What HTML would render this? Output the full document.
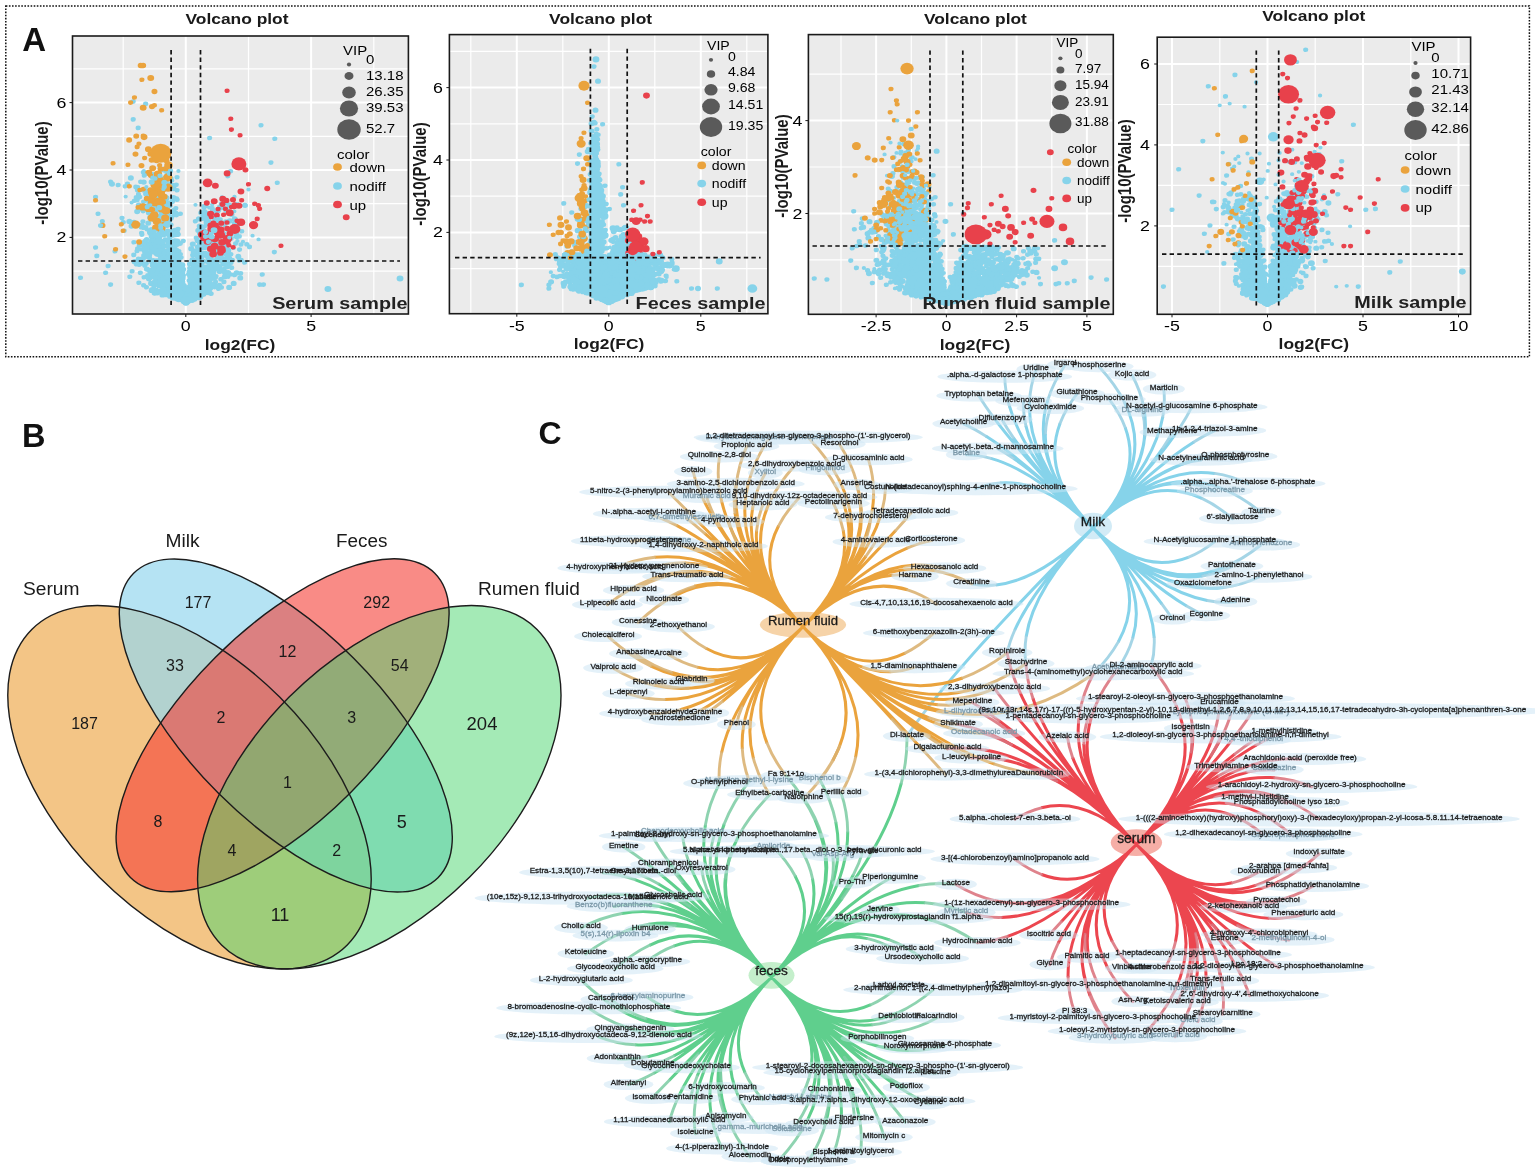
<!DOCTYPE html>
<html lang="en"><head><meta charset="utf-8"><title>Figure</title>
<style>
html,body{margin:0;padding:0;background:#fff}
body{width:1535px;height:1175px;overflow:hidden}
svg{display:block;font-family:"Liberation Sans",Arial,sans-serif}
</style></head><body>
<svg width="1535" height="1175" viewBox="0 0 1535 1175">
<rect width="1535" height="1175" fill="#fff"/>
<rect x="5.8" y="5.9" width="1523.6" height="350.9" fill="none" stroke="#111" stroke-width="1.5" stroke-dasharray="1.6 1.5"/>
<g>
<rect x="72.5" y="36" width="335.9" height="278" fill="#ebebeb"/>
<line x1="123.2" x2="123.2" y1="36" y2="314" stroke="#fff" stroke-width="1.2"/>
<line x1="248.5" x2="248.5" y1="36" y2="314" stroke="#fff" stroke-width="1.2"/>
<line x1="373.8" x2="373.8" y1="36" y2="314" stroke="#fff" stroke-width="1.2"/>
<line x1="72.5" x2="408.4" y1="271.1" y2="271.1" stroke="#fff" stroke-width="1.2"/>
<line x1="72.5" x2="408.4" y1="203.7" y2="203.7" stroke="#fff" stroke-width="1.2"/>
<line x1="72.5" x2="408.4" y1="136.3" y2="136.3" stroke="#fff" stroke-width="1.2"/>
<line x1="72.5" x2="408.4" y1="68.9" y2="68.9" stroke="#fff" stroke-width="1.2"/>
<line x1="185.8" x2="185.8" y1="36" y2="314" stroke="#fff" stroke-width="2"/>
<line x1="311.1" x2="311.1" y1="36" y2="314" stroke="#fff" stroke-width="2"/>
<line x1="72.5" x2="408.4" y1="237.4" y2="237.4" stroke="#fff" stroke-width="2"/>
<line x1="72.5" x2="408.4" y1="170" y2="170" stroke="#fff" stroke-width="2"/>
<line x1="72.5" x2="408.4" y1="102.6" y2="102.6" stroke="#fff" stroke-width="2"/>
<g stroke="#86d3ea" stroke-linecap="round" fill="none" transform="scale(1.13 1)">
<path stroke-width="3.8" d="M137.3 244.2h0M166.8 288h0M150.3 278.3h0M163.1 295.9h0M161.4 293h0M192 259.7h0M152.5 253.1h0M175.3 294.5h0M192.5 211.6h0M134 239.1h0M154.8 283.9h0M180.7 294.4h0M148.7 207.9h0M154.9 294.3h0M159.9 294.5h0M175.3 289.6h0M151.1 282.6h0M153.1 292.1h0M182.8 206.3h0M202.1 244.8h0M159.8 295.3h0M142.3 255.3h0M154 279.4h0M150.9 270.5h0M124.5 227.5h0M157.7 283.9h0M193 255.7h0M151.7 288.9h0M162.8 292.4h0M167.8 290.5h0M171.9 280.6h0M153.3 293.6h0M187.8 269.8h0M171 292.8h0M148.1 215.7h0M129.3 190.2h0M182.8 218.9h0M164 301.1h0M170.4 293h0M168.7 293.8h0M184.4 273.2h0M141.7 237.4h0M160.8 293.4h0M137.5 283.6h0M157.9 171h0M170.3 293.4h0M180.3 276.2h0M153.3 278.6h0M170 291.7h0M189.2 244.1h0M142.3 196.2h0M148.4 280.4h0M166.1 301h0M161.9 292h0M129.4 205.5h0M187.1 264.8h0M180.5 273.5h0M139.9 255.2h0M172.2 296.3h0M173.1 287.3h0M160.4 280.9h0M162.3 299.6h0M172.7 289.7h0M147.7 269.4h0M160.2 268h0M185.9 260.5h0M228.8 239.4h0M210.1 240.9h0M189.8 219.1h0M176.7 283.3h0M151 253.7h0M202 277.1h0M189.9 244.5h0M152.4 180.6h0M141.8 268.3h0M187.1 237.5h0M152.8 292.6h0M182.6 266.5h0M133.3 240.6h0M191.8 264.8h0M173.1 261.9h0M141.7 275.8h0M173.5 295h0M161.9 291.3h0M159.7 296.7h0M133.9 289.2h0M150.7 274.9h0M145.5 240h0M140 247h0M159.9 292.7h0M167.6 296h0M149.9 238.5h0M179.2 267.2h0M165.8 298.5h0M157.6 285.7h0M185.3 207.7h0M196 278.6h0M188.1 207.7h0M177.3 284.7h0M146.9 268.5h0M146.3 266.5h0M168.8 296.9h0M184 259.6h0M160.3 288.4h0M136.6 219.4h0M150.2 246.2h0M127.7 252.4h0M156 295.5h0M166.1 299.5h0M171.3 297.8h0M161.7 298.5h0M152.6 291h0M158.5 272.5h0M181.5 226.3h0M140.9 254.5h0M156.5 287.8h0M148.7 277.6h0M111.2 196.6h0M153.7 253.4h0M144.2 287h0M160.9 293.6h0M162.1 299.1h0M166.5 300.4h0M143.3 264.6h0M168.8 298.7h0M152.7 277.7h0M158.6 242.8h0M166.2 299.9h0M154.8 293.1h0M160 295.5h0M167.8 299.1h0M172.6 280.6h0M152 258.9h0M144.2 266h0M153 259h0M161.1 294.2h0M179.2 278.2h0M185.6 268.9h0M182.4 241.1h0M157.8 250.8h0M142.9 289.8h0M153.1 278.7h0M181.8 293.5h0M149.6 277.8h0M167.4 288.1h0M147.7 199.4h0M207.4 211.3h0M177.8 290h0M175 260.2h0M146 288.3h0M189.5 269.7h0M168.2 281.2h0M198.5 268.2h0M160.4 289.1h0M171.1 287.3h0M147.7 271.8h0M173 282.9h0M177.7 235h0M162.2 298.1h0M179.3 215.4h0M141.1 290.8h0M180 276.4h0M177 272.5h0M143.4 292.9h0M169.8 274.8h0M166.6 296.9h0M172.6 299.8h0M163.3 301.9h0M157.9 287.9h0M173.7 273.5h0M134.8 214.7h0M176.8 279.4h0M205.1 234.2h0M162.9 299h0M152.2 292.7h0M162.5 300.6h0M177.9 281.8h0M157.2 280h0M173.2 280.1h0M161.9 300.7h0M164.2 298.4h0M147.2 279h0M168 298h0M152.9 293.9h0M175.5 279.9h0M166.8 293.2h0M146.4 292.4h0M141.3 167.9h0M138.3 184h0M116.5 202.6h0M127.3 170.8h0M138.2 214.1h0M143.6 213.4h0M122.2 187h0M142.5 179.6h0M140.1 180h0M126.4 228.1h0M135.1 155.4h0M135.9 219h0M128.9 228.1h0M139.6 155.2h0M129.8 229.6h0M132.5 203.4h0M194.2 245.6h0M215 241.7h0M223.5 235.7h0M206.7 248.2h0M196.4 197.1h0M213 191.6h0M173 204.8h0M187.7 204.6h0M207.5 196.7h0M198.9 225.7h0M196.5 208.1h0M202 222.9h0"/>
<path stroke-width="4.6" d="M213 273.4h0M179.4 289.6h0M154.7 285.8h0M213.3 244.5h0M142.3 285.5h0M153.9 261.7h0M162.9 285.4h0M165.5 294.1h0M157.1 286.9h0M161.7 300h0M167.4 298.1h0M171.9 297.3h0M172.9 297.9h0M152.4 279.3h0M185.3 279.4h0M210.4 225h0M135.1 277h0M131.5 198.5h0M151.2 253.5h0M138.4 292.6h0M178.2 295.6h0M165.8 295.8h0M180.2 287.5h0M162 297.8h0M182.2 281.4h0M160.6 296.5h0M136.3 250.1h0M183.9 289.3h0M174.3 283.2h0M151.7 292.6h0M148.9 241.8h0M164.9 301.3h0M135.3 218.3h0M143.1 221.7h0M136.1 288.7h0M173.7 255.6h0M170.7 291.9h0M184.2 217.2h0M165.5 299.6h0M167.7 299.5h0M173.5 292.4h0M153.6 292.8h0M142.5 248.2h0M204.3 254.2h0M177.9 275.8h0M148.4 171.1h0M198.9 237.4h0M167.8 298.9h0M164.1 294.8h0M142.9 197.2h0M168.1 294.1h0M137.1 245.4h0M170.9 284.2h0M128.7 257.1h0M131.8 270h0M155.8 263.7h0M151.4 178.6h0M123.3 245.3h0M170.8 283.1h0M163.8 299.1h0M140.6 197.5h0M178.2 285h0M161.5 299.8h0M178.6 259.3h0M142.3 290.9h0M122.9 282.7h0M143.9 249.1h0M148 245.8h0M161 265h0M173.8 288.6h0M157.8 258.2h0M120.6 197.4h0M164.9 299.2h0M137.5 282.7h0M149.6 218.3h0M192.4 256.8h0M163.7 295.4h0M131.3 211.5h0M153.7 266.7h0M165.8 300.4h0M161.4 295.4h0M145.6 272.1h0M175.6 286.6h0M130.3 245.1h0M164.6 301.1h0M139.2 279.8h0M177.7 296.9h0M120.9 262.3h0M155.9 285.8h0M166.6 298.9h0M145.6 284.4h0M153 277.6h0M180.9 206h0M169.2 288.5h0M162.5 295.4h0M150.5 239.3h0M174.3 278.7h0M175.6 254.1h0M149.4 268.8h0M160.9 292.9h0M181.7 253h0M155.6 295.3h0M138.4 274.2h0M159.5 297h0M160.8 292.3h0M138.2 260.5h0M170.1 259.6h0M141.4 191.6h0M159 290.7h0M136.6 248.1h0M147.4 288.8h0M142.8 275.4h0M158.8 297.1h0M187.2 244.4h0M164.4 302.3h0M142.8 170.2h0M122.5 258.8h0M176.6 293.7h0M173.8 280.9h0M185.2 221.3h0M154.1 293h0M185.4 266.9h0M164.6 299.9h0M130.8 275.2h0M151.1 281.2h0M150.5 293.7h0M164.1 302.6h0M172.6 283.5h0M181.1 211.3h0M156.9 271.4h0M146.1 283.3h0M145.9 284.1h0M187.4 248.2h0M179.7 248.1h0M151.3 280h0M136.1 220h0M170.7 293.3h0M185.5 287.6h0M138.8 265.9h0M142.8 279.4h0M211.8 260.5h0M167.3 294.9h0M168.2 296.3h0M144.6 226.3h0M156.8 199.7h0M186.7 254.6h0M185.5 276.3h0M154 210h0M152.5 287.5h0M173.7 274.7h0M168.1 297.3h0M171.1 264.5h0M156.2 215.1h0M144.6 196.2h0M152.7 287.2h0M140.2 275.7h0M127 190.3h0M184.5 233.7h0M156.6 250.3h0M156.9 240.7h0M171.8 282.6h0M176.3 282.4h0M151.6 278.9h0M162.9 300.5h0M192 251.8h0M172.4 279.7h0M154.4 291.8h0M134.7 251.2h0M160.3 294.5h0M156.8 289.4h0M180.9 279.5h0M191.2 218.6h0M167.4 301h0M143.1 230.2h0M162.4 291.2h0M179.3 284.7h0M159.7 213.8h0M158.6 286.6h0M152.9 267.5h0M207.4 223.6h0M160.2 290.4h0M160.9 297.4h0M138.6 273.6h0M119.7 224.5h0M134 209.4h0M158.3 277.9h0M150.3 283h0M152.3 262.8h0M138 216.6h0M153.7 281h0M157.6 290.3h0M183.1 256.6h0M158.6 291.3h0M158.3 295.8h0M203 257.9h0M162.8 293.9h0M176.9 278.4h0M160.6 294h0M164.4 302.6h0M122.8 209.2h0M199.9 254.3h0M177.2 266.9h0M101.8 251.3h0M144.3 206.4h0M191.2 276.2h0M156.4 274.8h0M155.7 285h0M154.3 280.5h0M150.9 286.9h0M188.1 209.7h0M120.2 186.9h0M158.2 298.1h0M138.6 277.1h0M149.3 271.9h0M162 300.2h0M166.3 299.7h0M186.4 288.4h0M174.8 251.3h0M147.8 174.6h0M157.8 234.6h0M152.4 269.8h0M178.1 264.5h0M169.7 294.8h0M164.3 301.9h0M153.4 284.2h0M143.4 249.1h0M203.9 274.5h0M144 218.3h0M148.8 267.1h0M151.9 268.6h0M163.3 294.1h0M144.1 241.2h0M220.8 246.9h0M168 299.9h0M129.6 287.2h0M153.9 287.3h0M141.3 208.7h0M181.7 287.9h0M174.5 283.3h0M166.5 298.5h0M177.2 274.4h0M157.9 266.8h0M136.9 205.7h0M127.1 285.2h0M161.1 297.7h0M151.2 286.3h0M178.8 271.1h0M162.5 285.8h0M186.9 293.7h0M195.9 203.7h0M158.7 297.7h0M178.4 261h0M173.8 279.3h0M168.8 295.6h0M168.2 290.2h0M141.8 210.8h0M184.8 238h0M150.1 267.7h0M154.3 281.3h0M149 290.8h0M176.5 244h0M189.3 228.8h0M150.2 239.8h0M160 296.9h0M173 293.8h0M141.1 238h0M161.2 266.6h0M163.2 301.8h0M168.2 300.4h0M160.9 286.7h0M135.1 202.3h0M152.6 185h0M190.5 243.2h0M169.5 294.8h0M159.7 272.2h0M162.6 300.5h0M129.1 173.2h0M159.6 297.3h0M183.7 289.1h0M132.8 248.3h0M163.9 302.3h0M202.9 264.6h0M172.8 285.3h0M147.9 220.4h0M170.5 292.5h0M163.4 297.5h0M192.1 248.4h0M170.8 289.1h0M162 297.6h0M159.2 267.7h0M199.8 250.5h0M161.5 294.7h0M195.9 246.6h0M182.8 285.8h0M143.4 233.4h0M152.6 290.2h0M144.8 210.8h0M141.1 281.5h0M109.1 222.2h0M162.9 299h0M169.2 295.3h0M156 184.7h0M136.3 237.9h0M146.1 274.7h0M144.6 231.2h0M179 269.7h0M167.4 280.6h0M199.1 273.5h0M168.8 298.5h0M165.1 299.8h0M153.9 272.5h0M143.8 267.7h0M160.3 289.7h0M181.4 286.7h0M150.2 259.3h0M177 285.4h0M197.6 264.2h0M179.5 283.8h0M164.8 301.1h0M160.3 290.1h0M163.6 300.5h0M180.4 289.9h0M172.2 291.9h0M148.1 245.1h0M189.7 260.6h0M132.7 271.9h0M162.6 298.8h0M153.9 271.9h0M193.3 252.9h0M181.9 247.3h0M141.4 224.8h0M184.4 277h0M163.2 297.4h0M135.4 243.8h0M104.6 185h0M155.6 294.3h0M181.1 247.2h0M164.8 302.4h0M155.4 296.8h0M119 200.8h0M150.7 224.6h0M168.3 272.5h0M184.8 278h0M153.4 272.8h0M147.1 260.6h0M157.2 275.1h0M153.7 289.4h0M164.8 298.7h0M193.3 220.4h0M127.1 201.8h0M127.5 277.2h0M144.1 181h0M182.7 244.6h0M135 217.2h0M126.4 263.2h0M152.2 216.8h0M149.8 221h0M197.2 258.7h0M178.1 285.8h0M172.4 294.5h0M164.2 301.4h0M158.1 289.3h0M151.2 187h0M157.9 267.8h0M163.9 301.3h0M155.6 208.2h0M190 269.2h0M242.8 252.1h0M157.6 229.1h0M121.4 200h0M146.2 288.9h0M140.7 231.9h0M164.3 300.2h0M191.6 238.1h0M146.6 271.4h0M157.5 298.8h0M147.1 260.4h0M164 301.9h0M162.8 298.3h0M131.1 248.1h0M179.1 289.5h0M170 295.2h0M141.3 216.5h0M160.7 277.1h0M160.5 289.8h0M171.1 296h0M180.3 294.4h0M147.6 255.9h0M162.1 296.7h0M138.3 191h0M159.5 298.6h0M159.2 299.3h0M181 244.6h0M127.2 255.6h0M183.2 253.9h0M196.8 206.4h0M154.9 295.2h0M183 290.3h0M195.5 251.5h0M147.2 295h0M178.9 293.8h0M158.3 251.2h0M172.1 283.9h0M175.5 268.4h0M143.1 272.4h0M172.2 282.5h0M155.8 268.3h0M151.9 290.8h0M163 299.3h0M158.7 286.4h0M134.9 177.2h0M142.2 192.5h0M145.4 208.3h0M174.3 289.3h0M179.5 229.7h0M178.8 283h0M171.6 286.4h0M168.2 294.6h0M162 290.3h0M189 273.2h0M169.8 294.1h0M148.4 215.6h0M170.7 287.1h0M156.5 283h0M135.1 174.4h0M173.1 285.1h0M193.8 270.5h0M156.3 277.7h0M142.6 199.4h0M185.5 249.3h0M170.8 274.4h0M160.9 297.1h0M142.3 273.5h0M155.3 287.7h0M188.7 278.1h0M166.8 297.1h0M187.6 271.8h0M160.6 295.5h0M165.1 301.6h0M153.3 292.3h0M170.7 296.2h0M131.3 243.2h0M165.8 299.8h0M160.4 274.2h0M137.8 253.5h0M184.4 258h0M194.4 207.2h0M157.9 299.5h0M146.6 239.6h0M152.2 291.5h0M191.2 248.4h0M147.2 277.5h0M169 278.8h0M171.6 295.6h0M116.9 271.2h0M146.7 245.6h0M143.2 182.9h0M160.8 290.2h0M182.2 269.8h0M179.1 267.9h0M171.3 293.6h0M143.2 267.3h0M141.8 189.6h0M153.8 277.9h0M173.8 296.5h0M150.6 266.2h0M153.5 279.4h0M162.2 297h0M150.6 217.1h0M141.9 240.7h0M190 287.1h0M146.9 261.3h0M162.4 298.9h0M165.7 301.3h0M171.1 277.1h0M182.8 282.6h0M167.6 293h0M129.6 245.6h0M179.4 267.5h0M143.4 200.3h0M147.9 273.8h0M151.9 231.9h0M139.3 210.1h0M157.2 232.8h0M169.7 294.4h0M144.5 281.2h0M138.5 279.1h0M158.5 298.5h0M157.1 283.7h0M166.9 299.1h0M126.9 172.3h0M147.3 289.7h0M149 288.7h0M188.4 265.2h0M184.1 271.5h0M182.7 223.5h0M154.9 298.2h0M214 231.3h0M155.3 273h0M176.2 241.3h0M161.9 299.8h0M162.1 289.5h0M179.5 278.6h0M143.3 276.4h0M179.9 253.5h0M160.4 294.2h0M158.8 272.8h0M164.7 301.8h0M185.9 241.2h0M205.3 214.8h0M168.1 299.3h0M142.9 258.1h0M151.4 224.8h0M173.2 293.6h0M145.4 280.4h0M160.5 281.8h0M134.4 193.1h0M178.2 274.9h0M153.7 284.3h0M155.1 278.7h0M168.5 283.9h0M148.3 271.6h0M145.2 268.2h0M168.9 292.8h0M167.7 300.3h0M163 299.2h0M192.9 211.3h0M141.3 285.5h0M165.6 299.7h0M155.4 285.5h0M169.7 292.8h0M172.3 289h0M138.7 273.2h0M159.7 298.3h0M134.6 276.8h0M152.5 266.1h0M202.1 230.2h0M157.4 285.7h0M177.9 279.8h0M183.7 291.4h0M162.7 295.9h0M193.4 288.8h0M182.8 223.5h0M169.4 294.6h0M146.7 262.6h0M162.6 293.5h0M151.7 281.9h0M162.5 269.4h0M171.7 291.9h0M179.3 230.1h0M153.9 213.1h0M188.3 284.5h0M110.8 186.3h0M142.3 256.7h0M151.6 270.4h0M159.2 284.8h0M164.2 301.8h0M172.6 291h0M201.4 251.9h0M174.7 246.8h0M134.1 215.7h0M127.5 227.6h0M189.5 229.1h0M180 284.4h0M164.4 301.4h0M198 233.6h0M155.8 260h0M171.8 269.2h0M185.7 257h0M149.9 290.2h0M150.1 256.9h0M154.8 257.7h0M136.8 187.7h0M162.2 291.6h0M165 299.7h0M143.3 271.7h0M183.1 270.8h0M155.3 289.8h0M163.1 296.9h0M164.9 298.8h0M167.4 296.9h0M143.2 254h0M177.2 292.2h0M153.2 292.8h0M153.3 235.4h0M159.1 286h0M180.4 266.6h0M159.6 254.2h0M160.2 291.6h0M150.3 256h0M141.3 246.6h0M170.1 293.4h0M161.1 299.3h0M140.1 238.7h0M167.9 295h0M184.5 290.5h0M159 288.8h0M180.5 207.4h0M142.8 271.4h0M153.3 271.7h0M188.6 273.6h0M154.9 283.3h0M135.7 260.4h0M207.6 274.9h0M90.6 221.3h0M143.7 215.6h0M149.6 246.3h0M183.7 243.8h0M154.8 284.3h0M186.2 266.1h0M135.8 239.3h0M167.9 268.2h0M153.1 264.5h0M156.4 289.1h0M169.4 282.8h0M213.4 260h0M168.1 296h0M147.1 207.4h0M162.9 294.5h0M160.3 257.5h0M162.1 295.5h0M164.4 302.5h0M146.8 292.2h0M136.3 239.6h0M154.9 249h0M133.5 243.1h0M150.3 266.6h0M157.9 287.5h0M159.9 297.7h0M148.1 215.6h0M155.1 255.8h0M127.3 247.6h0M176.6 233.4h0M161.4 293h0M173.5 290.4h0M167.3 298.1h0M196 287.5h0M167 296.9h0M164 301.8h0M162.5 294.4h0M162 299.7h0M192 226.3h0M156.7 177.2h0M142.8 267.2h0M159.2 275.7h0M170.8 264.1h0M150.2 276.5h0M167.3 297.1h0M194.9 219.6h0M159.6 299.7h0M179.5 261.9h0M155.4 292.5h0M154.8 272.1h0M165.2 299.6h0M153.8 261.3h0M192.5 258.1h0M157.2 261.2h0M135.7 202.3h0M179.5 277.8h0M181.4 245.8h0M161.5 278.8h0M168.4 296.7h0M162.8 300.7h0M158.4 271.4h0M177.5 260.8h0M161.1 294.1h0M184.4 268h0M173.5 279.5h0M157 259.5h0M158.3 288h0M141.8 263.2h0M155.8 235h0M174.8 268.6h0M168 288.3h0M152.3 270.7h0M153.8 292.5h0M181.2 290.6h0M145.8 177.8h0M170.2 269.9h0M183.2 285.1h0M153.5 286.8h0M163 298.6h0M156.1 293.6h0M190.6 285.2h0M162.1 276.2h0M164.2 300.8h0M143.2 271.3h0M149.9 285.2h0M198.2 281.9h0M177.6 283.8h0M159.6 282.6h0M157.4 276.9h0M193 239h0M160.8 284h0M151.9 247.7h0M146.3 196.5h0M162 300.9h0M162.3 297.3h0M136.1 186.9h0M200.8 267.2h0M130.6 196.2h0M169.1 298.7h0M185.9 269.1h0M175.8 290.7h0M141 265.1h0M127.6 256.9h0M199.2 208.9h0M147.4 202.9h0M179.6 291.8h0M145.7 267.7h0M172.5 296.2h0M162.8 300.1h0M211.8 236.4h0M160.1 293.1h0M201 260h0M172.6 291.7h0M162.6 295.4h0M178.7 231.9h0M200.9 256h0M200.7 272.7h0M167.4 271.7h0M163.2 295h0M166.6 299.8h0M194.5 271.6h0M173.7 237.7h0M152.5 281.3h0M150.3 261.3h0M184.8 293h0M161 291.3h0M205.6 260h0M143.2 276.6h0M177.3 273.2h0M151.4 273.3h0M151.2 292h0M170.3 289.3h0M196.8 260.4h0M157.7 292.8h0M158.4 279.5h0M146.3 265.9h0M170.2 295.8h0M151.5 290.5h0M128.1 265.5h0M139.4 225.8h0M153.9 296.2h0M135.8 270.4h0M151.2 243.1h0M161.7 288.7h0M178 232.8h0M153 291.1h0M144.9 295.1h0M164.8 299.9h0M112.8 183.7h0M153.8 265.4h0M152.7 268.7h0M147.8 283.4h0M160.8 287.9h0M155.8 263.7h0M148.6 183.3h0M160.2 291h0M200.5 273.7h0M164.9 301.6h0M188.4 231.9h0M181.4 217.4h0M188.5 278.1h0M142.1 261.1h0M204.9 267.5h0M170 285h0M144.7 281.9h0M168.8 299.9h0M150.4 273.1h0M143.3 191.1h0M161.7 287.6h0M152.5 283.1h0M158.4 296.8h0M175.1 230.5h0M174.1 296h0M158.8 298.9h0M157.3 288h0M142 284h0M168.4 293.3h0M158.8 296h0M162.9 298.8h0M163.2 298h0M176.1 297.2h0M170.8 275.6h0M184.7 279.8h0M182 247.7h0M176.4 297.9h0M148.1 287.9h0M170.9 289.4h0M161.6 296.8h0M133.9 236.4h0M149 215.4h0M144.1 292h0M197.3 269.5h0M162.8 290.9h0M193.2 244.8h0M178.4 294.3h0M153.8 276.4h0M182.2 278.4h0M152.5 270h0M194.8 234h0M129.5 263.5h0M197.1 253.1h0M156.7 190.2h0M164 298.6h0M162.5 299.3h0M159.6 264.3h0M177 273.9h0M173.2 261.5h0M165.7 301.3h0M137.4 220.6h0M142.8 187.5h0M184.6 284.4h0M132 276.7h0M139.1 177.7h0M150.8 264.1h0M145.4 179.5h0M166.1 300.1h0M162 295.2h0M122.6 194.3h0M173.6 292.6h0M186.2 270.8h0M132.8 271.7h0M187 260.4h0M145.6 290.5h0M192.2 216.5h0M155.5 268.5h0M137.9 274.1h0M172.3 284.9h0M177.2 262.4h0M162.7 292.7h0M180.7 283.7h0M201.1 210.3h0M164.1 301.9h0M164.8 301.3h0M152.5 297.6h0M154.1 286.8h0M186.6 228.4h0M157.9 287.7h0M132.6 258.7h0M157.4 265h0M147.4 255.9h0M161.8 272h0M175.3 273h0M143.4 295.2h0M161 269.8h0M162.4 294.1h0M172.2 273.2h0M176.1 261.1h0M141.5 265.2h0M181.9 286.5h0M169.4 284.7h0M150.8 265.8h0M169.1 297.9h0M125.3 233.1h0M175.9 289.3h0M139.5 269.8h0M133.8 246.1h0M188.9 276.7h0M152.1 270.4h0M165.1 299.8h0M151.2 242.6h0M150.3 295.3h0M157.9 290.9h0M164.4 302.8h0M133.3 197.9h0M147.5 255.7h0M157.5 290.6h0M174.1 279.2h0M159 273.2h0M144.6 287.5h0M153.2 282.8h0M138.6 254.3h0M168.1 291.4h0M159 268.1h0M133.2 229.7h0M179.6 276.7h0M148.8 253.9h0M184.4 246.6h0M148.8 270.5h0M162.5 298.7h0M156.9 295.7h0M188.1 223.7h0M124.5 181.8h0M173.7 253.9h0M179.2 282h0M153.8 281.5h0M164 301.3h0M162.9 293.2h0M153.7 249.7h0M126.7 211.1h0M132.5 217.7h0M154.2 278.1h0M173 289.3h0M152.4 281.8h0M151.9 288.1h0M147.5 187.3h0M166 298.1h0M180 226.9h0M173.1 250.6h0M160.3 297.1h0M178.2 280.5h0M171.9 298.3h0M170.2 295.7h0M187.4 268.4h0M126.5 221.6h0M191.2 262h0M191 250.9h0M179.1 226.5h0M155 280.2h0M171 288.3h0M159.6 257.8h0M169.3 296.5h0M178.6 266.3h0M159.1 289.9h0M156.8 295.5h0M135.7 245.3h0M142.1 278.2h0M146.9 280.3h0M161.4 297.1h0M167.9 300h0M162.3 275.4h0M165.6 301h0M174.9 267.4h0M160.1 284.5h0M163.5 298h0M153.8 275.8h0M174.9 255.5h0M165 300.3h0M205.1 267.8h0M159 292h0M194.3 246.8h0M158 274.6h0M161.6 300h0M162.5 298.4h0M138.9 195.6h0M125.3 249.2h0M171.9 293.7h0M134.5 270h0M154.9 213.8h0M159.1 276.9h0M161.5 298h0M167.4 295.1h0M128.4 254.1h0M158.1 292.7h0M167.2 300.4h0M178.7 256.4h0M178.4 235.9h0M147.3 263.3h0M163.8 298.3h0M176.2 229.4h0M140 179.8h0M189.9 218.2h0M134.9 265.6h0M174.3 282.3h0M165 299h0M141.2 206.9h0M167.2 297.2h0M183.8 271.5h0M127.6 250.2h0M159.6 243.6h0M151.5 281.9h0M184.7 280.5h0M190 212h0M155.8 231.4h0M143.1 200.8h0M168.3 295.3h0M194.1 258.5h0M147.9 250.4h0M158.2 296.4h0M135.1 217.8h0M200 259.2h0M131.4 213h0M186.5 258.6h0M157.9 283.8h0M190.3 229.1h0M125.3 258.8h0M173.3 284.4h0M204.5 262.7h0M200.4 246.4h0M162.2 287.1h0M209.6 233.8h0M161.8 279.3h0M180.6 255.2h0M194.7 258.9h0M135.9 233.6h0M161.1 300.1h0M151.2 274.5h0M164.4 302.1h0M172.9 295.4h0M130 200.1h0M163.4 301.4h0M167.7 264h0M158.6 292.4h0M158.1 295.8h0M153.3 288.2h0M153.5 294.3h0M162.7 301.2h0M161 289h0M164.1 302h0M141.2 278.8h0M190.8 282.1h0M149.3 280.3h0M190.8 212.6h0M148.1 225.7h0M145.9 275.9h0M154 279.6h0M152 272.5h0M176.6 275.4h0M196.3 249.5h0M151.8 267.8h0M168.3 293.9h0M161.8 286.8h0M170.8 291.9h0M160 293.6h0M158.7 290h0M181.3 279.6h0M167.5 298.9h0M145.3 290.2h0M157.2 241.1h0M172.9 221.2h0M152.3 286.2h0M170.9 296.3h0M132.3 256h0M183.8 223.4h0M149.8 272.3h0M189 271.2h0M168.5 286.2h0M163.2 300h0M149.5 293.9h0M176.1 290.7h0M181.4 289.9h0M178 243.5h0M142.9 246.6h0M170.7 292.9h0M165.3 299.6h0M169.1 288.3h0M163.1 300.7h0M184 281.7h0M185.9 264.2h0M138.2 290.1h0M166.9 274.2h0M155.1 292.5h0M108 218h0M155.4 256.4h0M146.1 289.2h0M174.4 288h0M159.2 290.9h0M161.5 299h0M196 261.5h0M167.4 296.9h0M154.8 272.1h0M170.7 292.9h0M156.8 285.1h0M146 271.4h0M138.6 266.7h0M125.6 234.6h0M188.9 269h0M160.5 292.7h0M202.6 262.8h0M133.1 277.7h0M162.8 288.1h0M171 298.5h0M157 291.6h0M175.8 293.8h0M167.8 298.7h0M138.9 252.1h0M125.8 244.8h0M162.2 286h0M157.2 287.7h0M143.5 222.7h0M212 249.6h0M190.1 244.8h0M191.1 223.5h0M162.9 297h0M132 190.8h0M164.7 302.4h0M166.6 296.3h0M174.2 291.4h0M157.7 265.6h0M172.8 288.3h0M157 297.9h0M146.5 208.2h0M129.9 243.2h0M171.9 286.6h0M174.2 295.5h0M199.8 221.5h0M174.7 286.4h0M186.3 283.6h0M145.3 207.8h0M174.4 296.5h0M149.4 235.5h0M163.9 302.3h0M139.4 268h0M166.4 296.9h0M161.6 298h0M149.3 285.6h0M155.2 279.6h0M157.7 262.9h0M146.8 273.8h0M158.5 295.3h0M150.1 271.7h0M155.1 297.6h0M175.9 283.3h0M153.9 280.7h0M171.4 273.6h0M159.2 278.5h0M185.9 280.1h0M176.5 284.9h0M136.6 262.6h0M185.5 248.4h0M186.7 235.9h0M161.3 300.3h0M162.6 293.6h0M160.9 296.6h0M175.8 272h0M143.1 284.2h0M142.3 274.8h0M152.6 201.7h0M172.5 291h0M152.6 270.5h0M161.9 296.6h0M174.4 291.1h0M150.5 287.6h0M177.9 279.5h0M153.2 230.9h0M164.5 302h0M149.1 259h0M168.2 292.8h0M168.7 295.1h0M150.4 259.9h0M163.4 295.9h0M167.2 300.7h0M156.3 257.8h0M129.8 239.2h0M183 277.9h0M159.7 280.2h0M187.6 252.2h0M156.9 292.9h0M150.1 295.4h0M128.1 242.7h0M157.9 290.5h0M150.5 202.9h0M149.5 274.3h0M172.6 291h0M154.9 273.9h0M121.3 251h0M153 287.5h0M148.6 265.7h0M118.4 254.9h0M199.9 242.6h0M172.6 291.2h0M152.1 261h0M154.5 283.6h0M155 291.2h0M168.1 300.1h0M186.3 263h0M158.7 295.6h0M163.5 302.6h0M154 246.8h0M159.1 281.6h0M109.9 230.7h0M136.1 202.5h0M180.4 261.4h0M175.5 230.1h0M195.4 279.2h0M160.8 294.4h0M172.3 292.1h0M135.1 269.7h0M121.8 248.6h0M167.2 296.4h0M154 292.1h0M176.4 290.2h0M128.9 194h0M197.8 245.7h0M124.2 272.7h0M144.9 235.2h0M160.7 296.7h0M196.8 232.6h0M163 294.4h0M143 222.4h0M172.6 291.1h0M179.1 275.6h0M162 298.3h0M171.5 294.8h0M161.5 287.3h0M118.5 242.2h0M129.1 227.3h0M180.8 273.6h0M161.8 298.4h0M160 293.8h0M171.7 290.7h0M162.7 300.2h0M135.2 190.1h0M171.1 254.8h0M199.8 246h0M149.5 279.7h0M194.3 249.6h0M194.8 220.4h0M166.4 300.2h0M166.5 299.7h0M155.1 285.1h0M175.4 247.1h0M168.5 291.9h0M218.4 244.2h0M208.5 243.6h0M141.4 274.3h0M153 256.3h0M182.1 282.2h0M173.7 273.3h0M153.5 279h0M153.8 289.6h0M146.4 261h0M175.9 272.5h0M140.6 285.9h0M134.1 229.4h0M142.6 282.8h0M159.7 293.5h0M171.4 296.6h0M186.4 225.3h0M166.6 292h0M156.2 198.6h0M150.2 296.4h0M179.2 275.2h0M159.1 282.5h0M156.5 289.7h0M192 264.6h0M158 274.3h0M158.5 293.3h0M162.4 294.9h0M180.8 231h0M172.9 272.1h0M154.8 287.8h0M179.2 271h0M154.5 274.6h0M154.1 264.1h0M182 272.9h0M136.7 188.1h0M153.7 231.7h0M145.9 198h0M148.9 204.6h0M131.2 194.2h0M123.7 197.1h0M140.6 253.1h0M132 203.1h0M143.1 168.8h0M200.4 203.1h0M201.6 176.1h0M204.1 171.2h0M209.8 204.2h0M162.2 241h0"/>
<path stroke-width="5.3" d="M143.4 276.3h0M174.4 288.2h0M168.8 277.2h0M160.6 296.8h0M180.5 213.4h0M143.3 267.3h0M136 234.5h0M165.1 299h0M177.8 242.3h0M176.8 297h0M178.3 285.7h0M183.5 279.1h0M159.8 279.2h0M160.2 280.1h0M163.4 300.2h0M148.2 251.1h0M178.1 212.8h0M164.7 301.8h0M185.1 243.9h0M188.2 261.2h0M154.3 247.6h0M159.7 297.8h0M170.2 294.1h0M168.8 280.9h0M187.8 277.9h0M182.8 275.5h0M119.1 261.7h0M154.2 280h0M153.8 289.4h0M126.2 259.1h0M164 300.8h0M177.7 267.5h0M188.1 270.4h0M164.4 302.1h0M207.7 218.9h0M136.7 243.5h0M149.9 250.6h0M163.9 298.3h0M166.4 291.6h0M167.4 293.4h0M166.3 301.5h0M149.2 279.5h0M180.3 288.6h0M158.5 298.8h0M195.5 256.5h0M161.6 296.8h0M155.1 284.1h0M157.9 259.7h0M150.6 267.8h0M172.2 294.7h0M157.7 295.3h0M146.5 267.3h0M162.4 295.6h0M148.6 213.8h0M190.2 277.5h0M191.5 231.9h0M168.3 295.8h0M182.8 222.2h0M169.1 297.6h0M121 263.9h0M162.7 298.9h0M162.6 286.2h0M204.2 238.2h0M206.8 283.4h0M174.9 277.1h0M187.8 228.4h0M194.2 285.3h0M151 268.5h0M146.1 280.4h0M203.3 220.8h0M163.8 301.3h0M150 249.2h0M163.7 301h0M158.3 293.8h0M136.4 285.2h0M169.5 297.5h0M179.1 288h0M175.4 292h0M151.8 263.1h0M157.8 287.9h0M134.2 290.4h0M185.4 280.5h0M115.8 178h0M172.9 298.3h0M156 290.5h0M171.4 266.8h0M153.5 197.6h0M171.6 295.6h0M200.4 210.5h0M155.2 296.9h0M146.7 283.4h0M161.2 289.3h0M181.3 282h0M151.5 294.9h0M216.8 205.3h0M167.5 298.4h0M140.7 245.9h0M183.6 241.5h0M160.7 298.4h0M139.3 236.1h0M157 261h0M158.5 263.9h0M153.1 297.9h0M209.4 272.9h0M158.5 285.6h0M130 269.1h0M168.7 296.3h0M137.4 251.4h0M156.4 272.7h0M163.9 298.1h0M164.8 302.3h0M169.8 296h0M146.1 170.3h0M156.1 255.1h0M162.3 288.5h0M159.7 298.7h0M164.8 301.9h0M159.8 297.6h0M157.1 299h0M188.9 223h0M163.4 296.9h0M143.1 207.3h0M166.8 297.7h0M184.6 276.7h0M139.4 247.9h0M156.1 254h0M181 288.2h0M152.7 290.8h0M142.5 202.3h0M176.9 290.6h0M135.7 263.4h0M136.6 283.3h0M177.3 292.2h0M149.8 284.1h0M158.1 290.7h0M179.9 281.7h0M132.4 253.8h0M181.8 285.3h0M170.7 260.2h0M163.3 300.1h0M160 289.6h0M140 253.7h0M172.7 288.9h0M171.4 288.3h0M175.5 286.4h0M212.6 277.9h0M161.1 295.9h0M151.2 285.7h0M137.9 277.7h0M156.9 291.5h0M175.6 260.6h0M141.7 250.6h0M165.6 299.1h0M174.5 292.2h0M159.7 276.7h0M160.4 298.5h0M148.3 265.7h0M148.5 270.6h0M163 297.5h0M181 285.1h0M139.8 205.7h0M176 218.8h0M157.3 295.1h0M171.4 292.3h0M163.8 301h0M154.6 295.1h0M121.4 211.5h0M173.6 271.2h0M152.5 262.5h0M116.4 226.1h0M167.1 287.5h0M176.2 250.8h0M153.5 282.9h0M183.8 291.3h0M209.3 236.5h0M148.9 276.1h0M149.6 286.4h0M134.7 261.9h0M138.1 208.9h0M165.5 298.3h0M150.3 294.6h0M153.2 263.7h0M203 205.2h0M192.1 253.1h0M210.9 256.5h0M133.3 252.1h0M162 296.6h0M161.1 297.4h0M185.1 266.5h0M158.1 285.1h0M158.5 291.1h0M158.5 287.5h0M164.2 302.8h0M164.9 300.6h0M136.8 293.1h0M148.7 263.4h0M154.3 289.7h0M173 275.4h0M144.5 260.6h0M174.9 285.1h0M154.9 286.2h0M179.5 254h0M188 276.6h0M156.1 294h0M142.4 285.9h0M131.2 252.9h0M170.3 261h0M139.8 240.9h0M128.6 250.4h0M145.3 288.2h0M160.1 288.3h0M137.3 204.4h0M184.2 262h0M130 193.8h0M201.9 272.7h0M151.6 290.1h0M155.4 213.1h0M164.2 301.7h0M149.6 283.7h0M167.9 298h0M179.8 277.9h0M166.5 299.3h0M162.7 298.9h0M129 240.9h0M160.8 293.7h0M166.6 298.9h0M169.2 248.7h0M166.5 296.6h0M152.3 267.2h0M168.9 295.9h0M127.2 182.1h0M143.9 272.3h0M148.5 279.5h0M177.3 283h0M131.8 278.8h0M181.4 281.8h0M174.4 272.3h0M181.3 284h0M188.9 262h0M194.7 207.1h0M169.3 295.2h0M155.9 289h0M142.1 196.5h0M143.8 242.9h0M122 190.1h0M168.1 299.8h0M188.2 285.1h0M134 200.7h0M154.2 268.8h0M144.2 255.2h0M170.9 255.1h0M133.7 283.4h0M170.4 289.3h0M156.2 295h0M167 299.4h0M153.7 284.2h0M166.7 299.2h0M185.3 223.6h0M180.1 254.3h0M140.7 248.5h0M177.3 243.4h0M179.5 282.6h0M135.2 270h0M182 213h0M179.2 218.3h0M129.9 246h0M199 276.7h0M162.6 301.6h0M157.8 296.8h0M158.8 283.9h0M139.9 235.4h0M170.8 290.7h0M152.5 262.3h0M202.3 254h0M137.9 182.4h0M131.2 223.1h0M200.9 245.4h0M185.6 257.1h0M159.9 290.5h0M164.1 301.5h0M167.1 295.4h0M164.4 299.9h0M180.4 285.3h0M150.2 205.5h0M156.2 289.5h0M141.9 250.8h0M174.9 240.4h0M172.7 264.8h0M155.8 271.6h0M159.6 288.3h0M150.9 280.1h0M154.3 297.6h0M156.7 244.3h0M161.4 282h0M202 250.4h0M141.3 243.5h0M167.1 298h0M163 300.8h0M164 301.6h0M162.1 289.9h0M151.9 245.2h0M154.7 270.3h0M175.4 257.4h0M160.6 294.7h0M142.1 258.8h0M162 298.9h0M194 266.5h0M140.6 244.9h0M151.1 253h0M138.8 235.2h0M170.6 244.1h0M208.7 220.9h0M173.8 286.7h0M168.3 298.8h0M177.3 288.3h0M175.2 268.7h0M145 252.5h0M183.3 273.8h0M144.3 263.7h0M184.8 285.6h0M167.4 295.4h0M165.6 299.1h0M160 294.7h0M127.9 242.1h0M188 228.3h0M161.4 265h0M142.4 242.7h0M160.6 285.9h0M166.2 296.8h0M156.3 275.8h0M174.8 293.5h0M171.6 296.1h0M151.6 287.3h0M202.8 287.4h0M198.5 271.5h0M169.8 287.1h0M159 272.4h0M171.4 252.7h0M193.2 209.9h0M177.2 269.5h0M193.8 226.3h0M147.4 197.9h0M172 294h0M143.2 286.1h0M160.9 298.3h0M164.1 299.9h0M167.4 297.1h0M176.4 294.4h0M164.2 301.8h0M99.1 184h0M189.7 262.2h0M160.2 294.6h0M164.7 302.4h0M168.9 292.8h0M146.1 274.3h0M191.5 261h0M159.2 293.3h0M191.2 230.1h0M161.3 287.6h0M165.8 297.1h0M188.7 239.7h0M146.7 220.9h0M165.8 297.7h0M159.3 298.8h0M147.5 279.3h0M166 292.3h0M159.2 278.7h0M146.6 279.5h0M165.2 302.1h0M145.9 289.2h0M184.7 276.6h0M161.8 298.2h0M175.1 279.9h0M158.1 299.5h0M137.1 284.4h0M159.4 288.5h0M163.9 301.8h0M145 289.2h0M174.2 285.4h0M118.5 222.5h0M171.8 291.8h0M159.8 292.4h0M177 230.2h0M135.4 269.5h0M159.9 294.2h0M125.4 225.3h0M122.8 205.1h0M160.6 294.6h0M166.5 298.4h0M144.7 279.3h0M158.6 298.2h0M142.8 276.3h0M162.3 295.6h0M181.6 214.8h0M185.6 285.3h0M155.6 285.3h0M153.2 260.5h0M151.1 218.2h0M162.3 293.4h0M140.4 237.1h0M147.5 265.8h0M146.4 258.2h0M153.6 188.5h0M194.2 271.2h0M130 246.7h0M159.4 293.1h0M154.8 241.8h0M182.6 290.3h0M123.1 264.3h0M155.5 280.9h0M160.4 296.4h0M181 236.6h0M192.5 268.5h0M164.7 302.2h0M174 276.8h0M157 296.2h0M158.1 293.2h0M132.7 232h0M159.5 281.5h0M151.8 261.9h0"/>
<path stroke-width="6.1" d="M151.5 282.2h0M172 288.2h0M143.1 215.3h0M157.9 297.5h0M152.7 260.8h0M161.2 278.1h0M164.7 302.7h0M158.7 293.9h0M157.9 281.6h0"/>
</g>
<g stroke="#eaa33d" stroke-linecap="round" fill="none" transform="scale(1.13 1)">
<path stroke-width="4.6" d="M148.3 211.3h0M123.8 190h0M142.9 191.3h0M128 158h0M141.3 165.2h0M145.1 189.7h0M142.6 205h0M126.9 189.1h0M142.3 198.2h0M133.2 175.6h0M142.6 203.7h0M133.1 192.2h0M144.2 159.4h0M121.4 146.9h0M123 143.8h0M126.8 135.7h0M143.1 110.3h0M107.4 224.3h0M114.5 186.3h0M110.6 256.6h0M122.2 207.4h0M113.3 164.8h0M92.7 236.2h0"/>
<path stroke-width="5.3" d="M138.5 160.6h0M134.2 160h0M134.7 209.6h0M144.2 189.8h0M147.4 160.8h0M140.6 206.3h0M138.9 200.3h0M148.3 210.6h0M140.6 158.4h0M133.1 189.8h0M145.1 224.2h0M141.7 178.8h0M144.3 201.9h0M142.1 169h0M146.6 168.7h0M136.4 194.1h0M129.9 198.5h0M139.3 153.8h0M136.4 154.4h0M119.9 154.1h0M137.1 158.4h0M125.2 165.6h0M114.3 140h0M120.6 136.1h0M133.1 153.9h0M90.7 225.4h0M123.1 242h0"/>
<path stroke-width="6.1" d="M135.1 168.2h0M138.8 180.6h0M145.3 196.8h0M134.6 197.7h0M131.3 149.3h0M127.5 137.1h0M131.6 172.9h0"/>
<path stroke-width="6.5" d="M137.8 227.8h0M140.2 183.7h0M140 176.4h0"/>
<path stroke-width="6.6" d="M136.6 203h0"/>
<path stroke-width="7" d="M142.7 193.9h0"/>
<path stroke-width="7.2" d="M146.2 218h0M143.5 182h0M142 201.4h0M126.4 206.9h0M142.4 184.3h0M138.8 190h0"/>
<path stroke-width="7.4" d="M139 202.6h0M131.5 208.4h0M134.3 217.9h0M139.8 174.2h0M143.2 208.7h0"/>
<path stroke-width="7.6" d="M142 192.9h0M142.8 228.6h0M149.1 165.2h0M136.5 215.1h0M139 221.5h0"/>
<path stroke-width="7.8" d="M146.8 210.8h0M134.8 202h0"/>
<path stroke-width="8.2" d="M140.3 203.2h0M137.2 184.9h0M148.7 187.6h0M148.5 177.3h0M120.1 224.6h0"/>
<path stroke-width="8.4" d="M135.7 194.2h0"/>
</g>
<g stroke="#e8414b" stroke-linecap="round" fill="none" transform="scale(1.13 1)">
<path stroke-width="4.6" d="M197.9 214.7h0M200.9 222.5h0M191.5 225h0M180.4 232h0M206.4 247.3h0M187 216.9h0M209.8 220.8h0M202.5 245.2h0M189.2 247.6h0M189.6 246.1h0M193 209h0M199.5 208.7h0M204.9 207h0M213.9 200.3h0M187.1 213.9h0M207.5 207h0"/>
<path stroke-width="5.3" d="M201.1 228.5h0M197.2 250.8h0M188.6 250.9h0M201.3 242.2h0M183 203h0M179.8 238.4h0M195.8 223.2h0M192.8 234.8h0M191.9 215.1h0M192.1 229.6h0M182.3 232.5h0M199.4 241.2h0M188.8 223.2h0M207.6 204.8h0M200.4 200.4h0M206.2 199.7h0M196.9 204.3h0M217.2 169.8h0"/>
<path stroke-width="6.1" d="M192.3 232.7h0M186.2 248.9h0M186.3 213.9h0M195.1 252.8h0M203.5 233.6h0M190.8 239.1h0M189.5 239.1h0M189.6 201.2h0M186.5 229h0M190.6 185.7h0M197.1 198.9h0M211.5 205.7h0M213.2 191.5h0"/>
<path stroke-width="6.6" d="M196.4 242.3h0M186.8 225.8h0M195.5 229.8h0"/>
<path stroke-width="6.8" d="M188.6 254h0M191.8 228.4h0"/>
<path stroke-width="7" d="M203.3 212.7h0M189.9 246.2h0M183.6 241.3h0"/>
<path stroke-width="7.2" d="M178.8 234.7h0"/>
<path stroke-width="7.6" d="M195.9 249h0"/>
<path stroke-width="7.8" d="M195.4 234.9h0"/>
<path stroke-width="8.2" d="M224.4 225.1h0M201.4 238.8h0"/>
</g>
<g stroke="#86d3ea" stroke-linecap="round" fill="none" transform="scale(1.13 1)">
<path stroke-width="3.8" d="M149.1 204.1h0M148.9 283h0M158.6 269.7h0M129.5 186.9h0M149.4 270.7h0M155.9 279.4h0M144.6 189.2h0M164 299.8h0M158.7 295.7h0M168.2 293.2h0M160.1 296.2h0M133 205.1h0M168 288.8h0M165.5 297.7h0M134.9 177.4h0M185.1 274.7h0M170.6 281.2h0M166.5 289.8h0M140.1 264.5h0M192.7 218.9h0M219.9 189.5h0M202.9 237.6h0"/>
<path stroke-width="4.6" d="M127.9 242.7h0M154 287.9h0M144.5 260.1h0M177.7 264.8h0M160.9 267.9h0M132.7 233.2h0M159.6 289.7h0M164.8 302.1h0M199.2 264.1h0M166.8 300.2h0M154.9 288.5h0M155.7 268.2h0M179.9 288.9h0M154.7 282.8h0M150 173.5h0M167.5 295.5h0M146.6 224.6h0M148.5 241.2h0M142.3 266.1h0M136.4 231.6h0M175 260.6h0M145.4 186.9h0M184.1 273.3h0M114.9 276.7h0M197.8 261.5h0M154.4 285.2h0M153.3 289.3h0M142.3 225.6h0M148.4 230.7h0M163.7 300.1h0M176.3 281h0M160.1 296.3h0M163.8 301.4h0M165.7 299.6h0M135.5 240.3h0M165.5 293.1h0M137.4 246h0M181.9 232h0M156 250.4h0M152.6 200.6h0M161.7 298.9h0M159.9 285.7h0M141.6 175.8h0M163.3 298.7h0M153.8 276.9h0M168.1 299.7h0M140.9 267.8h0M134.3 261.2h0M166.3 294.5h0M184.5 241.7h0M147.4 223.5h0M142.3 227.8h0M160.9 292.9h0M142 275.2h0M161.5 299.1h0M146.5 277.3h0M177.8 273.4h0M165.7 296.5h0M162.5 296.4h0M150.1 282.4h0M174.9 250.7h0M200.9 255.4h0M160.6 297.3h0M144 242.4h0M127.7 175.4h0M150.8 287.2h0M165.7 297h0M130.3 207h0M180.2 277.2h0M164.3 302.5h0M140 246.6h0M158.2 270.8h0M182.8 270.6h0M182.8 273h0M157.5 288.6h0M173.4 286.5h0M159.6 297h0M147.6 233.8h0M149.2 260.6h0M181.9 236.6h0M151 171.1h0M153.5 278.7h0M137.2 178.5h0M166.4 299.7h0M162.6 296.2h0M167.2 295h0M173.3 286.2h0M148.4 276.5h0M185.5 291.9h0M156.2 287.1h0M149 288.4h0M164.4 302.8h0M149.2 283.4h0M145.2 253.1h0M216.5 262.5h0M175.9 296.5h0"/>
<path stroke-width="5.3" d="M170 300.3h0M187.4 236.8h0M114.5 221.5h0M134.2 182h0M181.4 276.8h0M168.4 276h0M152.5 294h0M143.3 231.9h0M176.7 226.1h0M140.9 207.7h0M173.5 291.3h0M166.6 290.5h0M178.5 278.8h0M148.2 284.6h0M158.1 282.9h0M139.3 292.8h0M166.3 298.7h0M155 230.5h0M154.7 240.9h0M173.5 272.2h0M137.2 281.4h0M156 296.4h0M144.6 289.2h0M145.4 182.5h0M134.7 274.3h0M145.4 233.5h0M159.5 295.1h0M146.2 273.1h0"/>
<path stroke-width="6.1" d="M189.4 230.3h0M192.1 267.8h0"/>
</g>
<g stroke="#86d3ea" stroke-linecap="round" fill="none" transform="scale(1.13 1)">
<path stroke-width="4.6" d="M117.9 101.6h0M128.9 103.9h0M117.9 119.4h0M122.3 127.9h0M231 125.2h0M243.2 138.7h0M239.8 162.6h0M245.4 182.8h0M185.5 138h0M71.3 277.8h0M84.6 197h0M97.9 181.8h0M86.8 213.8h0M89 225.6h0M84.6 247.5h0M85.7 255.9h0M93.5 272.8h0M97.9 284.6h0M95.7 266h0M233.2 284.6h0M229.8 284.6h0M232.1 274.5h0"/>
<path stroke-width="6.1" d="M354 278.5h0M290.2 289h0"/>
</g>
<g stroke="#eaa33d" stroke-linecap="round" fill="none" transform="scale(1.13 1)">
<path stroke-width="4.6" d="M125.6 79.7h0M119 97.5h0M115.6 102.6h0M136.7 105.3h0M84.6 200.3h0M100.1 163.3h0M109 230.7h0M102.3 249.2h0"/>
<path stroke-width="5.3" d="M124.5 65.5h0M126.7 65.5h0M136.7 91.5h0M134.5 106.6h0"/>
<path stroke-width="6.1" d="M133.4 78h0M126.7 107.7h0"/>
<path stroke-width="19" d="M142.2 153.2h0"/>
</g>
<g stroke="#e8414b" stroke-linecap="round" fill="none" transform="scale(1.13 1)">
<path stroke-width="4.6" d="M201 90.8h0M204.3 118.8h0M204.8 129.6h0M212.5 135.3h0M248.7 245.8h0M219.9 184.2h0M228.7 205.4h0M229.8 208.8h0M227.6 218.9h0M225.4 203.7h0"/>
<path stroke-width="5.3" d="M236.5 188.5h0"/>
<path stroke-width="6.1" d="M201 173.4h0M306.4 217.2h0"/>
<path stroke-width="7.6" d="M213.2 222.2h0"/>
<path stroke-width="8.7" d="M183.7 182.8h0"/>
<path stroke-width="10.1" d="M207.7 229h0"/>
<path stroke-width="13.3" d="M211.4 163.9h0"/>
</g>
<line x1="171.1" x2="171.1" y1="50" y2="305" stroke="#111" stroke-width="1.7" stroke-dasharray="4.4 3.2"/>
<line x1="200.5" x2="200.5" y1="50" y2="305" stroke="#111" stroke-width="1.7" stroke-dasharray="4.4 3.2"/>
<line x1="78" x2="400" y1="261" y2="261" stroke="#111" stroke-width="1.7" stroke-dasharray="4.4 3.2"/>
<rect x="72.5" y="36" width="335.9" height="278" fill="none" stroke="#1a1a1a" stroke-width="1.6"/>
<line x1="185.8" x2="185.8" y1="314" y2="317" stroke="#1a1a1a" stroke-width="1"/>
<text transform="translate(185.8 331) scale(1.27 1)" font-size="14" text-anchor="middle">0</text>
<line x1="311.1" x2="311.1" y1="314" y2="317" stroke="#1a1a1a" stroke-width="1"/>
<text transform="translate(311.1 331) scale(1.27 1)" font-size="14" text-anchor="middle">5</text>
<line x1="69.5" x2="72.5" y1="237.4" y2="237.4" stroke="#1a1a1a" stroke-width="1"/>
<text transform="translate(66.5 242.4) scale(1.27 1)" font-size="14" text-anchor="end">2</text>
<line x1="69.5" x2="72.5" y1="170" y2="170" stroke="#1a1a1a" stroke-width="1"/>
<text transform="translate(66.5 175) scale(1.27 1)" font-size="14" text-anchor="end">4</text>
<line x1="69.5" x2="72.5" y1="102.6" y2="102.6" stroke="#1a1a1a" stroke-width="1"/>
<text transform="translate(66.5 107.6) scale(1.27 1)" font-size="14" text-anchor="end">6</text>
<text transform="translate(237 23.5) scale(1.2 1)" font-size="14.5" text-anchor="middle" font-weight="bold" fill="#1a1a1a">Volcano plot</text>
<text transform="translate(240 349.5) scale(1.2 1)" font-size="14.5" text-anchor="middle" font-weight="bold" fill="#1a1a1a">log2(FC)</text>
<text transform="translate(48 173) rotate(-90) scale(1 1.22)" text-anchor="middle" font-size="15" font-weight="bold" fill="#1a1a1a">-log10(PValue)</text>
<text transform="translate(407.5 308.5) scale(1.2 1)" font-size="16.5" text-anchor="end" font-weight="bold" fill="#222">Serum sample</text>
<text transform="translate(343 54.5) scale(1.2 1)" font-size="12.5">VIP</text>
<ellipse cx="349" cy="64.5" rx="2.1" ry="1.9" fill="#5a5a5a"/>
<text transform="translate(366 63.5) scale(1.2 1)" font-size="12.5">0</text>
<ellipse cx="349" cy="76" rx="4.5" ry="3.9" fill="#5a5a5a"/>
<text transform="translate(366 79.5) scale(1.2 1)" font-size="12.5">13.18</text>
<ellipse cx="349" cy="92.5" rx="6.8" ry="6" fill="#5a5a5a"/>
<text transform="translate(366 95.5) scale(1.2 1)" font-size="12.5">26.35</text>
<ellipse cx="349" cy="108.5" rx="9.1" ry="8.1" fill="#5a5a5a"/>
<text transform="translate(366 112) scale(1.2 1)" font-size="12.5">39.53</text>
<ellipse cx="349" cy="129.5" rx="11.7" ry="10.3" fill="#5a5a5a"/>
<text transform="translate(366 132.5) scale(1.2 1)" font-size="12.5">52.7</text>
<text transform="translate(337 159) scale(1.2 1)" font-size="12.5">color</text>
<ellipse cx="337.5" cy="167" rx="4.4" ry="3.8" fill="#eaa33d"/>
<text transform="translate(349.5 172) scale(1.2 1)" font-size="12.5">down</text>
<ellipse cx="337.5" cy="186" rx="4.4" ry="3.8" fill="#86d3ea"/>
<text transform="translate(349.5 191) scale(1.2 1)" font-size="12.5">nodiff</text>
<ellipse cx="337.5" cy="204.5" rx="4.4" ry="3.8" fill="#e8414b"/>
<text transform="translate(349.5 209.5) scale(1.2 1)" font-size="12.5">up</text>
</g>
<g>
<rect x="449.4" y="34.6" width="318.5" height="279.1" fill="#ebebeb"/>
<line x1="470.8" x2="470.8" y1="34.6" y2="313.7" stroke="#fff" stroke-width="1.2"/>
<line x1="562.8" x2="562.8" y1="34.6" y2="313.7" stroke="#fff" stroke-width="1.2"/>
<line x1="654.8" x2="654.8" y1="34.6" y2="313.7" stroke="#fff" stroke-width="1.2"/>
<line x1="746.8" x2="746.8" y1="34.6" y2="313.7" stroke="#fff" stroke-width="1.2"/>
<line x1="449.4" x2="767.9" y1="268.6" y2="268.6" stroke="#fff" stroke-width="1.2"/>
<line x1="449.4" x2="767.9" y1="196.2" y2="196.2" stroke="#fff" stroke-width="1.2"/>
<line x1="449.4" x2="767.9" y1="123.8" y2="123.8" stroke="#fff" stroke-width="1.2"/>
<line x1="449.4" x2="767.9" y1="51.4" y2="51.4" stroke="#fff" stroke-width="1.2"/>
<line x1="516.8" x2="516.8" y1="34.6" y2="313.7" stroke="#fff" stroke-width="2"/>
<line x1="608.8" x2="608.8" y1="34.6" y2="313.7" stroke="#fff" stroke-width="2"/>
<line x1="700.8" x2="700.8" y1="34.6" y2="313.7" stroke="#fff" stroke-width="2"/>
<line x1="449.4" x2="767.9" y1="232.4" y2="232.4" stroke="#fff" stroke-width="2"/>
<line x1="449.4" x2="767.9" y1="160" y2="160" stroke="#fff" stroke-width="2"/>
<line x1="449.4" x2="767.9" y1="87.6" y2="87.6" stroke="#fff" stroke-width="2"/>
<g stroke="#86d3ea" stroke-linecap="round" fill="none" transform="scale(1.13 1)">
<path stroke-width="3.8" d="M561.3 286.2h0M537.8 300.1h0M553.7 259.1h0M515.8 264.5h0M541.2 297h0M539.3 300.7h0M519.3 291.1h0M562.3 259.1h0M561 266h0M544.4 293.2h0M521.9 257.8h0M540.2 294.6h0M566.8 259.1h0M552.9 289.7h0M548.1 296.4h0M560.5 272h0M536.2 291.1h0M524.9 289.3h0M523.6 280.3h0M587.3 280.7h0M537.5 299.2h0M515.4 276.1h0M519.4 273.8h0M528.5 285.5h0M572.4 278.1h0M577.2 287.6h0M560.2 275.1h0M533.3 282.9h0M527.9 285.8h0M534.5 265.2h0M552.6 273.5h0M538.2 300.2h0M534.1 291.1h0M574.6 266.6h0M538.7 301.1h0M519.4 285.3h0M546 283.8h0M542.9 298.6h0M534 288.8h0M522 277.4h0M552.3 293h0M524.7 274.1h0M552.6 270.1h0M508.1 277.5h0M541.9 300.5h0M585.8 261.2h0M513 274.7h0M542.7 298.3h0M532.5 290.9h0M537.8 298.6h0M547.5 282h0M535.1 284.1h0M530.7 254.9h0M546.1 279.9h0M545.6 293.5h0M565 279.8h0M549.3 257h0M547.3 289.2h0M558.1 280.7h0M546.5 292h0M537.9 301.3h0M522 274.2h0M527.6 270.4h0M528.3 289.1h0M526.2 270.1h0M543.8 278h0M553.6 288.8h0M526.2 258.9h0M543.1 298.8h0M524.4 271.6h0M521.5 255.1h0M498.3 271.3h0M528.1 272.5h0M541.7 297h0M524.8 276.1h0M531.6 290h0M536.9 288.6h0M564.7 270.4h0M560.7 255.7h0M513.5 271.7h0M559.6 291.3h0M522.4 277.3h0M498.2 284.5h0M520.1 261.6h0M511.6 285.6h0M551.3 296.5h0M522.6 278.4h0M564 258.3h0M535 289.2h0M539.2 298h0M524.5 293h0M525.3 256.8h0M526 294.1h0M540.1 297.7h0M569.7 273.1h0M558.3 265.1h0M521.2 272.5h0M521.2 260.6h0M555 288.2h0M536.1 296.5h0M546 293.5h0M544.2 287.4h0M530.4 261.2h0M554.6 285.5h0M570.3 259.6h0M583.8 279.1h0M558.3 286.8h0M519.7 288h0M545.3 287.6h0M542.2 289.9h0M555.3 286.9h0M527.9 284.8h0M522.9 282.9h0M538.7 300.5h0M548.6 296.4h0M549.3 288h0M520.3 272.5h0M541.6 297.4h0M544.2 282h0M525.2 254.2h0M552.1 257.6h0M547.8 275.2h0M531.7 262.2h0M519.4 286h0M539.7 300.8h0M517.1 279.4h0M521.9 288.6h0M555.6 287.8h0M542 297.7h0M532.1 282.3h0M523.2 254.3h0M544.7 294.3h0M555.6 281.8h0M562.5 270.4h0M487.5 272.2h0M538.8 300.2h0M534.2 292.5h0M524.3 272.6h0M530.2 286.9h0M516.3 275h0M525.4 272.9h0M572.4 274.2h0M527 289h0M548 286.5h0M540.5 297.5h0M533.4 293.7h0M526.2 281h0M546 284.9h0M544.6 291.5h0M538.2 299.2h0M521 280.8h0M528.3 291.7h0M570.4 285.2h0M547.9 296.3h0M522.6 291.3h0M573 271.7h0M526 262.1h0M546.2 288.9h0M532.2 283.8h0M535.2 293.3h0M553.2 272.7h0M560.4 289.5h0M545 290.5h0M567.5 272.7h0M515.9 275h0M555.1 267.7h0M596.2 269.6h0M532.5 281.1h0M528.3 266h0M543.6 275.6h0M533.5 296.6h0M526.8 294.4h0M536.5 288.6h0M532.8 285.2h0M535.3 290.4h0M528.9 292.6h0M531.1 291h0M533.7 293.1h0M534.2 295.5h0M514.1 276.9h0M549.9 294.2h0M545.6 297.7h0M543.5 299.8h0M543.9 294.6h0M589.9 277.2h0M520.6 288.8h0M524.3 277.8h0M541 300.6h0M537 292.3h0M519.9 286.7h0M545.9 292.3h0M542.1 293.6h0M532.7 288.5h0M529.9 288.6h0M542.7 293.5h0M537.9 297.6h0M546 260.9h0M530.7 281h0M516.9 286.7h0M559.7 291.2h0M520.1 289.5h0M524.8 286.3h0M532.3 275h0M549.6 288.2h0M530.6 292.9h0M515 286.5h0M539.9 298.4h0M558.6 273.6h0M519.3 270.6h0M561.5 255.2h0M530.7 285.9h0M549.9 284.3h0M533.5 299.4h0M524.4 278.3h0M548.3 279.2h0M566.4 257.9h0M538.6 302.7h0M531.2 292.1h0M510.6 265.5h0M577.3 282.2h0M553.2 294.9h0M554.2 285h0M559.2 267.3h0M531.6 290.4h0M546.7 282.2h0M543.5 297.2h0M529.1 278.1h0M522.1 275.2h0M533.8 268.4h0M550.6 290.2h0M556.1 267.6h0M564.1 254.8h0M523.4 279.5h0M534.5 299.1h0M538.5 301.4h0M544.7 293.2h0M560.1 284.1h0M554.4 261.5h0M587.2 257.9h0M518.7 280.7h0M532.2 295.7h0M523.4 279.1h0M542.3 297.3h0M524.9 272.5h0M557.1 277.1h0M528.2 283.5h0M542 280.3h0M548.7 273.2h0M527.3 282.4h0M525 274.9h0M537.1 283.9h0M535.6 263.6h0M543.2 285.5h0M539.1 274.6h0M531.8 273.7h0M540.4 263.7h0M540.5 267.2h0M543.2 278.5h0M538.3 271.1h0M534.7 281.3h0M539.4 295.5h0M539.4 293.7h0M541.3 263.6h0M541.4 290h0M544 274.5h0M538.7 290.4h0M541.7 262.9h0M539.4 268.3h0M540.2 273.6h0M543.6 271.1h0M540.6 298.7h0M543.8 286.7h0M538.9 270.4h0M539.4 278.8h0M537.9 281.1h0M533 276.1h0M540.1 269.4h0M541.1 276.2h0M534.8 281.3h0M542.4 276.6h0M541.5 282h0M542.3 249.7h0M542.7 268.1h0M537.9 300.5h0M538.5 286.6h0M543.1 287.8h0M537 276.9h0M538.7 281.6h0M542.1 279.4h0M535.5 255.8h0M539.2 256.1h0M535.2 269.9h0M543.7 295.4h0M538.5 300.9h0M542.6 270h0M544.5 264h0M544.6 290.7h0M547.2 263.9h0M541.2 286.4h0M536.3 288.5h0M536.6 277.4h0M538.6 285.7h0M540.2 290.7h0M532.4 281.1h0M548.6 270.8h0M531 257.3h0M538.4 284h0M544.9 262.7h0M537.9 281.6h0M541.8 284.4h0"/>
<path stroke-width="4.6" d="M541.4 300.5h0M575.6 277.9h0M525 274.2h0M557.1 272.5h0M551.5 276h0M532.6 298.6h0M536.8 299.6h0M536.2 297.8h0M526.6 295h0M557.7 258.6h0M557.2 259.3h0M534.3 292.8h0M535.4 274h0M521.1 261.2h0M532.2 279.2h0M567.1 260.9h0M515.6 262h0M559.5 278.8h0M550.6 288.9h0M576.2 288h0M548.6 294.7h0M538.3 302.3h0M522 276.7h0M536.3 300.3h0M555.8 287.6h0M531.4 298.4h0M530.2 285.2h0M530.1 280.1h0M525.1 280.6h0M535.6 290.9h0M533.5 298.5h0M551 280.6h0M538.7 302.3h0M530.4 294.9h0M551.5 289.6h0M545.1 286.1h0M528.1 284.7h0M560.5 284.1h0M537.8 299h0M532.7 284.3h0M533.7 293.4h0M534.3 286.5h0M574.5 265.3h0M527.6 280.4h0M557.3 280.1h0M551.4 291.9h0M549.9 290.5h0M567.7 268.2h0M567.7 274.9h0M554.6 279.3h0M556.3 258.8h0M557 277h0M528.9 290h0M524.6 282.3h0M561.3 283.4h0M573.6 259h0M549.4 280.1h0M518 259.2h0M525.2 292.5h0M540.7 298.7h0M553.4 269.8h0M534.1 295h0M526.2 284.4h0M535.5 298.5h0M554.1 281.3h0M554.4 257.6h0M519.5 271.5h0M524 289.2h0M536 296.2h0M550.9 290.2h0M521 279.7h0M538 299.1h0M537.3 295.6h0M565.4 282.8h0M546.9 286.7h0M546.6 299h0M533.1 291.9h0M515.4 284.3h0M522.1 279.2h0M534.1 298.6h0M544.1 283h0M566.9 272.6h0M540.4 300.4h0M560.7 276.5h0M545.1 280.2h0M549.1 297h0M569.7 255.9h0M578.6 273.8h0M539.2 301.6h0M519.2 279.5h0M516.1 290.3h0M546.5 294.5h0M528.9 286.7h0M535.1 293.9h0M532 292h0M543.7 294.9h0M557.8 283h0M532.9 291.7h0M525.6 257.2h0M543.1 297.8h0M538.1 301.1h0M535.9 297.2h0M549.7 293h0M576.2 279h0M550.5 268.6h0M521.5 282.3h0M533 268.9h0M533 281.5h0M542.8 298.5h0M556.1 280h0M500.9 281.5h0M536.4 295.2h0M529.9 285.7h0M539.7 301h0M535.1 286.1h0M509 274.9h0M536.2 297.1h0M551.7 274h0M568.9 284.6h0M557.6 271.6h0M524.1 287.7h0M559.9 274.7h0M537.7 298.1h0M531.3 296.2h0M520.8 286.5h0M534.2 299.6h0M515 277.2h0M532.3 274.6h0M536.1 291.3h0M541.3 298.8h0M530.9 280.4h0M538.1 301.5h0M549.4 283.9h0M564 262.8h0M547.6 281.4h0M545.7 280.1h0M538 298.6h0M524.5 283.5h0M552 285.8h0M576.4 276.6h0M528 281h0M530 286.7h0M547.3 292.6h0M499.5 256.4h0M555.2 275h0M535.8 294.2h0M509.8 264h0M536 299.9h0M534.3 260.7h0M562.8 265.5h0M495.4 258.7h0M532.7 297.3h0M523.7 291.9h0M541.1 299.4h0M557.8 268.3h0M549.6 286.7h0M524.8 286.3h0M538.1 299.4h0M560.1 286.4h0M552.5 277.6h0M554.6 271.9h0M534.7 284.6h0M541.4 282.7h0M563.2 287.5h0M525.6 273.2h0M543.4 283.1h0M551.5 284.6h0M521.6 278.3h0M529.5 296.1h0M513.2 272.4h0M541.7 284.3h0M518.4 255.5h0M583.5 263.3h0M556.6 275.4h0M564.7 268h0M532.6 298.5h0M539.5 300.7h0M517.1 285.8h0M585 281.4h0M541.2 298.4h0M520.3 279.8h0M558.2 269.1h0M546 292.3h0M492.4 258.9h0M557.5 272.9h0M586 257.4h0M552.4 278.5h0M550.1 287h0M541.7 291h0M536.7 299.6h0M533 296.3h0M527.2 257.7h0M499.5 264.8h0M535.8 292.1h0M523.1 274.9h0M526.3 266.6h0M557.5 283.1h0M547.7 261.1h0M543.2 298h0M548.6 286.1h0M566.6 271h0M535.2 298.9h0M533.5 284.1h0M518.4 284h0M561.4 262.4h0M575.3 256.8h0M548.7 287.9h0M545.7 292.2h0M515.8 264.8h0M549.4 260.4h0M539.7 301.3h0M559.3 288.3h0M529.8 286.9h0M545.3 258.5h0M534.5 287.8h0M545.3 287.3h0M539.1 301.8h0M552.2 259h0M568.1 270.4h0M529.7 272.5h0M549.7 280.9h0M558.6 282.2h0M547.4 281.6h0M537.9 298h0M520.1 258.3h0M543 297.7h0M561.2 262.4h0M546.1 298.8h0M562 276.3h0M544.4 294.6h0M532.2 286.8h0M538.8 302.7h0M525.4 281.5h0M520.3 265.2h0M544 296.7h0M523.1 274.8h0M553.5 286.4h0M541.4 295.8h0M523.9 263.4h0M521.8 274.2h0M529 257.1h0M579.5 273.8h0M525.1 280h0M540.5 292.1h0M514.2 259h0M518.3 274.2h0M511.2 288.9h0M563.7 270.2h0M529.7 269.5h0M572.1 272.4h0M545.9 291h0M534.1 298.3h0M539.2 302.6h0M538.3 299h0M512.5 289.3h0M539.9 300h0M539.6 300.8h0M540.7 300h0M531 271.3h0M543.5 300.2h0M544.1 282.4h0M541.7 297h0M545.5 288.1h0M552.1 288.7h0M537.8 301.4h0M559.4 288.3h0M524.7 268.4h0M543.9 286.1h0M523.9 261.8h0M537.9 300.3h0M503.3 260h0M538.6 298.6h0M549.7 292.3h0M556 273.5h0M549.5 272.6h0M536.1 297.5h0M554 270.5h0M502.1 268.3h0M541.8 288.3h0M524.1 276h0M554.7 262.3h0M535 298.7h0M567.8 281.6h0M517.3 288.1h0M548 287.4h0M533.6 294.3h0M523.4 278.4h0M556.2 279.7h0M506.2 268.8h0M594.6 259.3h0M534.7 294.7h0M548.3 284.9h0M525.7 277.7h0M538.6 302.4h0M559.1 258.5h0M548.1 290.6h0M535.8 298.8h0M520.8 284h0M536.1 294.3h0M539.7 298.3h0M574.6 281.2h0M554.9 266.8h0M537.7 299.8h0M534.7 294.5h0M538.1 298.6h0M549.9 287.1h0M529.2 282.3h0M550.1 274.5h0M529 286.2h0M546.6 278.3h0M537.6 300.8h0M544.7 288.8h0M583.3 274.2h0M539.3 301.7h0M536.1 298h0M566.5 278.7h0M531.8 272.4h0M543.6 265.9h0M528.4 259.9h0M516.3 282h0M537 297.7h0M537 299.3h0M521.6 289.2h0M524.2 279.5h0M530.9 289.8h0M571 268.4h0M538.6 301.8h0M538.6 301.7h0M521.5 261.8h0M528 277.7h0M565.9 264h0M538.8 299.1h0M569.3 266.7h0M540.9 293.7h0M551.9 281h0M522.1 281.8h0M561.5 258.2h0M544.1 278.1h0M531.4 285.2h0M574.3 276.4h0M545.1 286.1h0M546.1 297.8h0M563.3 278.5h0M529 270.4h0M529.8 290.1h0M513.1 274.9h0M514.2 261.3h0M545.1 295.2h0M537.5 301.3h0M540.9 301.6h0M519.5 282.6h0M543.8 299.4h0M530.2 293.8h0M516.2 286.1h0M536.1 299.7h0M548.4 295.4h0M541.2 299h0M540.5 295.8h0M538 298.3h0M540.6 301.3h0M536.6 299.4h0M522.6 289h0M547 294.7h0M550.7 267.5h0M538.9 302.7h0M559.2 291.8h0M564.4 264.9h0M528.8 288.8h0M541.7 294.8h0M537.7 301.5h0M534 299.9h0M549.6 274.8h0M527.4 278.7h0M543.5 300h0M570 262h0M557.6 279.1h0M552.6 289.9h0M531.4 290.6h0M517.8 278.9h0M525.5 269.8h0M542.8 290.8h0M533.8 295.1h0M516.3 272.6h0M577.9 268.6h0M538.3 301.5h0M540.9 295.8h0M532.6 293h0M517.1 255.6h0M525.6 267.1h0M568.9 275.1h0M530.2 290.4h0M518.9 276.9h0M552.1 287.1h0M546 285.7h0M502.9 277.2h0M529.9 294.4h0M505.2 261h0M547.7 290.2h0M519.2 271.5h0M529.2 269.8h0M533.2 291.6h0M524.4 275.5h0M558.6 279.8h0M552.7 263.4h0M549.1 283h0M515.3 287.3h0M528.2 290.4h0M520.5 279.2h0M541.9 299.5h0M535.2 298.7h0M529.7 287.7h0M516.7 282h0M550.5 287.9h0M525.7 274h0M505.2 257.6h0M520.9 269.4h0M553.6 292.9h0M523.8 283.2h0M565.4 262.6h0M548.5 269.8h0M532.3 285.2h0M534.9 298.5h0M541.9 284.9h0M540 297.6h0M527.3 279.8h0M550.9 285.2h0M553.4 289h0M515.8 276.3h0M536 296.1h0M530 292.7h0M544.2 284.5h0M524.7 293h0M506.8 275.6h0M563.8 282.7h0M532.9 297.6h0M557.6 274.6h0M539.7 300.5h0M530 289.1h0M547 292.5h0M541.6 283.3h0M526.5 281.7h0M565.3 275.9h0M531.8 261.9h0M571.3 277.5h0M546.2 290.9h0M579.9 259.2h0M544.2 293.3h0M534.9 285.5h0M534.7 290.2h0M546.4 277.5h0M536.2 298h0M527.9 273.2h0M513.6 269.4h0M548.6 285.1h0M550.8 269.8h0M513.1 284.3h0M525 280.9h0M535.9 281.5h0M594.8 263.9h0M534.7 290.7h0M533.8 290.2h0M555.3 284.7h0M515.2 283.3h0M546.6 294.1h0M528.3 266h0M519.3 272.6h0M584.6 254.8h0M523.3 271.5h0M516.5 285.9h0M533.7 296.9h0M548.2 293.6h0M556.9 281.2h0M528.3 293.1h0M527.9 287.1h0M545.2 288h0M551.4 281.5h0M511.6 273.3h0M538.9 302.4h0M550.5 268.7h0M558.4 278.3h0M568.1 261.4h0M545.9 287.3h0M505.5 288.9h0M569.8 266.8h0M521.5 273.3h0M507.9 262.1h0M538.8 300.1h0M533.6 296.2h0M541 297.4h0M533.8 295.5h0M552.5 270.7h0M548 289.5h0M549.4 292.3h0M552.5 274h0M558.1 273.6h0M543.5 298.2h0M502.9 255.3h0M542.3 278.8h0M525 279h0M562.4 289.6h0M524.3 280.9h0M548.4 287.9h0M538.6 301.4h0M532.6 295.6h0M545.4 272.7h0M560.2 273.1h0M531.6 287.6h0M516.3 265.9h0M519.1 278h0M527.7 274.2h0M547.6 289.3h0M524.9 282.5h0M539.4 300.6h0M563.3 288.7h0M525 282.5h0M536.8 301.3h0M548.7 275.2h0M527.2 286.3h0M565.2 270.6h0M539.1 300h0M565.2 275.3h0M528.6 293.3h0M543.7 296.9h0M534.4 292.1h0M539.7 298.3h0M529.7 281.1h0M554.3 280.8h0M523 255.4h0M509.1 285.4h0M535.6 297.1h0M527.5 293.5h0M561.8 266.1h0M542.9 294.2h0M554.8 279.1h0M518 269.6h0M541.9 300h0M521.9 290.3h0M552.6 273.2h0M536.5 299.2h0M561.6 278h0M513 256.9h0M553.7 269.2h0M508.7 264.6h0M528.4 277.9h0M568.9 265.9h0M536.3 299.6h0M542.6 293.9h0M530.8 288.5h0M527.9 270.5h0M563.5 280.1h0M512.5 281.9h0M560.7 272.6h0M562.7 264h0M540.5 298.3h0M545.3 291.5h0M499.5 284.8h0M557.9 286.5h0M544.4 285.5h0M534.4 282.7h0M543.5 294.7h0M555.5 283.8h0M577.3 274h0M534.9 297.2h0M566.3 271.6h0M536.2 296.2h0M525.3 274.2h0M538 298.4h0M547.5 295h0M525.4 254.7h0M557.3 262.8h0M534.9 296.6h0M546.8 290.1h0M539.7 296.6h0M546.3 276.1h0M550.3 293.7h0M558.6 263.5h0M532.2 285.4h0M503.7 279.7h0M544.4 296h0M558.4 279.1h0M547.5 271.8h0M533.8 290.8h0M538.7 301.9h0M571.8 275.9h0M557.4 279.3h0M566.1 266.7h0M527.7 288.1h0M557.6 285.3h0M527.2 281.1h0M560.5 269.8h0M523.4 264.8h0M532.7 284.4h0M504.3 282.8h0M554.4 274.6h0M536.1 295.6h0M519.4 272.7h0M547.2 292.8h0M532.5 299.6h0M536.9 300.2h0M572.5 268h0M527.2 287.2h0M575.8 280.4h0M553.3 284.1h0M559.9 270.8h0M532.7 292h0M533.8 291.2h0M581.3 261.5h0M550.3 293.5h0M533.5 290.6h0M534.3 297.9h0M539.8 298.3h0M560.9 286.6h0M533.2 284.8h0M541 300.9h0M545.4 289h0M546.7 286.1h0M538.2 300.2h0M524.5 276h0M544.3 288.5h0M508.6 262.7h0M533.2 297h0M573.3 280.8h0M539.1 302.2h0M540.8 297.9h0M532.4 289.1h0M543.4 293.8h0M555.2 286.1h0M559.1 288.9h0M523.6 281h0M520.9 291.4h0M533 292.5h0M530.1 279.6h0M516.4 266.2h0M578.2 262.1h0M528.9 286.8h0M535.7 296.9h0M535.4 295.9h0M528.1 288.4h0M553.9 282.7h0M544.4 295.6h0M526.5 288.5h0M529.1 264.5h0M548.9 288.7h0M549.8 290.8h0M540.7 298.8h0M537.7 295.4h0M546.9 293.4h0M546.1 288.7h0M530.7 291.7h0M584.2 268.9h0M557.1 280.6h0M528.8 286.3h0M548 270.3h0M547 286.2h0M541.6 296.4h0M544.4 293.2h0M528.1 289.5h0M548.1 290.8h0M538.7 302.1h0M516.6 280.1h0M539.5 299.6h0M530.9 291.4h0M545.5 288.5h0M569.4 272.2h0M527.6 276.6h0M521.9 254.1h0M541.5 295.2h0M538.4 301h0M535.6 294.9h0M517.9 269.3h0M532.9 296.1h0M526.4 268.5h0M560.1 260.7h0M544.2 286h0M558.5 285.1h0M527.7 288.2h0M515.6 284.9h0M533 291.6h0M519.2 268.5h0M526.7 288.4h0M542.5 295h0M531.1 256.1h0M537.4 301.1h0M542.3 290.5h0M552.6 290.8h0M522 267.4h0M536.4 296.7h0M546.7 295.8h0M579.8 283h0M516.2 256.1h0M565.4 272.4h0M552.5 284.6h0M579.8 286.1h0M559.4 287.6h0M532.2 292.8h0M530.5 287.6h0M521.3 265.4h0M529.1 297.5h0M533.2 291.4h0M515.2 276.1h0M523.1 279.8h0M545.4 293.6h0M533.3 295.1h0M542.6 295.1h0M573 287.8h0M521.2 262.1h0M527.4 266.6h0M535 298.2h0M539.8 301.1h0M532.3 276.8h0M556.7 278.7h0M566 272.7h0M505.2 258.3h0M540.6 299.1h0M527.5 270.9h0M543.1 288.3h0M548 294.2h0M532.3 282.9h0M535.2 298.6h0M541.3 293.6h0M512.4 268h0M526.5 289.9h0M532.9 299.1h0M559 273.8h0M542 290h0M544.4 293.6h0M589.5 275.7h0M532.5 298h0M544.8 294.6h0M569.8 268h0M566.2 275.6h0M515.9 257.7h0M534 298h0M549.8 285.4h0M521.3 256.1h0M517.4 277.7h0M522.8 281.2h0M527.2 260.9h0M553.9 281.7h0M565.4 273.7h0M530.4 280.5h0M516.9 266.7h0M535 298.2h0M554.6 262.6h0M550.7 262.4h0M548.8 285.5h0M541 299.2h0M513.1 284.4h0M556.1 287.8h0M542.7 295.8h0M537.2 300.5h0M543.9 298.2h0M537.3 301.8h0M540.2 301h0M539.3 301.3h0M552.4 290h0M534.3 284.9h0M550.4 287.4h0M530.7 269.6h0M519.5 254.6h0M530.9 272.9h0M518.5 264.3h0M551.1 281.3h0M538.7 302.2h0M539.7 298.9h0M534.2 293h0M525.8 255.3h0M534.8 295.9h0M541 298h0M534 295.6h0M574.6 258.3h0M534.7 288.3h0M552.6 294.3h0M519.5 279.7h0M560.2 270.2h0M567.8 260.7h0M540.5 301.3h0M555.4 267.3h0M524.1 270.1h0M559.3 262.3h0M536 288.9h0M548.1 291.8h0M545.8 291.9h0M558.1 282.9h0M548.5 259.1h0M566.8 273.6h0M560 276.8h0M520.7 283h0M514.6 264.8h0M532.7 294.8h0M540 300.7h0M534 293.9h0M495.2 269.8h0M514.8 261.3h0M525.9 256.8h0M579.4 274.8h0M568.2 259.9h0M526.2 266.7h0M539.5 299.3h0M549.3 278.6h0M551.6 254.9h0M555.4 271h0M531 295.8h0M545.7 285.8h0M533.4 290.7h0M551 267.9h0M544.6 295.7h0M559.6 272.4h0M536.3 285.9h0M525.4 279h0M538.6 300.2h0M547.2 287.1h0M520.6 270.7h0M535.7 288h0M534.4 293.2h0M524.1 257.1h0M551.5 273.4h0M554.8 295h0M563.2 255.4h0M528.9 257.2h0M536.3 292.7h0M535.7 293.7h0M516.3 288.8h0M527.4 286.2h0M521.9 278.1h0M547.5 292.7h0M538.6 300.3h0M546.2 283.3h0M519.7 265.3h0M546.4 291.5h0M537.7 299.4h0M553.9 282.8h0M555.9 264.2h0M551.2 291.1h0M570.6 281.5h0M533.8 283.7h0M538.6 301.6h0M565.9 276.6h0M549.3 256h0M551.8 284.6h0M537.2 299.5h0M537.8 299.9h0M529.2 295.5h0M561.3 261.7h0M530.1 293.6h0M541 298.6h0M535.2 291.7h0M545.3 293h0M554.9 258.9h0M536.8 299.3h0M547.7 294.5h0M546.3 297.5h0M512.8 254.9h0M546.2 283.4h0M512.4 282.5h0M573 261h0M543 295.9h0M516.8 265.4h0M554.4 262.5h0M527 279.3h0M543.2 287.8h0M531.7 278.8h0M540.1 298.8h0M537.2 299.7h0M553.3 279.7h0M524.4 267.3h0M562.8 276h0M564.7 276.7h0M530.8 297h0M550.4 286.9h0M529 274.4h0M519.3 273.1h0M520.7 261h0M544.9 289.8h0M553.9 267h0M533.1 296h0M525.1 288.1h0M513.6 280.5h0M533 295h0M533.9 289.4h0M573.7 282.4h0M519.7 259.8h0M542.4 298.1h0M534.4 283.7h0M551.1 292.8h0M569.4 286.4h0M534.7 292.6h0M538.2 301.8h0M537.8 296.2h0M551 288h0M541 298.6h0M548.8 289.3h0M545.9 293.9h0M538.2 300.7h0M535.3 298.8h0M547.4 290.8h0M510.2 266.6h0M535.9 297h0M544.6 298.2h0M564.4 267h0M537.2 299.1h0M529.7 296.2h0M539.5 297.9h0M536.9 299.3h0M539.5 298.9h0M526.8 286.8h0M537.9 298.4h0M556.7 267.1h0M556.2 263.8h0M574.7 278.8h0M557.3 278.6h0M535.7 301h0M520.7 282.7h0M529.1 288.9h0M564.3 284.2h0M526.1 290.1h0M529.6 261.9h0M559.3 291h0M559 265.5h0M512.8 268.5h0M525.9 287.8h0M543.5 297.6h0M531.2 289.6h0M505.7 270.8h0M519.8 286.3h0M556.3 287.7h0M539.1 300.7h0M551.9 282.5h0M582.1 268.7h0M546.6 296h0M558.7 255.6h0M556 285.5h0M548.2 290.5h0M557.3 260.8h0M555.1 287.7h0M515.5 266.1h0M535.9 297.2h0M516.6 282.3h0M514.7 269.3h0M539.7 299.6h0M527.6 278.8h0M537 296.8h0M541.9 299.4h0M561.4 288.2h0M532.4 292.8h0M545.1 295.6h0M523.5 271.9h0M517.6 281.5h0M544.4 279.4h0M553.1 281h0M507.9 264.8h0M539.4 294.5h0M517.6 265.5h0M563.1 279.5h0M534.7 299.1h0M556.5 292.3h0M508.2 276.5h0M560 273.2h0M541 294.2h0M546 293.9h0M569 271.7h0M560.9 257.9h0M535 298.5h0M538.9 300.3h0M531.5 292.8h0M534 293.2h0M536.8 296.8h0M551.9 278.6h0M546.9 292.3h0M538.9 302.5h0M562.5 273.1h0M543.3 290.5h0M554.9 260.2h0M542.5 290.8h0M552.8 272.6h0M511.6 283.9h0M541.9 293.3h0M537.3 298.7h0M545.4 285.6h0M530.3 286.9h0M518.9 259.7h0M552.5 294.1h0M567.1 267.1h0M571.5 279.6h0M531.1 280.6h0M527.7 281.7h0M538.8 302.6h0M544.3 291.3h0M554.8 290.1h0M516.9 267.5h0M504.3 266.4h0M558.8 270.3h0M518.4 267.8h0M540.2 300.9h0M548.1 296h0M564.1 265.5h0M532.8 282.1h0M532.1 294.2h0M554.7 269.6h0M531 289.2h0M535.7 298.6h0M530.7 291.8h0M523.1 275.7h0M550.8 297.1h0M540 297.7h0M567.9 276.2h0M549.6 285.2h0M517.7 255.8h0M517.5 281.5h0M570.4 281.7h0M558 284.7h0M538.4 302.6h0M534.1 288.3h0M547.8 284.9h0M532.3 296.5h0M536 295.2h0M555 263h0M545.3 293.2h0M523.2 267.2h0M540.4 300.3h0M566.2 275h0M546.2 285.6h0M555.7 284.9h0M540.8 297.4h0M537.5 297.1h0M558.3 286.1h0M543.7 297.2h0M525.4 285.2h0M563.5 284.1h0M529.2 272.1h0M569.7 256.9h0M560.9 259.8h0M544.8 293.1h0M547.9 278.3h0M553.1 279.1h0M530.7 296.1h0M516.7 268.2h0M526 282.9h0M532.7 288.6h0M533 288.3h0M537.8 300h0M555.1 283.2h0M530.2 281.7h0M536.2 300h0M548.8 270.2h0M498.9 286.5h0M560 286.3h0M535.5 294.8h0M558.8 275h0M545.9 296.4h0M561 265.4h0M524.1 278.2h0M532.4 285h0M529.8 283.2h0M525.6 278.6h0M512.8 281h0M519.5 275.9h0M521.3 275.2h0M584.2 269.6h0M548.2 284.8h0M526.8 260.6h0M524.8 284.4h0M532 282.9h0M542 297.9h0M539.3 301.4h0M513.1 269.1h0M552.4 285.8h0M528 293.2h0M528.4 289.8h0M560.5 288.4h0M519.6 280.1h0M503 257h0M552.6 270.8h0M534.9 295.4h0M525.7 283.4h0M537.9 299.8h0M528.3 288h0M509.3 262.2h0M540.2 299.5h0M561.6 276.6h0M533 298.3h0M577.3 272.6h0M522.2 278.4h0M569.8 263.9h0M550.6 291.3h0M535.5 285.6h0M543.5 294.6h0M557.5 281.1h0M567.1 262.8h0M563.1 282.3h0M536.7 299.4h0M537.6 301h0M531 292.8h0M533.2 292.8h0M571.1 280.6h0M547.7 296.2h0M570.6 280.3h0M528.7 282.3h0M533.5 290.2h0M540.4 299.1h0M565.7 286h0M515 267.3h0M505.8 279.3h0M526.1 265.6h0M503.3 277h0M530.7 277.3h0M538 299h0M530.9 287.4h0M526.8 289.2h0M526.6 274.1h0M545.7 283.6h0M566.5 267.5h0M535.8 300.4h0M507.5 289.5h0M550.6 261.2h0M547.7 283.7h0M554.3 271.4h0M544.6 285.2h0M563.2 277.9h0M530.9 296.4h0M530.5 293.2h0M525.6 259.7h0M527.8 289.5h0M551.6 285.1h0M533.1 295.8h0M543.5 291h0M540.9 290.6h0M539.6 298.5h0M534.1 296.5h0M537.3 301.2h0M517.1 260.1h0M564.2 280.6h0M539.7 300.8h0M534.9 297.9h0M550.5 280.3h0M545.8 296.5h0M553.1 279.5h0M524.2 256.3h0M523.2 272.1h0M531.7 295.1h0M539.5 299.9h0M536.4 297.7h0M550.5 282.5h0M535.5 291.6h0M515.4 283.1h0M552.3 275.4h0M526.2 289.3h0M562.9 283.9h0M517.7 278h0M544.9 293.8h0M540.3 298.4h0M550 287.9h0M535.8 297.2h0M555.6 287.2h0M545.9 281.8h0M546.7 282h0M547.6 289.9h0M567.4 257.2h0M541.9 298.2h0M557.2 287.9h0M576.9 284.3h0M541.5 299.8h0M543.7 280.1h0M550 288.1h0M542.9 295.5h0M558.7 273.2h0M527.3 278.6h0M541.3 298.6h0M559.6 286.1h0M552.9 290.1h0M521 262.7h0M556.5 285.3h0M573.6 263.2h0M579.4 283.4h0M548.3 265.9h0M513 271.3h0M564.3 274.6h0M531 291.4h0M535.7 298.5h0M540.3 298.2h0M531.8 287.5h0M528 265.6h0M523.8 260.4h0M569.9 260.4h0M530.7 274.2h0M542.4 287.4h0M525.6 290.2h0M530.2 291.7h0M531.7 292.2h0M557.6 273.7h0M535.1 299.9h0M529.7 290.3h0M512.5 269.2h0M533.7 295.2h0M527.3 263.3h0M533.2 297.6h0M554.4 278.2h0M538.4 301.6h0M534.4 295.3h0M539 299.9h0M545.6 291.3h0M528.7 284h0M531.6 256.7h0M568.9 265.9h0M527.3 272.7h0M560 274.1h0M516.1 258.9h0M557.2 285.8h0M529.6 286.4h0M531.7 291.1h0M496.1 267.1h0M540.3 296.6h0M531.2 271.2h0M553 267.6h0M558.1 259.1h0M533.5 296.6h0M550 271.6h0M542.4 292.2h0M520.8 274.8h0M524.8 262.1h0M550.9 293.4h0M528.3 288.2h0M531.4 278.5h0M552.3 285.3h0M562.9 286.8h0M537.7 296.6h0M493 276.9h0M530.8 281h0M530.3 270.8h0M542.7 295.5h0M526.7 286.2h0M557.1 261h0M566.2 289.6h0M574.1 270.7h0M531.2 289.9h0M567.4 276h0M536.3 300.5h0M537.7 298.2h0M545.1 277.1h0M562.5 255.2h0M529.7 286h0M553.7 277.4h0M551.4 292.1h0M555.6 285h0M538 298.4h0M540.5 295.1h0M559.1 274.3h0M498.4 283h0M541.3 298.6h0M546.4 292.8h0M557.5 286h0M534 296.4h0M541.6 300.5h0M542.6 291.8h0M516.6 273.4h0M507.9 279.3h0M521.7 260.2h0M567.7 279h0M509.3 259.5h0M530.7 282.2h0M531.5 293.1h0M548.8 287.5h0M553.9 263.6h0M562.8 268.2h0M566.3 265.6h0M555 285.6h0M538.5 301.1h0M503.8 279.3h0M511.9 273.3h0M534.4 294.7h0M543.1 289.2h0M533.1 292.8h0M541.9 285.7h0M544 291.8h0M542.2 298.4h0M518.7 259.5h0M546 285.1h0M541.1 297.1h0M518.8 254.1h0M546.3 285.2h0M533 278.6h0M560.5 291.8h0M522 267.2h0M559.4 279.7h0M525.3 285.8h0M531.2 291.4h0M531.1 296.8h0M545 275.9h0M549.2 280.6h0M542 299h0M533.1 293.9h0M541 299h0M537.6 297.3h0M547.8 296.4h0M540.3 295h0M528.1 282.4h0M538.2 299.1h0M582.8 279.6h0M543.4 282.1h0M542.3 298.4h0M540.6 300.4h0M550 265.3h0M513.8 262.9h0M538 297h0M547.4 291.7h0M573.3 276.2h0M548.2 290h0M541.7 282.6h0M553.1 283.6h0M523.8 269.5h0M529.1 285.9h0M536.1 297.1h0M564.7 282.5h0M551.5 293.7h0M531.5 289.4h0M536.5 298h0M537.7 299.7h0M532.6 297.2h0M548.6 280.8h0M544.1 265.1h0M554.7 256.7h0M567.5 269.5h0M515.2 286.9h0M534.9 297.2h0M540.3 300.5h0M547.3 290h0M545.6 292h0M550.8 285.7h0M535.6 294.9h0M514.7 261.7h0M529.3 282.7h0M507.1 275.1h0M527.8 280.2h0M515.9 290.6h0M528.3 273.4h0M538.4 301.1h0M526.4 266.2h0M552.4 289.4h0M570.7 254.9h0M534.7 274h0M535.9 296.9h0M531.7 292.4h0M518 262.5h0M524.9 257.8h0M548.7 287.6h0M543.8 298h0M582.9 254.6h0M528.9 279.3h0M541.6 297.5h0M555.2 273.7h0M569.4 285.7h0M539.8 300.8h0M536.8 298.5h0M524 291.8h0M532.3 292.5h0M555.8 287h0M521.8 273.1h0M537.6 298.1h0M540.6 298.6h0M545 281.9h0M536 288h0M530.9 292.8h0M544.5 290.7h0M517.8 284h0M531.1 277.6h0M583 273.1h0M544.9 290h0M519.5 288.3h0M576.2 262.6h0M553 282.1h0M536.6 298.7h0M510.6 267.7h0M529 295.2h0M528.1 279.2h0M563.8 271h0M556.7 265.3h0M537.3 287h0M557.6 282.8h0M519.5 283.6h0M541.7 299.9h0M529.3 291h0M538.2 298.3h0M531.1 288.8h0M581.5 259.7h0M511.9 261.8h0M537.5 301.5h0M521.6 283h0M523.9 273.1h0M550.8 288.7h0M533.9 292.6h0M527.5 289.9h0M533.3 297.6h0M557 293.9h0M538.4 301.7h0M540.8 300.3h0M567.2 261.8h0M525.5 268.8h0M527.1 278.9h0M559.3 261.6h0M542.3 293h0M564 266.1h0M570.8 271.1h0M534.4 300.3h0M523.6 273.3h0M577 256.3h0M572.9 270.5h0M554.6 277.7h0M570.4 268.8h0M547.6 277.8h0M565.3 259.8h0M553.8 274.1h0M560.7 272.9h0M570.7 264.4h0M524.1 282.9h0M555.5 283.2h0M555.8 286.3h0M529.6 291h0M555.3 284h0M544.5 287h0M571.6 259.8h0M568.6 256.1h0M525.3 278.2h0M536 299.6h0M553.6 277.1h0M534.3 282.4h0M566.1 287.4h0M570.3 285.7h0M521.5 276.8h0M537.6 293.4h0M538.8 302.3h0M545.5 292.9h0M531.1 290.8h0M538.7 301.1h0M531.1 267h0M544.3 295.3h0M552.4 270.3h0M537.5 300.9h0M521.1 268.5h0M528.7 290.1h0M543.9 277.8h0M569 254.5h0M547.5 279.2h0M562.3 264.8h0M517.1 255.6h0M519.4 270.3h0M499.8 282.9h0M559.3 279.3h0M555.2 266.8h0M537.9 300.1h0M552.8 289.7h0M513.3 271.5h0M561.4 273.2h0M547.4 290.7h0M567.4 279.7h0M567.9 279.8h0M517.5 276.6h0M521.8 275.9h0M546.3 293.6h0M528.2 283h0M541.1 296.6h0M539.2 300.3h0M547 291.2h0M557.9 280.3h0M549.1 288.9h0M519.3 260.6h0M531.5 284.9h0M544.1 283.8h0M501.6 274.1h0M520.4 260.6h0M523.7 261h0M538.1 300.1h0M524.5 285.7h0M545 281.4h0M553.4 275h0M536.2 299.4h0M569.3 289.3h0M585.6 271.6h0M516.2 279.3h0M517.6 268h0M558.5 279.5h0M558.3 284.2h0M512.9 269.8h0M540.1 301.8h0M563.8 267.9h0M529.7 267.5h0M536.6 288.3h0M531.3 259h0M534 286.7h0M546.9 296.8h0M569.4 258.3h0M543.6 294.1h0M549.3 288.5h0M517 266.1h0M552.7 288h0M540.9 301.4h0M511.7 254.9h0M557 254.5h0M553.4 278.6h0M538.2 301.7h0M555.5 283.1h0M531.2 284h0M521.8 280.8h0M552.1 259.7h0M515 282.8h0M558.2 269h0M507.6 262.4h0M502.7 259.6h0M566.9 286.2h0M537.7 301.1h0M589 281h0M556.3 288.2h0M541.5 290.4h0M541.6 298.6h0M522.7 282.5h0M535.5 299.2h0M524.4 278.3h0M553.9 267.1h0M567.1 286.8h0M539.9 300.1h0M537.1 302h0M559.5 264.9h0M524.6 272.6h0M558.4 267.5h0M572.2 281.2h0M525.7 282.1h0M526.5 269.3h0M508.1 256h0M521.5 279.1h0M552 294.1h0M533 277h0M535.3 288.6h0M550.3 281.8h0M541.9 295.7h0M524.5 276.8h0M541.8 297.2h0M501.2 265.2h0M535.8 292.3h0M548.3 289.1h0M579.5 281.5h0M549.2 285.2h0M566.9 277.4h0M525.1 296h0M533.7 298.1h0M525.3 289.2h0M562.8 283.8h0M555.4 272.6h0M531.7 277.9h0M544.3 295.1h0M525.2 290.4h0M549.7 289h0M540.7 299.5h0M524.8 292.9h0M524.5 287h0M525 270.5h0M556.2 291.1h0M566.9 279.6h0M556.5 293.8h0M550.7 287.3h0M494.9 263.8h0M560.1 276.7h0M581.7 263.2h0M575.5 277.2h0M545.6 258.4h0M536.3 300.7h0M522.6 290.1h0M541.7 295.8h0M537.1 298.3h0M535.1 291.1h0M527.2 271.3h0M528 273.1h0M534.2 297.5h0M553.9 269h0M543.5 286.5h0M538.1 300.2h0M528.6 268.6h0M545.8 292.3h0M536.1 286h0M543.6 295.2h0M532.1 288.7h0M534.5 280.6h0M510.5 281.2h0M557.1 254.2h0M547.7 289.3h0M535.4 291.8h0M542.7 286.9h0M537.2 301.6h0M551.3 289.6h0M553.3 292.9h0M547 291.1h0M556.3 257.8h0M551.5 293.3h0M546.4 283.9h0M532.2 288.7h0M555.4 288.6h0M521.4 280.2h0M536.7 299.2h0M547.9 295.3h0M594.8 262.9h0M559 281h0M522.8 257.2h0M571.3 282h0M505.8 278.8h0M561.4 267.6h0M498.6 275.4h0M537.1 280.4h0M541.6 258.4h0M542 275.6h0M542 270.2h0M541.2 274.1h0M541.5 288.3h0M539.1 269.9h0M541.6 256.9h0M538.4 265.7h0M539.9 277h0M545.8 272.1h0M535.6 248.5h0M537.3 260.9h0M542.1 259.4h0M536.5 280h0M535.7 257.7h0M542.4 273.8h0M537 248.2h0M543 278.7h0M536.4 276.3h0M535.8 278.9h0M535.9 266h0M535.8 277.4h0M539.7 276.6h0M540.5 296.9h0M535.1 268.6h0M539.4 277.6h0M537.1 279.9h0M541.8 265.9h0M538.5 296.6h0M534.6 258.3h0M529.2 287.9h0M536 272.6h0M538.7 278.5h0M537.3 278.3h0M538.4 291.2h0M538.5 264.5h0M538.9 261.5h0M538.4 283.4h0M543.7 278.2h0M534.7 281.1h0M539.1 275.3h0M541.5 267.9h0M542.9 256.3h0M537.9 284.2h0M539.2 264.5h0M543.4 274.4h0M544.2 285.6h0M539.2 288.5h0M542 267.6h0M534.9 274.3h0M539.7 271.6h0M543.9 274.7h0M539.7 266.5h0M536.4 276.9h0M527.9 213.1h0M527.8 267.1h0M530.4 241.8h0M527 253.9h0M527.9 233.2h0M529.3 244.2h0M532.8 251.5h0M529.6 246.6h0M528.2 220.6h0M525.9 192.2h0M531.7 231.5h0M531.3 250.6h0M539.3 209h0M526.8 241.9h0M529.9 244.9h0M531.5 250.8h0M520.8 206.1h0M527.3 252.7h0M529.3 245.5h0M528.2 211.2h0M528.8 205.3h0M524.2 248.2h0M526 200.4h0M528.5 259.3h0M530.7 245.5h0M527.5 223h0M526.2 255.6h0M526 207.1h0M529.1 231.2h0M525.9 229.1h0M528.1 242.6h0M522.9 214.1h0M527.4 266.6h0M527.2 277.4h0M531.3 270.5h0M518.5 254.4h0M528.2 171.8h0M522 264.8h0M525.1 269.6h0M535.4 185.7h0M528.8 169.6h0M525.3 217h0M525.5 203.5h0M523.3 226.1h0M525 237.2h0M527.7 223.8h0M534.2 224.8h0M532.8 244.3h0M528.6 287h0M524.7 219.1h0M524.7 249.7h0M531.3 215.6h0M524 240.5h0M526.6 174.2h0M525.2 267.8h0M524.9 230.8h0M523.1 233.1h0M526.5 201.9h0M531.7 244.5h0M521.8 245.7h0M525.2 207.9h0M526.8 169.7h0M535.7 261.6h0M523 198.2h0M531.5 226.8h0M532.1 250.8h0M522.8 247.9h0M529.6 228.9h0M523.6 248.7h0M523.6 242.1h0M525.4 241.1h0M524.5 250.7h0M528.4 259.1h0M530.8 210.1h0M531.8 228.4h0M525.6 242.6h0M532 232.1h0M523.7 226.2h0M525.1 275.3h0M528 186.9h0M529.7 251.9h0M528.5 178.4h0M526.7 224.3h0M526.6 176.9h0M530.7 235.8h0M523.9 211.5h0M523.3 210.5h0M522.3 243h0M524.3 261.4h0M528.6 254.4h0M524.1 199.2h0M526.5 233.5h0M531.7 249h0M528.7 257.8h0M531.6 186.3h0M533 221.2h0M530.6 254.7h0M519.1 205.4h0M530.6 272.9h0M527.8 228h0M527.8 286.9h0M531.5 194.8h0M529.1 286.3h0M526.7 159h0M531.9 244h0M534.1 237.5h0M527.1 209.7h0M529 265.5h0M527.8 232.6h0M523.7 229.3h0M529.6 270.8h0M530.6 235.1h0M536.5 204h0M528.6 227.8h0M528.4 215.1h0M527.4 169.6h0M523.4 246.9h0M525.2 214.8h0M530.7 266.3h0M524.8 255.4h0M526.9 261.8h0M526.4 166.3h0M525 226.9h0M529.6 194.4h0M532.6 255.7h0M529.3 248.5h0M527.9 259.1h0M530.7 244.6h0M526 196.1h0M525.8 165.3h0M527.7 184.3h0M527.6 174.3h0M526 123.3h0M526.1 185.6h0M523.4 201h0M527.7 133.7h0M525.9 137.1h0M526.4 190.2h0M530.3 179.1h0M526.6 175.9h0M525.4 194h0M529.1 149.7h0M529.4 134.8h0M526.4 137.3h0M523.5 219h0M527.4 177.9h0M525.4 169.8h0M526.2 141.3h0M526.4 195.1h0M527.9 180.8h0M526.7 123.2h0M529.9 179.9h0M526.9 197.7h0M526.1 189.8h0M528.8 181.5h0M525.2 195.2h0M527 229.9h0M526.3 192.6h0M524.6 186.5h0M524.8 191.5h0M527.7 197.6h0M527.3 223.8h0M525.7 171h0M526.7 196.5h0M527 150.9h0M523.8 175.3h0M527.3 154.1h0M526.9 160.7h0M524.7 136.4h0M529.1 198.6h0M527.2 143.1h0M534.3 204.9h0M525.4 150.7h0M524.5 217.3h0M526.8 181.5h0M530.2 173.7h0M533.5 195.9h0M526.5 202.1h0M526.9 155.5h0M527.7 171.7h0M524.8 139.3h0M527.6 161.3h0M527.4 172.3h0M529.8 180.3h0M529.2 200.9h0M530.9 180.1h0M521.6 180.2h0M526.3 210.2h0M523.2 179.6h0M527.7 184h0M526.4 176.2h0M527.3 193.4h0M544.6 250.7h0M549.9 242.3h0M551.2 250.5h0M550.9 261.6h0M543.2 262.1h0M556.1 257.3h0M548.4 262.6h0M551.1 247.8h0M551.2 286.4h0M548.4 263.9h0M553.3 257.9h0M550.4 240.4h0M554.2 256.5h0M554.6 253.7h0M551.1 266.8h0M557.7 264.4h0M557 276.7h0M546.9 273h0M546 227.6h0M549.9 236.4h0M542.8 241.8h0M554.6 227.6h0M553.2 227.1h0M550 267.7h0M547.2 270.2h0M551.3 290.1h0M546.8 269.5h0M548.9 263.9h0M541.9 252.9h0M550.7 265.4h0M548.5 247.3h0M551.7 274.3h0M557.9 257.6h0M552.6 265.4h0M552.2 260.7h0M553.2 259.5h0M549.5 256.3h0M548.3 271.1h0M548.4 256.6h0M554.4 263.4h0M552.4 227.8h0M556 259.1h0M557.5 264.2h0M549.1 257.7h0M546.7 269.7h0M546.6 242.5h0M547.9 257.5h0M552.8 246.8h0M546.7 244h0M550.2 261.8h0M550.1 243.2h0M551.6 274.3h0M546.4 265.9h0M542.5 239.1h0M556.5 240.9h0M554.8 257h0M564 240.4h0M551.1 251.5h0M551.1 272.4h0M551.9 256.8h0M557.2 258.5h0M549.1 250.2h0M539.6 257.5h0M552.5 246.6h0M551 242.8h0M546.5 257.1h0M542.4 251.8h0M545 269.2h0M545.1 253.8h0M556.2 266.5h0M552.8 246.8h0M552.5 250.5h0M556.6 249.3h0M554.5 256.4h0M535.7 230.1h0M506.4 254.5h0M515.7 261.6h0M537.2 269.9h0M517.5 207.3h0M510.5 248.2h0M525.8 249.4h0M528.9 220.8h0M527.8 224.5h0M517.5 220.8h0M511.3 230.3h0M514.1 208.7h0M517.6 220.4h0M512.2 260.3h0M524.3 251.7h0M518.1 255.4h0M520.8 254.1h0M508.6 245.2h0M516.3 236.7h0M515.7 235.3h0M515.7 258.6h0M513.3 230.7h0M530.3 234.4h0M522.2 221.9h0M501.7 246.2h0M516 233.7h0M526.3 232.6h0M516 241.2h0M510.9 219.2h0M508.5 258.6h0M525.3 229.8h0M524.7 248.2h0M515.6 234.9h0M512.9 236.9h0M507.9 264.4h0"/>
<path stroke-width="5.3" d="M551.2 265.9h0M564.4 264.1h0M504.3 255.1h0M539.6 300.2h0M539.4 300.2h0M517.2 260.6h0M516.3 288.2h0M567.3 276.9h0M526.6 286.7h0M570.2 276.6h0M530.2 273.9h0M534.5 298.7h0M537.8 298.7h0M521.2 275.1h0M527.8 275.7h0M571.7 285.4h0M545.2 292.9h0M556.5 288.6h0M529 286.8h0M558.9 281.8h0M515.8 276.3h0M567.7 254.8h0M531.7 294.5h0M525.2 286.3h0M543.2 299.1h0M549 291.7h0M572.6 259.7h0M522.3 276.3h0M508.9 285.2h0M553.3 287.1h0M518.7 283.3h0M514.5 264.4h0M553.9 265.7h0M557.4 261.3h0M568.5 272.9h0M518.5 271.4h0M529.3 297.3h0M531.1 284.4h0M550.2 288.8h0M562.9 286.7h0M520.8 272h0M539.1 301.2h0M554 273.4h0M541.5 293.2h0M540.2 300.2h0M510.9 258.1h0M567.1 267.9h0M535.5 300h0M497 260.4h0M521.5 278.6h0M535.1 297h0M555.7 260.1h0M532.8 290.8h0M547 294h0M548.1 278.6h0M526.5 276.7h0M562.7 270.7h0M530.3 263.5h0M555 290.8h0M529.3 258h0M547.1 288.7h0M556.5 278.3h0M551.2 294.3h0M525 281h0M544.9 280.7h0M536.2 299.5h0M530.4 290.9h0M520.7 261.3h0M515.5 266h0M589.4 264.8h0M549 276.4h0M543.1 271.6h0M536.2 298.3h0M545.6 286.7h0M544.5 293.7h0M559.1 278h0M535.9 296.6h0M542.4 298.7h0M521.5 283.9h0M525.8 269.9h0M550 290h0M533.6 281.1h0M576.4 269h0M529.2 290.4h0M547.7 296.2h0M528 275.4h0M512.3 277.8h0M495.5 261.8h0M562.2 281.9h0M561.9 287.6h0M551.2 284.7h0M513.2 281.2h0M574.8 279.1h0M570.3 264.6h0M557.8 275.4h0M567.2 282.4h0M547.3 295.7h0M580.5 266.5h0M543.8 287.7h0M548 285.2h0M571.6 259h0M539.2 300.5h0M538 298.6h0M532.8 272.7h0M516.9 269.8h0M544.6 293.6h0M528.2 287.9h0M573.7 284.7h0M541.2 301.2h0M541.6 293.8h0M521.1 276.4h0M539.9 299.9h0M515.4 284.3h0M541.6 298.3h0M520.4 277.7h0M551.5 260.6h0M519.8 279.1h0M521.2 282.3h0M530.8 286h0M527.8 298h0M523.7 294.8h0M538 293h0M550.7 280.7h0M550.7 268.9h0M539.9 300.4h0M549.7 287.4h0M539.8 300.1h0M525.7 276.6h0M533.9 297.4h0M563.3 284.9h0M511.2 271.4h0M529 287.8h0M511.3 257.2h0M523.5 290.4h0M532 288.4h0M537 298.4h0M523.5 254.3h0M533.7 294.1h0M576.6 280.1h0M580.2 259.9h0M545.1 293.4h0M535 292.5h0M586.4 265.7h0M575.4 283.4h0M531.4 290.6h0M536.7 295.5h0M550.6 286h0M528.3 296.3h0M556.9 267.4h0M553.4 271.8h0M560.9 262.9h0M549.6 270h0M576.5 275h0M556.4 279.2h0M543.1 295.6h0M531.2 260.6h0M569.9 284.1h0M536.7 297.8h0M525.2 281.9h0M537.4 295.5h0M540.7 293.8h0M547 292.3h0M518.3 269.3h0M555.2 284.4h0M549.3 291.5h0M567.9 276.4h0M516.2 268.1h0M522.2 280.8h0M537.7 298.5h0M565.8 264.6h0M536.2 292.3h0M585.5 280.3h0M530.7 279.5h0M506.4 273h0M564.5 263.6h0M538.8 300.9h0M566.4 262.9h0M540.8 298.4h0M553.3 284.6h0M522.4 285h0M525.4 267.3h0M549.9 283.2h0M541.8 297h0M529.1 283.2h0M538.3 301.7h0M539.7 299.6h0M535.8 286.4h0M528.2 290.8h0M536.8 297.8h0M558.7 258.4h0M536.8 297.6h0M561.5 269.3h0M524.4 271.8h0M545.1 294h0M552.4 270.7h0M534.2 299.8h0M556.5 278.9h0M531.8 285.9h0M569.5 261.7h0M515.9 270.3h0M540.7 299.7h0M554.7 267.2h0M544.8 291.1h0M546.1 294.6h0M548.3 293.4h0M524.9 281.2h0M519.4 277.9h0M531 262h0M540.7 299.1h0M524.8 286.1h0M564.9 274.4h0M532.2 277.7h0M527.4 273.3h0M543.9 290.6h0M544.2 289.5h0M523.8 279.9h0M511.3 278h0M549.3 275.8h0M523.7 277.3h0M534.6 295.5h0M529 283.7h0M524.6 287.2h0M540.9 300h0M520.6 285.6h0M564.4 264.6h0M519.8 277.9h0M564.7 268.3h0M531.8 276.1h0M537.9 300.2h0M563.7 287.5h0M524.8 265.7h0M499.6 282.9h0M558.3 272.6h0M578.7 263.5h0M569.2 260.8h0M547.6 291h0M517.3 291.1h0M561.1 277.4h0M523.5 289.8h0M536.5 298.2h0M524.4 284.7h0M545.7 298.9h0M537.4 297.9h0M542.6 296.1h0M546.4 295.1h0M567.4 264h0M558.2 263.1h0M511.6 275.2h0M562.4 290.2h0M532.4 290.9h0M540.4 301h0M558.1 259.9h0M552.5 263.8h0M508.3 270.8h0M565.5 289.5h0M523.4 286.1h0M536.7 300.1h0M555.9 282.5h0M531.5 288.5h0M541.2 298.1h0M532.7 289.1h0M534.6 291.8h0M550.9 284.9h0M561.3 255.7h0M537.6 301.4h0M533.5 284.4h0M526.4 291.2h0M538.5 300.8h0M520.7 260.2h0M570.3 268.7h0M551.8 287.8h0M525.9 266.2h0M554 280h0M552.2 275.2h0M549.1 280.9h0M570.8 288.2h0M541.2 301.1h0M533.8 285.2h0M535.9 300.9h0M523.2 292.9h0M531.4 276.7h0M533.8 289h0M544.7 295.5h0M564.5 281h0M542.4 298.4h0M551.3 284.5h0M549.8 289.1h0M552 293.2h0M530.2 283.5h0M535.4 298.5h0M530.3 267.7h0M520.8 268.6h0M514.4 278.6h0M537.8 301h0M535.3 295.1h0M544.6 294.1h0M520.9 274.2h0M556.6 287.5h0M520.4 274.7h0M535.4 292.1h0M523.6 288.1h0M543.1 298.2h0M524.2 291h0M527.3 285.7h0M553.4 268.7h0M565.9 262.8h0M547.5 286.6h0M519 278.1h0M536.3 292.8h0M561.2 289.5h0M548.9 294.9h0M526.8 275.2h0M513.6 260.8h0M559.8 272.9h0M576.2 282.8h0M530.6 287.6h0M509.5 280.9h0M537.6 299h0M548.4 283.5h0M530.2 289.3h0M523.3 261.1h0M533.8 291.2h0M532.4 294.8h0M538.7 299.5h0M540.6 299.2h0M538.7 301.6h0M554.8 256.3h0M542.7 290.7h0M541.6 296.3h0M534.9 284h0M515.2 262.1h0M557 270h0M521.2 283h0M540.6 299h0M520.4 275.3h0M536.1 295.1h0M560.2 279h0M532.9 284.7h0M515.5 254.4h0M572.7 286.1h0M545.5 297.8h0M540.7 301.2h0M511 281.3h0M519.9 264.8h0M562.1 279h0M528.3 258.1h0M560.4 274.6h0M537.9 302h0M509.8 284.7h0M534.4 298.2h0M537.2 300.8h0M521 285.1h0M521.9 288.7h0M552 285.6h0M539.6 298.8h0M562.2 263.8h0M551.4 293.3h0M519.8 283.6h0M550.9 281.9h0M545.9 298h0M545.2 289.2h0M527.5 276.5h0M530.2 290.3h0M528.9 289.2h0M517.9 270.5h0M554.5 289.6h0M558 279.8h0M542.7 296.4h0M523.8 288.1h0M534.4 296.8h0M530.2 294.5h0M540 300.6h0M549.7 283.4h0M487.7 281.8h0M544.1 285.3h0M544.7 290.9h0M538.5 302h0M541.6 290.5h0M547.4 288.2h0M551.4 291h0M524.1 261.1h0M538.6 300.6h0M561.6 275.6h0M542 298.4h0M550.4 289.2h0M548 282.3h0M514 267.2h0M532.5 291.7h0M532 288.7h0M493.5 257.8h0M548.5 270.6h0M534.8 293.9h0M575.4 268.7h0M540.4 299.4h0M527.4 259h0M531.4 271h0M543.3 294.9h0M565 276.3h0M554.3 280.4h0M508.6 266h0M562.6 269.6h0M532.6 285.2h0M525.9 276h0M549.9 288.6h0M511.9 256.5h0M557.3 292.5h0M553.8 256.1h0M537.6 300.2h0M566.6 278.7h0M529.5 294h0M538.1 301.9h0M535.6 276.3h0M535.2 298.9h0M521 265.7h0M539 302h0M525.3 280.2h0M542.6 297.2h0M546.9 292.7h0M521 280.9h0M532.3 279.3h0M533.8 297.2h0M533.3 294.7h0M508.9 271.5h0M557.4 280h0M528.1 266.7h0M503 261.7h0M553.2 262.1h0M506.5 256.3h0M540.4 298.3h0M526 283.2h0M535.4 286.1h0M542.7 299.9h0M520 270.3h0M525.3 282.3h0M518.7 287.2h0M552.5 285.8h0M523.4 277.9h0M525.1 278.9h0M517.1 280.4h0M531.7 289.5h0M528.6 274.5h0M523.1 257.2h0M531 264.7h0M540.6 293.3h0M517 254.4h0M536.7 297.2h0M534.8 297h0M551.4 275.2h0M549.1 296.2h0M548.3 290.1h0M577.7 263.1h0M528.6 287.1h0M540.1 300h0M567.8 288.8h0M551.6 283.1h0M539.6 300.2h0M551.1 275.5h0M535.5 296.6h0M534.3 287.1h0M545.6 293.6h0M557.4 268.2h0M538.7 299h0M552.3 282.4h0M527.6 260.4h0M518.8 292.7h0M529.7 260.6h0M532 282h0M523.6 282.3h0M549.5 293.7h0M510.8 289.2h0M555.5 286.1h0M547.1 295.9h0M532.3 279.5h0M516.4 255.3h0M545.4 293.6h0M556.8 276.7h0M545.4 293.4h0M537.3 301.4h0M545.5 286.1h0M526.6 289.5h0M537.7 297.6h0M557.9 266.1h0M539.2 299.4h0M506.1 274.2h0M533.3 279.5h0M548.1 283.8h0M559.2 283.7h0M537.7 299.8h0M516.7 274.1h0M548.6 296.7h0M539.5 298.9h0M521.7 275.3h0M530.1 297h0M527 295.4h0M529.1 267.2h0M509 270.2h0M520.6 288.8h0M556.6 286.2h0M527.6 282.7h0M577.5 279.1h0M526.8 215.6h0M521.3 245h0M525.6 183.8h0M526.3 208.2h0M527.5 276.6h0M528.7 225.7h0M526.1 257.2h0M534.2 242h0M528.2 263h0M525.7 210.8h0M523.6 286.8h0M531.5 211.4h0M524.6 227.5h0M532.1 200.7h0M533.8 212.6h0M528.4 213.5h0M528.6 253.1h0M527.2 238.2h0M526 212.6h0M521.8 219h0M527.2 236.7h0M528.6 184.1h0M525.7 177h0M524.5 178.1h0M522.3 223h0M528 228h0M527.3 253.5h0M534.7 276.3h0M520.7 225.6h0M533.2 196.7h0M529.4 180.5h0M528.6 222h0M529.4 235.3h0M527.4 232.1h0M526.1 282.3h0M530.2 277.5h0M527.7 278.7h0M525.4 205.4h0M525.6 227h0M530.9 227.6h0M529.2 204.8h0M524.6 211.4h0M523.2 165.3h0M533.5 201.5h0M527.9 268.1h0M526.9 236.1h0M528.2 211.1h0M528.7 266h0M528.4 195.5h0M531.7 192.8h0M527.1 187.5h0M530.4 247.5h0M521 221.9h0M529.2 81.2h0M526.6 154.9h0M522.4 160.6h0M520.1 151.5h0M522.7 174.3h0M524.3 175.9h0M525.4 217.4h0M524.2 183.5h0M526.1 148.9h0M528.5 139.2h0M527 110.2h0M528.1 172.3h0M526.7 156.5h0M527.1 193.3h0M527.2 207.1h0M526.6 217.5h0M526.9 190h0M526.7 139.1h0M526.2 241.9h0M527.1 180.5h0M527.5 161.5h0M525.9 171.5h0M523 189.4h0M529.4 213.9h0M528.4 143.9h0M524 202h0M545.2 259.1h0M546.4 244.7h0M550.2 241h0M543.1 231.5h0M555 257.4h0M557.9 242.3h0M548.8 229.7h0M547.6 255.3h0M539.3 266h0M551.6 261.1h0M544.6 266.2h0M543.8 267h0M545 229.6h0M547.2 240.9h0M555.1 254.6h0M551.4 255.5h0M547.6 265.4h0M546.9 267.3h0M548.2 246.6h0M559.8 240.2h0M546.4 259.8h0M550 263.4h0M547.5 245.8h0M555.8 263h0M556.2 250.8h0M551.1 243.3h0M558.3 247.5h0M545.3 253.1h0M553.6 237.7h0M554.7 248.4h0M549.3 261.4h0M552.1 262.8h0M540.9 240.3h0M555.4 237.5h0M551.2 278.2h0M551.8 234.7h0M544.7 237.6h0M524.8 248.7h0M506 252h0M523.5 251.9h0M523.1 257.1h0M522.4 256.3h0M511.2 230.7h0M525 240.6h0M522.5 222.3h0M523.5 250.2h0"/>
<path stroke-width="6.1" d="M522.6 289.3h0M542.2 294.2h0M532.3 288.9h0M508.3 269.4h0M533.8 299.4h0M518.8 274.2h0M527.4 227.6h0M526.9 212.1h0M526.9 229.5h0M528 242.2h0M526.8 230h0M524.6 187.1h0M524.2 264.3h0M531.4 266.9h0M527.6 258.2h0M533.3 278h0M523.5 284.3h0M531.2 215.1h0M528.1 147.5h0M526.5 229h0M529.3 241.8h0M527 256.1h0M524.6 254h0M531.7 190.2h0M521.9 219.6h0M527.6 202.6h0M527.4 251.7h0M527.3 244.1h0M530.7 211.4h0M531.5 237.5h0M528.8 291.7h0M523.6 248.3h0M523.9 255.7h0M527.7 275.8h0M529.5 230.1h0M528.1 251h0M527.5 221.8h0M522.2 271.9h0M530.2 274.6h0M524.8 248.6h0M530.4 236.7h0M535.6 235.4h0M526.4 167.5h0M523.3 220.4h0M525.5 284.2h0M522.7 192.4h0M529.2 292h0M523.7 284.2h0M526.8 227.1h0M528.5 255.7h0M530.7 260.7h0M528.9 216.6h0M531.4 215.1h0M526.8 230.9h0M525 235.1h0M531.6 233.5h0M548 244.5h0M550.8 251.2h0M552.6 246.5h0M557.2 265.3h0M542.5 228.2h0M559 252.3h0M555.1 246.8h0"/>
<path stroke-width="6.5" d="M527.1 190.5h0M531.7 205.5h0M534.4 257.6h0"/>
<path stroke-width="6.6" d="M527.6 257.8h0M525.5 250.2h0M529.7 207.1h0M531.8 245h0M530.8 236.1h0M528.7 257h0"/>
<path stroke-width="6.8" d="M522.2 259.6h0M532 200.7h0M532.7 209.3h0M524.6 247.1h0M526.7 244.2h0M531.6 246.6h0M524.4 254.8h0M598.2 268.6h0M590.9 265h0"/>
<path stroke-width="7.6" d="M534.7 216.1h0"/>
<path stroke-width="8" d="M529 225.2h0"/>
<path stroke-width="8.4" d="M530.6 246.9h0"/>
<path stroke-width="8.7" d="M533.9 210.7h0M665.8 288.5h0"/>
</g>
<g stroke="#eaa33d" stroke-linecap="round" fill="none" transform="scale(1.13 1)">
<path stroke-width="4.6" d="M514.8 189.7h0M516.4 251.4h0M518.2 196.6h0M515.3 205.7h0M519.9 245.3h0M516.2 246.6h0M518.3 230.7h0M518.4 216.4h0M515.3 206.9h0M517.9 201h0M516.9 185.2h0M516.4 168.9h0M496.1 243.9h0M489.6 234.7h0M486.2 224.8h0M498.3 240.6h0M501.9 235.9h0"/>
<path stroke-width="5.3" d="M518.9 215.4h0M515.1 193.8h0M514.9 207.3h0M512.8 195.4h0M518.4 227.3h0M515.8 219.2h0M515.5 209.1h0M504.3 233.8h0M502.6 245.9h0M494.2 232.5h0"/>
<path stroke-width="6.1" d="M510.4 248.3h0M518.4 247.6h0M512.3 242h0M513.9 222.9h0M517 188.3h0M496.4 224.9h0M502.5 244.8h0M502.4 253h0M503.1 227.4h0"/>
<path stroke-width="6.5" d="M517.7 250.8h0"/>
<path stroke-width="6.6" d="M517.1 213.1h0M513.8 225.3h0M514.5 225h0"/>
<path stroke-width="6.8" d="M516.8 238.6h0"/>
<path stroke-width="7.2" d="M512.9 198.1h0"/>
</g>
<g stroke="#e8414b" stroke-linecap="round" fill="none" transform="scale(1.13 1)">
<path stroke-width="5.3" d="M566.3 254.9h0M563.5 247h0M558.4 231.1h0M563.9 250h0M563 241.7h0M561.5 243.8h0M558.2 254.2h0M563.3 255.6h0M558.9 244.8h0M561.7 247.9h0M563.4 241.5h0M563.5 246h0M564 251h0M562.2 243.1h0M559.5 242.7h0M567.5 247.3h0"/>
<path stroke-width="6.1" d="M556.8 253.5h0M558.3 254h0M559.7 250.9h0M566.9 245h0M565.3 236.4h0M567 241h0M558.8 239.6h0M561.3 246.1h0M562.7 249.6h0M561.1 255.2h0M565.2 243.2h0"/>
<path stroke-width="6.5" d="M562.7 251.8h0"/>
<path stroke-width="6.6" d="M564.5 249h0M561.7 243.7h0"/>
<path stroke-width="6.8" d="M556.4 240.6h0"/>
<path stroke-width="7" d="M561.3 251.8h0M560.8 252h0"/>
<path stroke-width="7.6" d="M562.6 253.7h0"/>
<path stroke-width="7.8" d="M563 221.2h0M556.5 253.9h0"/>
<path stroke-width="8.2" d="M563.8 254.7h0"/>
<path stroke-width="8.4" d="M562.1 256.1h0M565.7 242.9h0M561.3 255.2h0"/>
<path stroke-width="8.7" d="M560.7 244.4h0"/>
<path stroke-width="9.1" d="M560.9 249.2h0M564.4 252.5h0"/>
<path stroke-width="9.9" d="M562.8 255.5h0"/>
<path stroke-width="10.1" d="M561.1 245.4h0"/>
</g>
<g stroke="#86d3ea" stroke-linecap="round" fill="none" transform="scale(1.13 1)">
<path stroke-width="3.8" d="M561 274.8h0M527.1 285.2h0M563.2 280.8h0M529 274.7h0M569.8 280.8h0M557.6 262.9h0M538.5 302.1h0M534 299.1h0M534.4 288.6h0M551.6 278.6h0M547 293.1h0M578.1 262h0M560.7 255.9h0M536.2 298.5h0M527.4 268.9h0M539.8 299.4h0M538.1 299.3h0M566.2 265.1h0M539.7 299.9h0M539.1 301.6h0M530.1 283.7h0M537.5 295.1h0M531.7 294.1h0M531.3 288.9h0M555.9 279.3h0M548.4 290.1h0M537.3 296.6h0M585.3 271.9h0M519.4 286.4h0M564 275.9h0M529.1 267.3h0M524 280.8h0M562.8 273.7h0M543.9 293.3h0M532.3 288.1h0M529 280.6h0M525 289.6h0M546.9 289h0M535.7 297.9h0M537.3 299.9h0M538.4 301.6h0M538.4 301.6h0M526.1 293.1h0M529.2 269.4h0M533.4 289.8h0M543 293.5h0M508.5 270.2h0M529.5 271h0M546 292.1h0M573.8 287.6h0M498.9 258.6h0M535.5 293.9h0M549.8 295h0M544.1 293h0M517.5 257.2h0M537.4 300.3h0M524.1 279.7h0M536.8 282.5h0M551.5 292.5h0M514.6 271.8h0M546.3 298.2h0M551.8 254.8h0M520.6 254.2h0M543.2 298.4h0M550 289.5h0M568.8 254.3h0M548.9 292.3h0M533 293.4h0M530.6 294h0M530.4 286.8h0M532.6 285.7h0M533.8 272.8h0M523.2 259.3h0M571.9 259h0M539.3 301.4h0M501.9 273.3h0M521 276.7h0M538.8 302.5h0M528 269h0M543.7 296.2h0M571.1 255.8h0M536.5 293.6h0M554.2 284.8h0M518.9 277h0M552.5 293.5h0M556.6 256h0M568.3 272.8h0M539.7 247.3h0M543.8 289.9h0M538.6 267.5h0M537 278.4h0M537.3 269h0M537.8 292.6h0M540.6 267.2h0M538.6 271.7h0M539 254.4h0M539.2 271.4h0M541.8 268.3h0M541.4 291.5h0M539.5 275.8h0M543.1 259.4h0M543.5 290.7h0M543.9 270.5h0M539.6 277h0M542.3 287.1h0M534.1 286.3h0M538.1 265.7h0M542.6 284.9h0M535.6 276h0M545.9 287.9h0M541.4 295.7h0M541.8 262h0M538.8 268.3h0M531.6 266h0M536.3 268.6h0M536 282h0"/>
<path stroke-width="4.6" d="M544.2 256.8h0M545.9 298.6h0M520.6 275.1h0M546.4 294.1h0M535.5 297.2h0M527.6 296.2h0M509.8 254.5h0M542.7 300.5h0M541.4 299.6h0M527.8 278.9h0M553.5 270.6h0M566 256.5h0M534.1 297h0M535.6 296.2h0M517.2 286.2h0M534.6 296.5h0M545 298.1h0M540.2 292.4h0M512.6 267.2h0M554.4 282.6h0M518.7 263h0M523.1 287h0M577.4 271.8h0M550.2 278.7h0M529.4 293.6h0M577.5 254.5h0M555.7 283.8h0M549.4 291.9h0M546.4 293.2h0M572.1 258.7h0M550.1 266.2h0M551.2 285h0M542.9 296.6h0M563.4 266.9h0M552.7 279.8h0M548.7 295.5h0M515.5 266.4h0M526.7 274.6h0M530.3 280.3h0M565.1 268.7h0M541.6 297.8h0M543.5 292.9h0M536.7 299.3h0M537.1 300.6h0M529.9 280h0M554.8 289.5h0M551.5 264h0M566.7 284.2h0M532.3 290h0M576 278.5h0M529.2 290.8h0M522.5 274.9h0M540.5 299h0M518.4 274.3h0M557 275.4h0M540.3 299.4h0M541.6 301.5h0M534.7 298.2h0M524.2 280.4h0M530.7 292.7h0M527.7 284.2h0M545.6 298.9h0M543.6 292.5h0M529.4 271h0M581.6 269h0M524.3 285.9h0M532.7 293.6h0M547.1 286.4h0M562.1 289.1h0M530.2 294.4h0M550.6 286.3h0M552.3 292.7h0M535.5 298.3h0M540.2 299.8h0M522.8 281.8h0M546.5 260.9h0M557.1 278.4h0M543.9 287.8h0M534.6 284.9h0M514.1 276.9h0M545.2 297.9h0M526.3 290.5h0M546.4 265.7h0M538.7 302h0M539.5 301.2h0M564.6 263.2h0M551.2 270.8h0M535.1 298.7h0M527.9 285.5h0M537.6 297.3h0M563.2 275h0M535 294.2h0M517.9 258.6h0M532.9 298.3h0M539.3 301.5h0M530.1 267.9h0M545.4 297.9h0M508.7 279.3h0M534.4 289.1h0M549.9 291.2h0M519.6 262.7h0M532.9 295.6h0M527.4 292.2h0M514.2 283.2h0M495.7 276h0M569.5 272.9h0M523.4 293.8h0M545.1 297.5h0M551.1 288h0M553.4 285h0M518.4 254.3h0M564.6 288.8h0M522.2 272.4h0M511.3 258.1h0M533 270.4h0M544.4 281.7h0M527.6 267.3h0M551.5 258.5h0M508.5 279.2h0M540.2 297.1h0M515 257.2h0M532.9 299.4h0M533 292.1h0M518.6 256h0M536 289.2h0M552.8 271.9h0M555.3 281.4h0M521.8 277.4h0M544 272.9h0M562.1 274.8h0M544.3 291.9h0M539.1 300.7h0M554.2 274.9h0M524.6 276.9h0M540.5 293.1h0M564.9 286.9h0M527.9 295.4h0M550.1 296.5h0M523.9 262.4h0M537.3 299.4h0M513.4 262.1h0M526.1 292.2h0M513.7 281.5h0M513.7 282.3h0M557 276.2h0M549.4 297.1h0M548 292h0M550.6 294.9h0M530.9 298.2h0M555.3 259.8h0M528.2 268.7h0M540.9 299.9h0M575.3 256.7h0M542.9 299h0M530 269h0M563.2 265.7h0M534.9 296h0M551.4 284.8h0M536.5 288.2h0M543.2 297.4h0M546.5 294.1h0M521.3 262.5h0M551 280h0M548.2 289.7h0M517.3 268.5h0M533.1 299.6h0M544.4 294.3h0M525.7 264.3h0M537.8 298.7h0M511.5 282.4h0M542 300.8h0M551.7 286.6h0M516.5 262.6h0M531.4 290h0M516 265.9h0M548.3 297.4h0M551.6 265.6h0M528.1 294.3h0M526.2 259.7h0M553.3 285.7h0M572.9 261.6h0M537.5 294.9h0M538.5 297.4h0M535.5 295.9h0M552.3 289.5h0M559.5 255.1h0M560.1 260.5h0M556.9 283.9h0M543.3 290.2h0M552.1 282h0M535.8 289.3h0M557.2 286h0M576.8 260.1h0M543.5 283.3h0M541 298.4h0M555.7 281.7h0M532.3 292.4h0M534.3 298.6h0M532.5 299h0M531.5 280.1h0M548.6 293.8h0M539.1 302.5h0M520.1 265.6h0M571.1 264.3h0M531.3 291.7h0M522.9 284.4h0M510.6 281.7h0M535.7 297.9h0M560 267.8h0M505.6 273.2h0M538.1 299.5h0M545.7 296.3h0M535.7 295.6h0M513.4 257.5h0M552.3 289.8h0M517.5 257.7h0M529.9 295.6h0M546.8 275.4h0M553 264h0M536 291.5h0M540.3 296.5h0M532 291.3h0M567.6 286.6h0M560 278.8h0M547.8 295.6h0M532.4 294.7h0M557.2 291h0M543 299.1h0M513.2 266.2h0M547.4 293.5h0M514.9 269.6h0M537.1 301.2h0M521.9 283.9h0M554 294.8h0M539.9 300.3h0M525.4 262.1h0M538.5 301h0M552.7 282.5h0M533.5 296.1h0M543.3 299.6h0M544.6 283.7h0M546.3 285.7h0M550.4 278.2h0M538 292.8h0M526.9 255.8h0M536.1 297.5h0M529.5 284.2h0M558.7 270.2h0M563.8 285.8h0M523.1 282.4h0M519.6 256.3h0M523.3 284.4h0M530.4 296.2h0M593.3 266.3h0M537.9 301.1h0M565.1 270h0M524.4 269.7h0M505.7 255h0M526.4 291.1h0M552.3 294.5h0M563.4 281h0M544.8 292.8h0M545.9 291.5h0M542.1 296.5h0M548.1 290.1h0M538 301.5h0M542.5 295.3h0M534.4 287.1h0M524.5 278.7h0M540.2 297.3h0M525.9 277.1h0M537.9 300.7h0M545 292.4h0M568.4 284.4h0M524 276.4h0M524.2 280h0M543.4 294.2h0M554.9 262h0M546.1 293.9h0M521.4 267.3h0M560.2 260.1h0M541.2 287.1h0M535.8 292.6h0M512.2 289.2h0M501.5 267.1h0M531.8 292.2h0M508.3 279h0M582.7 268h0M541.5 284.3h0M518.8 270.5h0M583.4 267.6h0M515.7 292h0M556 278.3h0M545.9 298.1h0M547.4 264.9h0M524 273.6h0M532.6 286.4h0M525 277h0M536.2 301.1h0M515.5 281.3h0M583.2 260.2h0M538.1 302.4h0M521.4 273.2h0M520.2 266.7h0M540.7 296.8h0M531.7 289.9h0M571.2 283.5h0M521.4 281.7h0M498.7 260.7h0M527.4 255.1h0M517.7 268h0M557.3 281.5h0M580.7 282.6h0M550.4 288.2h0M571.1 262.7h0M574.1 282.4h0M535.1 294.4h0M504.6 254.9h0M514 275.8h0M533.1 292.1h0M557.6 282.6h0M554.7 267.3h0M564.9 259.2h0M510.8 257.3h0M546.8 281h0M503 260.6h0M577.5 270.2h0M552.8 282.6h0M511.5 284.1h0M542.2 298.1h0M543.1 297.6h0M547.4 293.9h0M529 294.1h0M557.8 266.7h0M553.6 284.5h0M554.3 288.9h0M526.6 279.7h0M548.3 296.5h0M556.5 289.7h0M510.3 288h0M528.5 292.4h0M562.3 284.8h0M501.9 264.5h0M535.5 281.5h0M539.7 299h0M537.1 301.5h0M570.4 262h0M506.8 281h0M529.5 287h0M540.7 298.5h0M524.9 283.9h0M535.5 290.1h0M567.8 254.9h0M521.1 272.1h0M533.1 295.6h0M543.4 298.7h0M536.3 287.1h0M572.8 285.5h0M528.3 282.9h0M573.4 267.7h0M535.6 298.6h0M491.5 254.3h0M539.7 300.3h0M528 286.5h0M534.7 293.1h0M539.2 297.8h0M540 298.5h0M531.4 285.7h0M526.8 290.2h0M527.6 293.7h0M523.8 272.3h0M538.3 302.1h0M524 278.2h0M531.9 286.5h0M533.2 294.3h0M568.2 286.7h0M543.1 294.6h0M523.8 266.7h0M541.8 297.7h0M535.1 298.1h0M535.3 294.1h0M522.6 261.7h0M536.6 300.3h0M531.4 269.8h0M521.3 279.5h0M514.9 269.3h0M554.4 288.8h0M519.2 289h0M556.1 266.2h0M554.8 288.8h0M545.2 298.3h0M528.1 293.4h0M526.7 289.2h0M570.4 263.7h0M515.7 266.3h0M530.5 280.6h0M536.1 299.2h0M545.1 293.9h0M532.4 263.2h0M546.6 278.3h0M563.6 265.9h0M527.1 288.3h0M542.1 297.8h0M568 266.4h0M537 298.6h0M520.9 273.1h0M560 277.1h0M547.4 295.3h0M558.6 278h0M566 271.5h0M547.3 289h0M509.7 285.3h0M553.3 281.9h0M543.8 279.2h0M565.5 262.1h0M528.7 278.2h0M543.1 295.5h0M533.5 279.2h0M565.7 272.8h0M518.4 285.3h0M536 300.1h0M526.2 285.1h0M556.4 255.3h0M507.1 272.3h0M532.2 294.9h0M523.2 264.1h0M542.5 299.9h0M560.6 269.2h0M549.8 274.8h0M515.9 279.4h0M560.9 270.8h0M542.7 288.8h0M540.7 292.4h0M536.2 300.3h0M537.1 298.8h0M537.9 301h0M547.3 290h0M534.1 297.7h0M555.4 292.7h0M558 254.5h0M521.8 277.8h0M539.3 301.4h0M537.2 300.7h0M532.8 297.4h0M534.8 276.3h0M524.5 274.1h0M541.6 298.4h0M555.1 269.6h0M543.3 294.1h0M548.8 289.6h0M499.8 266.4h0M532.3 277.3h0M536.5 287.4h0M546.9 279.5h0M527.5 267.5h0M542.9 295.4h0M543.4 289.6h0M525.8 286.4h0M559.6 291.4h0M547.1 286.3h0M542.2 286.1h0M535.1 293.9h0M527.7 280h0M551 294.6h0M551.5 287.6h0M535.5 296.9h0M528.8 264.3h0M534 296.9h0M534.4 295.5h0M525.8 269.7h0M544.5 297.1h0M550.8 271.1h0M534.7 275.6h0M540.6 296.5h0M516.6 283.2h0M520.5 290.5h0M556 281.6h0M534.6 287.4h0M556.1 277.8h0M507.8 255.1h0M547.5 298.7h0M578.8 279.6h0M547.7 289.8h0M541.3 291.4h0M489.6 276.1h0M499.5 259.6h0M527.9 290.9h0M557.2 285.4h0M534.8 286.6h0M532.1 285.9h0M533.3 295h0M524.4 280h0M529.3 294.8h0M535.8 297.3h0M553.6 288.7h0M518.6 285.8h0M559.3 293.7h0M519.9 283.4h0M542.8 292.3h0M545.3 293.9h0M545.1 284.3h0M545.1 290.3h0M523.1 283.7h0M542.5 293.6h0M552.9 292.4h0M516.1 261.6h0M527.6 283.4h0M554.8 287.9h0M558.2 275.9h0M569.3 258.8h0M559 282.8h0M526.4 258.1h0M529.9 288.2h0M530.1 288.4h0M535.4 291.7h0M518.9 274.3h0M547.7 290.5h0M550 278.1h0M526.7 286.4h0M561.3 269.2h0M543.1 299h0M524.4 291.8h0M519.7 275.7h0M520 255.6h0M538 300.5h0M524.2 287.4h0M531 285.4h0M530.2 291.7h0M529.1 292.7h0M535.6 298.5h0M537.4 299.2h0M521.8 276.3h0M572.2 262.4h0M518.9 256.3h0M522.3 273.5h0M531.6 295.6h0M542.3 295.6h0M522.1 279.6h0M532.5 292h0M528.3 286.8h0M575.8 287.5h0M540.4 301h0M566.3 264.5h0M533.4 293.5h0M547.4 291.4h0M538.8 300.9h0M538.9 302.2h0M528.5 296.4h0M517 281.2h0M545.1 294.1h0M544.3 300h0M534.2 295.4h0M541.4 273.1h0M536.5 269.2h0M543.3 268.1h0M532.6 291h0M540.4 267.7h0M536.6 277.2h0M534.8 279.6h0M537.5 286.8h0M542.7 284.6h0M537.3 275.8h0M544.7 276.6h0M537.5 269.9h0M539.4 279.8h0M539.6 262.7h0M535.7 273.6h0M526 248.4h0M522.5 267.1h0M521.3 224.4h0M524.4 196.8h0M527 229.9h0M524.8 248.6h0M524.7 225.1h0M532.7 212.4h0M527.5 261.9h0M528.2 242.9h0M529.8 280.1h0M527.9 216.5h0M527.7 218.9h0M527.3 235.9h0M521.3 199.7h0M525.1 186.7h0M529.8 204.8h0M527.3 253.6h0M523.9 204.5h0M528 254.6h0M529 204h0M524.1 237.8h0M528.1 251.2h0M530.2 270.2h0M520.7 253.1h0M526.7 208.4h0M525.5 203.1h0M521.9 255.8h0M531.7 228.1h0M529.3 263h0M527.4 263.3h0M525.1 245.5h0M529.2 194.7h0M527.6 226.1h0M528.5 196.7h0M528 260.2h0M527.6 229.3h0M529.5 166.4h0M528.3 231.2h0M533.3 124.2h0M531.6 251.6h0M527.8 231.1h0M527.9 213h0M522.8 143.3h0M525.6 182.9h0M527.4 153.7h0M529.3 161.3h0M530.9 226.3h0M524.3 162.8h0M526.1 139.9h0M527.1 141.5h0M527.9 159.2h0M529.2 219.8h0M529.6 191.8h0M528.5 200.7h0M526.3 180.7h0M528.7 214.2h0M523.9 144.5h0M526.7 182.3h0M525.4 176.9h0M524.5 208.4h0M525.9 179h0M548.3 249.4h0M552.1 258.4h0M543.8 246.9h0M545.6 251.6h0M551.2 252.9h0M549.1 239.7h0M552.1 228.6h0M549.6 258.1h0M558.3 258.5h0M545.3 256.9h0M555.2 287.2h0M543.3 262h0M557.5 243.8h0M559.9 256.9h0M542.1 263.6h0M499.5 254.7h0M513.1 267.8h0M532.3 233.3h0M519.2 231h0M506 212.5h0M528.3 257.3h0M510.7 259.7h0M517.9 228.5h0M535.2 233.9h0M507.6 241.7h0M517.1 262.4h0M522.6 276.9h0M519.2 250.9h0M517.9 262.9h0"/>
<path stroke-width="5.3" d="M552.6 279.6h0M534.6 296.5h0M533.1 298.5h0M522.4 275.4h0M536.6 300.9h0M529 266h0M573.1 258.9h0M556.1 263.7h0M543.6 297.2h0M541.3 295.7h0M525.5 283.4h0M558.6 282.7h0M557.2 291.5h0M533.9 296.5h0M552.1 282h0M547.7 288.5h0M535.2 296.2h0M544.7 275h0M537.4 300.7h0M534.7 296.4h0M575.2 274.4h0M567.5 283.5h0M504.7 286.8h0M506 265.6h0M538.8 302.7h0M574 270.5h0M524.2 280.3h0M549.1 258.3h0M550.3 270.6h0M537.6 300.9h0M527.9 274.2h0M519.5 269.3h0M521.7 272.8h0M552.8 288.2h0M534.8 292.5h0M529.8 293.2h0M526.5 277.9h0M559.6 273.9h0M527.5 280.3h0M555.4 289.7h0M529.8 287.8h0M563.6 285.3h0M564.6 254.3h0M521.6 263.6h0M524.9 291.2h0M555.5 280.5h0M536.4 299.3h0M528.9 281.4h0M578.3 255.3h0M551.2 284h0M522.7 264.5h0M523.3 267.8h0M549.6 286.9h0M565.9 255.8h0M556.1 255.1h0M571.4 257.9h0M506.1 285.9h0M536.2 300.2h0M548.6 294.4h0M557.7 258.2h0M552.8 288.2h0M528.1 255.6h0M523.6 286.9h0M545.7 295.4h0M530.9 296.1h0M512.3 291.1h0M534.7 299.4h0M536.6 297.1h0M546.3 294.7h0M565.6 264.1h0M526.3 285.4h0M528.8 255.9h0M551.1 283h0M541.6 300.3h0M547.2 254.3h0M548.4 275h0M534.4 297.2h0M525.5 268.9h0M528.6 285.3h0M528.3 264.3h0M562.6 254.4h0M568.4 263h0M554.2 284h0M532.4 294.7h0M525 279.9h0M548.5 287h0M528.4 283.6h0M546.2 291.3h0M530 294.5h0M529.4 265.6h0M532.8 280.4h0M545.8 296.7h0M539.3 301.8h0M551.3 268.5h0M552.7 265.5h0M571.7 279.8h0M512.3 271.9h0M497 263.9h0M501.5 269.1h0M526.2 266.7h0M573 257.2h0M571.5 275.1h0M578.7 274.3h0M543.7 299.3h0M530.2 288.2h0M553.7 277.8h0M563.1 256.9h0M540.7 300.3h0M518.1 290.4h0M528.4 287.2h0M527.9 267.6h0M553.6 286.9h0M529.3 291.7h0M523.1 282.2h0M524.5 279.1h0M512.2 262.9h0M553.6 287.9h0M536 299.7h0M540.9 297h0M538.1 301.9h0M535.1 297.4h0M528.6 286.3h0M526.2 285.7h0M542.9 289.5h0M544.4 291.4h0M556.5 287.1h0M532.1 298.3h0M541.5 291.9h0M532.5 292.7h0M544.1 296.7h0M524.9 288.2h0M553.9 266.2h0M577.7 281.8h0M512.5 255.2h0M499.1 276.6h0M524.3 283.7h0M522.5 285h0M534.6 292.9h0M534 288.5h0M532.4 290.7h0M533.1 296.5h0M536.1 298.5h0M545.5 295.8h0M538.6 300.6h0M554.5 275h0M585.9 269.8h0M512.8 287h0M559.9 284.4h0M523.9 283.2h0M530.7 282.6h0M522.8 268h0M559.7 285.4h0M563.7 276.8h0M528 275h0M525.5 275.5h0M537 295.3h0M500.2 254.7h0M514.6 277.1h0M520.5 292.9h0M553.4 263.9h0M556.4 282.6h0M523.3 280.3h0M530.7 291.4h0M528.6 258.1h0M539 301.4h0M529.9 268.4h0M532 288.4h0M547.6 275.1h0M543.7 292.8h0M530.8 295.7h0M545.5 285.6h0M572.4 264h0M552.5 280.9h0M532.1 299h0M545.5 298h0M532.4 292.6h0M525.3 294.1h0M518.8 287.3h0M545.2 293h0M553.4 293.5h0M518.7 286.8h0M555.2 274.7h0M526.5 244.5h0M529.2 246h0M525.5 263.7h0M533.3 195.9h0M525.6 220h0M523.4 211.3h0M530.6 273.7h0M533.1 223.8h0M524.8 171.3h0M527.9 262.7h0M523.5 236h0M523.6 131.1h0M530.7 223.8h0M527.6 251.6h0M530.3 238.5h0M531.3 196.9h0M525.7 263.9h0M528.4 175.1h0M525 186.1h0M526 241.6h0M524.4 269.1h0M526.4 239h0M526.8 154h0M525.9 212.7h0M528.7 203.3h0M523.5 123.6h0M525.9 179.1h0M523.9 169h0M524.9 207.8h0M532.2 197.8h0M524.5 172.8h0M557.8 259.6h0M547.6 258.8h0M545.2 249.3h0M548.9 243.7h0M555 288.8h0M516.3 236.6h0M512.4 219.4h0"/>
<path stroke-width="6.1" d="M550 267h0M563.7 289.6h0M536 300.2h0M527.2 233.7h0M529.6 231.6h0M531.6 214.7h0M528.6 213.3h0M525.3 189.6h0M526.6 262.5h0M527.8 271h0M521.9 218.6h0M526.6 257.3h0M527.1 233.8h0M525.6 228.3h0M529.5 276.2h0M528.7 230.5h0M534.4 267.3h0M525 214.9h0M525.6 226.1h0M544.5 293h0M549.7 252.9h0M529.8 185.3h0"/>
<path stroke-width="6.5" d="M528 193.5h0"/>
<path stroke-width="6.6" d="M529.6 215.2h0"/>
<path stroke-width="6.8" d="M527.5 249.5h0M524 240.6h0M530.6 196.2h0"/>
<path stroke-width="7.2" d="M531.4 203.4h0"/>
<path stroke-width="8" d="M529.8 236h0"/>
</g>
<g stroke="#86d3ea" stroke-linecap="round" fill="none" transform="scale(1.13 1)">
<path stroke-width="4.6" d="M525.7 66.6h0M524.1 116.6h0M525.7 122h0M528.2 129.2h0M524.9 141.9h0M524.1 147.3h0M523.3 152.8h0M520.8 149.1h0M511.1 163.6h0M512.7 154.6h0M498.9 203.4h0M547.7 164.3h0M551 187.2h0M549.3 194.4h0M551.8 205.2h0M634.8 288.5h0M612 288.5h0M599 281.3h0M461.4 284.9h0M485.8 284.9h0M485.8 288.5h0"/>
<path stroke-width="5.3" d="M527.4 152.8h0M529 163.6h0M526.5 160h0M617.7 288.5h0"/>
<path stroke-width="6.1" d="M527.4 59.4h0M529 174.5h0M636.5 261.4h0M587.6 265h0"/>
</g>
<g stroke="#eaa33d" stroke-linecap="round" fill="none" transform="scale(1.13 1)">
<path stroke-width="4.6" d="M520 102.8h0M516.8 132.8h0M514.3 138.3h0M520 164.3h0M514.3 176.3h0M501.3 221.5h0M504.6 257.7h0"/>
<path stroke-width="5.3" d="M495.6 217.9h0M496.4 232.4h0M486.7 254.8h0"/>
<path stroke-width="6.1" d="M519.2 158.2h0M516 179.9h0M517.6 212.5h0M501.3 241.4h0M505.4 241.4h0M514.3 243.3h0M506.2 252.3h0M514.3 248.7h0"/>
<path stroke-width="6.8" d="M511.1 216.1h0M515.2 234.2h0"/>
<path stroke-width="7.6" d="M514.3 203.4h0"/>
<path stroke-width="8" d="M514.3 143.7h0"/>
<path stroke-width="8.5" d="M512.7 198h0"/>
<path stroke-width="9.9" d="M516.8 85.8h0"/>
</g>
<g stroke="#e8414b" stroke-linecap="round" fill="none" transform="scale(1.13 1)">
<path stroke-width="4.6" d="M568.4 182.4h0M567.3 205.2h0M560.7 210.7h0M573 216.1h0M566.4 219.7h0M559.1 219.7h0M570.5 221.5h0M575.4 221.5h0M577.8 254.1h0M583.5 252.3h0"/>
<path stroke-width="6.1" d="M572.1 95.6h0"/>
<path stroke-width="7.2" d="M571.3 248.7h0"/>
<path stroke-width="8.5" d="M569.7 241.4h0"/>
<path stroke-width="9.5" d="M559.9 250.5h0"/>
<path stroke-width="11.4" d="M562.4 246.9h0"/>
<path stroke-width="13.3" d="M559.9 234.2h0"/>
</g>
<line x1="590.4" x2="590.4" y1="48.8" y2="305" stroke="#111" stroke-width="1.7" stroke-dasharray="4.4 3.2"/>
<line x1="627.2" x2="627.2" y1="48.8" y2="305" stroke="#111" stroke-width="1.7" stroke-dasharray="4.4 3.2"/>
<line x1="455" x2="760.6" y1="257.7" y2="257.7" stroke="#111" stroke-width="1.7" stroke-dasharray="4.4 3.2"/>
<rect x="449.4" y="34.6" width="318.5" height="279.1" fill="none" stroke="#1a1a1a" stroke-width="1.6"/>
<line x1="516.8" x2="516.8" y1="313.7" y2="316.7" stroke="#1a1a1a" stroke-width="1"/>
<text transform="translate(516.8 330.5) scale(1.27 1)" font-size="14" text-anchor="middle">-5</text>
<line x1="608.8" x2="608.8" y1="313.7" y2="316.7" stroke="#1a1a1a" stroke-width="1"/>
<text transform="translate(608.8 330.5) scale(1.27 1)" font-size="14" text-anchor="middle">0</text>
<line x1="700.8" x2="700.8" y1="313.7" y2="316.7" stroke="#1a1a1a" stroke-width="1"/>
<text transform="translate(700.8 330.5) scale(1.27 1)" font-size="14" text-anchor="middle">5</text>
<line x1="446.4" x2="449.4" y1="232.4" y2="232.4" stroke="#1a1a1a" stroke-width="1"/>
<text transform="translate(443 237.4) scale(1.27 1)" font-size="14" text-anchor="end">2</text>
<line x1="446.4" x2="449.4" y1="160" y2="160" stroke="#1a1a1a" stroke-width="1"/>
<text transform="translate(443 165) scale(1.27 1)" font-size="14" text-anchor="end">4</text>
<line x1="446.4" x2="449.4" y1="87.6" y2="87.6" stroke="#1a1a1a" stroke-width="1"/>
<text transform="translate(443 92.6) scale(1.27 1)" font-size="14" text-anchor="end">6</text>
<text transform="translate(600.6 23.5) scale(1.2 1)" font-size="14.5" text-anchor="middle" font-weight="bold" fill="#1a1a1a">Volcano plot</text>
<text transform="translate(609 348.5) scale(1.2 1)" font-size="14.5" text-anchor="middle" font-weight="bold" fill="#1a1a1a">log2(FC)</text>
<text transform="translate(425.5 174) rotate(-90) scale(1 1.22)" text-anchor="middle" font-size="15" font-weight="bold" fill="#1a1a1a">-log10(PValue)</text>
<text transform="translate(765.4 309) scale(1.2 1)" font-size="16.5" text-anchor="end" font-weight="bold" fill="#222">Feces sample</text>
<text transform="translate(707 50.4) scale(1.13 1)" font-size="12.5">VIP</text>
<ellipse cx="711" cy="59.8" rx="2.1" ry="1.9" fill="#5a5a5a"/>
<text transform="translate(728 60.5) scale(1.13 1)" font-size="12.5">0</text>
<ellipse cx="711" cy="74" rx="4.2" ry="3.8" fill="#5a5a5a"/>
<text transform="translate(728 76) scale(1.13 1)" font-size="12.5">4.84</text>
<ellipse cx="711" cy="89.8" rx="6.6" ry="5.8" fill="#5a5a5a"/>
<text transform="translate(728 92) scale(1.13 1)" font-size="12.5">9.68</text>
<ellipse cx="711" cy="106.5" rx="8.9" ry="7.9" fill="#5a5a5a"/>
<text transform="translate(728 108.7) scale(1.13 1)" font-size="12.5">14.51</text>
<ellipse cx="711" cy="127" rx="11.2" ry="10" fill="#5a5a5a"/>
<text transform="translate(728 129.8) scale(1.13 1)" font-size="12.5">19.35</text>
<text transform="translate(700.8 156) scale(1.13 1)" font-size="12.5">color</text>
<ellipse cx="701.7" cy="165.4" rx="4.4" ry="3.8" fill="#eaa33d"/>
<text transform="translate(711.8 169.5) scale(1.13 1)" font-size="12.5">down</text>
<ellipse cx="701.7" cy="183.6" rx="4.4" ry="3.8" fill="#86d3ea"/>
<text transform="translate(711.8 187.8) scale(1.13 1)" font-size="12.5">nodiff</text>
<ellipse cx="701.7" cy="202.2" rx="4.4" ry="3.8" fill="#e8414b"/>
<text transform="translate(711.8 206.5) scale(1.13 1)" font-size="12.5">up</text>
</g>
<g>
<rect x="808.4" y="34.6" width="304.9" height="279.7" fill="#ebebeb"/>
<line x1="841" x2="841" y1="34.6" y2="314.3" stroke="#fff" stroke-width="1.2"/>
<line x1="911.3" x2="911.3" y1="34.6" y2="314.3" stroke="#fff" stroke-width="1.2"/>
<line x1="981.5" x2="981.5" y1="34.6" y2="314.3" stroke="#fff" stroke-width="1.2"/>
<line x1="1051.8" x2="1051.8" y1="34.6" y2="314.3" stroke="#fff" stroke-width="1.2"/>
<line x1="808.4" x2="1113.3" y1="259.9" y2="259.9" stroke="#fff" stroke-width="1.2"/>
<line x1="808.4" x2="1113.3" y1="167" y2="167" stroke="#fff" stroke-width="1.2"/>
<line x1="808.4" x2="1113.3" y1="74.1" y2="74.1" stroke="#fff" stroke-width="1.2"/>
<line x1="876.1" x2="876.1" y1="34.6" y2="314.3" stroke="#fff" stroke-width="2"/>
<line x1="946.4" x2="946.4" y1="34.6" y2="314.3" stroke="#fff" stroke-width="2"/>
<line x1="1016.6" x2="1016.6" y1="34.6" y2="314.3" stroke="#fff" stroke-width="2"/>
<line x1="1086.9" x2="1086.9" y1="34.6" y2="314.3" stroke="#fff" stroke-width="2"/>
<line x1="808.4" x2="1113.3" y1="213.5" y2="213.5" stroke="#fff" stroke-width="2"/>
<line x1="808.4" x2="1113.3" y1="120.6" y2="120.6" stroke="#fff" stroke-width="2"/>
<g stroke="#86d3ea" stroke-linecap="round" fill="none" transform="scale(1.13 1)">
<path stroke-width="3" d="M820.2 287.9h0M870.1 289.5h0"/>
<path stroke-width="3.8" d="M808.2 281.7h0M803.5 287.3h0M828.9 282.5h0M863.4 286h0M836.9 302.2h0M839.3 300.8h0M820.6 282.1h0M824 292.4h0M849.9 299.7h0M821.2 295.9h0M843.8 299.7h0M805.6 262.2h0M824.6 295.3h0M829.3 291.9h0M892.5 262.5h0M808.5 263.9h0M801.7 262.5h0M846.9 295.4h0M811.8 274.7h0M847.1 297.3h0M870.6 280.6h0M826.2 241h0M835.9 298.2h0M829.7 297.4h0M821.6 281.3h0M822.2 282h0M918.7 248.3h0M850.9 289.5h0M797.7 276.6h0M863.9 294.2h0M846.7 291.7h0M847.7 277.3h0M831.3 297.4h0M841.6 294h0M770.8 229.6h0M825.6 255.5h0M785.7 275.2h0M824.9 259.6h0M835.2 297.5h0M825.2 288.3h0M816.6 267.7h0M797.3 243.2h0M850.5 290.8h0M855.3 289.1h0M815.1 288.6h0M825.3 289.8h0M862.4 275h0M818.9 292.6h0M822.5 218h0M826.7 297.3h0M859.6 283.4h0M816.3 279.4h0M839.4 300.4h0M858.8 287.2h0M842.9 299.2h0M860 283.4h0M827.1 295.7h0M816.1 289.2h0M824.1 285.7h0M861.8 294h0M804.2 279.4h0M817.7 284.1h0M855.1 281.3h0M835.9 301.2h0M837.4 303.1h0M813.4 293h0M846.2 297.6h0M830.1 292.9h0M827.1 274h0M830 297.2h0M816.3 285.6h0M810.3 270.2h0M799.1 228.2h0M889 262.2h0M839.8 295.2h0M849 294.6h0M833.1 282.8h0M854 290.4h0M835.9 301.8h0M884.2 271.9h0M845 299.3h0M836.8 301.7h0M834.6 299.7h0M853.6 289.9h0M810.5 268.3h0M835.3 294.4h0M836.3 302h0M859.8 280.3h0M857.2 296.9h0M808.7 285h0M813.9 260.6h0M875.8 282.7h0M837 300.9h0M813.2 284h0M833 298.8h0M817.2 232.4h0M874.1 251.3h0M764.5 268h0M852.6 294.8h0M827.2 295.5h0M841.8 280.1h0M865 262.2h0M847.4 294.7h0M826.5 267.4h0M879.1 250.2h0M811.6 275.7h0M805.7 287.6h0M835.5 301.2h0M852.1 293.8h0M847.1 296.5h0M807.5 223.5h0M873.2 264.2h0M821.8 268.7h0M871.6 291.1h0M783.8 214.8h0M861.3 291.4h0M889.2 262.3h0M843 301.6h0M868.6 289.9h0M835.7 294.6h0M829.8 293.8h0M867.9 272.2h0M814.9 273.8h0M823 278.7h0M839.9 302h0M871.6 293.1h0M832 293h0M820.2 260.6h0M872.5 261.9h0M879.6 283.9h0M857 288.3h0M821.7 295h0M831.7 278.1h0M830.8 295.1h0M813.1 280.3h0M825.7 281.5h0M849.6 298h0M790.2 254.2h0M823.6 297.3h0M846.3 277.9h0M824.1 268.6h0M855.6 283.9h0M847.7 298.3h0M863.2 286.7h0M842.9 298.1h0M804.7 269.2h0M834 298.4h0M820.9 273.5h0M831.7 256.1h0M822.3 252.7h0M846.4 297.7h0M837.4 301.5h0M873.9 276.9h0M830.5 274.9h0M831.4 294.5h0M818.1 288.8h0M833.7 274.2h0M875.6 279.1h0M843.1 296.8h0M802.7 284.8h0M895.8 259.7h0M793.1 278.5h0M817 289.6h0M783.7 235.7h0M856.6 280.5h0M809.3 253.3h0M820.1 288.6h0M794.9 276.4h0M867.5 258h0M789.1 245.9h0M823.4 280.1h0M839.8 299.6h0M858.3 291.4h0M825.6 280.7h0M811 268.1h0M834.4 302.5h0M811.9 278.2h0M872.2 284.9h0M825.9 252.4h0M876.7 273.9h0M821.4 293.1h0M813.9 259h0M833.7 285.6h0M853 251.3h0M842.3 294.5h0M874.1 283h0M901 262.7h0M866.4 292.2h0M825.6 298h0M818 268.4h0M880.7 287.2h0M848.4 295.2h0M806.5 223.1h0M847 294h0M847.3 291.3h0M814.8 296.2h0M866.6 284.7h0M826.7 296.6h0M836.4 297.2h0M833.8 289.4h0M824.3 286.6h0M887 284.1h0M823.8 287.3h0M894.9 283h0M859.6 293.8h0M833.1 299.5h0M831.5 298h0M826 265.2h0M840.2 301.8h0M844.3 296.3h0M803 277.4h0M859.4 293.4h0M810.7 265.9h0M822.6 295.6h0M861.7 282.8h0M829 292.7h0M822.5 295h0M832.6 298.5h0M854.7 285.1h0M844.8 292.8h0M834.4 282.1h0M794.7 234.7h0M873.5 290.9h0M822.5 242h0M796.8 262.7h0M821.4 214.6h0M835.6 297.4h0M863.9 281.9h0M822.1 290.3h0M859.9 284.4h0M853 288.2h0M867.6 290.7h0M800 213.9h0M762 228.4h0M867.8 271.8h0M834 301.1h0M889.3 261.2h0M808.9 271.9h0M773.8 268.9h0M807.4 229.1h0M799.7 250.2h0M812.5 273.9h0M850.6 291.6h0M826.3 290.4h0M817.6 287.1h0M856.7 292h0M850.1 296.9h0M832.5 301.7h0M813.3 288h0M826.4 289.8h0M834.6 298.8h0M817.9 264h0M832.8 289.5h0M878.8 279.7h0M861.7 269.4h0M814.9 289.9h0M830 296h0M829.7 232.8h0M869.6 294.6h0M884.2 265.1h0M812.6 272.6h0M846.1 291.8h0M846.8 293.1h0M832.5 296.4h0M810 293.8h0M833.8 289.4h0M854.1 266.4h0M806.8 272.9h0M825.6 295.1h0M829.3 298.9h0M880.3 267.4h0M828.7 298.8h0M842.5 297.9h0M817.4 273.8h0M823.9 296.4h0M794.1 222.9h0M808.9 275.9h0M804.6 237.3h0M806.5 201.7h0M794.9 233h0M816.8 176.8h0M803.2 225.1h0M805.3 188h0M804.3 187h0M794 244.1h0M802.7 236.2h0M803 209.6h0M814.4 216.2h0M804.9 228.9h0M808.9 221.8h0M817.2 209.1h0M816.2 224.8h0M820.8 207h0M792.9 209.8h0M813.4 250.5h0M797.4 190.7h0M797.3 244.2h0M810.4 262h0M815.5 182.8h0M821.4 228.8h0M786.8 235.5h0M828.7 221.9h0M822.8 229.4h0M819.2 219.9h0M800.4 245h0M791.6 253h0M818.7 199.2h0M820 235.3h0M820.5 254.3h0M805.9 228.6h0M806 234.9h0M821.6 207.6h0M808.6 234.5h0M807.6 157.1h0M798.2 187.4h0M790.4 241.4h0M801.7 197.5h0M806 190h0M822.6 244.1h0M806.6 240.6h0M805.8 178.5h0M816.8 202.8h0M804.1 208h0M814.7 188.6h0M781.6 220.4h0M803.3 169.1h0M804.6 231.8h0M799.1 198.7h0M807.1 269.7h0M806.8 216.3h0M808.9 217.6h0M817.2 209.2h0M818.7 212.7h0M817.9 247h0M813.3 256.3h0M805.4 226.9h0M813.5 215.5h0M801.9 171.2h0M791.1 197.9h0M796.3 233.5h0M816.9 239.9h0M802.3 209.3h0M811 221.6h0M810.1 238.6h0M805.2 207.2h0M801.3 162h0M805.1 224.7h0M795.8 235.9h0M802.1 208.9h0M803.6 251.9h0M813.9 246.7h0M822.6 187.3h0M802.5 219.5h0M800 211.6h0M797.7 236.7h0M817.9 209.8h0M786.2 229.3h0M820.3 227.1h0M814 223.9h0M814.4 194.6h0M816.7 190.5h0M817.1 236.3h0M815.4 212h0M814.3 209.3h0M801.4 202.3h0M806.6 265.4h0M808.1 188.3h0M829.1 267.6h0M790.4 203.1h0M807.6 172.5h0M782.8 154.4h0M801.4 169.2h0M802.1 202.9h0M813 187.8h0M806.1 158.2h0M803.2 211.7h0M800.3 167.3h0M812.5 146.3h0M797.5 182.4h0M788.1 142.6h0M796.9 153.7h0M809.2 220.8h0M798.3 166.1h0M785 175.6h0M803.9 223.4h0M803.6 206.9h0M793.4 152.9h0M809.7 202.3h0M798.6 172.3h0M798.9 215.7h0M786.8 196.3h0M797.3 218.5h0M800.5 213.7h0M808.9 234.7h0M807.8 224.2h0M802.4 242.5h0M786.4 200.4h0M802.8 229.6h0M799.3 192h0M800.9 198.7h0M819.1 193h0M809.6 179h0M812.4 253.9h0M811.3 150.8h0M812.4 148.2h0M800.1 185.1h0M809.9 201.6h0M803 221.7h0M801.8 189.5h0M798.9 177.9h0M813.1 234.2h0M809.2 178h0M810.2 159.1h0M799 184h0M807.8 191.5h0M814.8 209.8h0M809.7 239.4h0M803.7 172h0M796.6 190.5h0M805.3 211.1h0M787.6 220.7h0M804.9 186.9h0M824.5 231.5h0M798.9 215.1h0M802.9 184.3h0M817.2 197.4h0M814.1 203.8h0M806.5 224.4h0M800.3 185.2h0M798.1 233.6h0M812.2 188.3h0M808.5 210.3h0M814.2 225.7h0M812.6 190.8h0M800.7 170.2h0"/>
<path stroke-width="4.6" d="M818.6 287.3h0M852.1 291.3h0M882.7 285.9h0M841.4 295.1h0M837.1 303.4h0M810.2 290.8h0M835 293.5h0M853.4 295.9h0M809 279.6h0M867.1 289.7h0M839.1 300.2h0M899.2 286.6h0M880.4 289.8h0M822.8 256.4h0M809.6 231.4h0M824.1 295.4h0M879.4 271.5h0M830.8 299h0M846.5 297.2h0M871 289.7h0M834.7 292.7h0M819.6 254.6h0M828 296.1h0M852.3 295.4h0M858.9 291.2h0M871.4 282h0M835.7 301.2h0M808.8 234.9h0M851.2 297h0M816.5 280.2h0M853.5 276.3h0M882.9 277.4h0M833.7 298.4h0M854.2 298.2h0M891 263.6h0M796.1 289.4h0M862.8 263.7h0M863.8 259h0M845 299.8h0M840.1 301.8h0M841.7 293.3h0M860.1 282.7h0M844.4 297.8h0M877.8 276.3h0M821.5 281.8h0M844 296.7h0M835.9 296.8h0M844.3 294h0M835 295.8h0M827.7 290.9h0M866.6 282.1h0M861.1 266h0M789.7 243.1h0M850.2 294.1h0M814.5 289.2h0M800.4 220.9h0M795.5 251.5h0M835.3 299.8h0M835.9 302.3h0M811.5 275.1h0M783.5 269.2h0M817.9 293.3h0M834.3 300.7h0M829.1 297.8h0M800 270.7h0M849.7 293.5h0M870 258.5h0M876.3 252.4h0M844.7 297.2h0M836.6 297.5h0M876.1 278.2h0M820.8 280.9h0M855.2 294.5h0M831.9 253.8h0M813.8 236.6h0M826.9 285.1h0M827.3 290.9h0M867.6 282.6h0M824 285h0M832.7 296.4h0M841.3 298h0M832.3 297.7h0M810.3 278.2h0M827.4 254.4h0M757.9 267.9h0M822.7 284h0M811.6 252.1h0M830 291.2h0M825.2 287.7h0M820 267.9h0M854.4 275.7h0M762.2 228h0M851.1 297.3h0M822.9 253.6h0M804.2 280.2h0M841.9 290.3h0M831.9 297.1h0M825.3 289.5h0M830.3 291.5h0M811.9 251.4h0M777.6 274h0M809.7 253.9h0M823 286.9h0M805.9 284.5h0M842.7 300h0M785.8 222.6h0M828.7 291.8h0M808.6 238.9h0M834.5 300.9h0M831.5 289.4h0M824.6 290.7h0M821 246.8h0M844.4 299.5h0M827.8 286.8h0M821.3 288.2h0M848.4 275.5h0M863.9 293.8h0M855.5 257.3h0M820 282.5h0M882.4 271h0M851.9 290.2h0M809.3 256.9h0M835.2 300.6h0M782.3 268.9h0M857.7 281.2h0M824.8 266.1h0M813.5 281.5h0M818.8 296.6h0M824.1 272.4h0M819.4 257.3h0M837.4 302.6h0M792.9 246.9h0M763.1 218.6h0M825.8 296.2h0M823.9 227.9h0M824.9 278.4h0M866.1 262.4h0M833.6 296h0M846.8 274.1h0M899.5 286.7h0M867.4 294.4h0M846.8 297h0M839.7 300.6h0M889.9 280.1h0M806.9 263h0M873.5 275h0M821.3 290.9h0M851.4 298.2h0M827.5 297.3h0M855.3 278.2h0M828.1 290.7h0M827.4 294.3h0M784 218.3h0M822 274h0M852 284.4h0M856.2 297h0M831.6 287.9h0M790.5 255.5h0M838.9 303.3h0M826.7 295.5h0M814.6 290.2h0M833.6 298.2h0M883.1 285.1h0M833.4 290.6h0M842.6 299.1h0M829.6 266.1h0M863.8 282.1h0M828.5 262h0M846.4 299h0M832.8 300.8h0M824.3 297.2h0M855.8 272h0M823.7 293.4h0M857.6 293.6h0M815.8 287.7h0M835.2 296.5h0M823.6 293.7h0M831.1 294.9h0M845.5 300.7h0M847.8 295.6h0M870.8 273.7h0M828.1 293.7h0M785.1 241.5h0M803.8 273.3h0M752.9 260.6h0M819.5 274.3h0M885.1 256.2h0M801.4 261.7h0M838.7 299.9h0M805.4 289.4h0M820.7 274.5h0M809.8 276.4h0M827.2 280.8h0M846.4 298.5h0M836.2 299.4h0M809.7 281.1h0M861 281.2h0M836.1 300.6h0M814.7 227.5h0M819 281.7h0M806.7 280.7h0M822.2 284.4h0M793.8 272.7h0M872.8 272.9h0M845.8 298.8h0M805.6 264.9h0M814 289h0M830.3 299.8h0M802.9 271.7h0M891.8 259.3h0M815.8 281.8h0M850.6 276.5h0M808.2 235.9h0M833.4 298.5h0M864.4 286.4h0M792.4 278.3h0M824.9 248h0M813.1 235h0M855.3 296.7h0M811.6 256.3h0M873.4 278h0M874.6 276.2h0M807.5 277.8h0M829.2 288.9h0M825.1 297.8h0M816.2 220.2h0M860.3 287.9h0M829.9 289.1h0M874.3 282.7h0M821.5 293.1h0M825.6 293.1h0M866.1 293.9h0M838.6 303h0M828 290.2h0M884.5 270h0M852.9 278.5h0M828 292.7h0M828 285.1h0M849.7 271h0M806 213.6h0M837.8 302.6h0M834.8 301.6h0M833.2 288.9h0M857.2 289.7h0M805 277.4h0M817.5 289.6h0M871.4 254.2h0M838.2 300.6h0M824.1 225.2h0M810.9 259.4h0M859.4 263.4h0M813.6 234.7h0M807 244.8h0M816.4 229.8h0M821.7 292.2h0M823.6 289.6h0M870 278.2h0M806.7 283.4h0M836.9 302h0M856.8 274.5h0M795.9 274.3h0M867.8 264.6h0M826.3 272.6h0M803.6 259.3h0M818.5 288.8h0M848.3 295.9h0M826.9 283.5h0M854.1 254.9h0M860.2 284.8h0M884.6 273.8h0M792 227.5h0M831.4 285.3h0M869.1 293.7h0M879.5 289.1h0M872.1 278.2h0M862 264.3h0M857.6 285.8h0M832.7 287.3h0M831.6 298.5h0M838.7 300.2h0M837.1 303.6h0M856 248.4h0M802.9 269h0M871.1 278.7h0M827.1 275.6h0M814.4 286.4h0M789 243h0M826.1 291.7h0M827.7 282.9h0M828.7 271.9h0M858.2 295.6h0M818.3 270.6h0M817.6 291.5h0M825.7 296.1h0M827.8 288.4h0M835.3 302.9h0M818.8 279.4h0M827 291.3h0M861.2 285.8h0M798 251.5h0M829.7 298h0M808.5 284.7h0M838.5 297.9h0M832.3 273h0M832 300.3h0M863.6 285.3h0M859.8 288.3h0M859.7 291.1h0M819.3 291.8h0M834.6 302.1h0M840.1 298.9h0M801.6 218.7h0M840.4 290.3h0M817.1 224h0M823.7 240.3h0M813.4 216.4h0M864.8 280.8h0M864.8 259.1h0M853.1 246.3h0M820.1 293.8h0M886.3 285.1h0M851.5 286.1h0M844.5 295.5h0M806.6 257.9h0M826.5 294.5h0M865.9 269.2h0M822.2 262h0M861.1 268.3h0M829.6 262.9h0M818.3 276.9h0M846.1 298.6h0M867.3 287.2h0M815.4 272.2h0M823.4 287.7h0M820.2 284.4h0M822 282.2h0M830.6 262.1h0M800.8 235.3h0M834.8 299.8h0M848.6 295.3h0M860.7 284.2h0M830.5 292.6h0M857 291.5h0M847.4 298.9h0M826.9 287.6h0M856.9 281.7h0M833.6 295.2h0M887.9 270.2h0M835.8 299.2h0M824 286h0M841.6 295.8h0M830.7 286.6h0M834.3 294.4h0M831.2 298.8h0M839.8 297.5h0M865.7 291.9h0M820.2 278.6h0M841.4 301.8h0M839.2 303.6h0M834.7 300.1h0M871.4 277h0M892.3 261.2h0M869.6 254.5h0M837.5 302.7h0M817.6 254.2h0M832.3 299.2h0M809.9 259.5h0M830.5 290.1h0M823.9 297.3h0M812.2 235.8h0M814.7 291.2h0M863.3 265.6h0M843.3 294.6h0M782.2 249.6h0M784.4 224.2h0M893.9 279.6h0M846.8 296.4h0M808.3 217.7h0M835.5 291.8h0M823.9 291.8h0M891.3 265.7h0M818.3 277.8h0M866.8 250.9h0M815.3 251.2h0M841.3 293.4h0M794.5 245.4h0M799.5 273.3h0M892.3 279.7h0M838.5 301.5h0M789.7 269.4h0M837.4 303.4h0M915.3 248.2h0M856.8 290.4h0M758.2 246h0M820.2 291.4h0M866.1 282.1h0M878.8 274.4h0M836.8 299.5h0M848.1 298.8h0M873.7 277.1h0M868.3 290.4h0M873.1 266h0M841 289.5h0M841.9 292.4h0M818.8 271.3h0M840 297.2h0M831.7 295.4h0M830.3 272.5h0M826.5 291.9h0M873.5 281.6h0M817.9 252.9h0M853.3 283h0M847.1 297.4h0M841.1 301.4h0M801.8 274.8h0M869.1 272.6h0M853.3 293h0M846.2 282.7h0M829.7 290.4h0M815.9 261.2h0M834.6 299.5h0M889.9 267.5h0M849.4 294.6h0M849.5 262.5h0M827.5 290.8h0M815.8 287.9h0M825.9 287h0M782.1 273.4h0M839.1 301.6h0M838.6 300.8h0M856.2 288.6h0M861.7 287.2h0M830.9 286.1h0M846.9 294.8h0M816.8 294.2h0M852.8 282.9h0M860.8 278.7h0M829.5 295.7h0M831.2 279.9h0M865.3 292.4h0M811.6 276.7h0M834.1 295.4h0M815.6 276.9h0M815.3 267.8h0M870.3 246.7h0M871.5 257.4h0M854.3 289.6h0M785.9 265h0M852.7 297.9h0M910.1 248h0M872.4 276h0M857.6 295.9h0M787 275h0M870.2 289.9h0M837 299.4h0M839.3 298.8h0M882.4 259.3h0M815.5 279.6h0M827.2 276.4h0M897.3 264.6h0M788.9 234.8h0M866.1 275.5h0M852.2 292.4h0M844 299.8h0M798.8 255.1h0M825.7 294.5h0M817.4 288.6h0M839.8 302.8h0M823.3 293.2h0M868.8 295.2h0M833.9 294.4h0M858.3 293.2h0M911.4 250.9h0M843.2 298.6h0M840.4 298.9h0M824.3 295h0M836 298.9h0M799.3 269.7h0M846.8 295.6h0M813.5 291.8h0M866.9 288.6h0M815.7 258.5h0M861.9 287.1h0M852 295.6h0M807.5 271.9h0M806.9 248.7h0M862.3 289.2h0M815 292.4h0M820.1 288.7h0M829 293h0M864.5 284.9h0M846.2 298.9h0M851.5 282.4h0M842.7 298.6h0M808.8 233.9h0M851.4 262.8h0M827 214.4h0M852.4 256.1h0M859.1 287.4h0M818.2 285.5h0M845.7 299.5h0M843.5 280.4h0M829.3 293.6h0M810.7 250.8h0M833.4 299.3h0M854.4 292h0M821.1 268.7h0M845.8 299.4h0M790.1 223.9h0M802.9 285.6h0M899.8 257.1h0M805.4 275.2h0M831.8 294.7h0M824.4 279h0M838.4 301h0M816.7 286.9h0M843.1 291.1h0M818.7 268.9h0M854.8 278.6h0M844 298.6h0M863.9 282.1h0M834.2 297.1h0M820.7 270.4h0M834.5 291.7h0M794.2 233h0M847.9 298.6h0M801 263.2h0M805.2 236.4h0M861 258.1h0M853 248.8h0M826.7 280.2h0M818.1 257.3h0M837.1 302.3h0M816.8 279h0M822.1 262.3h0M826.7 244.1h0M848.1 287.7h0M775.8 271.9h0M882.4 250.4h0M825.1 290.6h0M859.1 270.8h0M821.3 283.8h0M858.1 279.4h0M796.6 238.4h0M840.4 302.9h0M846.6 262.8h0M889.7 261.4h0M806.5 255.1h0M854.4 290h0M840.4 291.3h0M862.7 276.7h0M888.8 277.2h0M801.4 229.3h0M832.1 289.6h0M818.9 282.5h0M801.4 287.6h0M835.5 299.3h0M817.4 276.9h0M854.1 285.4h0M809.1 247.8h0M821.4 248.5h0M854.8 288.3h0M855.2 297.6h0M830.9 292.8h0M817.2 276.5h0M814.1 249.8h0M820.8 280h0M822.5 295.3h0M866.5 289.5h0M858.9 291.5h0M799.2 255.1h0M873.6 250.6h0M835.6 296h0M841.8 294.3h0M884.5 259.4h0M809.7 273.6h0M848.2 268.6h0M832.1 290.7h0M816.3 263.9h0M829.9 268.8h0M833.5 294.9h0M807.6 270h0M842.8 299.6h0M841.6 299.4h0M822.5 289.3h0M819 266.6h0M832.2 254.6h0M818.7 240.6h0M869.5 249.3h0M811.3 259.5h0M849.1 273.6h0M842.7 300.2h0M799.3 271.5h0M842.5 299.2h0M841.7 298.6h0M838.6 299.9h0M829.3 299.8h0M832.7 291.1h0M863.9 264.5h0M838.3 301.5h0M815.6 234.2h0M822.4 252.1h0M827.9 293.3h0M805.2 260.8h0M834.8 300.8h0M805.7 254.6h0M835.8 301.9h0M825.5 273.8h0M792.5 213.8h0M833.2 293.1h0M816.3 284.7h0M812.9 274.3h0M819.9 244.7h0M829.5 295.6h0M811.6 217h0M848.3 298.6h0M829.3 261h0M820.5 268.2h0M816.4 220.5h0M827.5 293.1h0M806.3 293.7h0M807.7 269h0M880.1 274.2h0M822.2 293.8h0M832.8 294h0M890.4 285.8h0M817.9 288.9h0M840 300.1h0M844.9 278.2h0M811.6 272.6h0M775.5 249.9h0M856.7 288.9h0M802.2 217.4h0M837.3 302h0M864.4 251.4h0M829.8 289.2h0M840.6 302.3h0M845.4 293.8h0M893.3 279.4h0M847 296h0M826.9 240h0M863 256.4h0M830.2 294.6h0M860.1 276h0M825.6 293.8h0M857.3 277.5h0M804.7 280.2h0M851.5 295.5h0M839.5 293.3h0M810.8 230.4h0M821 273.1h0M777.3 273.8h0M875.6 260.9h0M829.7 287.5h0M845.1 297.2h0M832.4 243.6h0M826.6 292.9h0M841.9 301.4h0M891 271.9h0M827.4 279.6h0M808 294h0M797.7 260.1h0M825.3 294.1h0M882.3 268.1h0M816 226.9h0M844.1 299.1h0M808.7 231h0M792.5 272.4h0M811.5 276.7h0M807.5 237.7h0M822.1 251.9h0M866.6 260.1h0M871.9 282.4h0M827.9 294.6h0M853.1 283.4h0M810.1 283.6h0M846.8 285h0M805.8 272h0M841.1 301.3h0M899.4 272.2h0M864.3 288.6h0M859.8 282.4h0M852.1 295.9h0M831.4 293h0M871.8 277.6h0M876.5 261.8h0M829.1 282.4h0M831.8 293.4h0M849.3 295.9h0M819.6 295.3h0M817.5 252.3h0M866 275.6h0M872.7 262.3h0M834.2 300.4h0M821.3 270.7h0M859.2 291.5h0M855 247.1h0M859.4 287.7h0M803.9 263.3h0M800.6 292.9h0M836.4 301h0M865.4 293.6h0M862.6 294.2h0M804.8 251.3h0M853.5 296h0M859.2 295.9h0M862.3 273.3h0M847.9 291.6h0M835.3 298.4h0M807.9 272h0M816.8 213.6h0M829.7 283.8h0M850.3 296.4h0M829.9 292.8h0M840.6 299.1h0M844.5 289.2h0M914 271.8h0M869.3 285.3h0M851.9 278.2h0M819.6 292.2h0M814.9 240.5h0M831.4 288h0M886.9 255h0M816.5 253.3h0M826.9 287.4h0M846.9 288.9h0M835.7 300.8h0M828.2 278.8h0M805.1 275h0M844.8 290.6h0M856.5 296.3h0M865.3 282.2h0M829.9 267.7h0M796 277h0M843.4 302.3h0M767.8 270.4h0M827.5 274.7h0M877.6 249.8h0M868.1 270.2h0M836.2 301.5h0M822.9 289.9h0M855.8 289.7h0M847.7 298.3h0M814.4 293.6h0M838.1 300.8h0M826.8 295.3h0M892.6 286.3h0M867.1 281.5h0M841.4 293.2h0M815.7 233.2h0M834.1 278.7h0M878.5 266.3h0M820.3 288h0M820.7 292.7h0M892.4 252.8h0M875.5 263.7h0M868.7 260.3h0M845.4 294.4h0M774.8 231.9h0M813.5 285.5h0M843.2 296.7h0M814.7 275.8h0M884.7 254.2h0M804.6 230.8h0M810.3 283.9h0M860.9 294h0M830.7 245.6h0M871.5 279.7h0M869 261.8h0M839.2 299.1h0M828.9 274.9h0M829.9 291.5h0M828.2 291.2h0M874.5 273.7h0M783.9 258.6h0M816.4 262.9h0M836.7 300h0M845 299.4h0M825.6 228.5h0M825 288.7h0M840.5 301.7h0M797.5 282.7h0M844.4 298.4h0M822.7 296.2h0M884.9 279h0M822.1 267.2h0M919.3 258.9h0M832.1 298.9h0M845.8 296.6h0M845 278.1h0M816 288.9h0M846 294.5h0M822.2 232.3h0M867.3 259.4h0M832.8 295.1h0M815.7 290.3h0M830.9 298.8h0M857.8 294.7h0M829.4 274.3h0M895 267.8h0M838.1 303h0M811.4 282.1h0M780.9 248.1h0M831 292.9h0M812.8 293.7h0M813.2 251h0M825 258.1h0M846.8 297.4h0M863.8 282.6h0M837.3 302.6h0M831.9 294.4h0M813.7 221h0M836.8 302.9h0M786.5 274.1h0M849.3 291.6h0M809.4 265.7h0M798.9 267.3h0M803.2 268.2h0M812.1 292.6h0M844.5 292.2h0M857.7 287.4h0M792.5 245.9h0M817.6 231.5h0M809.1 264.7h0M828.2 297.9h0M848.4 296.5h0M841.6 293.9h0M805.8 268.3h0M825.8 283.6h0M830.3 296.4h0M842.4 288.1h0M829.3 260.5h0M872.9 284.3h0M834.8 300.6h0M844.7 298.7h0M843.2 297.5h0M905.3 273.2h0M825.5 230.2h0M792.7 282.6h0M841.9 295.5h0M807.1 235.3h0M825.4 282.2h0M829.3 292.5h0M790.7 273.8h0M830.1 295.3h0M867 293.2h0M847.7 297.9h0M870.8 279h0M853.6 286.3h0M877.2 246h0M836.6 300.9h0M836.3 296.2h0M811.6 273.1h0M864.8 263.9h0M844.2 296h0M843.4 296h0M806.4 252.8h0M832.5 299.9h0M822.3 290.2h0M839.4 300.8h0M843.9 296.5h0M832.8 299.9h0M831.1 293.6h0M845.7 295.4h0M815 278.9h0M805.2 219.7h0M846.6 297.1h0M819.9 254.5h0M836.4 300.8h0M853.7 246.9h0M800.8 218.7h0M806 238.3h0M836.9 301h0M816.9 278.3h0M796.9 224.9h0M907.8 263.7h0M829.3 293.7h0M785.9 215h0M829.5 292.8h0M823.8 286.7h0M843.1 298.9h0M837.4 302.9h0M812.8 292.1h0M840.2 300.7h0M837.2 303.2h0M840.2 301.1h0M837.4 299.8h0M782.6 247.6h0M885.8 255.4h0M782.5 263.4h0M833.1 297.6h0M829 247.5h0M804.6 253h0M864.6 280h0M857.7 256.2h0M867.3 283.3h0M823.9 284.7h0M834.1 302.2h0M793.8 282h0M859.2 291h0M834.1 283.8h0M859.4 248.8h0M819.5 261.3h0M828.6 294.4h0M795.9 275h0M822.2 280.4h0M781.4 255.8h0M820.6 293.3h0M824.6 289.4h0M826.6 289.2h0M836.2 302.2h0M787.6 240.1h0M855.2 281.3h0M834.2 300.7h0M840.1 298.1h0M829.4 291.9h0M813.8 282.9h0M822.4 285.1h0M784.7 273.2h0M829.4 295.2h0M806.9 262.4h0M909.4 254.6h0M870.2 289.1h0M828.2 294.6h0M862.1 276.7h0M834.5 300h0M818.5 260.3h0M819.6 296h0M853.1 298.1h0M805.7 215.5h0M863.7 287.2h0M841.9 300.1h0M782.2 217.4h0M780 262.7h0M844.9 301h0M817.7 252.4h0M844.4 297.2h0M840 296.6h0M850.2 296.6h0M811.7 284.7h0M828.3 299.9h0M822.8 297.3h0M831.8 295.9h0M856.6 294.6h0M867.4 288.4h0M837.8 300.6h0M819.8 283.1h0M844.5 299h0M804.9 277.6h0M800 218h0M850.7 276.5h0M832.4 296.6h0M837.5 302.6h0M832.9 294.1h0M825 290.8h0M772 283h0M858.2 297.6h0M862.8 288.4h0M841.7 298.6h0M839.1 302.9h0M822.6 259.1h0M855.3 291.9h0M861.4 287.3h0M813.9 294.1h0M860.6 291.8h0M804.8 250.2h0M801.4 253.3h0M806.8 247.5h0M839.7 303.1h0M833.3 302h0M820.7 286h0M879.2 262.8h0M847.2 300.2h0M801.2 217.1h0M822.1 288.9h0M836.9 300.7h0M835.5 294.9h0M823.5 287.9h0M846.6 283.8h0M786.1 264.9h0M885.1 270.8h0M812.7 249.4h0M796.8 266.2h0M851.6 295.6h0M817.3 213.7h0M898.9 269h0M841.9 286.2h0M875.5 281h0M832 297.5h0M817.1 267.8h0M808.4 261.5h0M846.2 300.8h0M847.2 296.2h0M878.5 262.5h0M828 275.8h0M822.6 272h0M796.3 278.2h0M855 251.7h0M800.8 266.6h0M860 288.9h0M780.6 214.4h0M883.6 287h0M830.3 258.6h0M809.9 283.6h0M858.9 289.6h0M814.5 288.8h0M824.8 298h0M850.7 295.5h0M870.5 284h0M826.6 291h0M798.8 275.1h0M863.1 268.4h0M827.5 297.2h0M807.3 240.6h0M850.3 285.4h0M822.2 281.3h0M855.1 290.4h0M821.7 292.1h0M832.2 293.9h0M788.5 277.5h0M839.5 301.2h0M847.7 273.4h0M862.2 289.4h0M796.9 252.5h0M856 282.1h0M819.2 259.3h0M819.1 282.1h0M812.2 282.2h0M832.8 294.9h0M855 270.5h0M801.6 293.2h0M811.7 263.8h0M819.1 291.5h0M859.9 275h0M819.6 232.1h0M846 295.4h0M794.4 267.8h0M807.3 276.7h0M840.3 300.7h0M851 293.8h0M822.2 283.4h0M898.5 275.2h0M844.2 297h0M864.4 284.6h0M846.6 276h0M800.5 229.7h0M916.6 259.1h0M818.5 291.5h0M856.1 292.8h0M837.9 300.6h0M850.2 294.5h0M890.9 275.3h0M825.3 229.4h0M834 300.3h0M820.9 233.5h0M828.4 294h0M886.3 257.6h0M854.7 255.2h0M778 264.1h0M842.8 295.5h0M879.5 271.9h0M825.8 291.1h0M831 295.5h0M848.8 277.1h0M807.4 286.4h0M858.4 291.3h0M831.6 293.9h0M793.7 259.1h0M806.7 275.1h0M836.1 297.8h0M910 262.8h0M835.3 300.8h0M829 293.4h0M875.8 284.3h0M854.4 276.9h0M852.4 294.4h0M777.4 236.2h0M844.7 275.7h0M843.3 289h0M880.9 278h0M835.1 294.2h0M817.4 287.6h0M849.2 295.1h0M835.7 300.8h0M808.5 264.1h0M800.8 261.3h0M841.9 301.3h0M833.3 295.1h0M830.5 290.7h0M801.7 254.9h0M852.1 295.6h0M825.6 291.5h0M830.2 292h0M836 298.1h0M834.2 302.6h0M841.4 297.5h0M812.7 280.4h0M787.9 231.9h0M854.1 297h0M838.1 300.4h0M800.8 244.9h0M817.1 290.4h0M833.8 298.3h0M845.9 297.1h0M867.3 259.9h0M821.7 273.4h0M828 240h0M837.4 300.8h0M837.5 303.3h0M823.9 288.3h0M799.7 224.3h0M875 269.6h0M842.6 297.7h0M856.4 292.1h0M772.3 232.5h0M860.7 266.1h0M766 245.5h0M869.3 289h0M832.5 295.7h0M878.5 279.1h0M839.8 302.2h0M841.3 292.8h0M880.7 282.5h0M874.3 264.1h0M832.7 283.4h0M852 294.3h0M852.6 294h0M867.2 257.9h0M844.8 290.7h0M842.2 296.8h0M836.3 303.3h0M862.9 278.3h0M818.7 281.3h0M823.4 292.7h0M830.5 293.6h0M846.6 292.4h0M850.7 294.8h0M868.2 269.9h0M868.3 280.1h0M867.2 278.3h0M831.2 283.9h0M824 288.5h0M857 292.8h0M831.6 299.4h0M833 284.4h0M877 274.2h0M812.4 282.8h0M810.2 279.7h0M822.1 296.9h0M817.4 251.6h0M879.5 285.6h0M811 225.8h0M824.6 296.6h0M821.2 270.2h0M848.1 280.7h0M827.7 289.9h0M849.9 281.9h0M830.9 290.2h0M827.5 277h0M849.1 283.3h0M853 294.3h0M837.1 298.8h0M835 294.1h0M800.3 248h0M833.3 291h0M814.4 245.4h0M816.7 287.2h0M883 274.7h0M835.3 298h0M826.7 292.1h0M870.7 272.1h0M823.2 289.2h0M806.2 266h0M878.1 247.6h0M822.9 269.2h0M808.3 271.5h0M846.1 272.2h0M852.4 293.8h0M827.1 274.6h0M819.5 282.8h0M847.7 295.7h0M797 252.6h0M826.9 268.3h0M794.1 235.7h0M820.9 249.8h0M853.7 299.4h0M852.7 293.5h0M843.7 297.7h0M795.6 268.6h0M840.5 301.1h0M810.9 276.3h0M858.9 256.5h0M881.2 270.2h0M805.1 276.8h0M834.6 295.4h0M855.7 281.9h0M835.5 301.6h0M852.6 298.5h0M850.9 298.4h0M819.5 288.5h0M816.8 286.3h0M819.3 257.1h0M807.3 254.1h0M834.6 291h0M829 298.8h0M801 227.9h0M850.4 292.5h0M811.9 295.1h0M834.4 294.8h0M832.8 298.4h0M866.3 267h0M839.2 302.7h0M854.1 284.2h0M782.9 242.3h0M846.4 289.4h0M841.9 302.2h0M831.1 297h0M855.1 289.4h0M867.6 287.7h0M820.9 294.8h0M888.9 266.1h0M867 266.4h0M842.6 295.6h0M864.6 289.2h0M797.5 227.2h0M835 296.7h0M812.8 292.7h0M814.6 282.8h0M830.4 298.5h0M815.2 267.7h0M865.8 285h0M794.9 282.5h0M862.8 274.7h0M850.9 292.9h0M853.6 274.6h0M830.8 285.8h0M827.3 246.6h0M865.4 246.3h0M888.9 273.1h0M833 279.8h0M805.7 233h0M810.9 277.7h0M803.4 274.6h0M832 289.8h0M797 252.5h0M874.2 254.1h0M819.1 252.1h0M861.9 284.8h0M867.1 272.4h0M842.6 282h0M808.5 294h0M832 298h0M870 278.2h0M816 283.4h0M811.9 286.6h0M872.3 287.3h0M789.1 261.1h0M852.1 297.6h0M818.4 278.2h0M805.5 243.3h0M854.7 286h0M841.9 300.9h0M789.5 251h0M826 295.1h0M832.1 289.8h0M844.4 296.6h0M828.8 267.5h0M790.1 230.2h0M819.3 293.6h0M850 298.7h0M886.9 278.7h0M835.6 302.4h0M842.5 298.2h0M806.3 242.8h0M867.1 289.6h0M836.2 296h0M870.4 284.2h0M851.8 275.4h0M893.4 258.8h0M805.7 293.4h0M831.7 300.2h0M831.6 296.9h0M838.5 299.4h0M844.3 300.4h0M823.6 275.5h0M810.9 296.2h0M833.7 297.8h0M855.2 247.2h0M821.8 295.4h0M802.7 264.6h0M813.2 266.5h0M809.4 262.5h0M813.2 277h0M854.1 292.9h0M798.7 223.6h0M813.3 226h0M867.7 281.3h0M865.5 267.8h0M852.6 292.9h0M836.4 297.9h0M839.1 300.5h0M825 296h0M873.3 290h0M799.1 218.9h0M832.7 291.7h0M834.8 301.5h0M857.7 280.2h0M842 289.8h0M824 288.4h0M868.3 292.9h0M825.7 287.9h0M830.9 296.9h0M832.8 284.6h0M862.9 285.4h0M859.2 267.1h0M832 300.9h0M877.8 256.6h0M819.6 262.7h0M876.1 270.2h0M825.1 257.4h0M862.3 284.8h0M823.2 286.9h0M806.6 266.6h0M835.5 301.5h0M863.4 292.8h0M864.4 283.2h0M873.4 284.7h0M815.1 270h0M839.3 303.1h0M839.4 300h0M835 290.5h0M817.3 286.6h0M827.8 295.4h0M784.4 284.8h0M876.6 272.8h0M915.8 251.4h0M842.4 290.2h0M794.5 277.3h0M814.5 283.4h0M850 298.9h0M794.4 274.9h0M828.3 295.8h0M795.5 273.9h0M843.9 295.6h0M786.5 231.9h0M797.4 239.8h0M795.8 251.2h0M799.7 216.9h0M916.5 262.8h0M814.9 275.1h0M870.2 291.9h0M835.7 295.4h0M837 291.3h0M864.7 266.1h0M841.7 300.6h0M820.2 297.1h0M842.6 286.6h0M798.1 214.7h0M845.2 298.4h0M828.3 287.3h0M797 255.4h0M782.1 267.4h0M829.8 293.4h0M805.6 266.5h0M834 297.1h0M825.1 279.1h0M806.9 272.2h0M822.6 272.5h0M824.5 295.4h0M819.3 296.8h0M800.1 228.3h0M858 281.7h0M795.5 267.3h0M817.1 287h0M862.2 252.5h0M807.1 256.3h0M840.1 299.1h0M891 280.1h0M816.3 279.6h0M844.1 296.5h0M792.7 276.8h0M851 296.8h0M847.2 294.9h0M843.3 300.6h0M828.5 298.2h0M826.3 297.3h0M810.1 262.7h0M849.8 292.2h0M902.1 276.8h0M805.1 282.7h0M886.1 267.7h0M875.4 272.2h0M834.4 296.1h0M883.6 247.6h0M863 286.2h0M822.1 266.5h0M818.3 279.7h0M832.1 298.3h0M886 263.6h0M800.1 233h0M836.2 302h0M841.9 300.4h0M817.1 294.4h0M837.3 298.9h0M850.5 258.5h0M858.4 290.2h0M871.3 257h0M832.6 301.6h0M797.3 241.7h0M809 267.4h0M824.9 274.7h0M811.9 278h0M824.2 294h0M779.4 277.7h0M821.5 256.1h0M798.3 262.2h0M851.1 289.3h0M841.6 298.4h0M890.2 266.2h0M831.7 279.7h0M853 297.5h0M822.1 295h0M850.7 295.9h0M834.4 299.1h0M858 294.2h0M821 283.7h0M823.9 224.5h0M890.5 285.2h0M804.5 276.1h0M853.2 295.7h0M848.8 298.3h0M811.3 287.5h0M846.9 298.3h0M818 262.2h0M832.4 288.9h0M824.1 296.2h0M878.6 262.4h0M818.2 282h0M803.7 241.2h0M846.6 299.8h0M858.7 276.1h0M795.8 251.4h0M815.5 273.1h0M855 275.9h0M839.1 301.1h0M881.2 273.8h0M856 276.3h0M819.1 291.7h0M874 283.9h0M878.8 263.5h0M857.3 290.9h0M879.7 280.5h0M795.9 262.2h0M846.3 280.3h0M877.4 271.9h0M862.6 296.2h0M850.2 250.1h0M803.3 285.2h0M858.3 289.1h0M905.8 251.2h0M820.4 290.7h0M848.2 293.4h0M814.2 220.2h0M835 293.2h0M863.9 266.3h0M825.9 294.6h0M869.9 287.9h0M818.2 291.2h0M873.4 287.4h0M834.9 301.5h0M841.7 295.7h0M864.9 252.2h0M817.3 273.6h0M869.8 285.6h0M809.3 258.3h0M794.9 221.3h0M828.4 298.5h0M901.2 258.5h0M804.2 271.7h0M895.1 271.1h0M862.4 284.1h0M826.8 297.6h0M833 297.3h0M837.3 300.4h0M835.9 301h0M852.5 296.2h0M830.1 299h0M830.1 293.2h0M822.1 281.6h0M841.8 299.3h0M819 285.6h0M831.9 291.6h0M811 261.5h0M819.8 289.8h0M852.3 294.1h0M887.9 282h0M788.3 264.2h0M843.4 296.7h0M849.9 294h0M847.2 294.7h0M840.4 300.1h0M854.3 296.7h0M805.1 283h0M850.5 293h0M790.6 267.8h0M824.7 220.1h0M756.1 229.3h0M813.3 286.9h0M816 294.3h0M830.7 284.9h0M837.5 301.5h0M837.4 303.5h0M798.5 225.7h0M816.6 290.6h0M856.6 288h0M849.1 276.9h0M796.1 215.4h0M806.5 260.4h0M821.7 287.7h0M813.5 289.5h0M848.7 291.7h0M809.8 276.6h0M852.2 295.4h0M844.2 291.9h0M812.2 279.2h0M843.9 295.9h0M882 272.7h0M773.7 271.9h0M855.8 249.5h0M793.3 265.8h0M807.2 271.2h0M811 271.6h0M832.8 298.1h0M888.8 269.8h0M833.7 269h0M811.9 275.6h0M857.3 288.7h0M856.9 271.2h0M827.4 297h0M844.9 294.6h0M823.3 246.8h0M797.9 255.7h0M831.1 296.1h0M852 264h0M864.4 289.5h0M829.1 271.7h0M819.5 254.7h0M844.1 291.1h0M865 261.8h0M832.6 297.2h0M851.1 296.4h0M854.1 293.8h0M882.2 249h0M835.9 296.1h0M836.6 300.3h0M817 257.3h0M831.9 298.4h0M840.1 302.1h0M870.7 281.5h0M880.4 259.7h0M859.6 290h0M821.3 297.7h0M848.3 294.2h0M840.5 300.7h0M863.9 283.7h0M804.8 246.2h0M841.9 301.7h0M805.2 265.9h0M839.9 297.3h0M826.7 298.3h0M809.6 277.9h0M827.4 272.2h0M830.7 297.6h0M866.2 290.6h0M810.9 271.1h0M809.5 222.4h0M831.3 299.7h0M819.7 287.2h0M850.5 296.5h0M835.5 281.6h0M785.3 236.8h0M862 284h0M879.9 291.1h0M788.2 282.3h0M840.9 277.1h0M796 231.3h0M809.3 224.5h0M809.1 178.4h0M825.8 175.2h0M809.1 250.5h0M808.9 214.1h0M810.1 229.7h0M824.3 198.9h0M802.5 221.5h0M811.1 238.5h0M801.9 198.3h0M804.6 234.9h0M815.4 233.4h0M802.1 216.4h0M814.6 234.3h0M814.3 230.7h0M787.9 191h0M799 234.3h0M789.1 217.8h0M821.8 208.8h0M791.3 209.5h0M800 234.2h0M806.9 235.7h0M816.4 216h0M795.8 253.5h0M810.3 193.4h0M808.4 216.8h0M804.7 195.8h0M800.2 195.8h0M821.8 204.3h0M794.8 239.3h0M808.3 219.6h0M809.2 223.7h0M802 195.9h0M805.3 248.3h0M807.8 224.3h0M791.4 222.5h0M810.1 205.1h0M799.7 214h0M820.3 201h0M813.1 258h0M812 189.4h0M817.2 188.8h0M803.9 186.4h0M794.9 226.7h0M799.1 212.4h0M810.8 233.7h0M803.9 240.9h0M804.4 247h0M815.4 206.1h0M815.8 214.7h0M800.8 201.4h0M821.4 209.3h0M797.5 227.3h0M810.3 194.3h0M809.5 223.2h0M802.1 246.3h0M810.8 214.9h0M814.5 194.6h0M788.2 206.1h0M792.3 191.3h0M812.7 204.6h0M803.5 199.4h0M803 211.2h0M799.3 198.3h0M793.7 228.6h0M814.2 237.1h0M793.3 226.6h0M802.5 230.3h0M797.6 202h0M807.1 215.4h0M818.7 195.7h0M804.5 190.2h0M802.4 223.4h0M819.3 223.3h0M806.5 221.4h0M798.4 212.3h0M809.3 218.1h0M808.5 230.3h0M815.5 214.3h0M810.1 221h0M815.6 188.9h0M811.6 247.7h0M815.7 219.5h0M800.9 227.2h0M820.3 235.7h0M819.6 218.8h0M805.9 177.7h0M798.3 205.2h0M796.4 161.8h0M807.2 218.3h0M791.2 166.4h0M796 201.4h0M795.2 170h0M812.9 182.9h0M801.4 169h0M785.7 221.2h0M803 191.5h0M786.1 188.8h0M793.8 187.4h0M796.3 214.3h0M794.1 203.2h0M809.3 172h0M802.9 192.8h0M791 157.2h0M803.3 189h0M799.4 186.6h0M801.8 208.7h0M804 145.8h0M800.4 156.1h0M801.6 152.7h0M799.7 159.4h0M806.3 161.3h0M803.9 150h0M809.4 182.5h0M804 171.8h0M790.2 173.4h0M816.7 191.7h0M803.5 219.9h0M810.4 194.7h0M793.1 191.8h0M808.3 206.3h0M807.8 211.1h0M826.2 204.3h0M800.2 218.9h0"/>
<path stroke-width="5.3" d="M797.3 270h0M833.9 291.2h0M804.8 291.1h0M846.5 268.2h0M786.9 225.9h0M817.2 266.6h0M879.4 290.5h0M830.4 290.7h0M827.1 293.7h0M859.7 285.8h0M863.7 257.6h0M838.2 301h0M859 268.5h0M822.1 290h0M846.1 299.8h0M867.7 249.1h0M825.6 295.5h0M864 254h0M831.6 278.6h0M869.6 286h0M824.6 251.5h0M774.3 228.4h0M892.4 275.7h0M821.1 285.5h0M856.4 294.9h0M816.5 291.5h0M878.9 276.3h0M799.4 221.1h0M833.7 292h0M863.7 255.8h0M832.1 275.7h0M881.9 283h0M821.2 278.7h0M860.6 286.8h0M820.5 229.2h0M800.9 216.5h0M858.9 297.8h0M848.3 285h0M874.8 288.8h0M835.3 287.3h0M858.2 288.5h0M898.3 267.7h0M835.3 299.5h0M842.1 297.3h0M850 296.4h0M829 275.8h0M821.7 275.3h0M826.7 296.1h0M800.5 269.3h0M830.8 289.8h0M828.1 296.6h0M822.1 283.3h0M821.7 279.4h0M835.1 298.3h0M824 281.1h0M839.5 298.7h0M830.2 269.7h0M883.5 285.8h0M814.3 253.4h0M799.9 267.9h0M862.9 278.7h0M840.5 298.8h0M827.8 296h0M832.3 295.6h0M831.5 298.3h0M828.3 297.8h0M831.4 301.2h0M844.8 288.8h0M821.6 288.1h0M880.9 267.5h0M828.6 290.7h0M837.3 303.2h0M846.2 299h0M855 294.4h0M845 300.5h0M845.8 293.8h0M854.1 293.3h0M853.2 285.2h0M812.3 271.7h0M854 276.2h0M838.9 300.5h0M829.2 299.2h0M841.7 298h0M810 249h0M802.8 266.5h0M808.8 215.7h0M860.3 266.1h0M851.7 296.1h0M844.4 299.2h0M804.7 291.4h0M832 300.3h0M835.4 300.1h0M821.9 264.8h0M872.3 283.9h0M848.4 282.8h0M828.5 262.5h0M832 298.3h0M841.5 298.2h0M832.5 270.3h0M845.7 297.1h0M821.9 279.7h0M838 301.7h0M838.2 303.6h0M884.9 259.6h0M821.4 290.1h0M890.1 266.4h0M858.3 258.1h0M849 296.7h0M855.8 295.4h0M804.5 289.6h0M820.9 257.3h0M837 301.9h0M830.7 293.4h0M856.6 262.3h0M841.7 287.5h0M845.4 294.6h0M828.7 294.6h0M794.4 270.6h0M792 232.5h0M812 266.9h0M837.9 299.9h0M875.5 284.3h0M818.5 226.5h0M876.4 286.8h0M809.8 270.5h0M892.5 279.6h0M846.6 294.4h0M795.7 272h0M838.6 301.1h0M837.2 301.6h0M817.7 256h0M835.1 300.2h0M868.7 271.8h0M806.4 262.5h0M871.6 261.9h0M821.6 279h0M859.2 297.4h0M820.1 293h0M817.5 287.6h0M773.3 230.9h0M839.5 300.4h0M833.2 296.8h0M836.6 295.1h0M840.3 301.8h0M837 298.5h0M786.6 217h0M829.6 294.9h0M869.2 292.5h0M864.8 285.8h0M801.8 289.1h0M827.3 287.2h0M845.6 298.7h0M823.4 285.8h0M852.8 284.4h0M881.5 248.1h0M843.9 299h0M824.9 295.1h0M819.8 257.6h0M810.7 291.7h0M847.4 281.9h0M791.8 252.6h0M897.1 248.7h0M817.5 223.9h0M825.1 286.3h0M874.8 275.3h0M811.2 264.6h0M869 292.9h0M828.3 292h0M828.1 299.7h0M835.4 295.1h0M830.2 297.1h0M861.1 295.5h0M796.3 240.6h0M781.9 260.7h0M863.9 288h0M879.3 271.8h0M806.8 277.4h0M826.1 296.5h0M846.7 290.9h0M843.6 292.2h0M857.8 269.1h0M851.6 287.3h0M821.8 256.5h0M839.7 300.9h0M846.3 280.2h0M849.7 292.4h0M834.4 293.4h0M880.5 254.1h0M860.9 266.6h0M828.6 282.7h0M858.1 289.7h0M823.6 288.8h0M904.2 272.4h0M821.2 293.2h0M873.6 261.7h0M835.1 284.9h0M819.1 291.5h0M830.5 293.6h0M847.2 296.4h0M812.7 267.1h0M808.6 278.4h0M856.7 272.1h0M818.1 281.1h0M845.8 299.6h0M824.6 285.1h0M835.2 281.4h0M808.4 288.8h0M827.6 289.7h0M818.6 293.3h0M831.2 277.3h0M896.2 267.2h0M851.8 292h0M794.2 258.2h0M832.5 282.6h0M831 268h0M825.7 265.2h0M815.6 252.7h0M836.5 300.6h0M829.3 268h0M818.5 251.6h0M816.2 265.1h0M819.5 240.8h0M820.9 292.2h0M835 290.7h0M850.1 280.7h0M859 290.5h0M845.6 300.6h0M843.5 279.1h0M845.5 299.8h0M816 295.9h0M780.2 239.5h0M883.4 278.9h0M825 293.1h0M860.1 290h0M791.9 280.8h0M804.5 267h0M838.9 302.7h0M860.1 286.9h0M804.5 257h0M822.3 281.5h0M825.7 289.6h0M826.9 290h0M882.2 270.1h0M885.2 280.6h0M767.8 233.7h0M858.2 296.9h0M837.8 302.9h0M795.1 235.7h0M846.2 283.6h0M865.7 267.7h0M863.5 248.7h0M838.4 302.9h0M817.4 278.1h0M841.5 300.9h0M792.1 224h0M816.2 266.6h0M820.2 291.7h0M848 294.2h0M859.1 293.3h0M817.7 277.4h0M817 234.7h0M857.5 286.4h0M869.2 248.9h0M885.2 254.3h0M846.6 301.3h0M844.3 301.2h0M883 288.5h0M802 256.1h0M830.7 295.1h0M833.7 298.9h0M816.5 276.7h0M846.2 288.1h0M833.7 298.9h0M790.5 265.5h0M880.3 278.1h0M831.3 296.9h0M835 298.5h0M785.5 275.5h0M865.4 288.9h0M797.9 259.3h0M806.4 292.4h0M828.3 291h0M819.3 243.2h0M820.6 276.9h0M890.9 267.7h0M836.8 297.7h0M838.9 303.2h0M800.8 253.3h0M889.7 264.9h0M852.8 289.2h0M881.1 267.7h0M821.9 284.4h0M833.8 297.8h0M800.4 224h0M854.2 297.5h0M813.3 273.5h0M828.3 258.1h0M828.5 291.4h0M877.9 279.4h0M882.2 273.6h0M840.1 297.5h0M861.6 273.7h0M840.7 296.9h0M829.6 300h0M805.6 229.3h0M821.8 275.6h0M805.2 265.7h0M843.7 301h0M815.5 288.5h0M849.9 293.8h0M824.8 291.7h0M818.6 254.7h0M844.5 299h0M824.1 285.4h0M858.2 290.7h0M806.7 264.9h0M821.3 256.2h0M813.2 257.7h0M886 255.3h0M824.6 287h0M840.4 301.1h0M855.7 292.1h0M854.2 251.1h0M832.1 286.3h0M820.4 287h0M873.7 270.8h0M841.9 300.2h0M890.2 276h0M877.8 267.5h0M838.2 303.2h0M816 223h0M791.6 226.9h0M840.9 298.6h0M827.2 300.9h0M814 287.7h0M828.9 271.2h0M803.4 225.4h0M868.2 283.2h0M813.3 214.3h0M885.6 277h0M874 247.5h0M855.1 289.4h0M852 293.3h0M853.7 266.2h0M835.2 300.5h0M844.9 291.7h0M807.7 225h0M822 252.6h0M811.8 269.2h0M839 302h0M814.7 281.6h0M857.5 289.5h0M875.5 278h0M861.9 287.3h0M858.1 267.9h0M778.7 270.2h0M870.7 291.8h0M811.2 282.1h0M815.1 276.7h0M763.9 227.2h0M810.8 285h0M822 231.1h0M794.9 257.2h0M843.9 278h0M828.5 293.7h0M840.5 298.5h0M877.5 288.1h0M806.3 277.7h0M807.2 285.7h0M853.1 265.2h0M825.7 297.1h0M830.8 295.1h0M798.5 260.6h0M800.4 231.8h0M876.4 274.9h0M843.1 278h0M827.9 260.2h0M812.3 223.2h0M843.1 296.8h0M834.4 298.6h0M815.4 265.9h0M808.4 230.2h0M870.1 256.2h0M818.8 275h0M836.1 300.3h0M876.8 292h0M820.2 228.5h0M844.2 300.3h0M858.3 287.9h0M841.7 297.4h0M827.5 289.4h0M775.6 260.3h0M843.6 301.1h0M825.2 235.1h0M825.9 294.7h0M851.4 274.6h0M834.2 294.5h0M824 284.8h0M834.7 298h0M870.4 282.7h0M811.4 281.8h0M850.7 290.1h0M811.7 250.1h0M837.3 299.7h0M828.1 292.1h0M824.5 291.4h0M828.2 282.1h0M825.4 279.6h0M809.3 269.1h0M904.4 270.6h0M840.1 302h0M850.4 294.7h0M843.2 299.8h0M803.8 233.3h0M845.8 294.8h0M839.5 302.8h0M825.9 299.3h0M783.1 242.3h0M804.8 257.7h0M822.8 289.7h0M844.7 299.1h0M837.9 301.8h0M861.5 282.8h0M808.4 277.9h0M824.3 290.5h0M808.5 266.2h0M828.1 299.9h0M861 287.5h0M840.9 300.9h0M834.6 300h0M851.7 293.7h0M829.2 293h0M835.2 299.2h0M830.5 280h0M796.8 280.5h0M811.5 250.1h0M876.3 262.6h0M836.3 298.9h0M834.9 284.3h0M907.2 271.1h0M842 297h0M825.3 278.6h0M815.5 290h0M833.6 302.2h0M817.8 262.5h0M828.2 274.9h0M834.3 299.4h0M807 294.9h0M808 286.7h0M896.4 285.5h0M898.9 263.1h0M829.5 278.7h0M833.1 298.4h0M846.3 299h0M828 292.8h0M821.9 271.4h0M812.9 282.1h0M821.7 291.7h0M874.9 292h0M826.6 295.8h0M904.3 274.6h0M843.3 288.6h0M822.7 285h0M841.2 297.9h0M868.3 278.9h0M840.1 299.8h0M773.7 228.4h0M837.7 301.2h0M852.3 293.7h0M824 253.3h0M859.5 275.6h0M870.1 271.3h0M814.8 278h0M908.7 275h0M879.2 277.7h0M847.5 285.7h0M870.1 285.2h0M855.2 296.4h0M829.2 291h0M830.4 264.6h0M790.6 216.8h0M837.5 303.6h0M815.2 268.3h0M808.7 247.7h0M835.9 300.6h0M826.3 298.5h0M832.6 299.1h0M852.4 268.9h0M832.3 292.4h0M841.3 296.8h0M842.8 289.6h0M906.5 271.5h0M806.2 286.4h0M824.7 284.8h0M814.3 290.6h0M856.6 265.6h0M862.8 293.4h0M829.7 244.9h0M857.3 279.4h0M836.6 301.4h0M795.9 260.7h0M812.9 263.4h0M808 228.7h0M917.3 272.4h0M877.5 275.8h0M840.1 301.4h0M804.4 272.7h0M852.9 264.4h0M835.4 301.9h0M827 295.1h0M853 289.2h0M818.7 284h0M804.2 218.4h0M840.4 301.9h0M876.9 253.7h0M855.9 288h0M845.9 298.2h0M801.7 252.7h0M836.8 302.2h0M820.7 269h0M842.2 291.1h0M854.9 284.5h0M855.3 292h0M848.3 282.9h0M769.5 221.7h0M822.5 269.2h0M823.5 281.3h0M801.4 220.3h0M810.2 290.2h0M818.5 268.2h0M829.6 278.3h0M810.3 290.6h0M829.8 293.2h0M823.2 239.2h0M905.7 272.3h0M853 294.9h0M805.8 283.4h0M821.5 268.3h0M809.2 217.8h0M796.5 201.2h0M790 221.4h0M789.3 176.3h0M814.7 204.1h0M810.6 207.6h0M836.7 221.3h0M810 215.4h0M800.8 254.8h0M811 223.8h0M811.5 183.3h0M802.4 191h0M813.6 216.5h0M806.8 209.7h0M809 240.7h0M793.8 227.9h0M800.8 197.4h0M799 227.9h0M828.9 151.2h0M817.6 201.9h0M802.4 236.9h0M808.4 213.8h0M812.5 258.4h0M801 217.3h0M800.9 226.9h0"/>
<path stroke-width="6.1" d="M823.6 278.3h0M792.2 238.3h0M817.5 257.5h0M851.1 277.9h0M824.1 286.9h0M933.3 268.3h0"/>
</g>
<g stroke="#eaa33d" stroke-linecap="round" fill="none" transform="scale(1.13 1)">
<path stroke-width="4.6" d="M798.7 214.3h0M798.7 197.1h0M806.3 194.8h0M787.1 182.5h0M798.5 190.2h0M790.9 202.6h0M805.5 187.2h0M790 157.7h0M802.2 170.1h0M810.5 126.5h0M796.1 210.1h0M816.2 186.1h0M795.2 213.6h0M795.8 147.3h0M786.5 199.3h0M797.9 232.9h0M816.3 180.8h0M788.4 195.5h0M822 191.3h0M798.8 208.1h0M793.3 169.7h0M793.4 203.8h0M811.8 153.5h0M774 209h0M801.5 193.2h0M803.6 166.3h0M805.8 200.5h0M789.8 204.4h0M807.3 171.4h0M794.5 163.9h0M807.2 175.5h0M814.3 160.3h0M785.6 181.6h0M806.5 177.3h0M805.9 195.2h0M801.3 178.3h0M790.5 234.9h0M793.5 169.5h0M792.7 211.1h0M811.9 112.2h0M809.3 198.7h0M812.5 199.2h0M815.9 196.3h0M803.2 195.7h0M790.5 202h0M795.8 240.3h0M791.5 120.3h0M797 161.2h0M818.1 202h0M803 178.4h0M785.8 196.6h0M798.5 199.5h0M801 155.4h0M800.8 199.6h0M800 185.1h0M806 227.2h0M789.5 198.1h0M805.3 164.7h0M798.2 227.9h0M781.3 205.6h0M802.4 226.2h0M800.7 177.3h0M781.7 147.9h0M795.5 229.1h0M783.9 230.3h0M789.8 218.9h0M799.2 225.2h0M795.4 218h0M796.9 243.8h0M787.4 238.7h0M791.3 221.2h0M787.6 221.7h0M779.4 228.3h0M797.6 239.6h0M785.5 211.5h0M786.3 208.4h0M783.1 221.3h0M779.6 220.4h0M784.9 240.5h0"/>
<path stroke-width="5.3" d="M778.5 202.7h0M798.8 175.7h0M807.8 218.8h0M811.1 172.5h0M804.7 154.1h0M795.4 183.3h0M796 169.3h0M786.2 193.1h0M808.2 195.4h0M794.8 242.5h0M804.6 200.1h0M798.3 191.5h0M801.7 156.5h0M790 225.2h0M791.1 211.4h0M795.9 185.1h0M795.9 192.9h0M787.5 175.6h0M798 211.7h0M795.3 182.2h0M779 206.7h0M782.5 199.7h0M816.4 184.6h0M809.4 171.2h0M797.6 214h0M783.4 203.5h0M775.5 229.4h0M801.2 220.5h0M776.2 229.7h0M795.7 222.4h0"/>
<path stroke-width="6.1" d="M800.5 189.4h0M802.8 161.8h0M802.7 206.8h0M792.2 206.9h0M807 217.1h0M794.9 206.2h0M819.1 215h0M819.6 219.3h0M799.1 197.7h0M792.4 192h0M804.8 205.9h0M801.1 198.4h0M821.3 184.2h0M791.4 210.9h0M819.2 210.9h0M799.9 225.3h0M818 212.4h0M797.1 236.3h0M815.1 177.3h0M805.2 229.1h0M801.4 200.1h0M799.6 168.1h0M798.7 195.7h0M789.5 204.2h0M785.4 219.2h0M778.3 212.2h0M788.3 235h0M796.9 209.1h0"/>
<path stroke-width="6.5" d="M800.3 159.1h0M790.2 204.2h0"/>
<path stroke-width="6.6" d="M794.9 217.3h0M796.2 184.7h0M807.9 215h0"/>
<path stroke-width="6.8" d="M795.8 195.2h0M782 204.4h0"/>
</g>
<g stroke="#e8414b" stroke-linecap="round" fill="none" transform="scale(1.13 1)">
</g>
<g stroke="#86d3ea" stroke-linecap="round" fill="none" transform="scale(1.13 1)">
<path stroke-width="3.8" d="M829.5 297.7h0M839.1 301h0M834.6 240.8h0M831.9 298.4h0M817.4 283.6h0M807.9 277.4h0M835.2 273h0M817.7 278.5h0M823.4 293.9h0M809.2 253.5h0M822.7 243.7h0M792.2 223.3h0M817.3 287.5h0M840.6 300.3h0M880.9 271.1h0M803.6 239.4h0M840.6 289.3h0M816.8 275.9h0M824.7 287.6h0M847.8 298.2h0M866.2 289.3h0M812.3 219.2h0M820.1 281.6h0M833 292.4h0M792.9 257.3h0M803.8 261.5h0M810.3 227.3h0M827.9 292.6h0M836.6 301.6h0M873.4 285.9h0M843.6 298.5h0M852.2 262.3h0M824.9 253.1h0M812.8 276.1h0M855.8 290.6h0M793.6 247.1h0M816.3 278.9h0M843.7 285.9h0M850.7 295.1h0M827.4 234.9h0M871.7 287.6h0M835.8 302.6h0M890.5 270.7h0M842.7 292.1h0M857.7 297.2h0M866.2 254.3h0M825.4 297.2h0M869 282.5h0M813.9 285.4h0M824 239.4h0M840.5 288.4h0M819.1 289.5h0M823.5 239.5h0M818.1 269.2h0M806.4 267.7h0M898.5 260.7h0M829.2 286.2h0M815.2 214.7h0M822.2 282.1h0M823.1 293.9h0M827.4 294.4h0M832 293.7h0M822.4 292.5h0M792 288.4h0M919.5 277.8h0M862 296h0M833.1 300.1h0M880.8 270.6h0M839.6 295.9h0M819.2 211.7h0M824 245.5h0M805.3 191.9h0M819.9 209.8h0M791.1 224.5h0M802.2 230.3h0M811.4 178h0M820.4 193.3h0M801 175.2h0M802.2 215.8h0M798.6 218.2h0M812.1 236.3h0M826.7 224.9h0M783.1 271h0M819.4 185.4h0M812.5 246.8h0M798.6 212.1h0M792.1 223.2h0M806.5 193.4h0M814.1 201.5h0M809.6 218.1h0M802.5 181.3h0M796 143.4h0M802.1 184.1h0M801.5 201.7h0M808.7 200.2h0M805 205.8h0M811.2 197.7h0M807.1 194.5h0M810.1 200.2h0M808.1 170.9h0M807.5 192.8h0M815.7 200.9h0"/>
<path stroke-width="4.6" d="M812.7 229h0M825.6 295.5h0M801.3 260.2h0M835.2 299h0M871.1 277.4h0M824.9 293.3h0M863 273h0M811.8 253.7h0M825.7 289.3h0M877.3 280.2h0M855.7 288.3h0M842.9 296.5h0M780 246h0M848 283.9h0M877.4 285.2h0M791.9 265.4h0M839.5 295.8h0M854.9 273.2h0M823.4 278.4h0M858.7 289.6h0M826.1 289.4h0M852.6 287.4h0M830.9 293.9h0M842.6 299.7h0M875.7 289.5h0M821.8 287.5h0M828.6 292.4h0M856.8 296.8h0M850.8 293.2h0M826.6 273.1h0M824 235h0M806.7 278.9h0M864.5 284.6h0M827.5 294.6h0M825.8 273h0M810.9 282.6h0M850.3 282h0M789.6 255.4h0M860.7 248.8h0M823.3 282.3h0M840.1 299.3h0M885.7 267h0M851.5 289.6h0M861.5 290.8h0M809.4 266.4h0M862.9 295.4h0M823.7 284.1h0M812 245.2h0M828.3 264h0M805.9 292.1h0M823.8 241.4h0M865.9 284h0M804.8 220.4h0M832.9 298.3h0M849.3 274.4h0M879.5 277.3h0M842.9 299.9h0M819.9 292.3h0M865.6 252.4h0M842.9 297.4h0M816.8 292.1h0M878.3 277.4h0M868.9 291.2h0M810.8 269h0M830.1 287.7h0M816.8 292.5h0M799.4 261.8h0M781.4 250.9h0M795.1 277.7h0M833.6 294.7h0M850.9 292.8h0M833 285.1h0M825.9 297.6h0M839.6 301.5h0M806.2 290.4h0M789.4 273.8h0M849.1 289.4h0M797.2 227.2h0M815.6 290.1h0M837.5 303.5h0M849.7 283.2h0M816.3 277.7h0M794 217.3h0M806.5 217.8h0M801 271.7h0M829.1 299.5h0M799.9 261.9h0M847.7 263.3h0M804.8 266.2h0M807.4 258.5h0M825.9 273.5h0M860.8 286.3h0M825.5 292.1h0M842.7 298h0M856.5 279.7h0M860.3 280h0M810.8 240.8h0M835.5 299.5h0M822.7 293.6h0M825.8 291.5h0M871.4 290.7h0M874.9 276.8h0M797.8 286.5h0M854 292.3h0M837.2 301.1h0M815.2 297.3h0M790 231.8h0M825.2 293.8h0M841.3 297.5h0M825.1 296.7h0M874.4 285.1h0M814 286.3h0M858.3 247h0M868.8 285.3h0M858.4 265.5h0M780.3 252h0M856.7 284.8h0M835.3 302.6h0M834 295.5h0M830.4 291.2h0M832.6 291.3h0M827.4 295h0M818.4 296.8h0M821 297.4h0M820.9 291.6h0M833.9 296.6h0M846.6 296.8h0M815.5 292.5h0M900.1 268h0M809 216.8h0M861.3 281h0M857.7 285.6h0M847 295.5h0M837.8 301.3h0M804 269.2h0M832.8 301.6h0M887.4 258.6h0M811.1 271.6h0M846 293h0M823.3 288.4h0M830.9 294.6h0M823.2 288h0M828.2 283.1h0M830.1 286.6h0M832.7 293.7h0M845.9 288.6h0M820.1 278.8h0M803.4 282.5h0M773.3 231.6h0M839.8 298h0M851 288.7h0M797.2 266h0M824.7 290h0M829 271.2h0M827.9 294.1h0M831.6 288.9h0M844.8 297.7h0M791.6 235.6h0M824.9 298.4h0M842.4 299.7h0M856.9 291.5h0M899.5 264.8h0M815.3 292.7h0M854.1 295h0M830.1 231.6h0M844 300.5h0M860 281.4h0M814.8 293.8h0M809.7 234.8h0M852.1 297.6h0M834.9 297.8h0M829 287.4h0M879.7 291.8h0M825.4 298.2h0M854.3 298.6h0M840 301.7h0M829.8 293.7h0M815.4 284.6h0M776.3 264.7h0M823.8 274.3h0M833.1 287.5h0M830.3 297.1h0M800.8 262h0M815.3 282.8h0M841.4 300.4h0M846.2 299.7h0M822.9 285.4h0M832.3 295.6h0M833.6 279h0M822.7 229.3h0M862.4 294h0M829.9 287.9h0M860.2 285.6h0M839.4 294.4h0M812.2 276.6h0M838.7 299.2h0M829.3 276.5h0M859.3 291.9h0M848.1 295.2h0M847.2 295.4h0M828 300.2h0M809.5 276.4h0M834.7 296.1h0M795.3 269.3h0M852.5 288h0M866 257.1h0M808.8 277.9h0M857.7 270h0M848.2 295.3h0M822 299.5h0M820.4 265.1h0M836.7 303.1h0M803.9 262.7h0M830 289.3h0M797.2 219.7h0M836.1 300.9h0M824 274.5h0M800.3 225.9h0M847.6 292.5h0M829.9 298.7h0M803.3 286h0M839.3 302.9h0M825.3 244.4h0M826.8 269.6h0M828.8 294.4h0M791.2 262.7h0M860.4 294.6h0M826.8 275.5h0M819.6 289.2h0M821.8 284.2h0M795.4 282.8h0M815.1 296.7h0M905.5 258.2h0M809.5 227.5h0M869.4 289.2h0M844.2 288.1h0M841.6 297.9h0M834.4 297.7h0M839.4 301.9h0M837 301.7h0M833.6 292.8h0M821.9 287.6h0M863 280.1h0M848.1 267.5h0M859.8 297.2h0M822.1 295.5h0M843.8 297.1h0M801 250.3h0M813.2 280.7h0M814 267.8h0M845.6 297.7h0M819.2 283.8h0M835.1 293.5h0M838.9 302.6h0M815.5 285.5h0M828.6 282.6h0M818.1 277.3h0M852.1 297h0M827 279.6h0M834.4 289.3h0M850.9 277.6h0M870.2 271.1h0M892.7 269.9h0M876.4 273.6h0M832.1 295.8h0M814.1 255.6h0M846.3 297.7h0M866.7 285.2h0M841.1 297.7h0M836.4 302.5h0M817.4 292.2h0M911 264.6h0M826.1 294.1h0M847.9 289.1h0M817.4 286.8h0M834.5 289.9h0M834.1 298.3h0M804 264.6h0M851.1 294.8h0M844.9 289.6h0M800.2 260.1h0M831.8 280.8h0M883 287h0M807.3 253.5h0M840.9 301.3h0M843.9 299.2h0M847.1 292.3h0M830.3 279.6h0M803.2 271h0M848.5 300.1h0M824.5 298.6h0M831.7 294.3h0M762.3 223.2h0M828.7 248.6h0M837.6 301.8h0M820.5 291.3h0M802.8 218.2h0M849 282.3h0M790.1 266h0M822.9 279.9h0M874.9 287.1h0M816.9 281.8h0M827.9 281.8h0M814.8 233.6h0M857.2 261.8h0M859.6 293.1h0M854.2 285.7h0M769.7 232h0M873.8 279.6h0M835.5 301.2h0M896.2 277.1h0M854.4 290.3h0M821.9 286.6h0M815.2 293.6h0M836 299h0M851.4 289h0M834 297.8h0M867.7 288.1h0M814.8 227.6h0M858.2 267.8h0M824.5 291.9h0M863.5 284.4h0M832.8 299.1h0M847.5 267.8h0M849.1 297.2h0M822.1 257.3h0M792.4 244.8h0M839.7 300.9h0M796.8 286.9h0M814.3 234.3h0M842.8 297.8h0M839.6 299.6h0M825.8 289.1h0M850 298.4h0M829.5 279.2h0M822.8 287.8h0M795.2 261.1h0M846.2 293.9h0M792.7 246h0M849.6 292.5h0M820 233.2h0M811.8 273.1h0M813.2 279.6h0M760.8 244.7h0M841.6 297.6h0M837 300.8h0M861.4 279.1h0M838 300.3h0M837.4 299.9h0M802.1 288.4h0M826.4 290.5h0M820.7 286.8h0M828.4 285.3h0M827.9 294.8h0M836.3 301.2h0M859.3 267.4h0M821.1 282.4h0M831.6 295.5h0M823.9 281.1h0M844.9 298h0M839.1 302.8h0M843 293.2h0M840.6 296.8h0M884.6 268.5h0M808.9 265h0M872.8 278.7h0M859 292.2h0M859.5 297.5h0M820.2 238.3h0M810.4 271.9h0M858.3 296.2h0M834.2 302.5h0M851 297.2h0M853.4 270.5h0M830.7 282.6h0M826.6 230.9h0M806.5 224h0M837.3 301.9h0M841.6 293.6h0M812.8 222.1h0M824.9 295.6h0M802.2 234.7h0M807.9 273h0M825.8 287.7h0M846.6 296.6h0M819.5 286.9h0M830.3 297.5h0M797.6 277.1h0M819.3 254.8h0M801 234.6h0M821.8 269.7h0M803.5 274.1h0M792.4 260.5h0M823.8 289.1h0M844.4 297.2h0M857.9 291.3h0M818.2 288.1h0M819.7 286.5h0M861.7 293h0M822.2 289.5h0M816.4 291.5h0M794.7 287.7h0M806.5 290.2h0M811 292.1h0M849.9 293.5h0M861.5 282.5h0M909.5 268.3h0M805 273.5h0M861.4 260h0M850.1 290.6h0M883.7 265.5h0M839 300.5h0M832 287.7h0M822.5 254.3h0M785.7 237.7h0M830.8 287.1h0M814.4 219.7h0M818.9 269.3h0M836.3 299h0M840 299.5h0M827.6 216.2h0M845.7 300.1h0M846.2 297.8h0M813.4 272.9h0M858.2 289.5h0M834 300.3h0M865.5 272.4h0M839.3 300.3h0M843.3 302h0M788.9 214.2h0M833.2 300h0M825.9 293.4h0M833.6 299.2h0M864.5 281.3h0M839.4 302.1h0M875.6 270.2h0M821.1 280.6h0M821.6 296.6h0M817 286.9h0M813.1 252.1h0M825.1 291.5h0M817.2 288.5h0M851.9 265.3h0M826.9 295h0M807.6 291.2h0M855.4 264.5h0M859.6 273.6h0M851.6 279.7h0M831.3 297.2h0M805.9 267.6h0M849.2 295.7h0M818.2 287.9h0M826.9 227h0M827.7 294.9h0M802.4 274.2h0M853.2 292.9h0M887.3 267.7h0M828.4 256.2h0M824.1 273.8h0M842.1 300.9h0M811.7 274h0M833.2 300.7h0M818.4 249.3h0M808.7 273.1h0M856.5 294h0M871.8 279.3h0M833.4 287.7h0M803 287h0M835.8 296.6h0M819.8 283.3h0M840.3 301.2h0M809.4 268.2h0M814.7 295.6h0M836.5 303.4h0M834.7 295.4h0M832.2 299.8h0M846.9 290.2h0M820.6 285.9h0M873.8 284.3h0M866.7 249.9h0M831.5 296.3h0M816.5 288h0M871.2 278.7h0M843.9 298.6h0M832.1 300.6h0M833 261.4h0M869.7 283.4h0M851.5 299.7h0M842 297.2h0M815.8 253.7h0M828.7 283.7h0M825.8 267.6h0M811.7 287.7h0M824 281.3h0M808.8 279h0M804 261.4h0M829.4 298.8h0M851.2 297.1h0M824.8 288h0M822.7 284.8h0M868.7 286h0M847.5 282.6h0M809.4 257.4h0M825.7 289.9h0M869.6 268.2h0M838.2 300.3h0M813.2 272.4h0M840.1 299.4h0M865.4 284.1h0M804.5 265.8h0M848.1 286.7h0M816.7 275.2h0M806.4 222.3h0M822.3 227.5h0M794.2 250.2h0M801.5 245.3h0M800.9 238.6h0M796 222.6h0M818 217.9h0M804.2 206.1h0M817.7 224.2h0M802.1 190.3h0M798.8 196.7h0M809.3 230.2h0M784.9 216.5h0M815 190.4h0M798.4 229h0M803.1 217.9h0M801.2 255.4h0M802.6 242.3h0M804.8 182h0M802.7 200.1h0M801.5 215.1h0M801.7 204.3h0M810.7 237.5h0M826 251.5h0M799.7 144h0M816.8 215.9h0M814.5 188.6h0M802.8 164.7h0M800.6 193.8h0M808.3 205.8h0M806.9 212.5h0M806.9 223h0M804.2 227.1h0M805.5 180.5h0M818.2 225.2h0M797.4 151.7h0"/>
<path stroke-width="5.3" d="M834.7 297.3h0M839.3 299h0M822.2 292.3h0M818.5 291.5h0M853.7 295.9h0M768.5 237.9h0M830.2 298.3h0M848.8 264.6h0M831.8 295.1h0M820.4 295.1h0M837.5 303.7h0M823.1 286h0M873.8 284.9h0M848.7 295h0M858.2 292.5h0M834.4 289.2h0M831.3 296.2h0M854.4 296h0M824.5 286.3h0M797.3 275.5h0M885.7 277.6h0M838 302.2h0M816.7 288.7h0M871.6 282.7h0M837.7 302.8h0M840.6 302.3h0M860.1 257.9h0M800.7 275.8h0M874.4 260h0M851.2 296.3h0M891.9 274.1h0M836.9 302.7h0M823.1 287.3h0M847.3 296.8h0M824 255.6h0M818.9 219.3h0M810.7 231.3h0M818.5 277.1h0M833.8 296.4h0M836.3 301.7h0M850.8 285.8h0M900.7 271.7h0M803.3 267.8h0M821.1 295.2h0M792.2 262.9h0M855 246.3h0M836.8 297h0M833.2 300.3h0M792 259.8h0M842.6 301.3h0M874.3 284.5h0M860.9 258h0M814.8 279.6h0M811.9 285.4h0M821.1 270.8h0M845.3 298h0M831.8 297.7h0M834.1 296.6h0M807.1 280.5h0M827.2 290.5h0M843.7 292.7h0M800.1 270.5h0M813.1 263h0M891.2 252.9h0M821.9 271.6h0M810.9 295.5h0M810.3 267.7h0M833.6 297.7h0M826 299h0M846.3 297.9h0M808.8 281h0M841.9 299.7h0M849.2 279.6h0M844.2 296.2h0M829.7 243h0M800.6 271.6h0M833.8 295.7h0M826.4 295.2h0M866.5 288.1h0M827.9 280h0M847.9 297h0M842.2 301.3h0M803 228h0M839.8 300.9h0M776.1 222.5h0M822.5 253.2h0M769 273.5h0M821.5 279.1h0M807.4 261.6h0M823.6 268.5h0M865.2 294.7h0M831.9 288h0M796.6 219h0M823.6 274.7h0M869.1 281.8h0M827.4 244.7h0M837.1 302.7h0M822.4 236.9h0M829.3 295h0M861.9 286.2h0M822.3 286.9h0M795.1 214.3h0M869.2 281.2h0M807.3 227.3h0M834.7 298h0M824.9 298.4h0M830.3 290.2h0M827.3 293.5h0M834.9 295.9h0M866.8 293.6h0M860.5 282.4h0M820.2 287.4h0M834.6 293.6h0M830.6 296.7h0M843.2 291.7h0M845.1 294.1h0M831.4 291.7h0M818.5 248.8h0M831.7 284.5h0M844.3 298.1h0M838.9 299.9h0M835.8 298.5h0M831.8 285.7h0M805 234.9h0M826 291.3h0M835.9 296.1h0M876.6 282.8h0M840.3 298.3h0M830.1 291.5h0M858.1 287.1h0M806.8 243.8h0M854.8 293.5h0M873.4 292.5h0M817.7 293.9h0M825.1 297.2h0M897 273.2h0M865.1 292h0M872.7 279h0M822.1 251.1h0M829.3 275.2h0M877.2 275.3h0M834 285.7h0M854.6 295.5h0M814.5 281.9h0M853.2 288.9h0M836.4 300.1h0M810.8 270.1h0M838.2 302h0M834.1 294.7h0M839.1 299.2h0M803.3 249.1h0M846.2 297.5h0M824.4 286.6h0M831.8 266h0M830.9 285h0M852.7 286.9h0M866.4 288.1h0M834.7 288.9h0M811.8 284.7h0M854.7 278.6h0M790.8 273.4h0M798.9 281.2h0M807.7 277.7h0M854.9 287.9h0M895 278.9h0M814.5 291.9h0M851 291h0M850.4 283.5h0M820.6 280.2h0M844.1 298.6h0M811.7 218.9h0M832.5 287.7h0M821.7 276.5h0M900.7 263.6h0M819.2 289.3h0M840.6 299.4h0M862.3 282.7h0M801.1 222.3h0M826 281.3h0M813.4 259.6h0M891.9 278.8h0M842.5 299.6h0M897.7 269.1h0M817.3 280.5h0M820.5 214.2h0M828.8 283.8h0M877.9 274.4h0M857.8 275.1h0M876.8 283.2h0M785.2 241.1h0M829.1 231.1h0M849.6 277.2h0M855 292.5h0M815.6 281.5h0M821.6 286.1h0M867.9 290h0M887.5 256.1h0M841.7 300.4h0M816.2 286.1h0M808.8 217.3h0M803.7 214.7h0M818.9 254.5h0M810 212.8h0M798.3 228.9h0M812.9 215.2h0M795.8 208.9h0M800.3 235.7h0M805.2 205.6h0M805.3 244.1h0M799.6 218.7h0"/>
<path stroke-width="6.1" d="M834.7 294h0M842.5 300.6h0"/>
</g>
<g stroke="#86d3ea" stroke-linecap="round" fill="none" transform="scale(1.13 1)">
<path stroke-width="3.8" d="M794 120.6h0"/>
<path stroke-width="4.6" d="M806.4 129h0M755.5 211.2h0M754.2 248.3h0M760.4 241.4h0M933.3 240.4h0M841.3 204.2h0M827.6 197.2h0M852.4 213.5h0M843.7 234.4h0M720.6 278.5h0M731.8 279.5h0M979.3 279.5h0M965.6 277.6h0M950.7 280.9h0M944.5 283.2h0M937 283.2h0M934.5 284.1h0M920.8 284.1h0M905.9 283.2h0M917.1 254.4h0"/>
<path stroke-width="5.3" d="M912.1 253h0"/>
<path stroke-width="6.1" d="M942 262.3h0"/>
</g>
<g stroke="#eaa33d" stroke-linecap="round" fill="none" transform="scale(1.13 1)">
<path stroke-width="4.6" d="M788.5 89h0M793.3 100.6h0M794 104.3h0M787.8 112.2h0M804 120.6h0M756.7 175.4h0M786.5 138.3h0M780.3 160.1h0M774.1 213.5h0M782.8 197.2h0M780.3 188h0M775.4 239h0M770.4 241.4h0"/>
<path stroke-width="5.3" d="M767.9 157.8h0M774.1 160.1h0M765.4 218.1h0M775.4 225.1h0"/>
<path stroke-width="6.1" d="M806.4 135.5h0M799 139.2h0"/>
<path stroke-width="8" d="M757.9 146.1h0"/>
<path stroke-width="9.5" d="M804 145.2h0"/>
<path stroke-width="11.8" d="M802.7 68.6h0"/>
</g>
<g stroke="#e8414b" stroke-linecap="round" fill="none" transform="scale(1.13 1)">
<path stroke-width="4.6" d="M930.8 198.2h0M886 195.8h0M877.3 204.2h0M871.1 217.2h0M856.9 203.3h0M856.2 207.9h0M852.9 214.4h0M876.1 225.1h0M898.4 242.3h0M905.9 222.8h0M915.9 222.8h0M879.8 229.8h0M883.5 231.2h0M876.1 243.7h0"/>
<path stroke-width="5.3" d="M914.6 190.3h0M892.2 215.8h0M887.3 226.5h0M913.4 219.1h0"/>
<path stroke-width="6.1" d="M929.5 152.2h0M928.3 208.9h0M889.7 208.9h0M883.5 223.7h0M898.4 232.1h0M893.5 236.7h0M912.1 235.8h0"/>
<path stroke-width="6.8" d="M894.7 227.4h0"/>
<path stroke-width="7.6" d="M940.7 227.4h0M946.9 241.4h0"/>
<path stroke-width="10.4" d="M872.3 234.4h0"/>
<path stroke-width="13.3" d="M926.5 221.4h0"/>
<path stroke-width="19.9" d="M863.6 234.4h0"/>
</g>
<line x1="930" x2="930" y1="50.4" y2="305" stroke="#111" stroke-width="1.7" stroke-dasharray="4.4 3.2"/>
<line x1="962.8" x2="962.8" y1="50.4" y2="305" stroke="#111" stroke-width="1.7" stroke-dasharray="4.4 3.2"/>
<line x1="812.5" x2="1108.6" y1="246" y2="246" stroke="#111" stroke-width="1.7" stroke-dasharray="4.4 3.2"/>
<rect x="808.4" y="34.6" width="304.9" height="279.7" fill="none" stroke="#1a1a1a" stroke-width="1.6"/>
<line x1="876.1" x2="876.1" y1="314.3" y2="317.3" stroke="#1a1a1a" stroke-width="1"/>
<text transform="translate(876.1 331) scale(1.27 1)" font-size="14" text-anchor="middle">-2.5</text>
<line x1="946.4" x2="946.4" y1="314.3" y2="317.3" stroke="#1a1a1a" stroke-width="1"/>
<text transform="translate(946.4 331) scale(1.27 1)" font-size="14" text-anchor="middle">0</text>
<line x1="1016.6" x2="1016.6" y1="314.3" y2="317.3" stroke="#1a1a1a" stroke-width="1"/>
<text transform="translate(1016.6 331) scale(1.27 1)" font-size="14" text-anchor="middle">2.5</text>
<line x1="1086.9" x2="1086.9" y1="314.3" y2="317.3" stroke="#1a1a1a" stroke-width="1"/>
<text transform="translate(1086.9 331) scale(1.27 1)" font-size="14" text-anchor="middle">5</text>
<line x1="805.4" x2="808.4" y1="213.5" y2="213.5" stroke="#1a1a1a" stroke-width="1"/>
<text transform="translate(802.5 218.5) scale(1.27 1)" font-size="14" text-anchor="end">2</text>
<line x1="805.4" x2="808.4" y1="120.6" y2="120.6" stroke="#1a1a1a" stroke-width="1"/>
<text transform="translate(802.5 125.6) scale(1.27 1)" font-size="14" text-anchor="end">4</text>
<text transform="translate(975.4 23.5) scale(1.2 1)" font-size="14.5" text-anchor="middle" font-weight="bold" fill="#1a1a1a">Volcano plot</text>
<text transform="translate(975 349.8) scale(1.2 1)" font-size="14.5" text-anchor="middle" font-weight="bold" fill="#1a1a1a">log2(FC)</text>
<text transform="translate(787.5 166) rotate(-90) scale(1 1.22)" text-anchor="middle" font-size="15" font-weight="bold" fill="#1a1a1a">-log10(PValue)</text>
<text transform="translate(1110.5 309) scale(1.2 1)" font-size="16.5" text-anchor="end" font-weight="bold" fill="#222">Rumen fluid sample</text>
<text transform="translate(1056.6 47.2) scale(1.08 1)" font-size="12.5">VIP</text>
<ellipse cx="1060.4" cy="58.3" rx="2.1" ry="1.9" fill="#5a5a5a"/>
<text transform="translate(1075 57.8) scale(1.08 1)" font-size="12.5">0</text>
<ellipse cx="1060.4" cy="70" rx="4" ry="3.6" fill="#5a5a5a"/>
<text transform="translate(1075 72.6) scale(1.08 1)" font-size="12.5">7.97</text>
<ellipse cx="1060.4" cy="85.7" rx="6.1" ry="5.5" fill="#5a5a5a"/>
<text transform="translate(1075 89) scale(1.08 1)" font-size="12.5">15.94</text>
<ellipse cx="1060.4" cy="102.4" rx="8.5" ry="7.5" fill="#5a5a5a"/>
<text transform="translate(1075 105.7) scale(1.08 1)" font-size="12.5">23.91</text>
<ellipse cx="1060.4" cy="123.5" rx="11" ry="9.8" fill="#5a5a5a"/>
<text transform="translate(1075 126.2) scale(1.08 1)" font-size="12.5">31.88</text>
<text transform="translate(1067.6 152.8) scale(1.08 1)" font-size="12.5">color</text>
<ellipse cx="1066.7" cy="162.2" rx="4.4" ry="3.8" fill="#eaa33d"/>
<text transform="translate(1077 166.5) scale(1.08 1)" font-size="12.5">down</text>
<ellipse cx="1066.7" cy="180.5" rx="4.4" ry="3.8" fill="#86d3ea"/>
<text transform="translate(1077 185.4) scale(1.08 1)" font-size="12.5">nodiff</text>
<ellipse cx="1066.7" cy="198.4" rx="4.4" ry="3.8" fill="#e8414b"/>
<text transform="translate(1077 203.3) scale(1.08 1)" font-size="12.5">up</text>
</g>
<g>
<rect x="1157.2" y="37.2" width="313.4" height="277.1" fill="#ebebeb"/>
<line x1="1219.8" x2="1219.8" y1="37.2" y2="314.3" stroke="#fff" stroke-width="1.2"/>
<line x1="1315.2" x2="1315.2" y1="37.2" y2="314.3" stroke="#fff" stroke-width="1.2"/>
<line x1="1410.8" x2="1410.8" y1="37.2" y2="314.3" stroke="#fff" stroke-width="1.2"/>
<line x1="1157.2" x2="1470.6" y1="266.3" y2="266.3" stroke="#fff" stroke-width="1.2"/>
<line x1="1157.2" x2="1470.6" y1="185.4" y2="185.4" stroke="#fff" stroke-width="1.2"/>
<line x1="1157.2" x2="1470.6" y1="104.5" y2="104.5" stroke="#fff" stroke-width="1.2"/>
<line x1="1172" x2="1172" y1="37.2" y2="314.3" stroke="#fff" stroke-width="2"/>
<line x1="1267.5" x2="1267.5" y1="37.2" y2="314.3" stroke="#fff" stroke-width="2"/>
<line x1="1363" x2="1363" y1="37.2" y2="314.3" stroke="#fff" stroke-width="2"/>
<line x1="1458.5" x2="1458.5" y1="37.2" y2="314.3" stroke="#fff" stroke-width="2"/>
<line x1="1157.2" x2="1470.6" y1="225.9" y2="225.9" stroke="#fff" stroke-width="2"/>
<line x1="1157.2" x2="1470.6" y1="144.9" y2="144.9" stroke="#fff" stroke-width="2"/>
<line x1="1157.2" x2="1470.6" y1="64" y2="64" stroke="#fff" stroke-width="2"/>
<g stroke="#86d3ea" stroke-linecap="round" fill="none" transform="scale(1.13 1)">
<path stroke-width="3" d="M1120.6 301.2h0M1111.1 276.6h0"/>
<path stroke-width="3.8" d="M1123.8 303.6h0M1118.4 299.7h0M1127 298.7h0M1098.7 233.4h0M1119.6 301.6h0M1112.2 299.3h0M1121.1 301.2h0M1104.4 274.6h0M1126.4 294.9h0M1127.9 239.3h0M1124.3 294.1h0M1109.6 275.1h0M1114.1 290.9h0M1116 285.1h0M1164.1 241.7h0M1112.2 264.7h0M1127.8 266.5h0M1111.7 232.6h0M1119.1 279.7h0M1100.9 236.9h0M1147.5 238.6h0M1109.1 274.8h0M1149.1 249.1h0M1134.1 221.3h0M1145.9 266.4h0M1117.1 296.4h0M1093.8 264.2h0M1113.7 262.6h0M1129.6 248.8h0M1126.4 284.2h0M1120.6 302.3h0M1118.4 298h0M1133.8 295.7h0M1129.2 294.6h0M1140.1 272.7h0M1093.7 278.2h0M1137.7 224.3h0M1127.9 282.6h0M1128 297.7h0M1118.2 294.4h0M1126.5 280h0M1158.6 240.2h0M1121.8 303.4h0M1114.4 263.5h0M1116.3 293.8h0M1126.3 292.4h0M1136.8 204.3h0M1141.2 262.2h0M1122.9 298.9h0M1109.8 260.2h0M1121.2 295.3h0M1123.4 303.2h0M1127.2 292.2h0M1121.6 303.2h0M1118.9 297.5h0M1121.5 300.8h0M1119 286.1h0M1115.8 289.7h0M1118 293.8h0M1110 251.6h0M1133.9 286.9h0M1112.5 278.3h0M1109.6 266.8h0M1128.6 296.5h0M1115.7 285.3h0M1123.2 301.1h0M1115.3 290.5h0M1124.2 296h0M1116.3 289.9h0M1098.5 212.4h0M1125.9 285.2h0M1140.3 278.2h0M1128.1 293.8h0M1107.8 246.9h0M1126.7 296.5h0M1132.5 288.8h0M1145.7 261.8h0M1114.4 296.7h0M1126.6 297.1h0M1126.6 295.1h0M1105.1 247h0M1138.2 271.4h0M1118.6 294.1h0M1123.4 300.9h0M1121.8 304.6h0M1119.3 293.5h0M1118.4 272.6h0M1112.3 287.9h0M1144.2 285h0M1128.7 290.2h0M1128 297.3h0M1112.7 262.2h0M1120.4 301.6h0M1116.6 295.7h0M1107.6 278.4h0M1107.6 236.4h0M1132.6 284.2h0M1171.7 195.1h0M1121.7 302.7h0M1108.9 286.2h0M1111.8 287.2h0M1131.6 198h0M1119 291.9h0M1111.2 295.7h0M1112.2 255.7h0M1123.5 298.6h0M1112.9 261.5h0M1108.6 243.2h0M1112.8 276.9h0M1121.1 300.7h0M1139 201.3h0M1142.8 198.1h0M1136.6 203h0M1126.4 296.4h0M1123.6 297.9h0M1118.9 298h0M1119.2 297.1h0M1068.3 251.9h0M1130.8 293.5h0M1129.9 291h0M1120.9 300h0M1129.4 298.3h0M1126.4 283.2h0M1112 277.6h0M1132 286.3h0M1119.5 288.6h0M1109.5 223.8h0M1117.3 297.6h0M1109.1 256h0M1138.4 260.3h0M1119.8 294.1h0M1115.1 291.4h0M1113.6 284.5h0M1118.9 289.3h0M1133.5 284.4h0M1125.6 272.5h0M1128.5 297.5h0M1118.5 299.8h0M1121.7 300.2h0M1116 293.9h0M1123.2 286h0M1140.2 229.6h0M1112.3 287.8h0M1137.8 279.9h0M1139.1 288.7h0M1119.3 297.3h0M1130.3 288h0M1135.6 273.9h0M1118.7 298.3h0M1123.3 301.7h0M1126.2 299.4h0M1124.2 298.4h0M1110.7 256.8h0M1117.2 297.7h0M1144.4 275.3h0M1128.6 298h0M1135.1 289.1h0M1137.4 224.2h0M1100.4 256.9h0M1110.3 268.1h0M1124.4 282h0M1105.1 225.9h0M1130.9 209.5h0M1136.3 204.3h0M1159 247.3h0M1150.4 245.3h0M1113.6 279.1h0M1140.9 260.4h0M1120.9 303.3h0M1142.4 259.1h0M1102.4 198.7h0M1106.8 274.2h0M1133.6 252.6h0M1100.2 256.9h0M1133.8 287.2h0M1114.1 300.5h0M1128.9 289.6h0M1106.1 222.2h0M1110.1 276.2h0M1118.9 297.4h0M1143.9 235.6h0M1124 298.6h0M1119.1 298.9h0M1096.3 285.9h0M1136.4 244.5h0M1127.6 206.7h0M1162 237h0M1143.5 174.2h0M1142.7 257h0M1128.8 184.4h0M1140.8 211h0M1152 163.1h0M1155.2 196h0M1157.2 240.9h0M1131.5 160.4h0M1160.3 240.6h0M1148.6 242.2h0M1154.9 225.8h0M1138.3 245.2h0M1143.8 193.8h0M1142.7 211.7h0M1144.1 214.8h0M1169.9 199.6h0M1135.9 181.5h0M1151.7 194.6h0M1129.2 217h0M1159.8 156.4h0M1174 241.7h0M1121.9 170.9h0M1164 219.8h0M1147.2 187.1h0M1143.6 149.7h0M1149.1 185.9h0M1147 186h0M1147.7 223.6h0M1166.7 218.9h0M1139.4 225.2h0M1164.1 208.3h0M1154.3 202.7h0M1154.5 237.8h0M1131.5 174.7h0M1168.5 147.6h0M1159.5 242.3h0M1132.4 152.9h0M1140.6 161.9h0M1142.9 205.5h0M1194.8 226.3h0M1149.4 171.8h0M1113.3 217.4h0M1100.7 226.7h0M1104.9 172.1h0M1114.7 153.5h0M1093.3 159h0M1118.3 179.4h0M1101.4 106.7h0M1082.1 152.6h0M1105.4 193h0M1105.4 209.9h0M1087.3 202.3h0M1082.3 182.9h0M1088.2 103.6h0M1094.1 254.4h0M1121 197.7h0M1104.9 198.1h0M1085.5 224.7h0M1092.2 166.5h0M1090.3 168.5h0M1101.9 199.3h0"/>
<path stroke-width="4.6" d="M1099.6 292.9h0M1083.1 263.4h0M1117.4 298.5h0M1131.2 277.7h0M1134.4 289.9h0M1110 291.3h0M1074.3 202h0M1095.1 277.8h0M1126.3 294h0M1104 275.8h0M1076.4 209.1h0M1133.4 296.5h0M1113.8 295.1h0M1118.5 297.8h0M1132.5 280.1h0M1116.6 281.7h0M1124.1 295.6h0M1126.5 282h0M1140.7 213.8h0M1138.3 256.1h0M1120.4 295.9h0M1137.5 251.5h0M1116.4 267h0M1137.3 258.1h0M1116.8 288.3h0M1131.4 265.2h0M1100.3 277.3h0M1157.3 256.7h0M1160.7 236h0M1117.2 288.7h0M1116.3 267.7h0M1125 292.8h0M1103.6 292h0M1104.5 293h0M1114 249.7h0M1137.4 274.4h0M1142.3 199.6h0M1125.4 295.4h0M1140.2 282.9h0M1111 213.8h0M1118.6 293.6h0M1129.6 290.1h0M1118.9 297.1h0M1120.6 299.1h0M1128.5 294h0M1135.6 200.9h0M1133.8 281.1h0M1120.2 301.7h0M1109 261h0M1132.5 228h0M1123.3 297.7h0M1156.1 266.7h0M1104.8 234.1h0M1133.9 275h0M1119 298h0M1114.9 273.8h0M1152 286.8h0M1126.6 260.7h0M1119 301h0M1102.1 260.5h0M1126 287.2h0M1127.2 283.8h0M1144.2 273.6h0M1115 285.3h0M1115 288.1h0M1115.4 269.1h0M1091.3 239.5h0M1135.8 267h0M1122.2 301.4h0M1106.9 294.2h0M1131.3 274.9h0M1124 299.6h0M1120.8 298.6h0M1110.5 289.1h0M1115.3 289.7h0M1139.3 283.1h0M1115.5 291.6h0M1140 250.6h0M1131.1 289h0M1142.1 241.7h0M1123.9 291.2h0M1120.2 301.8h0M1166.7 212.3h0M1145.2 227h0M1097 265.8h0M1100.9 233.3h0M1120.3 302.6h0M1145.5 260.9h0M1105.4 272h0M1116 284.6h0M1125.9 295.3h0M1114.9 276h0M1107.8 204.9h0M1130.1 228.9h0M1126.4 287.5h0M1123.7 295.2h0M1134.8 241.7h0M1116.3 274.2h0M1113.4 273.4h0M1132.2 291.9h0M1120.8 295.1h0M1122.7 299.8h0M1126.4 283.8h0M1127 294.2h0M1137.5 274.5h0M1120.9 302.8h0M1131.1 296.3h0M1126.6 289h0M1116.6 295.7h0M1121.2 299.1h0M1107.7 266.8h0M1130.5 257.7h0M1107.8 279.3h0M1106.8 234.7h0M1125.9 285.4h0M1122.7 300.3h0M1133.4 250.6h0M1139.7 261.8h0M1106.1 290.6h0M1113 262.7h0M1125 295.4h0M1144.2 255.3h0M1141.1 233.9h0M1118.4 287.5h0M1107.3 228h0M1114.5 278.8h0M1129.9 300h0M1120.8 292.4h0M1124.6 300.8h0M1136.9 292.7h0M1127.7 290.1h0M1120.4 301.2h0M1142.9 204.4h0M1111.5 255.6h0M1144.6 226.1h0M1131.2 276.7h0M1116.9 295.2h0M1111.9 280.2h0M1122.7 303.2h0M1124.7 298.5h0M1121.2 303.7h0M1149.9 192.7h0M1108.2 286.6h0M1122.2 302.6h0M1128.8 287h0M1148.3 200.8h0M1104.5 255.5h0M1125.2 269.2h0M1131.3 292.4h0M1149 261.2h0M1128 293h0M1110.4 213.9h0M1138.3 244.3h0M1140.6 258.2h0M1128.7 222.1h0M1123.5 301.2h0M1127.2 295.6h0M1146.6 256.9h0M1125.6 294.8h0M1140.8 222.5h0M1115.5 292.5h0M1118.8 288.2h0M1115.7 264h0M1117.7 249.7h0M1111.6 268.2h0M1123.3 302.8h0M1121.5 302.9h0M1107.2 280.6h0M1098.7 250.4h0M1124.8 298.3h0M1120.1 294.7h0M1145.5 259.8h0M1109 291.2h0M1124 283.2h0M1162.8 223.8h0M1123 299.7h0M1109.7 277.7h0M1119.8 300.9h0M1100.2 289.4h0M1121 297h0M1115.6 295.6h0M1143.6 266.2h0M1116.3 298.8h0M1134.7 219.5h0M1136.1 193.5h0M1138.2 270.2h0M1120.1 301.3h0M1138.5 284.3h0M1103.4 286.4h0M1110.9 246h0M1122.2 303.2h0M1121 300.5h0M1117.2 297.4h0M1118 277.2h0M1120.5 298.6h0M1120 300.2h0M1127.3 296.8h0M1113.9 271.4h0M1096.9 231.3h0M1124.4 283.4h0M1132 274.5h0M1112.6 286.9h0M1128.3 294h0M1122 303.7h0M1141.3 250.4h0M1117.6 292h0M1124 298.8h0M1126.1 299.7h0M1105.5 286.7h0M1125.2 298.2h0M1107.2 201.9h0M1116.2 270.6h0M1120.2 299.8h0M1118.9 290.4h0M1125.7 293.9h0M1103.8 267h0M1130.5 292.6h0M1114.9 278h0M1132.9 271.5h0M1108 293.5h0M1096.2 262.7h0M1142.2 232.8h0M1124.6 299.1h0M1140.9 242.1h0M1140.1 252.1h0M1108.2 266.6h0M1125.6 291.8h0M1133.6 290.5h0M1174 215.3h0M1115.6 274.9h0M1131.6 299.9h0M1107 279.7h0M1125.8 278.5h0M1122 303.6h0M1121.1 302.5h0M1135.3 261.8h0M1133 266.2h0M1134.8 287.5h0M1120.6 293.6h0M1135.9 293h0M1121.3 303.8h0M1130.1 294.7h0M1096.1 259.3h0M1122.8 295.6h0M1114.9 295.9h0M1125.9 264.9h0M1133.9 289h0M1124.6 302.7h0M1121.4 301.7h0M1106.7 196.3h0M1113.9 253.4h0M1127 291.8h0M1107.5 280.1h0M1127.2 289h0M1100.7 286h0M1121.8 301.1h0M1135.1 231.7h0M1114.9 286.8h0M1120 294.7h0M1118.3 293.1h0M1111 287.2h0M1129.8 234.8h0M1125.5 299.8h0M1135.3 271.9h0M1122.9 302.1h0M1124 291.8h0M1138.8 277.4h0M1102.6 280.8h0M1135.6 266.5h0M1117 296.7h0M1135.1 230h0M1115.4 287.4h0M1127.8 291.9h0M1119.4 302.1h0M1127 294h0M1119.3 281.3h0M1111.7 295.5h0M1108.2 277.6h0M1109.9 248.9h0M1123.8 302.8h0M1141.6 232.5h0M1131.6 290.8h0M1163.3 228h0M1115.2 293.6h0M1115.2 290h0M1153.1 273h0M1121.3 301.3h0M1118.2 299.3h0M1108.3 273.4h0M1148.8 191.3h0M1111.5 256.4h0M1146.7 200.4h0M1123 296.1h0M1124.4 298.4h0M1123.3 290.8h0M1113 276.2h0M1132.9 282.7h0M1100.9 291.7h0M1138.5 291.3h0M1125.8 293.2h0M1125.4 295.5h0M1098.8 274.4h0M1134.9 286.9h0M1135.1 270.7h0M1121 302.5h0M1106.4 270.7h0M1113 295h0M1110.8 287.2h0M1120.6 300.3h0M1118 295.2h0M1105.6 199.5h0M1095.8 245.1h0M1135.2 288h0M1119.1 299.2h0M1103.9 218.9h0M1121 300.8h0M1112.4 298.1h0M1110.5 275.3h0M1123.2 300h0M1112.3 286.2h0M1114.6 284.6h0M1152.3 258h0M1110.3 248.9h0M1147.1 250.5h0M1111 213.7h0M1113.1 278.5h0M1120.8 301h0M1125.1 300.2h0M1136.1 294.7h0M1125.9 296.7h0M1114.5 271.7h0M1121.9 302.3h0M1115.2 289h0M1155.8 275.9h0M1125.3 284.8h0M1114.7 290.4h0M1131.2 257.8h0M1123.8 298.6h0M1134 206.5h0M1148.6 266.4h0M1135.6 295.2h0M1132.4 231.1h0M1136.4 272.1h0M1115.6 288.5h0M1116.3 295.5h0M1137.4 222.2h0M1122.3 301.9h0M1137.8 217.2h0M1130.6 292.4h0M1124.7 273.9h0M1130.2 289.6h0M1132.7 283.6h0M1135.9 206.7h0M1118.5 301.3h0M1118 298.5h0M1115.5 294.9h0M1104.5 277.4h0M1118.1 299h0M1135.4 235.3h0M1133.9 265.6h0M1131.8 261.6h0M1121.4 303.8h0M1133.2 210.7h0M1103 280.8h0M1125.6 298.6h0M1107.4 278.1h0M1122.7 301.8h0M1145.8 235.1h0M1122.8 296.7h0M1149.7 239.3h0M1125.4 290.3h0M1127 291.4h0M1115.7 288.4h0M1140.2 243.1h0M1131.8 293.9h0M1124.5 295.3h0M1119.4 297.1h0M1127.2 296.3h0M1115.5 296.3h0M1117.4 280.5h0M1122.3 301.9h0M1132.6 198.9h0M1123.3 301.8h0M1107.1 292.4h0M1136.3 269.8h0M1137 252.6h0M1112 278.7h0M1116.3 284.8h0M1123 298.6h0M1112 293.8h0M1146.8 228.8h0M1143.3 267.8h0M1135.7 276.5h0M1128.9 278.2h0M1122.1 300.1h0M1108 250h0M1100.5 198.9h0M1118.3 298.4h0M1127.9 290.9h0M1136.2 295.1h0M1123.8 297.3h0M1112.4 285.9h0M1123 300h0M1114.5 240.5h0M1125.9 301.8h0M1128.5 295.5h0M1127.7 290h0M1115.1 226.7h0M1126.1 269.5h0M1144.6 230.6h0M1095.1 194.7h0M1135.2 286.8h0M1130.7 286.9h0M1111.4 222.7h0M1112.7 284.4h0M1100.5 253.4h0M1118.9 299.8h0M1121.6 301.2h0M1110.3 264.4h0M1134.6 266.1h0M1108.6 237.1h0M1120.9 300.1h0M1115.3 290.3h0M1097.9 253h0M1123 303h0M1129.2 264h0M1122.9 302.1h0M1112.7 258.4h0M1123.7 287h0M1106.3 278.4h0M1152.6 258.4h0M1121 302h0M1104.6 253.4h0M1117.6 290.5h0M1103.7 268h0M1129 295.8h0M1122.1 302.7h0M1116.8 282.7h0M1114.6 297.9h0M1114.6 248.7h0M1148.1 206.9h0M1122 302h0M1107.4 273.5h0M1124.7 293.5h0M1124.9 298.3h0M1134.7 295.8h0M1117.1 271.3h0M1125.6 297.8h0M1139.7 286.8h0M1152.8 260.5h0M1127.1 300.9h0M1124.1 296.4h0M1140.9 265.5h0M1124.7 271.2h0M1127.6 295h0M1110.6 289.2h0M1142.4 289.5h0M1125.3 296.3h0M1129.5 273.6h0M1147.3 197.7h0M1119.4 288.5h0M1113.2 289h0M1122 303.1h0M1126.7 299.5h0M1143.6 234.1h0M1134 285.3h0M1118.8 296.3h0M1117.7 297.2h0M1124.4 300h0M1117.1 283.8h0M1131.9 229.5h0M1116.2 293.2h0M1112.6 295.2h0M1108.9 249h0M1102.5 258.6h0M1092.9 255h0M1094.1 283.8h0M1127.8 286h0M1123.5 300.5h0M1115.5 255.6h0M1117.8 295.9h0M1150.3 249.8h0M1117.9 298h0M1116.9 273.4h0M1125.6 298.7h0M1117 297.2h0M1128.7 210.1h0M1126.2 299.3h0M1130 264.3h0M1131.7 279.3h0M1155.7 266.9h0M1124.3 299.7h0M1120.1 297.7h0M1110.5 281.2h0M1104.7 227.8h0M1116.9 294.3h0M1100.2 271.9h0M1144.4 244.5h0M1120.4 302.5h0M1140 262.3h0M1121.1 303.9h0M1135.6 278.6h0M1117.7 298.5h0M1123.5 301.6h0M1145.6 238.9h0M1120.7 297h0M1117.4 297.4h0M1125.6 295.9h0M1117.6 294.3h0M1156.5 228.8h0M1127.8 295.9h0M1125 296h0M1106.6 275h0M1142.6 218h0M1127.4 281.2h0M1137.4 285h0M1136.3 211.6h0M1143.7 280.1h0M1107.8 273.3h0M1109.5 284h0M1110.4 285.9h0M1112.4 279.6h0M1147.2 192.8h0M1108.9 221.6h0M1134.7 259.3h0M1094.9 201.1h0M1158.5 251.1h0M1136.7 244.2h0M1128.6 294.5h0M1112.4 250.3h0M1103.3 291.1h0M1112 285.4h0M1130.6 223.5h0M1155.3 254.6h0M1103.9 252.4h0M1124.2 286.6h0M1092.1 226.7h0M1144.1 272.7h0M1130.7 280.8h0M1112.7 267.3h0M1123.7 294.3h0M1128.3 268.2h0M1112.9 290.2h0M1116 293.1h0M1131.2 284.9h0M1113.1 297.8h0M1132.9 221.5h0M1107.7 262.6h0M1122.4 303.3h0M1147.6 197.3h0M1119.5 300.7h0M1128.3 279.2h0M1136.9 256.3h0M1117.2 289h0M1120.6 304h0M1138.9 278.9h0M1116.7 274.1h0M1100.8 263.5h0M1112.7 298.8h0M1128.7 293.5h0M1132.2 280.7h0M1139.5 253h0M1086.2 205.6h0M1104.4 199h0M1114.4 237h0M1135.2 280.1h0M1114.4 286.8h0M1117.2 299.9h0M1133.7 287.5h0M1112.7 263.1h0M1123.7 299.4h0M1133.1 261.2h0M1114.2 277.9h0M1124.1 300.5h0M1123.5 293.9h0M1140.3 275.6h0M1117.2 280h0M1110.6 289.2h0M1124.1 297.9h0M1107.8 289.4h0M1127.2 296.9h0M1105.3 284.5h0M1132 282.4h0M1118.5 273.9h0M1129.7 285.8h0M1121.3 302.3h0M1119.7 297.2h0M1115.8 300.1h0M1097.7 261.2h0M1137.6 227.9h0M1126.2 288.6h0M1128.4 293.8h0M1150.7 251.3h0M1119.8 297.9h0M1133.2 273.7h0M1117 291.3h0M1098.1 254.3h0M1125.2 292.3h0M1140.5 221.6h0M1116.9 276.1h0M1114.3 279.3h0M1138.9 192.2h0M1117 282.8h0M1138.3 274h0M1127.2 294.1h0M1115.9 255.6h0M1145.8 271.5h0M1141.7 245.7h0M1115.2 293.1h0M1123.5 302.6h0M1134.1 268.2h0M1135.7 263.9h0M1122 301.8h0M1132.2 280.8h0M1131.3 200.2h0M1126.2 299.8h0M1107.5 278.2h0M1132.9 283.6h0M1106.3 260.9h0M1128.9 292.2h0M1122.1 301.6h0M1138.6 273.3h0M1097.4 266.5h0M1121.6 303.4h0M1138 281h0M1126.7 293.9h0M1116.6 288.8h0M1144.8 271h0M1109.2 283.6h0M1124.8 299.8h0M1122.4 300.3h0M1121.3 303.5h0M1133.7 228.9h0M1141.8 244h0M1105.5 204.9h0M1114.1 299.6h0M1121.5 302.1h0M1146.9 192.2h0M1114 237.1h0M1130.7 296.9h0M1135.5 264.9h0M1138.9 284.1h0M1127.1 297h0M1126.5 287.1h0M1143.1 232.1h0M1138.4 281.1h0M1125.4 299.7h0M1121.1 302.5h0M1113.4 220.3h0M1127.9 291.3h0M1098.5 253h0M1136.3 214.9h0M1115.4 286.5h0M1144 234.8h0M1132.5 237.3h0M1118.6 300.4h0M1116.5 285.7h0M1116.6 274.7h0M1123.2 300.3h0M1112.3 259.7h0M1116 274.8h0M1125.9 299.4h0M1113.3 288.8h0M1109.6 282.3h0M1106.7 265.7h0M1127.3 288.3h0M1129.3 287.9h0M1144.2 282.8h0M1117.1 253.9h0M1132.2 262h0M1129.7 292h0M1116.5 270.7h0M1116.3 285h0M1129.6 289.9h0M1100.4 219.8h0M1126.8 301.9h0M1129.8 282.2h0M1106.9 284h0M1133.9 242.4h0M1121.1 301.7h0M1148.5 227.8h0M1106 198.8h0M1129.3 286.3h0M1124.8 290.1h0M1114 293h0M1124.7 301.4h0M1138 294.4h0M1107.3 275.7h0M1175.3 232.8h0M1142.5 218.3h0M1125.3 283.9h0M1121.6 304.5h0M1109.1 239.2h0M1115.2 293.2h0M1133.9 277.8h0M1138.6 233.1h0M1107.8 254.9h0M1120.9 302.4h0M1123.2 296.4h0M1122.8 300.5h0M1141.4 202.7h0M1116.4 286.6h0M1133.2 266h0M1101.4 268h0M1156.5 196.8h0M1115.4 296h0M1140.2 287.1h0M1125.4 299.1h0M1128.4 294.4h0M1126.6 295.9h0M1123.4 295.8h0M1147.4 264.8h0M1070.8 225.5h0M1073 201.9h0M1121.5 303.6h0M1122 302h0M1114.3 296.4h0M1124.5 292.4h0M1133.9 290.8h0M1114.2 277.8h0M1121.9 300.7h0M1115.2 292.4h0M1115.3 295.2h0M1113.5 271.9h0M1107.8 269.4h0M1129.5 288.2h0M1130.4 253.1h0M1087.4 234h0M1123.9 295.7h0M1113.3 268.9h0M1092.5 257.8h0M1119.7 298.9h0M1125.4 293.7h0M1119.8 284.8h0M1136.4 261.6h0M1131.2 283.9h0M1125.9 290.4h0M1111.6 270.1h0M1117.1 297.8h0M1121.3 304.2h0M1118.3 289.2h0M1125.7 295.5h0M1117.3 295.2h0M1124.8 293.6h0M1146.6 211.4h0M1106.2 213.7h0M1104.9 226.4h0M1108.6 231.5h0M1124.7 291.3h0M1110.6 198.3h0M1144.1 261.3h0M1131.5 293.5h0M1118.2 296.3h0M1115.5 226.2h0M1145.2 227h0M1105.9 195.2h0M1129.5 298.1h0M1145.3 206.6h0M1124.4 299h0M1116.2 282.9h0M1092.8 207.8h0M1134.4 222.1h0M1150 232.6h0M1146.7 264.6h0M1134.8 278.8h0M1115.8 276h0M1125.9 285.5h0M1104.1 264.8h0M1111.7 284h0M1146.1 285.7h0M1111.1 260.9h0M1143.8 275h0M1114.7 290.2h0M1133 292.5h0M1099.5 250.5h0M1117 294.7h0M1120.2 294.3h0M1134.1 289.9h0M1100.1 280h0M1118.4 297.7h0M1118.6 297.8h0M1151.4 199.2h0M1115.2 275.3h0M1107 265.6h0M1113.3 276.2h0M1114.7 266.9h0M1123.5 299.5h0M1157.2 256h0M1122.9 302.1h0M1127.7 289.5h0M1127.2 298.7h0M1111.6 282.3h0M1128.5 281h0M1131.9 281h0M1142.6 256.4h0M1102.2 237.8h0M1132.7 286.3h0M1128.8 277.8h0M1116.7 275.7h0M1106.8 289.6h0M1121.5 304.3h0M1116.4 273.4h0M1150.7 253h0M1132.2 286.6h0M1131.3 296.8h0M1108.8 234h0M1120 296.5h0M1109.5 243.1h0M1129.6 294.2h0M1138.1 261.9h0M1114 259.6h0M1128.5 291h0M1131.3 289h0M1099.2 205.2h0M1121.9 298.6h0M1134.9 291.5h0M1113.2 260.1h0M1131 288.1h0M1132 296.9h0M1160.2 219.4h0M1120.5 300.7h0M1116.1 298.7h0M1109.4 250.6h0M1146.5 205.4h0M1151.1 208.7h0M1114.6 294.2h0M1106.7 257.3h0M1142.8 195.5h0M1114.9 293.7h0M1143.5 210.5h0M1109 281.1h0M1116.7 298.2h0M1139 243.7h0M1131.7 237.4h0M1132.2 283.1h0M1124.4 299.7h0M1119.3 300.3h0M1121.1 302h0M1112.1 247.8h0M1125.7 295.8h0M1107.7 277.9h0M1130 227.7h0M1121.1 301h0M1138.4 222.5h0M1123.1 299.7h0M1120.8 302.2h0M1133.9 274.3h0M1132.6 280.6h0M1115.9 285.2h0M1098.6 260.9h0M1122.8 295.2h0M1109.9 213.4h0M1124.9 293.4h0M1115.9 277.1h0M1129.5 201.3h0M1129.6 292.4h0M1119.2 300.3h0M1107 287.9h0M1121.8 303h0M1132.7 245.8h0M1102.7 257.4h0M1133.9 295.1h0M1123.2 300.5h0M1117.5 281.5h0M1136 293.2h0M1141.6 278.9h0M1126.8 288h0M1133.7 278.3h0M1125.6 295.4h0M1113.5 258.5h0M1127.2 294.6h0M1122.3 303.2h0M1123.7 301.2h0M1118.3 301.3h0M1120.8 302.8h0M1107.6 269.8h0M1116.5 283h0M1125.9 271.4h0M1121.2 301.8h0M1142.2 249.6h0M1109.4 286.9h0M1106.5 287.6h0M1107 265.9h0M1113.3 291.8h0M1111 261.4h0M1137.4 242h0M1113.1 290.6h0M1131.9 247.2h0M1162.1 268.2h0M1127.1 287.9h0M1151.4 238.9h0M1115.2 300.4h0M1098.1 252h0M1104.6 269.7h0M1140 263.9h0M1122.2 301.5h0M1109.1 233.7h0M1132.4 295.1h0M1120.2 301.1h0M1115.9 277.5h0M1133.7 297.1h0M1123.9 302.2h0M1131.8 274.6h0M1136.3 245.3h0M1116.4 287.8h0M1133 290.1h0M1108.3 283.2h0M1112 289.3h0M1139.4 215.3h0M1121.4 301.8h0M1157.7 191h0M1104.3 246.3h0M1129 269h0M1116 286.3h0M1125.2 297h0M1112.1 263.1h0M1133.9 275.6h0M1123.4 300.5h0M1109.1 253.6h0M1112.2 293.3h0M1106.3 290.9h0M1126.3 289.4h0M1111.3 243.9h0M1128.8 289.5h0M1123.1 301.4h0M1148.8 240.7h0M1118 286.9h0M1099.7 270.4h0M1135.8 276.9h0M1145 282.5h0M1129.7 286.8h0M1114.9 290.6h0M1113.5 252.4h0M1162 232.6h0M1140.1 255.8h0M1147.2 279.5h0M1118.5 282.1h0M1098.6 233.2h0M1126.8 290.4h0M1114 284.3h0M1127.5 234.3h0M1123.5 299.9h0M1124.4 299h0M1109.7 279.1h0M1139 242.4h0M1107.7 278.5h0M1126.1 293.5h0M1109.6 283.2h0M1124.1 299.9h0M1124.5 280.3h0M1133.4 284.3h0M1112.1 292.8h0M1118.5 260.6h0M1121.2 301.9h0M1093.6 277.3h0M1124.6 296h0M1142 238.4h0M1126.7 270.9h0M1125.5 299.1h0M1119.3 291.3h0M1131.7 279.3h0M1115.5 290h0M1117.6 229.9h0M1102.5 236.4h0M1115 279.3h0M1128.5 276.2h0M1112 210.8h0M1113.3 294.1h0M1118.9 301.3h0M1108 284.8h0M1123.7 291.1h0M1127.4 290.8h0M1101 279.2h0M1122.8 296h0M1115.3 284h0M1129 287.2h0M1112.8 239.4h0M1122.3 303h0M1090.3 215.4h0M1137.6 275.8h0M1124.6 295.4h0M1131.1 228.7h0M1136.5 247.4h0M1125.9 285.1h0M1138.8 262.4h0M1114.3 291.7h0M1122.2 303.3h0M1116.3 280h0M1113.3 287.4h0M1113.9 280.8h0M1140.6 216.8h0M1124.2 300h0M1099.1 236h0M1130.4 287.2h0M1137.9 276.1h0M1127.9 300.7h0M1122.5 297.9h0M1131.6 283.7h0M1124.2 297.9h0M1126.4 280.4h0M1127.7 294.8h0M1118.5 298.5h0M1115.6 290.6h0M1128.1 289.3h0M1119.3 297.9h0M1137.1 277.6h0M1121.7 302.4h0M1146.7 236.5h0M1139.5 221.8h0M1125.4 284.8h0M1116.8 299.2h0M1133.8 285.7h0M1118.7 292.2h0M1133.8 280.9h0M1125.5 295.4h0M1117.2 288.3h0M1117.4 261.5h0M1135.1 275.1h0M1116.7 273.9h0M1103.9 270h0M1125.2 282.1h0M1095.8 257.2h0M1137.2 281.2h0M1124.6 293h0M1124.2 297.5h0M1110.2 284.6h0M1093.3 280.9h0M1131.3 239.6h0M1127 245.8h0M1120.5 300.6h0M1134.2 209.8h0M1128.6 284.9h0M1120.9 300h0M1155.4 221.7h0M1155.2 266.2h0M1126.7 296.3h0M1128.9 297.1h0M1133 286.2h0M1108.3 285.2h0M1131.7 278.5h0M1123.9 294.9h0M1107.7 260.3h0M1118.3 298.2h0M1109.5 213.7h0M1121.5 301.5h0M1103.2 221.7h0M1139 241.1h0M1157.4 247.7h0M1107 283.7h0M1133.9 285.1h0M1129.2 293.9h0M1119 300.6h0M1119.9 294.9h0M1134 269.8h0M1124.7 297.2h0M1122.3 300.7h0M1146.7 233.2h0M1146.8 208.4h0M1135.2 242.1h0M1169.7 247.2h0M1145.4 207.5h0M1160.8 190.4h0M1152.6 243.9h0M1156.3 189.2h0M1160.9 176.3h0M1163.1 228.4h0M1139.2 215.6h0M1159.8 237.8h0M1151.5 215.1h0M1169.9 229.9h0M1167.4 154.3h0M1132.6 244.8h0M1164.7 201.7h0M1153 223.1h0M1187.4 161.2h0M1143.7 229h0M1145.8 162.3h0M1172.2 241.4h0M1146.6 200.4h0M1165.1 217.1h0M1083.8 212.3h0M1102.2 214.2h0M1085.5 175.5h0M1097.9 186h0M1107.6 158.8h0M1107.3 202.8h0M1110.8 214.4h0M1111.5 218.6h0M1106.4 228.4h0M1065.8 233.7h0M1064.5 141.1h0M1103.1 221.9h0M1087.6 164h0M1082.5 207.1h0M1099.6 207.5h0"/>
<path stroke-width="5.3" d="M1101.9 288.6h0M1103.3 257.8h0M1111.2 246.5h0M1130.6 292.2h0M1130.4 291h0M1138.6 273.7h0M1126.2 294.9h0M1145.8 245.9h0M1098.1 219.7h0M1143 262.5h0M1105.2 279h0M1120.2 299.8h0M1126.5 292.8h0M1110.6 279.2h0M1110 246.9h0M1134.7 283.4h0M1127.4 292.8h0M1121 302.6h0M1115.8 266.9h0M1138.3 249.3h0M1125.6 299.3h0M1125.5 299.5h0M1118.5 297.5h0M1172.4 211.6h0M1142.3 258.8h0M1123.1 299.2h0M1117.4 290.6h0M1112.8 273.7h0M1123.1 298.1h0M1096.9 200.9h0M1117.1 272.7h0M1104 228h0M1110.5 296.1h0M1130.3 282.2h0M1114.5 287.9h0M1125.7 292.1h0M1132.1 283.1h0M1126.3 297.3h0M1114.1 290.6h0M1111.4 250.7h0M1112.8 291.1h0M1110.4 266.1h0M1117.1 287.8h0M1098.4 229.5h0M1134.1 218.2h0M1134.7 296h0M1103.4 248.4h0M1101.8 254.2h0M1120.3 301h0M1122.4 299.9h0M1130.1 264.8h0M1130.1 291.6h0M1130 289.4h0M1128.5 269.9h0M1135.4 237h0M1126 299.1h0M1118.5 280.3h0M1112 243.1h0M1132.7 294.2h0M1120.2 302h0M1102.1 198h0M1111.2 258.4h0M1116.4 299.9h0M1124.3 302.4h0M1110.6 245.7h0M1114.9 286.3h0M1122.7 300.7h0M1123.6 299.4h0M1111.7 262.4h0M1108.3 235.1h0M1118.6 284.3h0M1144.3 283.6h0M1112.9 246.5h0M1115.3 284.6h0M1125.5 291.8h0M1127.4 287.3h0M1129.1 267.4h0M1130.8 298h0M1119.5 296.6h0M1130.5 276.2h0M1122.2 298.8h0M1128.1 277.1h0M1111.6 266.6h0M1109.2 267h0M1112.2 284h0M1144.9 208.2h0M1139.7 275.3h0M1143.4 241.4h0M1130.6 292.1h0M1129.4 277.6h0M1128 293.6h0M1109.3 292.5h0M1119.7 274.2h0M1115.1 283.8h0M1117.2 271.2h0M1122.6 300.4h0M1117.8 287h0M1131.1 273.5h0M1115.8 253.6h0M1135.6 212.7h0M1142.9 270.6h0M1104.8 281.3h0M1107 240.9h0M1113.4 297.4h0M1088.5 193.9h0M1118.2 282.8h0M1132.6 281.6h0M1121.7 303.8h0M1145.8 255.4h0M1115.4 284.9h0M1134.5 245.6h0M1124.4 299.9h0M1126.2 284.1h0M1153.4 191.6h0M1121.3 304h0M1130.4 264.9h0M1109.6 198.4h0M1135.5 277.1h0M1129.7 219.4h0M1101.1 243.9h0M1126.1 289.7h0M1151 215.5h0M1116.6 279.7h0M1134 274.6h0M1133.5 279.6h0M1175.6 203h0M1116.4 294.5h0M1132.7 265.8h0M1145.1 200.2h0M1119 300.9h0M1116.4 292.4h0M1123 300.9h0M1134.5 247.9h0M1095.4 218.8h0M1140.6 288.7h0M1132.3 274.2h0M1112.2 225.9h0M1125.8 294.7h0M1119 289.8h0M1109.2 269.1h0M1112.7 232.9h0M1146.3 213.9h0M1113.7 291.1h0M1146.3 269.4h0M1109.8 252.2h0M1122.8 300.8h0M1131.5 251.5h0M1128.6 289.9h0M1112 288.3h0M1137.3 291.3h0M1113.1 236.9h0M1128.6 293.9h0M1110 258.5h0M1129.7 275.4h0M1126 293.9h0M1118.1 299.2h0M1126.2 297.1h0M1115.7 291.7h0M1109.2 275.2h0M1136.9 267.2h0M1145.9 265.9h0M1104 274.2h0M1103.1 272.3h0M1119.2 294.2h0M1093.5 216.2h0M1137.1 229.9h0M1123.3 295.5h0M1117.4 295.4h0M1140 239.9h0M1115.7 297.7h0M1134.8 295.9h0M1141.4 284.3h0M1125.1 299.3h0M1128.3 290.4h0M1116.6 283.6h0M1131.5 285.7h0M1107.7 256.5h0M1135.7 228.8h0M1108.7 291.2h0M1107.9 298h0M1136.7 283.2h0M1135 231.9h0M1126.4 223.4h0M1131.8 291.1h0M1133.9 206.9h0M1103.8 266.4h0M1129 295.4h0M1107.7 205.1h0M1116 286.5h0M1136.2 216.7h0M1111.4 287h0M1144.4 229.5h0M1119.4 294h0M1106.4 272.7h0M1126.4 296.6h0M1115.2 273.2h0M1121.8 303.9h0M1163.6 232h0M1134.3 279.6h0M1146.1 247.4h0M1130.2 288.3h0M1120.1 301.8h0M1099.8 265.6h0M1113 295.7h0M1132.8 291.4h0M1125.4 300.2h0M1087.3 211.8h0M1147.3 253h0M1120.6 298.6h0M1120.8 302.5h0M1138.2 278.3h0M1138.9 284.3h0M1126.7 298.6h0M1116.3 296.7h0M1127 274.5h0M1122.6 302h0M1135.5 289.9h0M1099.9 293.3h0M1131.7 221.2h0M1121.8 303.3h0M1120.7 302.3h0M1147.1 256.4h0M1127 294.5h0M1095.3 208.3h0M1093.5 254.3h0M1139.1 225.1h0M1143 250.1h0M1120.7 299.4h0M1132 264.4h0M1112.2 293.9h0M1134.4 276.9h0M1117.1 291.8h0M1132.7 254.9h0M1105.7 228.7h0M1137.7 251.6h0M1110.6 285.1h0M1108.3 275.6h0M1126.5 299.2h0M1128.8 283.9h0M1120.2 299.5h0M1119.3 302.9h0M1108.6 289.4h0M1106.4 292.8h0M1109.9 285.7h0M1132.9 232.5h0M1130.7 242.3h0M1132.8 266.1h0M1144 249.8h0M1163 190.1h0M1131.5 277.3h0M1147.1 242.2h0M1125.2 297.5h0M1138.7 230.7h0M1108.7 284.1h0M1114.9 255.2h0M1122 303.3h0M1119.6 295.8h0M1141.7 261.6h0M1137.1 268.8h0M1113.1 292.5h0M1115.5 286.2h0M1121.7 303.5h0M1123.3 294.5h0M1102.9 275.4h0M1110.8 261.6h0M1124 290.6h0M1131.5 293h0M1138.6 269.6h0M1127.4 287.6h0M1120.7 297.4h0M1127.1 277.5h0M1140.4 273.8h0M1109 293.4h0M1099.2 277.7h0M1111.2 228.2h0M1123.1 297.9h0M1119.7 295.4h0M1105.2 267.7h0M1108.5 286.4h0M1115.9 285.9h0M1113.2 275.5h0M1127.2 279.7h0M1109.2 236.9h0M1140.3 194.7h0M1119.7 291.2h0M1128.5 287.1h0M1140.4 229.8h0M1109.3 252.5h0M1129.1 296.3h0M1164.8 248.2h0M1124.2 302h0M1125 296.2h0M1111.2 209.9h0M1133.7 252.4h0M1135.8 276.4h0M1119.1 298.4h0M1117.4 291.7h0M1132.1 283.2h0M1151.1 287.3h0M1138.4 280h0M1089.7 211.2h0M1124.9 292.5h0M1123.3 301.3h0M1128.2 290.7h0M1109.2 284.6h0M1135.4 249.1h0M1117.5 295.2h0M1119.7 298.8h0M1132.6 261.6h0M1115.8 295.7h0M1119.2 301.8h0M1134.1 231.6h0M1124.4 266.5h0M1127.2 291.5h0M1116 282.4h0M1118.7 298.2h0M1128.8 236.3h0M1127 295.9h0M1107 262h0M1130.4 279.5h0M1165.3 211.7h0M1115.4 269.5h0M1110.3 286.8h0M1136.2 237.4h0M1136.1 263.7h0M1131.3 232.4h0M1115.3 298.8h0M1125 296.7h0M1126.5 297.5h0M1114.8 271.4h0M1123.4 299.3h0M1125.3 298.5h0M1123.5 295.4h0M1124.4 297h0M1148.8 234.4h0M1119.5 300.9h0M1117 292.4h0M1150.8 281.5h0M1133 289.5h0M1134.7 240.2h0M1125.8 280.9h0M1140 275.9h0M1126.3 281h0M1119.8 299.2h0M1128.6 291.2h0M1100 285.4h0M1128.6 291.4h0M1155.4 235.7h0M1113.4 285h0M1130.4 285h0M1128.1 292.7h0M1137.7 242.1h0M1112.8 294.3h0M1118.4 297.6h0M1120.4 299h0M1147.9 195.6h0M1105.2 273.6h0M1133.7 290h0M1139.7 255.7h0M1123.4 289.6h0M1123.9 301.5h0M1120.5 299h0M1140.9 224.5h0M1106.2 259.2h0M1126.9 295.6h0M1109 272.1h0M1119.8 300.1h0M1142.4 282.1h0M1108.8 235.2h0M1129.9 245.1h0M1115.7 294.1h0"/>
<path stroke-width="6.1" d="M1104.8 273.6h0M1135.3 276.3h0M1122.7 301.5h0M1119.3 297.4h0M1138.6 247h0M1127.1 247.6h0M1112 286.8h0M1160.5 263.3h0"/>
<path stroke-width="7.6" d="M1114.9 181.3h0"/>
<path stroke-width="8.4" d="M1125.1 217.8h0"/>
<path stroke-width="9.5" d="M1126.8 136.8h0"/>
</g>
<g stroke="#eaa33d" stroke-linecap="round" fill="none" transform="scale(1.13 1)">
<path stroke-width="4.6" d="M1099.4 226.3h0M1088.8 218h0M1101.8 195.7h0M1098.3 207.7h0M1098.4 222.2h0"/>
<path stroke-width="5.3" d="M1096 235.3h0M1090.2 231.8h0M1095.8 242.9h0M1093.5 213.1h0M1090.5 211.5h0"/>
</g>
<g stroke="#e8414b" stroke-linecap="round" fill="none" transform="scale(1.13 1)">
<path stroke-width="4.6" d="M1135.4 204.5h0M1151.8 211.5h0M1145.3 213h0M1156.7 225.3h0M1155 219.9h0M1160.5 222.6h0M1142.3 211.9h0M1146.5 217.8h0M1144.4 220.3h0M1148.1 184.5h0M1153.5 228.2h0M1149.2 228.1h0M1136.4 219.3h0M1156.2 227.3h0M1145.1 206.1h0M1158 213.1h0M1159.3 217.8h0M1138 243.6h0M1141.3 215.1h0M1150.7 194.3h0M1157.9 224.1h0M1141 250h0M1162.2 227.6h0M1157.8 176.1h0M1164.8 167.7h0M1170.4 213.8h0M1166 122.1h0M1159.2 153.2h0M1171.9 143.1h0M1150.4 133h0M1162.8 183.9h0M1164.8 145.1h0M1140.7 123.1h0M1162.3 126.9h0M1146.6 192.6h0M1144.8 207.4h0M1159.2 175.5h0M1147.5 179.4h0M1151.6 207.9h0"/>
<path stroke-width="5.3" d="M1161 194.2h0M1143.6 202.1h0M1144.1 202.1h0M1141.3 232.3h0M1164.6 220.8h0M1143.7 192.6h0M1133.7 222.8h0M1148 229.1h0M1159.2 209.3h0M1155.1 218.5h0M1133.3 246.6h0M1152.4 240.5h0M1148.4 219.1h0M1157.3 175.8h0M1161.8 195.4h0M1149.9 222.6h0M1171.7 197.6h0M1147.7 158.9h0M1156.4 157.3h0M1169.1 172h0M1151.7 196.5h0M1162.5 202.1h0M1137.2 160.7h0M1134.9 186.9h0M1150 140.9h0M1162.9 165.4h0M1156.2 180.7h0M1153.7 191.6h0M1154.5 135h0"/>
<path stroke-width="6.1" d="M1144.7 200.9h0M1152.4 221.5h0M1158.2 179h0M1143.6 228.7h0M1141.7 229.8h0M1137 226.3h0M1149.6 203.1h0M1144.2 198.8h0M1156.4 233.7h0M1160.9 202.5h0M1143.4 205.7h0M1145.4 250.7h0M1163.5 190.9h0M1144.8 212.3h0M1156.3 181.5h0M1150.7 246.8h0M1154.5 174.8h0M1146.7 213.5h0M1180.3 176.1h0M1133.6 172.6h0M1163.5 128.3h0M1143.1 161.9h0M1160.4 156h0M1144.8 226.8h0"/>
<path stroke-width="6.5" d="M1157.4 166.6h0"/>
<path stroke-width="6.6" d="M1141.8 222.3h0M1159.6 209.9h0M1140.1 221.1h0M1151.6 214.8h0M1139.8 150.6h0"/>
<path stroke-width="6.8" d="M1142.8 232.1h0M1149.5 224.4h0M1162.8 214.5h0M1152.7 215.5h0M1157.5 158.4h0"/>
<path stroke-width="7" d="M1150.2 212.8h0M1144.4 201h0M1149.5 195.4h0"/>
<path stroke-width="7.2" d="M1151.8 222.2h0M1143 225.6h0M1153.2 218h0M1151.2 195.9h0"/>
<path stroke-width="7.4" d="M1146.5 242.6h0M1144.3 222.6h0"/>
<path stroke-width="7.6" d="M1148.6 226.9h0M1147.9 203.1h0M1142.2 199.2h0M1142.5 200.3h0"/>
<path stroke-width="7.8" d="M1156.7 215.7h0"/>
<path stroke-width="8" d="M1148.9 244h0"/>
</g>
<g stroke="#86d3ea" stroke-linecap="round" fill="none" transform="scale(1.13 1)">
<path stroke-width="3.8" d="M1109.7 288.9h0M1120.9 302.7h0M1102.6 276.8h0M1115.3 261.8h0M1120.4 299.5h0M1129.9 288.2h0M1121.5 302.7h0M1114.8 260h0M1127.6 290.2h0M1117.6 290.8h0M1111.3 291.8h0M1176.2 241h0M1140 278h0M1111.4 278.6h0M1125.6 296h0M1139.1 289.1h0M1140.7 244.7h0M1123.1 275.6h0M1125.4 292.5h0M1119.3 294.3h0M1112.7 273.4h0M1123.4 292.4h0M1142 275.2h0M1120.1 301.7h0M1135.3 284.6h0M1133.4 295.4h0M1119.8 290.8h0M1116.3 282.6h0M1130.9 275.2h0M1104.1 261.8h0M1121.1 304.2h0M1124.8 301.5h0M1132.1 267.3h0M1160.6 234.5h0M1136 287.6h0M1127.8 283.5h0M1126.4 295.7h0M1108.8 247.4h0M1138.3 292.4h0M1103.6 289.4h0M1116.6 298.1h0M1112.8 286.5h0M1108.2 292.7h0M1126.9 287.7h0M1119.4 267.8h0M1128.9 280.1h0M1148.1 254h0M1127.6 288.3h0M1110.5 241.8h0M1141.9 206.3h0M1157.3 233h0M1160 191.7h0M1152.6 197.8h0M1150.6 190.8h0M1151.6 227.5h0M1145.8 180.6h0M1153.5 245.4h0M1150.7 200.7h0M1151.2 272.1h0M1123 163.7h0M1150.8 252.4h0M1131.8 212.4h0M1164 233.3h0M1149.9 192.2h0M1178.7 244h0M1139.8 238.4h0M1163.4 151.6h0M1087.1 193.9h0M1082.2 213.7h0M1095.8 156.4h0M1104 210.6h0M1110.4 201.9h0M1096.7 163.1h0M1104 153.5h0M1084 183.8h0M1083.2 203.9h0M1097.3 230.8h0M1117.5 227h0"/>
<path stroke-width="4.6" d="M1120.9 299.6h0M1145.7 286.5h0M1129.5 260.7h0M1116.4 278.2h0M1101.7 262.6h0M1132.9 286.1h0M1129.2 297.3h0M1121.8 304.3h0M1112.8 281.8h0M1143.7 219.1h0M1127.7 288.8h0M1100.4 201.4h0M1113.1 247.6h0M1145.9 261h0M1175.7 240.8h0M1127.7 277.3h0M1115.4 267.9h0M1139.2 227.4h0M1136 266.7h0M1109.4 218.1h0M1112.8 281.8h0M1132.3 284.8h0M1117 290.7h0M1113.2 231.5h0M1129.4 278.5h0M1117 288.3h0M1118 298.1h0M1114 272.6h0M1149.1 263.6h0M1114.8 279.6h0M1119 297.1h0M1120.1 303.4h0M1125.7 294.8h0M1135.2 230.1h0M1135.6 264h0M1115.9 301.2h0M1111.8 240h0M1112.9 290.6h0M1134.7 288.8h0M1126.4 297.1h0M1121.8 304.5h0M1114.2 295h0M1134.5 294.7h0M1094.2 277.2h0M1124.8 302.3h0M1152.3 235.5h0M1113.6 278.3h0M1125.7 287.4h0M1127.8 283.2h0M1137.7 295.3h0M1114.2 288.9h0M1119.8 299.6h0M1130.6 286.5h0M1113 292.7h0M1122 303.6h0M1111.6 256.1h0M1119 278.4h0M1130.4 277.9h0M1137.3 193.9h0M1127.2 300.4h0M1109.8 290h0M1124.5 290h0M1121.3 300.7h0M1148.2 254.6h0M1118.1 298.9h0M1129.3 282.7h0M1106 256.9h0M1157.6 257.1h0M1129.3 296.1h0M1124.5 299.7h0M1127.2 270.2h0M1125 288.7h0M1110.3 282h0M1116 294.6h0M1111.1 207.1h0M1127 285.3h0M1137.8 267.6h0M1119.8 301.3h0M1131.9 289.8h0M1124.6 297.3h0M1094 204.6h0M1132.5 295.1h0M1111.5 259.1h0M1149.4 198.2h0M1117.7 294h0M1140.3 276.2h0M1126.3 298.8h0M1129.6 293.4h0M1113 288.8h0M1123.5 298.3h0M1106 261.8h0M1135.3 274h0M1109 229.8h0M1126.7 297.4h0M1103.3 295.3h0M1120.3 298h0M1124.7 299.1h0M1120.8 298.9h0M1125.7 293.9h0M1136.6 216.7h0M1107.2 288.2h0M1134.8 280.1h0M1123.9 297.7h0M1109.1 256.6h0M1151.3 260.2h0M1126.2 283h0M1117 294.2h0M1120.3 298h0M1118.2 292.6h0M1122.9 299.6h0M1115.2 264.4h0M1126.5 281.7h0M1109.1 261.4h0M1115.1 294.8h0M1126.7 273.8h0M1121 300.5h0M1113 261.1h0M1114.3 289.1h0M1127.2 289h0M1120.6 301.5h0M1125.6 299.3h0M1124.9 281.7h0M1118.7 291.7h0M1153.7 189.5h0M1110.4 291.4h0M1115 292h0M1137.4 259.7h0M1112.3 285.4h0M1136.2 221.4h0M1113.7 287h0M1117.2 300.1h0M1117.6 299.4h0M1118.1 297.2h0M1124.4 302.1h0M1134.1 293.5h0M1117.6 295.1h0M1111 292.8h0M1121.9 301.2h0M1123.8 301.8h0M1114.2 287.3h0M1129.5 298h0M1137.4 236h0M1108.1 277.2h0M1108.7 213.8h0M1131.7 248.8h0M1147.2 240h0M1120.6 299.9h0M1094.1 269.8h0M1115.4 289.3h0M1108.4 287.4h0M1131.3 292h0M1142.5 267.2h0M1149 226.6h0M1145.8 261.7h0M1122.3 300.1h0M1104 261.1h0M1131.7 241.6h0M1096.3 243.4h0M1122.7 302.2h0M1123.2 293.1h0M1120.6 303.3h0M1121.2 300.1h0M1136.4 287.9h0M1115 295h0M1108.4 280.3h0M1110.1 288.4h0M1121.5 303.4h0M1139.3 231.6h0M1123.5 299.3h0M1128.7 280.6h0M1116.7 300.7h0M1145.9 272.1h0M1124.2 298.6h0M1146.4 230h0M1172.8 261h0M1130.3 289.6h0M1138.7 273.4h0M1118.6 298.1h0M1115.6 292.4h0M1117.9 297h0M1123 301.7h0M1111.3 234.3h0M1116.9 292.6h0M1131.9 283.2h0M1133.6 282.3h0M1126.1 276.4h0M1142.9 235.3h0M1136.1 274.2h0M1114.7 204.1h0M1126.6 294.2h0M1124.9 293.4h0M1110.4 263.2h0M1135.3 257.2h0M1142.1 267.8h0M1130.4 268.7h0M1136.7 290.1h0M1105.5 252.1h0M1105.6 276.6h0M1120.6 301h0M1119.7 295h0M1126.4 297.9h0M1115.8 290.2h0M1111.2 285.1h0M1119.7 294h0M1135.1 284.6h0M1124.9 297.7h0M1126.2 300h0M1118.2 293.3h0M1108.8 252.8h0M1109.5 275.2h0M1113.3 296.4h0M1125.8 299.3h0M1112.3 297.5h0M1107.5 291.7h0M1123.2 300.5h0M1107.8 207h0M1140.2 275.4h0M1118.3 299.9h0M1112.1 297.7h0M1146.6 257.4h0M1137.6 285.1h0M1130.3 292.3h0M1121.7 301.6h0M1103.4 219.5h0M1130.9 297.8h0M1149.2 192.6h0M1125.9 293.6h0M1134 295.1h0M1144.6 227.4h0M1135.2 276.6h0M1124.6 296.2h0M1126.7 293.7h0M1136.6 256.8h0M1132.1 282h0M1120.1 302.5h0M1131.5 287.6h0M1126.3 294.5h0M1119.9 302h0M1125.6 301.2h0M1131.5 216.5h0M1115.5 278.5h0M1121.7 303.8h0M1129.9 274.8h0M1145.1 283.6h0M1136 278.8h0M1122.8 298.8h0M1105.7 287h0M1140.2 224.1h0M1111.8 266.4h0M1061.2 195.6h0M1122.4 302.3h0M1133.6 264.8h0M1130.3 280.2h0M1125.2 296.4h0M1122.8 301.9h0M1115.5 285.9h0M1123.3 300.2h0M1095.4 209.9h0M1114.4 290.1h0M1110.1 294.8h0M1124.1 297.9h0M1114.4 297.1h0M1128.1 255h0M1136.2 290.4h0M1114.8 268.1h0M1120.6 300.5h0M1108.2 267.1h0M1101.9 282h0M1137.9 284.8h0M1132.3 268.9h0M1127.6 289.4h0M1108.6 252.3h0M1142.8 247.7h0M1135 292.7h0M1114.7 297h0M1113.6 297.8h0M1107 221.7h0M1121.1 303.2h0M1124.3 301.2h0M1120.7 302.1h0M1119.1 297.7h0M1145.9 190.3h0M1117.9 289.2h0M1120.4 302.3h0M1119.2 266.7h0M1108.2 274.4h0M1125.4 300h0M1098.2 194.3h0M1151.5 242h0M1132.4 287.2h0M1113.4 296.9h0M1112.7 294.4h0M1128.2 272.7h0M1110 298.7h0M1138.6 268.7h0M1114.1 259.2h0M1099.8 232.4h0M1133.9 234.6h0M1112.7 246.9h0M1111 284.4h0M1122 300.6h0M1134.5 229h0M1129.1 293.5h0M1132.8 295.2h0M1117.3 292.4h0M1118.9 299h0M1117.5 297.1h0M1110.8 263.1h0M1114.4 292.7h0M1122.7 302.1h0M1133.1 280.4h0M1125.6 295.1h0M1121.8 303.5h0M1152.5 239.8h0M1140.3 242.5h0M1121.8 304.1h0M1114.2 294.1h0M1114.6 277h0M1132.4 242h0M1121.9 302h0M1133.2 278.2h0M1123.5 293.5h0M1134.2 274.5h0M1102.4 277.1h0M1128.2 274.7h0M1147.4 201.6h0M1153.6 221.4h0M1183.9 194.2h0M1154.2 219h0M1149.5 179.7h0M1094.2 210.6h0M1084.1 200.4h0M1089.6 192.5h0M1099.9 216.5h0"/>
<path stroke-width="5.3" d="M1087.1 207.8h0M1133.8 285h0M1128.4 293.2h0M1118.1 299.7h0M1107 276.5h0M1116.9 294.7h0M1123.8 297.6h0M1133.5 282.7h0M1123.9 300.6h0M1131.4 268.2h0M1151.7 260.9h0M1102.2 272.3h0M1144 268.9h0M1139.1 291.9h0M1121.7 303.5h0M1129.3 295.2h0M1129.3 278.5h0M1130.3 291.5h0M1144.2 208.6h0M1142.4 205h0M1118.6 290.6h0M1123 303h0M1125.8 291.7h0M1129.2 295.5h0M1119 302.7h0M1113.8 288.9h0M1111.7 281.6h0M1127.1 277.4h0M1131.1 248.8h0M1140.1 205.8h0M1117.7 290.6h0M1125.3 300.3h0M1134.8 291h0M1146.3 261.8h0M1116.6 290.5h0M1118.6 300.1h0M1143.7 252.9h0M1125.6 277.3h0M1136.4 264.5h0M1107 284h0M1109.5 284.7h0M1109.7 271.1h0M1161.5 232.9h0M1118.5 300.3h0M1126.2 288h0M1126.7 291.8h0M1127 275.6h0M1119.1 300.6h0M1117 294.4h0M1134 297.1h0M1124.6 298h0M1114.6 245.4h0M1125 298.6h0M1104 284.2h0M1115.3 291.1h0M1127 288.3h0M1135.9 291.1h0M1100.2 275.7h0M1126.9 298.8h0M1117 301.3h0M1094.9 204.5h0M1123.1 300.4h0M1121.5 303.7h0M1101 275.4h0M1106.2 268.7h0M1108.8 270.9h0M1121.2 301.2h0M1120.2 291.5h0M1112.4 295.7h0M1115.3 296.1h0M1123.3 301h0M1128.8 279.3h0M1108.6 291.7h0M1100.4 221.5h0M1141.9 220h0M1113.2 288.9h0M1124.7 299.5h0M1126.9 299.7h0M1110 292.9h0M1126.3 287.1h0M1114.5 268.1h0M1135.8 276h0M1120.8 301.8h0M1118.6 298.3h0M1122.8 302.9h0M1111.5 281.7h0M1111.8 264.9h0M1121.6 302.8h0M1138 275.1h0M1118.3 298.2h0M1114 277.5h0M1116.1 293.3h0M1126.5 225h0M1126.2 276.4h0M1127.9 297.7h0M1127.9 297.4h0M1127.7 273.9h0M1131.3 284.7h0M1121.4 303.4h0M1141.8 232.9h0M1108.5 250.1h0M1115.8 299.5h0M1121.2 302.7h0M1120.3 301.9h0"/>
</g>
<g stroke="#86d3ea" stroke-linecap="round" fill="none" transform="scale(1.13 1)">
<path stroke-width="3.8" d="M1147.9 62h0M1111.5 82.2h0M1079.4 105.3h0M1168.2 95.5h0M1191.8 285.8h0M1182.5 286.6h0"/>
<path stroke-width="4.6" d="M1155.5 49.8h0M1092.9 74.9h0M1069.3 86.2h0M1084.5 96.4h0M1197.7 124.7h0M1043.1 169.2h0M1037.2 209.7h0M1208.7 209.7h0M1217.2 208.9h0M1029.6 286.6h0M1239.2 261.5h0M1229.9 272.4h0M1202 286.6h0"/>
<path stroke-width="6.1" d="M1294.1 271.6h0"/>
</g>
<g stroke="#eaa33d" stroke-linecap="round" fill="none" transform="scale(1.13 1)">
<path stroke-width="4.6" d="M1108.2 70.9h0M1074.7 88.3h0M1077.7 134.8h0M1098.9 140.9h0M1087 164.3h0M1091.3 170.4h0M1104.8 174.5h0M1072.7 179.3h0M1103.1 183.4h0M1095.5 187.4h0M1092.1 189.4h0M1107.3 199.6h0M1099.7 207.6h0M1076 236h0M1087 240h0M1092.9 244.1h0M1070.1 246.1h0M1096.3 236h0M1106.5 223.8h0M1099.7 250.1h0"/>
<path stroke-width="5.3" d="M1108.2 161.9h0"/>
<path stroke-width="6.1" d="M1080.3 231.9h0"/>
<path stroke-width="8" d="M1100.6 138.8h0"/>
</g>
<g stroke="#e8414b" stroke-linecap="round" fill="none" transform="scale(1.13 1)">
<path stroke-width="4.6" d="M1135.2 74.1h0M1139.4 78.1h0M1150.4 100.4h0M1147 108.5h0M1163.9 115.8h0M1156.3 118.6h0M1144.5 116.6h0M1174.1 122.7h0M1219.7 179.3h0M1203.7 197.5h0M1216.3 203.6h0M1210.4 231.9h0M1191 207.6h0M1195.2 209.7h0M1186.8 169.2h0M1186.8 177.3h0M1189.3 246.1h0M1195.2 246.1h0M1179.2 191.5h0"/>
<path stroke-width="5.3" d="M1182.5 175.3h0"/>
<path stroke-width="7.6" d="M1138.6 246.1h0"/>
<path stroke-width="8" d="M1162.2 231.9h0"/>
<path stroke-width="8.5" d="M1155.5 213.7h0"/>
<path stroke-width="8.7" d="M1153.8 249.3h0"/>
<path stroke-width="9.1" d="M1140.3 139.7h0"/>
<path stroke-width="10.4" d="M1142 229.9h0"/>
<path stroke-width="11.4" d="M1142 59.9h0M1140.3 203.6h0"/>
<path stroke-width="12.3" d="M1152.1 186.2h0"/>
<path stroke-width="13.7" d="M1174.9 112.5h0"/>
<path stroke-width="15.2" d="M1165.6 160.3h0"/>
<path stroke-width="18.6" d="M1140.3 94.3h0"/>
</g>
<line x1="1256.3" x2="1256.3" y1="50.4" y2="306" stroke="#111" stroke-width="1.7" stroke-dasharray="4.4 3.2"/>
<line x1="1278.7" x2="1278.7" y1="50.4" y2="306" stroke="#111" stroke-width="1.7" stroke-dasharray="4.4 3.2"/>
<line x1="1162" x2="1465" y1="254.2" y2="254.2" stroke="#111" stroke-width="1.7" stroke-dasharray="4.4 3.2"/>
<rect x="1157.2" y="37.2" width="313.4" height="277.1" fill="none" stroke="#1a1a1a" stroke-width="1.6"/>
<line x1="1172" x2="1172" y1="314.3" y2="317.3" stroke="#1a1a1a" stroke-width="1"/>
<text transform="translate(1172 331) scale(1.27 1)" font-size="14" text-anchor="middle">-5</text>
<line x1="1267.5" x2="1267.5" y1="314.3" y2="317.3" stroke="#1a1a1a" stroke-width="1"/>
<text transform="translate(1267.5 331) scale(1.27 1)" font-size="14" text-anchor="middle">0</text>
<line x1="1363" x2="1363" y1="314.3" y2="317.3" stroke="#1a1a1a" stroke-width="1"/>
<text transform="translate(1363 331) scale(1.27 1)" font-size="14" text-anchor="middle">5</text>
<line x1="1458.5" x2="1458.5" y1="314.3" y2="317.3" stroke="#1a1a1a" stroke-width="1"/>
<text transform="translate(1458.5 331) scale(1.27 1)" font-size="14" text-anchor="middle">10</text>
<line x1="1154.2" x2="1157.2" y1="225.9" y2="225.9" stroke="#1a1a1a" stroke-width="1"/>
<text transform="translate(1150 230.9) scale(1.27 1)" font-size="14" text-anchor="end">2</text>
<line x1="1154.2" x2="1157.2" y1="144.9" y2="144.9" stroke="#1a1a1a" stroke-width="1"/>
<text transform="translate(1150 149.9) scale(1.27 1)" font-size="14" text-anchor="end">4</text>
<line x1="1154.2" x2="1157.2" y1="64" y2="64" stroke="#1a1a1a" stroke-width="1"/>
<text transform="translate(1150 69) scale(1.27 1)" font-size="14" text-anchor="end">6</text>
<text transform="translate(1313.8 20.5) scale(1.2 1)" font-size="14.5" text-anchor="middle" font-weight="bold" fill="#1a1a1a">Volcano plot</text>
<text transform="translate(1313.8 349.3) scale(1.2 1)" font-size="14.5" text-anchor="middle" font-weight="bold" fill="#1a1a1a">log2(FC)</text>
<text transform="translate(1131.2 171) rotate(-90) scale(1 1.22)" text-anchor="middle" font-size="15" font-weight="bold" fill="#1a1a1a">-log10(PValue)</text>
<text transform="translate(1466.5 307.5) scale(1.2 1)" font-size="16.5" text-anchor="end" font-weight="bold" fill="#222">Milk sample</text>
<text transform="translate(1411.4 51.3) scale(1.2 1)" font-size="12.5">VIP</text>
<ellipse cx="1415.5" cy="63" rx="2.1" ry="1.9" fill="#5a5a5a"/>
<text transform="translate(1431.3 61.6) scale(1.2 1)" font-size="12.5">0</text>
<ellipse cx="1415.5" cy="75.6" rx="4.2" ry="3.8" fill="#5a5a5a"/>
<text transform="translate(1431.3 77.6) scale(1.2 1)" font-size="12.5">10.71</text>
<ellipse cx="1415.5" cy="92" rx="6.4" ry="5.6" fill="#5a5a5a"/>
<text transform="translate(1431.3 94.4) scale(1.2 1)" font-size="12.5">21.43</text>
<ellipse cx="1415.5" cy="109.3" rx="8.7" ry="7.7" fill="#5a5a5a"/>
<text transform="translate(1431.3 111.8) scale(1.2 1)" font-size="12.5">32.14</text>
<ellipse cx="1415.5" cy="130" rx="11.2" ry="10" fill="#5a5a5a"/>
<text transform="translate(1431.3 132.8) scale(1.2 1)" font-size="12.5">42.86</text>
<text transform="translate(1404.5 159.7) scale(1.2 1)" font-size="12.5">color</text>
<ellipse cx="1405.1" cy="170" rx="4.4" ry="3.8" fill="#eaa33d"/>
<text transform="translate(1415.5 174.6) scale(1.2 1)" font-size="12.5">down</text>
<ellipse cx="1405.1" cy="189" rx="4.4" ry="3.8" fill="#86d3ea"/>
<text transform="translate(1415.5 193.8) scale(1.2 1)" font-size="12.5">nodiff</text>
<ellipse cx="1405.1" cy="207.9" rx="4.4" ry="3.8" fill="#e8414b"/>
<text transform="translate(1415.5 212.4) scale(1.2 1)" font-size="12.5">up</text>
</g>
<g>
<ellipse cx="189.5" cy="787.2" rx="223.1" ry="127.5" transform="rotate(45 189.5 787.2)" fill="#eb9e35" fill-opacity="0.6"/>
<ellipse cx="285.8" cy="725.5" rx="215.2" ry="95.6" transform="rotate(45 285.8 725.5)" fill="#95d7ee" fill-opacity="0.7"/>
<ellipse cx="282.6" cy="725.3" rx="215.2" ry="95.6" transform="rotate(-45 282.6 725.3)" fill="#f53e35" fill-opacity="0.6"/>
<ellipse cx="379.3" cy="787.2" rx="223.1" ry="127.5" transform="rotate(-45 379.3 787.2)" fill="#49d56d" fill-opacity="0.5"/>
<ellipse cx="189.5" cy="787.2" rx="223.1" ry="127.5" transform="rotate(45 189.5 787.2)" fill="none" stroke="#1c1c1c" stroke-width="1.4"/>
<ellipse cx="285.8" cy="725.5" rx="215.2" ry="95.6" transform="rotate(45 285.8 725.5)" fill="none" stroke="#1c1c1c" stroke-width="1.4"/>
<ellipse cx="282.6" cy="725.3" rx="215.2" ry="95.6" transform="rotate(-45 282.6 725.3)" fill="none" stroke="#1c1c1c" stroke-width="1.4"/>
<ellipse cx="379.3" cy="787.2" rx="223.1" ry="127.5" transform="rotate(-45 379.3 787.2)" fill="none" stroke="#1c1c1c" stroke-width="1.4"/>
<text x="23" y="595" font-size="19.2" fill="#1a1a1a">Serum</text>
<text x="165.5" y="547" font-size="19.2" fill="#1a1a1a">Milk</text>
<text x="336" y="547" font-size="18.9" fill="#1a1a1a">Feces</text>
<text x="478" y="595" font-size="19.1" fill="#1a1a1a">Rumen fluid</text>
<text x="84.5" y="728.8" font-size="16" text-anchor="middle" fill="#1a1a1a">187</text>
<text x="198" y="607.6" font-size="16" text-anchor="middle" fill="#1a1a1a">177</text>
<text x="376.7" y="607.6" font-size="16" text-anchor="middle" fill="#1a1a1a">292</text>
<text x="482" y="729.7" font-size="18.5" text-anchor="middle" fill="#1a1a1a">204</text>
<text x="175" y="670.5" font-size="16" text-anchor="middle" fill="#1a1a1a">33</text>
<text x="287.4" y="656.8" font-size="16" text-anchor="middle" fill="#1a1a1a">12</text>
<text x="399.7" y="670.5" font-size="16" text-anchor="middle" fill="#1a1a1a">54</text>
<text x="221" y="722.6" font-size="16" text-anchor="middle" fill="#1a1a1a">2</text>
<text x="351.7" y="722.6" font-size="16" text-anchor="middle" fill="#1a1a1a">3</text>
<text x="287.4" y="787.5" font-size="16" text-anchor="middle" fill="#1a1a1a">1</text>
<text x="158" y="826.8" font-size="16" text-anchor="middle" fill="#1a1a1a">8</text>
<text x="401.7" y="827.5" font-size="18" text-anchor="middle" fill="#1a1a1a">5</text>
<text x="232" y="855.8" font-size="16" text-anchor="middle" fill="#1a1a1a">4</text>
<text x="336.8" y="855.8" font-size="16" text-anchor="middle" fill="#1a1a1a">2</text>
<text x="280" y="920.5" font-size="18" text-anchor="middle" fill="#1a1a1a">11</text>
</g>
<g>
<ellipse cx="1093" cy="526" rx="19" ry="13.2" fill="#d2ebf6"/>
<ellipse cx="803" cy="624.8" rx="43.2" ry="13" fill="#f6d3a8"/>
<ellipse cx="771.5" cy="975.3" rx="23" ry="13.4" fill="#c4efcb"/>
<ellipse cx="1136.4" cy="842.6" rx="25.7" ry="13.4" fill="#f6aea6"/>
<g fill="#d3e9f6" fill-opacity="0.36"><ellipse cx="768.7" cy="438.6" rx="73" ry="6.2"/><ellipse cx="808.2" cy="437.3" rx="114.6" ry="6.6"/><ellipse cx="746.6" cy="446.4" rx="32.8" ry="5.7"/><ellipse cx="839.5" cy="444.1" rx="26.2" ry="5.6"/><ellipse cx="719.4" cy="456.7" rx="39.5" ry="5.8"/><ellipse cx="868.5" cy="459.4" rx="44.2" ry="5.8"/><ellipse cx="765.3" cy="473" rx="17.4" ry="5.5"/><ellipse cx="825.2" cy="469.6" rx="26.9" ry="5.6"/><ellipse cx="794.6" cy="465.5" rx="55.4" ry="6"/><ellipse cx="693.2" cy="471.6" rx="19.1" ry="5.5"/><ellipse cx="735.7" cy="483.9" rx="68.9" ry="6.1"/><ellipse cx="856.5" cy="484.6" rx="22.9" ry="5.6"/><ellipse cx="885.5" cy="488.3" rx="28.6" ry="5.7"/><ellipse cx="668.7" cy="492.1" rx="89.6" ry="6.3"/><ellipse cx="706.8" cy="497.5" rx="31.4" ry="5.7"/><ellipse cx="799.4" cy="497.2" rx="78" ry="6.2"/><ellipse cx="762.9" cy="504.7" rx="34.3" ry="5.7"/><ellipse cx="833.4" cy="503.6" rx="36.4" ry="5.7"/><ellipse cx="648.9" cy="513.8" rx="56.1" ry="6"/><ellipse cx="686.4" cy="517.9" rx="46.1" ry="5.9"/><ellipse cx="728.9" cy="521.7" rx="35.7" ry="5.7"/><ellipse cx="870.8" cy="517.2" rx="45.9" ry="5.9"/><ellipse cx="911" cy="512.8" rx="47.3" ry="5.9"/><ellipse cx="669.3" cy="541.8" rx="29.3" ry="5.7"/><ellipse cx="631.2" cy="541.1" rx="60.3" ry="6"/><ellipse cx="703.4" cy="546.2" rx="64.4" ry="6.1"/><ellipse cx="875.3" cy="541.8" rx="42.8" ry="5.8"/><ellipse cx="931.4" cy="540.4" rx="33.8" ry="5.7"/><ellipse cx="614.9" cy="568" rx="57.5" ry="6"/><ellipse cx="654" cy="566.9" rx="54" ry="5.9"/><ellipse cx="687" cy="576.5" rx="44.8" ry="5.8"/><ellipse cx="944.4" cy="568.3" rx="41.9" ry="5.8"/><ellipse cx="915.1" cy="576.5" rx="23.6" ry="5.6"/><ellipse cx="633.6" cy="590.4" rx="30.7" ry="5.7"/><ellipse cx="664.2" cy="600" rx="25" ry="5.6"/><ellipse cx="607.4" cy="604.7" rx="35.4" ry="5.7"/><ellipse cx="936.5" cy="604" rx="87" ry="6.3"/><ellipse cx="638" cy="622.4" rx="26.2" ry="5.6"/><ellipse cx="678.5" cy="626.8" rx="36.4" ry="5.7"/><ellipse cx="933.8" cy="633" rx="70.8" ry="6.1"/><ellipse cx="608.1" cy="636.4" rx="34" ry="5.7"/><ellipse cx="635.3" cy="653.7" rx="26.2" ry="5.6"/><ellipse cx="668" cy="654.1" rx="20.5" ry="5.6"/><ellipse cx="613.2" cy="668" rx="30.1" ry="5.7"/><ellipse cx="913.7" cy="667.3" rx="51.8" ry="5.9"/><ellipse cx="658.4" cy="683.7" rx="33.3" ry="5.7"/><ellipse cx="691.5" cy="680.6" rx="23.1" ry="5.6"/><ellipse cx="628.5" cy="693.6" rx="26.2" ry="5.6"/><ellipse cx="650.6" cy="713.6" rx="51.4" ry="5.9"/><ellipse cx="706.8" cy="713" rx="22.4" ry="5.6"/><ellipse cx="679.6" cy="719.8" rx="38.3" ry="5.8"/><ellipse cx="736.4" cy="724.5" rx="19.3" ry="5.6"/><ellipse cx="906.9" cy="736.1" rx="24" ry="5.6"/><ellipse cx="947.4" cy="748.7" rx="42.1" ry="5.8"/><ellipse cx="971.6" cy="757.9" rx="37.3" ry="5.8"/><ellipse cx="945" cy="774.2" rx="80.8" ry="6.2"/><ellipse cx="958" cy="724.2" rx="24.8" ry="5.6"/><ellipse cx="984.2" cy="733.4" rx="41.1" ry="5.8"/><ellipse cx="972.3" cy="702.4" rx="27.1" ry="5.6"/><ellipse cx="979.1" cy="711.9" rx="43.3" ry="5.8"/><ellipse cx="786.1" cy="775.6" rx="25.4" ry="5.6"/><ellipse cx="749.3" cy="781" rx="52.8" ry="5.9"/><ellipse cx="719.4" cy="783.4" rx="36.2" ry="5.7"/><ellipse cx="819.8" cy="779.3" rx="28.3" ry="5.7"/><ellipse cx="769.7" cy="794.6" rx="42.6" ry="5.8"/><ellipse cx="841.2" cy="792.9" rx="27.6" ry="5.6"/><ellipse cx="803.8" cy="798" rx="26.7" ry="5.6"/><ellipse cx="1004.8" cy="376.7" rx="67.3" ry="6.1"/><ellipse cx="1036.1" cy="369.2" rx="19.5" ry="5.6"/><ellipse cx="1065.1" cy="364.8" rx="18.1" ry="5.5"/><ellipse cx="1099.1" cy="366.5" rx="34.5" ry="5.7"/><ellipse cx="1132.1" cy="375" rx="24.3" ry="5.6"/><ellipse cx="1163.8" cy="389" rx="21" ry="5.6"/><ellipse cx="979" cy="395.8" rx="42.7" ry="5.8"/><ellipse cx="1023.6" cy="400.9" rx="28.3" ry="5.7"/><ellipse cx="1077" cy="393.7" rx="27.9" ry="5.6"/><ellipse cx="1109.3" cy="399.2" rx="36.4" ry="5.7"/><ellipse cx="1050.4" cy="408.4" rx="33.8" ry="5.7"/><ellipse cx="1191.7" cy="407" rx="75.8" ry="6.2"/><ellipse cx="1142.3" cy="411.1" rx="28.1" ry="5.7"/><ellipse cx="963.6" cy="423.7" rx="31.2" ry="5.7"/><ellipse cx="1002.1" cy="419.6" rx="30.9" ry="5.7"/><ellipse cx="1172.3" cy="432.2" rx="32.8" ry="5.7"/><ellipse cx="1214.8" cy="430.5" rx="51.4" ry="5.9"/><ellipse cx="997.7" cy="448.5" rx="65.8" ry="6.1"/><ellipse cx="966.4" cy="454.7" rx="20.5" ry="5.6"/><ellipse cx="1201.2" cy="459.8" rx="51.6" ry="5.9"/><ellipse cx="1235.3" cy="456.4" rx="42.1" ry="5.8"/><ellipse cx="1247.9" cy="483.6" rx="77.6" ry="6.2"/><ellipse cx="1214.8" cy="491.1" rx="38.1" ry="5.8"/><ellipse cx="1261.5" cy="512.5" rx="20" ry="5.6"/><ellipse cx="1232.5" cy="518.6" rx="33.6" ry="5.7"/><ellipse cx="1214.8" cy="541.4" rx="71.1" ry="6.1"/><ellipse cx="1260.8" cy="544.8" rx="39.3" ry="5.8"/><ellipse cx="1231.9" cy="566.3" rx="31.4" ry="5.7"/><ellipse cx="1259.1" cy="576.8" rx="53.3" ry="5.9"/><ellipse cx="1202.9" cy="584" rx="36.6" ry="5.7"/><ellipse cx="1235.6" cy="601.7" rx="21.7" ry="5.6"/><ellipse cx="1172.3" cy="619" rx="19.5" ry="5.6"/><ellipse cx="1206.3" cy="615.6" rx="23.8" ry="5.6"/><ellipse cx="971.5" cy="583.6" rx="25.5" ry="5.6"/><ellipse cx="975.6" cy="488.7" rx="102" ry="6.5"/><ellipse cx="1007.2" cy="652.7" rx="25.2" ry="5.6"/><ellipse cx="1025.9" cy="663.6" rx="28.6" ry="5.7"/><ellipse cx="1117.8" cy="668.7" rx="33.8" ry="5.7"/><ellipse cx="1151.2" cy="666" rx="50.4" ry="5.9"/><ellipse cx="1093.3" cy="673.8" rx="100.8" ry="6.5"/><ellipse cx="994.6" cy="688.5" rx="55.4" ry="6"/><ellipse cx="1185.4" cy="698.6" rx="109.5" ry="6.6"/><ellipse cx="1219.4" cy="703.2" rx="26.4" ry="5.6"/><ellipse cx="1252.5" cy="711" rx="296.6" ry="8.7"/><ellipse cx="1230.9" cy="713.5" rx="67.8" ry="6.1"/><ellipse cx="1088.2" cy="717.2" rx="93.9" ry="6.4"/><ellipse cx="1190.4" cy="728.4" rx="26.4" ry="5.6"/><ellipse cx="1281.8" cy="732.5" rx="38.1" ry="5.8"/><ellipse cx="1253.7" cy="740" rx="37.2" ry="5.8"/><ellipse cx="1220.6" cy="736.7" rx="120.9" ry="6.7"/><ellipse cx="1067.5" cy="737.1" rx="28.8" ry="5.7"/><ellipse cx="1300" cy="759" rx="66.3" ry="6.1"/><ellipse cx="1235.9" cy="766.9" rx="50.2" ry="5.9"/><ellipse cx="1274.4" cy="769.8" rx="29.3" ry="5.7"/><ellipse cx="1311.6" cy="786.7" rx="105.7" ry="6.5"/><ellipse cx="1254.9" cy="797.9" rx="41.9" ry="5.8"/><ellipse cx="1286.8" cy="802.9" rx="62.3" ry="6"/><ellipse cx="1319.1" cy="819" rx="200.6" ry="7.6"/><ellipse cx="1293" cy="835.9" rx="50.7" ry="5.9"/><ellipse cx="1263.2" cy="834.3" rx="99.3" ry="6.5"/><ellipse cx="1015" cy="819" rx="65.4" ry="6.1"/><ellipse cx="1015" cy="859.1" rx="84.6" ry="6.3"/><ellipse cx="1319.1" cy="853.7" rx="33.3" ry="5.7"/><ellipse cx="1288.9" cy="867.8" rx="48.3" ry="5.9"/><ellipse cx="1258.7" cy="871.9" rx="28.6" ry="5.7"/><ellipse cx="1312.9" cy="886" rx="56.1" ry="6"/><ellipse cx="955.8" cy="884.3" rx="21" ry="5.6"/><ellipse cx="1276.5" cy="901.7" rx="30.7" ry="5.7"/><ellipse cx="1243.4" cy="907.1" rx="44" ry="5.8"/><ellipse cx="1303.3" cy="914.5" rx="40" ry="5.8"/><ellipse cx="1031.6" cy="904.6" rx="98.9" ry="6.5"/><ellipse cx="966.2" cy="912.5" rx="29.5" ry="5.7"/><ellipse cx="1259.1" cy="934.4" rx="58.3" ry="6"/><ellipse cx="1288.9" cy="939.8" rx="45.7" ry="5.8"/><ellipse cx="1224.7" cy="939.8" rx="20.7" ry="5.6"/><ellipse cx="1048.9" cy="935.2" rx="29.5" ry="5.7"/><ellipse cx="977.4" cy="942.7" rx="43.3" ry="5.8"/><ellipse cx="1197.9" cy="954.7" rx="93.9" ry="6.4"/><ellipse cx="1087" cy="957.2" rx="30" ry="5.7"/><ellipse cx="1049.8" cy="964.6" rx="20.2" ry="5.6"/><ellipse cx="1131.7" cy="968.3" rx="26.8" ry="5.6"/><ellipse cx="1164.8" cy="968.3" rx="45.2" ry="5.8"/><ellipse cx="1246.7" cy="965" rx="22.4" ry="5.6"/><ellipse cx="1278.5" cy="967.5" rx="96.2" ry="6.4"/><ellipse cx="1220.6" cy="980.7" rx="38.6" ry="5.8"/><ellipse cx="1098.6" cy="984.9" rx="126.6" ry="6.8"/><ellipse cx="1186.7" cy="989" rx="25.1" ry="5.6"/><ellipse cx="1249.6" cy="995.6" rx="79.5" ry="6.2"/><ellipse cx="1132.9" cy="1001.4" rx="21.4" ry="5.6"/><ellipse cx="1177.2" cy="1002.2" rx="41.6" ry="5.8"/><ellipse cx="1074.6" cy="1012.2" rx="19.3" ry="5.6"/><ellipse cx="1222.7" cy="1014.2" rx="37.8" ry="5.8"/><ellipse cx="1102.7" cy="1018" rx="105" ry="6.5"/><ellipse cx="1197.9" cy="1021.3" rx="24.8" ry="5.6"/><ellipse cx="1115.1" cy="1037.8" rx="46.4" ry="5.9"/><ellipse cx="1175.1" cy="1036.6" rx="32.1" ry="5.7"/><ellipse cx="1147" cy="1031.2" rx="99.3" ry="6.5"/><ellipse cx="1039.4" cy="773.9" rx="31.2" ry="5.7"/><ellipse cx="682.4" cy="832.8" rx="49.9" ry="5.9"/><ellipse cx="713.9" cy="835.7" rx="115.2" ry="6.6"/><ellipse cx="652.7" cy="836.5" rx="25" ry="5.6"/><ellipse cx="623.7" cy="846.9" rx="21.7" ry="5.6"/><ellipse cx="773.4" cy="846.9" rx="23.8" ry="5.6"/><ellipse cx="802.3" cy="851.3" rx="132.6" ry="6.8"/><ellipse cx="732.5" cy="851.7" rx="51.8" ry="5.9"/><ellipse cx="832.8" cy="855.8" rx="28.7" ry="5.7"/><ellipse cx="862.5" cy="852.4" rx="22.9" ry="5.6"/><ellipse cx="668.3" cy="864.3" rx="38.1" ry="5.8"/><ellipse cx="602.9" cy="872.5" rx="83.7" ry="6.3"/><ellipse cx="634.1" cy="872.1" rx="31.4" ry="5.7"/><ellipse cx="701.7" cy="869.5" rx="33.8" ry="5.7"/><ellipse cx="890.3" cy="878.1" rx="35.7" ry="5.7"/><ellipse cx="852.4" cy="882.9" rx="20.5" ry="5.6"/><ellipse cx="587.7" cy="898.1" rx="113.1" ry="6.6"/><ellipse cx="642.3" cy="898.5" rx="21" ry="5.6"/><ellipse cx="673.1" cy="896.3" rx="36.9" ry="5.7"/><ellipse cx="613.7" cy="906.3" rx="47.1" ry="5.9"/><ellipse cx="879.9" cy="910" rx="19.8" ry="5.6"/><ellipse cx="908.9" cy="918.5" rx="84.8" ry="6.3"/><ellipse cx="581" cy="927.8" rx="26.9" ry="5.6"/><ellipse cx="650.1" cy="929.3" rx="25.5" ry="5.6"/><ellipse cx="615.5" cy="935.6" rx="43" ry="5.8"/><ellipse cx="894" cy="949" rx="48.3" ry="5.9"/><ellipse cx="922.6" cy="958.6" rx="46.4" ry="5.9"/><ellipse cx="585.8" cy="953.8" rx="28.3" ry="5.7"/><ellipse cx="646.4" cy="961.6" rx="43.8" ry="5.8"/><ellipse cx="615.2" cy="968.7" rx="48.3" ry="5.9"/><ellipse cx="581.4" cy="980.2" rx="51.4" ry="5.9"/><ellipse cx="898.9" cy="986.1" rx="33.5" ry="5.7"/><ellipse cx="933" cy="989.8" rx="89.8" ry="6.3"/><ellipse cx="647.8" cy="997.3" rx="45.7" ry="5.8"/><ellipse cx="610.7" cy="999.5" rx="30.2" ry="5.7"/><ellipse cx="588.8" cy="1008" rx="92.4" ry="6.4"/><ellipse cx="899.6" cy="1017.3" rx="28.6" ry="5.7"/><ellipse cx="936.7" cy="1017.7" rx="27.8" ry="5.6"/><ellipse cx="630.4" cy="1029.2" rx="44" ry="5.8"/><ellipse cx="598.8" cy="1036.6" rx="104.6" ry="6.5"/><ellipse cx="877.3" cy="1038.5" rx="36.9" ry="5.7"/><ellipse cx="944.9" cy="1045.2" rx="56.1" ry="6"/><ellipse cx="914.5" cy="1047.8" rx="38.8" ry="5.8"/><ellipse cx="617.4" cy="1058.5" rx="30.7" ry="5.7"/><ellipse cx="652.7" cy="1064.8" rx="29" ry="5.7"/><ellipse cx="686.1" cy="1067.4" rx="53.7" ry="5.9"/><ellipse cx="887.7" cy="1067.4" rx="135.5" ry="6.9"/><ellipse cx="855.4" cy="1072.6" rx="92" ry="6.4"/><ellipse cx="936.7" cy="1073" rx="21" ry="5.6"/><ellipse cx="628.5" cy="1084.5" rx="24.8" ry="5.6"/><ellipse cx="722.5" cy="1087.9" rx="42.3" ry="5.8"/><ellipse cx="830.9" cy="1090.8" rx="30.7" ry="5.7"/><ellipse cx="906.3" cy="1087.5" rx="23.6" ry="5.6"/><ellipse cx="651.6" cy="1098.3" rx="26.7" ry="5.6"/><ellipse cx="690.5" cy="1098.3" rx="29.8" ry="5.7"/><ellipse cx="762.6" cy="1099.4" rx="31.4" ry="5.7"/><ellipse cx="800.1" cy="1098.6" rx="39.2" ry="5.8"/><ellipse cx="876.6" cy="1101.2" rx="98.9" ry="6.5"/><ellipse cx="928.6" cy="1103.8" rx="21.4" ry="5.6"/><ellipse cx="725.8" cy="1117.6" rx="27.8" ry="5.6"/><ellipse cx="669.4" cy="1121.7" rx="65.5" ry="6.1"/><ellipse cx="854.3" cy="1119.1" rx="26.9" ry="5.6"/><ellipse cx="905.2" cy="1122" rx="30.5" ry="5.7"/><ellipse cx="758.9" cy="1128" rx="52.3" ry="5.9"/><ellipse cx="823.5" cy="1123.5" rx="38.1" ry="5.8"/><ellipse cx="791.9" cy="1130.6" rx="27.1" ry="5.6"/><ellipse cx="695.4" cy="1133.5" rx="25.2" ry="5.6"/><ellipse cx="884" cy="1137.2" rx="28.6" ry="5.7"/><ellipse cx="722.1" cy="1148.4" rx="55.9" ry="6"/><ellipse cx="750" cy="1156.6" rx="28.6" ry="5.7"/><ellipse cx="860.6" cy="1152.1" rx="41.4" ry="5.8"/><ellipse cx="833.5" cy="1153.2" rx="28.3" ry="5.7"/><ellipse cx="778.9" cy="1160.3" rx="17.6" ry="5.5"/><ellipse cx="808.3" cy="1161.4" rx="47.8" ry="5.9"/></g>
<path d="M1093 527.9Q984 636.9 931.8 702.6M1093 527.9Q1024.8 459.7 1009.4 406M1093 527.9Q1027.3 462.2 1029.5 402.6M1093 527.9Q1028.5 463.4 1047.7 400.4M1093 527.9Q1155.9 465 1124.4 402.1M1093 527.9Q1154.5 466.4 1143.9 408M1093 527.9Q1153.7 467.2 1162.8 416.8M1093 527.9Q1025 459.9 993.7 417.7M1093 527.9Q1036.6 471.5 1025.9 425.9M1093 527.9Q1040.4 475.3 1060.1 423.2M1093 527.9Q1143.5 477.4 1125.2 427.5M1093 527.9Q1043.6 478.5 1045.4 433.6M1093 527.9Q1153.8 467.1 1179.8 427.7M1093 527.9Q1142.4 478.5 1144.7 435.2M1093 527.9Q1028.3 463.2 985.8 436.1M1093 527.9Q1037.9 472.8 1013.5 437.9M1093 527.9Q1141.4 479.5 1162.5 448.5M1093 527.9Q1153.8 467.1 1193.9 442M1093 527.9Q1044.7 479.6 1013.7 458.5M1093 527.9Q1036 470.9 990.9 458.4M1093 527.9Q1142.8 478.1 1180.8 464.6M1093 527.9Q1155.1 465.8 1206.9 457.2M1093 527.9Q1155.8 465.1 1214.8 473.4M1093 527.9Q1142.6 478.3 1189 483.8M1093 527.9Q1159 461.9 1224.5 489.6M1093 527.9Q1147.5 473.4 1201.9 498.4M1093 527.9Q1140.8 575.7 1188.2 557.3M1093 527.9Q1158.8 593.7 1224 567.3M1093 527.9Q1149.2 584.1 1202.2 576.1M1093 527.9Q1160.6 595.5 1223.8 587.5M1093 527.9Q1141.2 576.1 1181.1 583.3M1093 527.9Q1155.7 590.6 1207.3 600.5M1093 527.9Q1140.2 575.1 1162 604.2M1093 527.9Q1148.9 583.8 1186.6 606M1093 527.9Q1040.8 580.1 996.1 584.9M1093 527.9Q1044.7 479.6 1000.3 482.9M1093 527.9Q1033.9 587 1014.8 630M1093 527.9Q1033.9 587 1026.2 636.6M1093 527.9Q1148.9 583.8 1132.7 638.3M1093 527.9Q1151.5 586.4 1154.2 637.8M1093 527.9Q1150 584.9 1118.3 641.9" fill="none" stroke="#86d3ea" stroke-width="3"/>
<path d="M931.8 702.6Q917.1 721.2 906.9 736.3M1009.4 406Q1005 390.9 1004.8 376.9M1029.5 402.6Q1030.1 385.8 1036.1 369.4M1047.7 400.4Q1053 382.7 1065.1 365M1124.4 402.1Q1115.5 384.4 1099.1 366.7M1143.9 408Q1140.9 391.5 1132.1 375.2M1162.8 416.8Q1165.3 402.5 1163.8 389.2M993.7 417.7Q984.9 405.8 979 396M1025.9 425.9Q1022.9 413.1 1023.6 401.1M1060.1 423.2Q1065.7 408.6 1077 393.9M1125.2 427.5Q1120 413.4 1109.3 399.4M1045.4 433.6Q1045.9 420.9 1050.4 408.6M1179.8 427.7Q1187.1 416.6 1191.7 407.2M1144.7 435.2Q1145.4 423 1142.3 411.3M985.8 436.1Q973.8 428.5 963.6 423.9M1013.5 437.9Q1006.6 428 1002.1 419.8M1162.5 448.5Q1168.5 439.7 1172.3 432.4M1193.9 442Q1205.2 434.9 1214.8 430.7M1013.7 458.5Q1005 452.5 997.7 448.7M990.9 458.4Q978.1 454.8 966.4 454.9M1180.8 464.6Q1191.5 460.8 1201.2 460M1206.9 457.2Q1221.5 454.7 1235.3 456.6M1214.8 473.4Q1231.5 475.8 1247.9 483.8M1189 483.8Q1202 485.3 1214.8 491.3M1224.5 489.6Q1243 497.4 1261.5 512.7M1201.9 498.4Q1217.2 505.5 1232.5 518.8M1188.2 557.3Q1201.5 552.1 1214.8 541.6M1224 567.3Q1242.4 559.8 1260.8 545M1202.2 576.1Q1217.2 573.9 1231.9 566.5M1223.8 587.5Q1241.6 585.3 1259.1 577M1181.1 583.3Q1192.3 585.4 1202.9 584.2M1207.3 600.5Q1221.9 603.3 1235.6 601.9M1162 604.2Q1168.2 612.5 1172.3 619.2M1186.6 606Q1197.2 612.3 1206.3 615.8M996.1 584.9Q983.5 586.3 971.5 583.8M1000.3 482.9Q987.8 483.9 975.6 488.9M1014.8 630Q1009.4 642.1 1007.2 652.9M1026.2 636.6Q1024 650.6 1025.9 663.8M1132.7 638.3Q1128.1 653.7 1117.8 668.9M1154.2 637.8Q1154.9 652.3 1151.2 666.2M1118.3 641.9Q1109.3 658 1093.3 674" fill="none" stroke="#98cfe2" stroke-width="2.9" stroke-opacity="0.88" stroke-linecap="round"/>
<path d="M803 626.7Q728.5 552.2 749.4 479.6M803 626.7Q876.8 552.9 838.7 479.1M803 626.7Q729.4 553.1 736.3 484.8M803 626.7Q875.6 554.1 857.1 483.8M803 626.7Q729.2 552.9 719.6 490.9M803 626.7Q873 556.7 873.6 494.2M803 626.7Q741.4 565.1 753 506.2M803 626.7Q864.8 564.9 843.7 504M803 626.7Q740.1 563.8 770.2 501.1M803 626.7Q729 552.7 703.6 499.9M803 626.7Q741.5 565.2 735 512.9M803 626.7Q862.2 567.5 861.6 514.3M803 626.7Q865.8 563.9 880.8 515M803 626.7Q728.9 552.6 688.7 512.3M803 626.7Q740.2 563.9 716.8 520.6M803 626.7Q752.5 576.2 778.6 525.8M803 626.7Q753 576.7 756.6 530.6M803 626.7Q852.4 577.3 843.2 530.2M803 626.7Q728.6 552.3 676.5 525.4M803 626.7Q740.9 564.6 704.7 533.3M803 626.7Q752.9 576.6 735.9 540.9M803 626.7Q853.2 576.5 866.3 538.2M803 626.7Q864.2 565.5 895.6 530.6M803 626.7Q741.3 565 694.5 548M803 626.7Q728.2 551.9 665.6 541.8M803 626.7Q753.1 576.8 720.4 555.9M803 626.7Q846.4 583.3 866.1 556M803 626.7Q863.3 566.4 907.7 547.8M803 626.7Q726.2 549.9 654.7 557.3M803 626.7Q740.4 564.1 684.8 562.9M803 626.7Q753.7 577.4 710.8 574.6M803 626.7Q862.6 567.1 915.2 565.1M803 626.7Q850.9 578.8 892.3 575.2M803 626.7Q735.5 559.2 670.2 575M803 626.7Q747.9 571.6 694.3 586.3M803 626.7Q726.2 549.9 650.2 579.7M803 626.7Q855.8 573.9 907.5 589.8M803 626.7Q738.6 562.3 674.3 595.9M803 626.7Q754.5 675.2 705.9 648.3M803 626.7Q854.1 677.8 905.1 653.1M803 626.7Q726.9 702.8 650.9 666.2M803 626.7Q736.7 693 671.8 672.4M803 626.7Q749.3 680.4 697.2 667.1M803 626.7Q727.2 702.5 654.2 685.3M803 626.7Q849 672.7 890.6 671.8M803 626.7Q742.4 687.3 688.4 688.2M803 626.7Q754.7 675 713.9 680.9M803 626.7Q730.1 699.6 664.8 699.6M803 626.7Q734.5 695.2 680.2 709.8M803 626.7Q752.6 677.1 722.3 701.5M803 626.7Q742.7 687 701.3 710M803 626.7Q756.8 672.9 742.1 706.7M803 626.7Q861.9 685.6 892.1 719.3M803 626.7Q876.8 700.5 923.3 733.5M803 626.7Q886.4 710.1 942.2 743.3M803 626.7Q882.9 706.6 924.6 751.7M803 626.7Q874.4 698.1 928.7 717.6M803 626.7Q885 708.7 949.3 727.8M803 626.7Q875.3 699 937.8 704.7M803 626.7Q879.3 703 943.7 712.3M803 626.7Q744.5 685.2 767 743.1M803 626.7Q739.2 690.5 742.3 748.8M803 626.7Q733.7 696 721.6 752.7M803 626.7Q863 686.7 839.6 746.1M803 626.7Q736.2 693.5 753.4 758.4M803 626.7Q869.6 693.3 855.6 757.3M803 626.7Q869.9 693.6 832.9 760.5M803 626.7Q870.8 558.9 935.3 570.8M803 626.7Q883.3 707 962.6 678M803 626.7Q891.1 714.8 977.4 688.1M803 626.7Q917.7 741.4 1030.1 706M803 626.7Q881.5 705.2 954.1 699M803 626.7Q911.7 735.4 994.6 764.2" fill="none" stroke="#eaa33d" stroke-width="3"/>
<path d="M749.4 479.6Q755.3 459.1 768.7 438.8M838.7 479.1Q827.9 458.3 808.2 437.5M736.3 484.8Q738.3 465.5 746.6 446.6M857.1 483.8Q852 463.9 839.5 444.3M719.6 490.9Q716.9 473.4 719.4 456.9M873.6 494.2Q873.8 476.6 868.5 459.6M753 506.2Q756.2 489.6 765.3 473.2M843.7 504Q837.8 486.9 825.2 469.8M770.2 501.1Q778.7 483.4 794.6 465.7M703.6 499.9Q696.4 485 693.2 471.8M735 512.9Q733.2 498.1 735.7 484.1M861.6 514.3Q861.4 499.3 856.5 484.8M880.8 515Q885 501.2 885.5 488.5M688.7 512.3Q677.3 500.9 668.7 492.3M716.8 520.6Q710.2 508.4 706.8 497.7M778.6 525.8Q785.9 511.6 799.4 497.4M756.6 530.6Q757.6 517.5 762.9 504.9M843.2 530.2Q840.6 516.9 833.4 503.8M676.5 525.4Q661.8 517.8 648.9 514M704.7 533.3Q694.5 524.5 686.4 518.1M735.9 540.9Q731.1 530.8 728.9 521.9M866.3 538.2Q870.1 527.3 870.8 517.4M895.6 530.6Q904.5 520.8 911 513M694.5 548Q681.3 543.2 669.3 542M665.6 541.8Q647.9 539 631.2 541.3M720.4 555.9Q711.2 550 703.4 546.4M866.1 556Q871.6 548.3 875.3 542M907.7 547.8Q920.2 542.5 931.4 540.6M654.7 557.3Q634.6 559.4 614.9 568.2M684.8 562.9Q669.1 562.6 654 567.1M710.8 574.6Q698.7 573.8 687 576.7M915.2 565.1Q930.1 564.5 944.4 568.5M892.3 575.2Q903.9 574.2 915.1 576.7M670.2 575Q651.8 579.5 633.6 590.6M694.3 586.3Q679.2 590.5 664.2 600.2M650.2 579.7Q628.8 588.1 607.4 604.9M907.5 589.8Q922 594.3 936.5 604.2M674.3 595.9Q656.2 605.4 638 622.6M705.9 648.3Q692.2 640.7 678.5 627M905.1 653.1Q919.4 646.2 933.8 633.2M650.9 666.2Q629.5 655.9 608.1 636.6M671.8 672.4Q653.5 666.6 635.3 653.9M697.2 667.1Q682.5 663.4 668 654.3M654.2 685.3Q633.6 680.5 613.2 668.2M890.6 671.8Q902.3 671.5 913.7 667.5M688.4 688.2Q673.1 688.4 658.4 683.9M713.9 680.9Q702.4 682.6 691.5 680.8M664.8 699.6Q646.3 699.6 628.5 693.8M680.2 709.8Q664.8 714 650.6 713.8M722.3 701.5Q713.7 708.4 706.8 713.2M701.3 710Q689.7 716.5 679.6 720M742.1 706.7Q738 716.2 736.4 724.7M892.1 719.3Q900.7 728.8 906.9 736.3M923.3 733.5Q936.5 742.8 947.4 748.9M942.2 743.3Q958 752.7 971.6 758.1M924.6 751.7Q936.3 764.5 945 774.4M928.7 717.6Q944 723 958 724.4M949.3 727.8Q967.5 733.2 984.2 733.6M937.8 704.7Q955.4 706.3 972.3 702.6M943.7 712.3Q961.9 714.9 979.1 712.1M767 743.1Q773.3 759.5 786.1 775.8M742.3 748.8Q743.1 765.2 749.3 781.2M721.6 752.7Q718.2 768.6 719.4 783.6M839.6 746.1Q833 762.8 819.8 779.5M753.4 758.4Q758.2 776.7 769.7 794.8M855.6 757.3Q851.6 775.3 841.2 793.1M832.9 760.5Q822.5 779.4 803.8 798.2M935.3 570.8Q953.5 574.2 971.5 583.8M962.6 678Q984.9 669.8 1007.2 652.9M977.4 688.1Q1001.8 680.5 1025.9 663.8M1030.1 706Q1061.8 696 1093.3 674M954.1 699Q974.6 697.2 994.6 688.7M994.6 764.2Q1018 772.3 1039.4 774.1" fill="none" stroke="#dab070" stroke-width="2.9" stroke-opacity="0.88" stroke-linecap="round"/>
<path d="M771.5 977.2Q879.3 869.4 901.3 783.2M771.5 977.2Q850.3 898.4 815 820M771.5 977.2Q694.6 900.3 724.2 824.1M771.5 977.2Q693.3 899 705.4 825M771.5 977.2Q850.9 897.8 835.8 822M771.5 977.2Q700.4 906.1 739.1 835M771.5 977.2Q848.3 900.4 847.7 831.4M771.5 977.2Q842.4 906.3 822.3 837.1M771.5 977.2Q852 896.7 919.1 885.4M771.5 977.2Q851.5 897.2 925.1 902.8M771.5 977.2Q852.9 895.8 932.6 920.5M771.5 977.2Q705.4 911.1 688.2 860.3M771.5 977.2Q712 917.7 710.3 865.1M771.5 977.2Q699.7 905.4 667.6 860.1M771.5 977.2Q694.7 900.4 647.8 864.2M771.5 977.2Q822.3 926.4 795 875.7M771.5 977.2Q822 926.7 812.5 878.5M771.5 977.2Q720.3 926 725.3 878.4M771.5 977.2Q824.5 924.2 832.1 880.1M771.5 977.2Q831.7 917 853.3 874.9M771.5 977.2Q711.9 917.6 682.5 882.4M771.5 977.2Q694.1 899.8 634.9 879.6M771.5 977.2Q704.1 909.8 658.2 883.7M771.5 977.2Q721.5 927.2 707 889.8M771.5 977.2Q831.8 916.9 870.3 890.5M771.5 977.2Q819.9 928.8 842.1 898.6M771.5 977.2Q693.5 899.2 625.3 894.9M771.5 977.2Q712.5 918.2 666.9 903.5M771.5 977.2Q721.9 927.6 689.8 906.2M771.5 977.2Q704.1 909.8 645.8 904.5M771.5 977.2Q821.2 927.5 859.3 914.6M771.5 977.2Q829.7 919 880.7 916M771.5 977.2Q694.8 900.5 621.8 913.5M771.5 977.2Q720.6 926.3 675.2 925.8M771.5 977.2Q708.6 914.3 648.9 924.3M771.5 977.2Q820.5 928.2 867.6 938.6M771.5 977.2Q830.9 917.8 889.6 939.9M771.5 977.2Q698.5 904.2 626.4 931M771.5 977.2Q722.3 928 673.7 946.2M771.5 977.2Q710.4 916.1 649.5 945.3M771.5 977.2Q697.3 1051.4 623.2 1011.8M771.5 977.2Q821.3 1027 870.9 1004.7M771.5 977.2Q834.7 1040.4 897.6 1012.8M771.5 977.2Q722.6 1026.1 674.8 1011M771.5 977.2Q708.2 1040.5 645.8 1018.7M771.5 977.2Q699.2 1049.5 628.5 1027.9M771.5 977.2Q823.9 1029.6 872.5 1024.8M771.5 977.2Q837.9 1043.6 901.2 1031.1M771.5 977.2Q712.8 1035.9 659.8 1034.8M771.5 977.2Q700.3 1048.4 635.1 1044.8M771.5 977.2Q819.2 1024.9 856.9 1035.6M771.5 977.2Q844.2 1049.9 909 1050.6M771.5 977.2Q833.7 1039.4 885.8 1047.6M771.5 977.2Q703.5 1045.2 647.8 1056.7M771.5 977.2Q713.9 1034.8 673.8 1056M771.5 977.2Q723 1025.7 698.2 1053.6M771.5 977.2Q828.9 1034.6 867.5 1057.5M771.5 977.2Q821.1 1026.8 844.4 1057.2M771.5 977.2Q846 1051.7 904.8 1068.4M771.5 977.2Q701.7 1047 653.8 1073.3M771.5 977.2Q724.2 1024.5 720.9 1065.4M771.5 977.2Q821.6 1027.3 829.7 1068.5M771.5 977.2Q839.5 1045.2 883.4 1074.3M771.5 977.2Q705 1043.7 669.3 1080.2M771.5 977.2Q714.6 1034.1 697.2 1076M771.5 977.2Q723.6 1025.1 745 1072.7M771.5 977.2Q820.2 1025.9 810.3 1072.6M771.5 977.2Q835 1040.7 863.4 1080.7M771.5 977.2Q850.2 1055.9 901.7 1089M771.5 977.2Q713.9 1034.8 718.3 1088.1M771.5 977.2Q702.4 1046.3 679 1095.6M771.5 977.2Q835.6 1041.3 850.1 1091.8M771.5 977.2Q848.4 1054.1 886.7 1099.3M771.5 977.2Q712.4 1036.3 737.8 1095M771.5 977.2Q832.1 1037.8 829.8 1093M771.5 977.2Q831.9 1037.6 810.5 1097.2M771.5 977.2Q703.6 1045.1 695.3 1102.3M771.5 977.2Q847.9 1053.6 873.6 1108.3M771.5 977.2Q701.9 1046.8 710.8 1112.1M771.5 977.2Q701 1047.7 727.4 1117.5M771.5 977.2Q848.1 1053.8 859.4 1117.4M771.5 977.2Q844.4 1050.1 841.3 1116.5M771.5 977.2Q843 1048.7 807.5 1120.2M771.5 977.2Q844.8 1050.5 826.1 1121.6" fill="none" stroke="#5fcf8d" stroke-width="3"/>
<path d="M901.3 783.2Q907.5 758.9 906.9 736.3M815 820Q805.1 797.9 786.1 775.8M724.2 824.1Q732.5 802.6 749.3 781.2M705.4 825Q708.8 804.1 719.4 783.6M835.8 822Q831.5 800.6 819.8 779.5M739.1 835Q750.1 814.9 769.7 794.8M847.7 831.4Q847.5 812 841.2 793.1M822.3 837.1Q816.7 817.6 803.8 798.2M919.1 885.4Q938 882.2 955.8 884.5M925.1 902.8Q945.9 904.3 966.2 912.7M932.6 920.5Q955 927.5 977.4 942.9M688.2 860.3Q683.3 846 682.4 833M710.3 865.1Q709.8 850.2 713.9 835.9M667.6 860.1Q658.6 847.3 652.7 836.7M647.8 864.2Q634.6 854 623.7 847.1M795 875.7Q787.3 861.4 773.4 847.1M812.5 878.5Q809.8 864.9 802.3 851.5M725.3 878.4Q726.6 865 732.5 851.9M832.1 880.1Q834.2 867.7 832.8 856M853.3 874.9Q859.4 863.1 862.5 852.6M682.5 882.4Q674.2 872.5 668.3 864.5M634.9 879.6Q618.2 873.9 602.9 872.7M658.2 883.7Q645.3 876.4 634.1 872.3M707 889.8Q702.9 879.3 701.7 869.7M870.3 890.5Q881.2 883 890.3 878.3M842.1 898.6Q848.3 890.1 852.4 883.1M625.3 894.9Q606.1 893.7 587.7 898.3M666.9 903.5Q654.1 899.3 642.3 898.7M689.8 906.2Q680.7 900.2 673.1 896.5M645.8 904.5Q629.4 903 613.7 906.5M859.3 914.6Q870.1 910.9 879.9 910.2M880.7 916Q895.1 915.2 908.9 918.7M621.8 913.5Q601.3 917.2 581 928M675.2 925.8Q662.4 925.6 650.1 929.5M648.9 924.3Q632.1 927.2 615.5 935.8M867.6 938.6Q880.9 941.5 894 949.2M889.6 939.9Q906.1 946.1 922.6 958.8M626.4 931Q606.1 938.5 585.8 954M673.7 946.2Q660 951.3 646.4 961.8M649.5 945.3Q632.3 953.5 615.2 968.9M623.2 1011.8Q602.3 1000.6 581.4 980.4M870.9 1004.7Q884.9 998.4 898.9 986.3M897.6 1012.8Q915.3 1005 933 990M674.8 1011Q661.3 1006.8 647.8 997.5M645.8 1018.7Q628.2 1012.6 610.7 999.7M628.5 1027.9Q608.6 1021.8 588.8 1008.2M872.5 1024.8Q886.2 1023.4 899.6 1017.5M901.2 1031.1Q919.1 1027.6 936.7 1017.9M659.8 1034.8Q644.9 1034.5 630.4 1029.4M635.1 1044.8Q616.7 1043.8 598.8 1036.8M856.9 1035.6Q867.5 1038.6 877.3 1038.7M909 1050.6Q927.3 1050.9 944.9 1045.4M885.8 1047.6Q900.6 1049.9 914.5 1048M647.8 1056.7Q632.1 1060 617.4 1058.7M673.8 1056Q662.6 1062 652.7 1065M698.2 1053.6Q691.2 1061.4 686.1 1067.6M867.5 1057.5Q878.4 1063.9 887.7 1067.6M844.4 1057.2Q851 1065.8 855.4 1072.8M904.8 1068.4Q921.4 1073.1 936.7 1073.2M653.8 1073.3Q640.3 1080.7 628.5 1084.7M720.9 1065.4Q719.9 1077 722.5 1088.1M829.7 1068.5Q832 1080.1 830.9 1091M883.4 1074.3Q895.8 1082.6 906.3 1087.7M669.3 1080.2Q659.2 1090.5 651.6 1098.5M697.2 1076Q692.3 1087.8 690.5 1098.5M745 1072.7Q751 1086.1 762.6 1099.6M810.3 1072.6Q807.5 1085.8 800.1 1098.8M863.4 1080.7Q871.4 1092 876.6 1101.4M901.7 1089Q916.2 1098.3 928.6 1104M718.3 1088.1Q719.6 1103.1 725.8 1117.8M679 1095.6Q672.4 1109.5 669.4 1121.9M850.1 1091.8Q854.2 1106.1 854.3 1119.3M886.7 1099.3Q897.5 1112 905.2 1122.2M737.8 1095Q745 1111.6 758.9 1128.2M829.8 1093Q829.1 1108.6 823.5 1123.7M810.5 1097.2Q804.5 1114 791.9 1130.8M695.3 1102.3Q693 1118.4 695.4 1133.7M873.6 1108.3Q880.8 1123.7 884 1137.4M710.8 1112.1Q713.4 1130.5 722.1 1148.6M727.4 1117.5Q734.8 1137.1 750 1156.8M859.4 1117.4Q862.6 1135.4 860.6 1152.3M841.3 1116.5Q840.4 1135.2 833.5 1153.4M807.5 1120.2Q797.5 1140.3 778.9 1160.5M826.1 1121.6Q820.9 1141.7 808.3 1161.6" fill="none" stroke="#7ecda5" stroke-width="2.9" stroke-opacity="0.88" stroke-linecap="round"/>
<path d="M1136.4 844.5Q1053.8 761.9 985.1 750M1136.4 844.5Q1063.8 771.9 1004.2 760M1136.4 844.5Q1052.5 760.6 990.9 734.5M1136.4 844.5Q1062.9 771 1011.5 744.7M1136.4 844.5Q1051.8 759.9 999.3 720.9M1136.4 844.5Q1056.2 764.3 1005.4 728.7M1136.4 844.5Q1046.3 754.4 1018.2 688.3M1136.4 844.5Q1053.8 761.9 1032.9 698.2M1136.4 844.5Q1067.6 775.7 1094.8 707.4M1136.4 844.5Q1206.2 774.7 1176.1 705.3M1136.4 844.5Q1067.8 775.9 1080 710.6M1136.4 844.5Q1054.2 762.3 1014 713.6M1136.4 844.5Q1196.4 784.5 1192.6 729.5M1136.4 844.5Q1200.3 780.6 1215 730.5M1136.4 844.5Q1205.3 775.6 1237.3 733.1M1136.4 844.5Q1199.3 781.6 1221.6 737.2M1136.4 844.5Q1083.4 791.5 1083.8 743.9M1136.4 844.5Q1186.3 794.6 1191.2 752M1136.4 844.5Q1207.9 773 1256.4 745M1136.4 844.5Q1197.6 783.3 1234.7 754.1M1136.4 844.5Q1189.7 791.2 1211.1 755.6M1136.4 844.5Q1086.7 794.8 1072.6 757.4M1136.4 844.5Q1208.4 772.5 1267.6 760.9M1136.4 844.5Q1185.6 795.3 1218.6 775.7M1136.4 844.5Q1197.6 783.3 1247.3 772.2M1136.4 844.5Q1208.3 772.6 1274.7 777.8M1136.4 844.5Q1186 794.9 1230.4 794.4M1136.4 844.5Q1197.2 783.7 1254.7 792.5M1136.4 844.5Q1208.3 772.6 1279.2 797.5M1136.4 844.5Q1197.6 783.3 1258.6 812.5M1136.4 844.5Q1186 794.9 1235.4 816.6M1136.4 844.5Q1088 796.1 1041.3 807.8M1136.4 844.5Q1088.7 892.2 1041.6 874.5M1136.4 844.5Q1207.7 915.8 1278.9 881.6M1136.4 844.5Q1196.6 904.7 1255.6 885.3M1136.4 844.5Q1185.3 893.4 1232.3 882.8M1136.4 844.5Q1207.1 915.2 1274.9 901M1136.4 844.5Q1064.3 916.6 994.8 900.6M1136.4 844.5Q1195.4 903.5 1247.6 905.4M1136.4 844.5Q1184.8 892.9 1222.8 904M1136.4 844.5Q1207 915.1 1269 918.3M1136.4 844.5Q1089.2 891.7 1051.9 902M1136.4 844.5Q1064.9 916 1001.4 917.4M1136.4 844.5Q1195.8 903.9 1237.2 925.4M1136.4 844.5Q1206.6 914.7 1260 933.5M1136.4 844.5Q1187.1 895.2 1212.5 924.9M1136.4 844.5Q1087.2 893.7 1061.5 921.5M1136.4 844.5Q1063.5 917.4 1007.5 936.4M1136.4 844.5Q1185.7 893.8 1195.5 933.3M1136.4 844.5Q1088.4 892.5 1085.2 934.3M1136.4 844.5Q1078.6 902.3 1058.2 943.1M1136.4 844.5Q1088 892.9 1112.2 941.3M1136.4 844.5Q1186 894.1 1175.5 941.8M1136.4 844.5Q1200.2 908.3 1231.5 946M1136.4 844.5Q1209.8 917.9 1255.1 951.7M1136.4 844.5Q1198.9 907 1215.1 955M1136.4 844.5Q1079.6 901.3 1088.4 955M1136.4 844.5Q1196.1 904.2 1193.3 958.8M1136.4 844.5Q1210.1 918.2 1237.7 969M1136.4 844.5Q1075.1 905.8 1107.3 967.1M1136.4 844.5Q1200 908.1 1189.2 968.6M1136.4 844.5Q1066.6 914.3 1068.1 977.3M1136.4 844.5Q1210.7 918.8 1221.6 980.6M1136.4 844.5Q1067.4 913.5 1085.5 980.5M1136.4 844.5Q1209.5 917.6 1205.9 984.3M1136.4 844.5Q1060.5 920.4 1090 995.7M1136.4 844.5Q1212.9 921 1193.6 995.1M1136.4 844.5Q1209.4 917.5 1175 990.3M1136.4 844.5Q1089.7 797.8 1056.8 781.1" fill="none" stroke="#ec464f" stroke-width="3"/>
<path d="M985.1 750Q965.7 746.6 947.4 748.9M1004.2 760Q987.4 756.6 971.6 758.1M990.9 734.5Q973.6 727.2 958 724.4M1011.5 744.7Q996.9 737.3 984.2 733.6M999.3 720.9Q984.5 710 972.3 702.6M1005.4 728.7Q991.1 718.6 979.1 712.1M1018.2 688.3Q1010.2 669.7 1007.2 652.9M1032.9 698.2Q1026.9 680.3 1025.9 663.8M1094.8 707.4Q1102.5 688.1 1117.8 668.9M1176.1 705.3Q1167.6 685.8 1151.2 666.2M1080 710.6Q1083.5 692.2 1093.3 674M1014 713.6Q1002.6 699.8 994.6 688.7M1192.6 729.5Q1191.6 713.9 1185.4 698.8M1215 730.5Q1219.1 716.4 1219.4 703.4M1237.3 733.1Q1246.4 721.1 1252.5 711.2M1221.6 737.2Q1227.9 724.7 1230.9 713.7M1083.8 743.9Q1083.9 730.4 1088.2 717.4M1191.2 752Q1192.6 740 1190.4 728.6M1256.4 745Q1270 737.1 1281.8 732.7M1234.7 754.1Q1245.2 745.9 1253.7 740.2M1211.1 755.6Q1217.1 745.5 1220.6 736.9M1072.6 757.4Q1068.7 746.8 1067.5 737.3M1267.6 760.9Q1284.3 757.7 1300 759.2M1218.6 775.7Q1227.9 770.2 1235.9 767.1M1247.3 772.2Q1261.3 769.1 1274.4 770M1274.7 777.8Q1293.4 779.3 1311.6 786.9M1230.4 794.4Q1242.9 794.3 1254.9 798.1M1254.7 792.5Q1270.9 795 1286.8 803.1M1279.2 797.5Q1299.2 804.5 1319.1 819.2M1258.6 812.5Q1275.8 820.7 1293 836.1M1235.4 816.6Q1249.3 822.7 1263.2 834.5M1041.3 807.8Q1028.1 811.1 1015 819.2M1041.6 874.5Q1028.3 869.5 1015 859.3M1278.9 881.6Q1299 872 1319.1 853.9M1255.6 885.3Q1272.3 879.8 1288.9 868M1232.3 882.8Q1245.6 879.8 1258.7 872.1M1274.9 901Q1294 897 1312.9 886.2M994.8 900.6Q975.2 896.1 955.8 884.5M1247.6 905.4Q1262.3 905.9 1276.5 901.9M1222.8 904Q1233.5 907.1 1243.4 907.3M1269 918.3Q1286.5 919.2 1303.3 914.7M1051.9 902Q1041.3 904.9 1031.6 904.8M1001.4 917.4Q983.5 917.8 966.2 912.7M1237.2 925.4Q1248.8 931.5 1259.1 934.6M1260 933.5Q1275.1 938.8 1288.9 940M1212.5 924.9Q1219.6 933.3 1224.7 940M1061.5 921.5Q1054.3 929.3 1048.9 935.4M1007.5 936.4Q991.8 941.8 977.4 942.9M1195.5 933.3Q1198.2 944.5 1197.9 954.9M1085.2 934.3Q1084.3 946.1 1087 957.4M1058.2 943.1Q1052.5 954.6 1049.8 964.8M1112.2 941.3Q1119.1 954.9 1131.7 968.5M1175.5 941.8Q1172.5 955.2 1164.8 968.5M1231.5 946Q1240.4 956.6 1246.7 965.2M1255.1 951.7Q1267.9 961.3 1278.5 967.7M1215.1 955Q1219.7 968.6 1220.6 980.9M1088.4 955Q1090.9 970.2 1098.6 985.1M1193.3 958.8Q1192.5 974.2 1186.7 989.2M1237.7 969Q1245.5 983.3 1249.6 995.8M1107.3 967.1Q1116.4 984.3 1132.9 1001.6M1189.2 968.6Q1186.1 985.6 1177.2 1002.4M1068.1 977.3Q1068.5 995.1 1074.6 1012.4M1221.6 980.6Q1224.7 998 1222.7 1014.4M1085.5 980.5Q1090.7 999.4 1102.7 1018.2M1205.9 984.3Q1204.9 1003.2 1197.9 1021.5M1090 995.7Q1098.4 1016.9 1115.1 1038M1193.6 995.1Q1188.2 1016.1 1175.1 1036.8M1175 990.3Q1165.2 1010.9 1147 1031.4M1056.8 781.1Q1047.6 776.4 1039.4 774.1" fill="none" stroke="#db727c" stroke-width="2.9" stroke-opacity="0.88" stroke-linecap="round"/>
<g fill="#d3e9f6" fill-opacity="0.42"><ellipse cx="768.7" cy="438.6" rx="73" ry="6.2"/><ellipse cx="808.2" cy="437.3" rx="114.6" ry="6.6"/><ellipse cx="746.6" cy="446.4" rx="32.8" ry="5.7"/><ellipse cx="839.5" cy="444.1" rx="26.2" ry="5.6"/><ellipse cx="719.4" cy="456.7" rx="39.5" ry="5.8"/><ellipse cx="868.5" cy="459.4" rx="44.2" ry="5.8"/><ellipse cx="765.3" cy="473" rx="17.4" ry="5.5"/><ellipse cx="825.2" cy="469.6" rx="26.9" ry="5.6"/><ellipse cx="794.6" cy="465.5" rx="55.4" ry="6"/><ellipse cx="693.2" cy="471.6" rx="19.1" ry="5.5"/><ellipse cx="735.7" cy="483.9" rx="68.9" ry="6.1"/><ellipse cx="856.5" cy="484.6" rx="22.9" ry="5.6"/><ellipse cx="885.5" cy="488.3" rx="28.6" ry="5.7"/><ellipse cx="668.7" cy="492.1" rx="89.6" ry="6.3"/><ellipse cx="706.8" cy="497.5" rx="31.4" ry="5.7"/><ellipse cx="799.4" cy="497.2" rx="78" ry="6.2"/><ellipse cx="762.9" cy="504.7" rx="34.3" ry="5.7"/><ellipse cx="833.4" cy="503.6" rx="36.4" ry="5.7"/><ellipse cx="648.9" cy="513.8" rx="56.1" ry="6"/><ellipse cx="686.4" cy="517.9" rx="46.1" ry="5.9"/><ellipse cx="728.9" cy="521.7" rx="35.7" ry="5.7"/><ellipse cx="870.8" cy="517.2" rx="45.9" ry="5.9"/><ellipse cx="911" cy="512.8" rx="47.3" ry="5.9"/><ellipse cx="669.3" cy="541.8" rx="29.3" ry="5.7"/><ellipse cx="631.2" cy="541.1" rx="60.3" ry="6"/><ellipse cx="703.4" cy="546.2" rx="64.4" ry="6.1"/><ellipse cx="875.3" cy="541.8" rx="42.8" ry="5.8"/><ellipse cx="931.4" cy="540.4" rx="33.8" ry="5.7"/><ellipse cx="614.9" cy="568" rx="57.5" ry="6"/><ellipse cx="654" cy="566.9" rx="54" ry="5.9"/><ellipse cx="687" cy="576.5" rx="44.8" ry="5.8"/><ellipse cx="944.4" cy="568.3" rx="41.9" ry="5.8"/><ellipse cx="915.1" cy="576.5" rx="23.6" ry="5.6"/><ellipse cx="633.6" cy="590.4" rx="30.7" ry="5.7"/><ellipse cx="664.2" cy="600" rx="25" ry="5.6"/><ellipse cx="607.4" cy="604.7" rx="35.4" ry="5.7"/><ellipse cx="936.5" cy="604" rx="87" ry="6.3"/><ellipse cx="638" cy="622.4" rx="26.2" ry="5.6"/><ellipse cx="678.5" cy="626.8" rx="36.4" ry="5.7"/><ellipse cx="933.8" cy="633" rx="70.8" ry="6.1"/><ellipse cx="608.1" cy="636.4" rx="34" ry="5.7"/><ellipse cx="635.3" cy="653.7" rx="26.2" ry="5.6"/><ellipse cx="668" cy="654.1" rx="20.5" ry="5.6"/><ellipse cx="613.2" cy="668" rx="30.1" ry="5.7"/><ellipse cx="913.7" cy="667.3" rx="51.8" ry="5.9"/><ellipse cx="658.4" cy="683.7" rx="33.3" ry="5.7"/><ellipse cx="691.5" cy="680.6" rx="23.1" ry="5.6"/><ellipse cx="628.5" cy="693.6" rx="26.2" ry="5.6"/><ellipse cx="650.6" cy="713.6" rx="51.4" ry="5.9"/><ellipse cx="706.8" cy="713" rx="22.4" ry="5.6"/><ellipse cx="679.6" cy="719.8" rx="38.3" ry="5.8"/><ellipse cx="736.4" cy="724.5" rx="19.3" ry="5.6"/><ellipse cx="906.9" cy="736.1" rx="24" ry="5.6"/><ellipse cx="947.4" cy="748.7" rx="42.1" ry="5.8"/><ellipse cx="971.6" cy="757.9" rx="37.3" ry="5.8"/><ellipse cx="945" cy="774.2" rx="80.8" ry="6.2"/><ellipse cx="958" cy="724.2" rx="24.8" ry="5.6"/><ellipse cx="984.2" cy="733.4" rx="41.1" ry="5.8"/><ellipse cx="972.3" cy="702.4" rx="27.1" ry="5.6"/><ellipse cx="979.1" cy="711.9" rx="43.3" ry="5.8"/><ellipse cx="786.1" cy="775.6" rx="25.4" ry="5.6"/><ellipse cx="749.3" cy="781" rx="52.8" ry="5.9"/><ellipse cx="719.4" cy="783.4" rx="36.2" ry="5.7"/><ellipse cx="819.8" cy="779.3" rx="28.3" ry="5.7"/><ellipse cx="769.7" cy="794.6" rx="42.6" ry="5.8"/><ellipse cx="841.2" cy="792.9" rx="27.6" ry="5.6"/><ellipse cx="803.8" cy="798" rx="26.7" ry="5.6"/><ellipse cx="1004.8" cy="376.7" rx="67.3" ry="6.1"/><ellipse cx="1036.1" cy="369.2" rx="19.5" ry="5.6"/><ellipse cx="1065.1" cy="364.8" rx="18.1" ry="5.5"/><ellipse cx="1099.1" cy="366.5" rx="34.5" ry="5.7"/><ellipse cx="1132.1" cy="375" rx="24.3" ry="5.6"/><ellipse cx="1163.8" cy="389" rx="21" ry="5.6"/><ellipse cx="979" cy="395.8" rx="42.7" ry="5.8"/><ellipse cx="1023.6" cy="400.9" rx="28.3" ry="5.7"/><ellipse cx="1077" cy="393.7" rx="27.9" ry="5.6"/><ellipse cx="1109.3" cy="399.2" rx="36.4" ry="5.7"/><ellipse cx="1050.4" cy="408.4" rx="33.8" ry="5.7"/><ellipse cx="1191.7" cy="407" rx="75.8" ry="6.2"/><ellipse cx="1142.3" cy="411.1" rx="28.1" ry="5.7"/><ellipse cx="963.6" cy="423.7" rx="31.2" ry="5.7"/><ellipse cx="1002.1" cy="419.6" rx="30.9" ry="5.7"/><ellipse cx="1172.3" cy="432.2" rx="32.8" ry="5.7"/><ellipse cx="1214.8" cy="430.5" rx="51.4" ry="5.9"/><ellipse cx="997.7" cy="448.5" rx="65.8" ry="6.1"/><ellipse cx="966.4" cy="454.7" rx="20.5" ry="5.6"/><ellipse cx="1201.2" cy="459.8" rx="51.6" ry="5.9"/><ellipse cx="1235.3" cy="456.4" rx="42.1" ry="5.8"/><ellipse cx="1247.9" cy="483.6" rx="77.6" ry="6.2"/><ellipse cx="1214.8" cy="491.1" rx="38.1" ry="5.8"/><ellipse cx="1261.5" cy="512.5" rx="20" ry="5.6"/><ellipse cx="1232.5" cy="518.6" rx="33.6" ry="5.7"/><ellipse cx="1214.8" cy="541.4" rx="71.1" ry="6.1"/><ellipse cx="1260.8" cy="544.8" rx="39.3" ry="5.8"/><ellipse cx="1231.9" cy="566.3" rx="31.4" ry="5.7"/><ellipse cx="1259.1" cy="576.8" rx="53.3" ry="5.9"/><ellipse cx="1202.9" cy="584" rx="36.6" ry="5.7"/><ellipse cx="1235.6" cy="601.7" rx="21.7" ry="5.6"/><ellipse cx="1172.3" cy="619" rx="19.5" ry="5.6"/><ellipse cx="1206.3" cy="615.6" rx="23.8" ry="5.6"/><ellipse cx="971.5" cy="583.6" rx="25.5" ry="5.6"/><ellipse cx="975.6" cy="488.7" rx="102" ry="6.5"/><ellipse cx="1007.2" cy="652.7" rx="25.2" ry="5.6"/><ellipse cx="1025.9" cy="663.6" rx="28.6" ry="5.7"/><ellipse cx="1117.8" cy="668.7" rx="33.8" ry="5.7"/><ellipse cx="1151.2" cy="666" rx="50.4" ry="5.9"/><ellipse cx="1093.3" cy="673.8" rx="100.8" ry="6.5"/><ellipse cx="994.6" cy="688.5" rx="55.4" ry="6"/><ellipse cx="1185.4" cy="698.6" rx="109.5" ry="6.6"/><ellipse cx="1219.4" cy="703.2" rx="26.4" ry="5.6"/><ellipse cx="1252.5" cy="711" rx="296.6" ry="8.7"/><ellipse cx="1230.9" cy="713.5" rx="67.8" ry="6.1"/><ellipse cx="1088.2" cy="717.2" rx="93.9" ry="6.4"/><ellipse cx="1190.4" cy="728.4" rx="26.4" ry="5.6"/><ellipse cx="1281.8" cy="732.5" rx="38.1" ry="5.8"/><ellipse cx="1253.7" cy="740" rx="37.2" ry="5.8"/><ellipse cx="1220.6" cy="736.7" rx="120.9" ry="6.7"/><ellipse cx="1067.5" cy="737.1" rx="28.8" ry="5.7"/><ellipse cx="1300" cy="759" rx="66.3" ry="6.1"/><ellipse cx="1235.9" cy="766.9" rx="50.2" ry="5.9"/><ellipse cx="1274.4" cy="769.8" rx="29.3" ry="5.7"/><ellipse cx="1311.6" cy="786.7" rx="105.7" ry="6.5"/><ellipse cx="1254.9" cy="797.9" rx="41.9" ry="5.8"/><ellipse cx="1286.8" cy="802.9" rx="62.3" ry="6"/><ellipse cx="1319.1" cy="819" rx="200.6" ry="7.6"/><ellipse cx="1293" cy="835.9" rx="50.7" ry="5.9"/><ellipse cx="1263.2" cy="834.3" rx="99.3" ry="6.5"/><ellipse cx="1015" cy="819" rx="65.4" ry="6.1"/><ellipse cx="1015" cy="859.1" rx="84.6" ry="6.3"/><ellipse cx="1319.1" cy="853.7" rx="33.3" ry="5.7"/><ellipse cx="1288.9" cy="867.8" rx="48.3" ry="5.9"/><ellipse cx="1258.7" cy="871.9" rx="28.6" ry="5.7"/><ellipse cx="1312.9" cy="886" rx="56.1" ry="6"/><ellipse cx="955.8" cy="884.3" rx="21" ry="5.6"/><ellipse cx="1276.5" cy="901.7" rx="30.7" ry="5.7"/><ellipse cx="1243.4" cy="907.1" rx="44" ry="5.8"/><ellipse cx="1303.3" cy="914.5" rx="40" ry="5.8"/><ellipse cx="1031.6" cy="904.6" rx="98.9" ry="6.5"/><ellipse cx="966.2" cy="912.5" rx="29.5" ry="5.7"/><ellipse cx="1259.1" cy="934.4" rx="58.3" ry="6"/><ellipse cx="1288.9" cy="939.8" rx="45.7" ry="5.8"/><ellipse cx="1224.7" cy="939.8" rx="20.7" ry="5.6"/><ellipse cx="1048.9" cy="935.2" rx="29.5" ry="5.7"/><ellipse cx="977.4" cy="942.7" rx="43.3" ry="5.8"/><ellipse cx="1197.9" cy="954.7" rx="93.9" ry="6.4"/><ellipse cx="1087" cy="957.2" rx="30" ry="5.7"/><ellipse cx="1049.8" cy="964.6" rx="20.2" ry="5.6"/><ellipse cx="1131.7" cy="968.3" rx="26.8" ry="5.6"/><ellipse cx="1164.8" cy="968.3" rx="45.2" ry="5.8"/><ellipse cx="1246.7" cy="965" rx="22.4" ry="5.6"/><ellipse cx="1278.5" cy="967.5" rx="96.2" ry="6.4"/><ellipse cx="1220.6" cy="980.7" rx="38.6" ry="5.8"/><ellipse cx="1098.6" cy="984.9" rx="126.6" ry="6.8"/><ellipse cx="1186.7" cy="989" rx="25.1" ry="5.6"/><ellipse cx="1249.6" cy="995.6" rx="79.5" ry="6.2"/><ellipse cx="1132.9" cy="1001.4" rx="21.4" ry="5.6"/><ellipse cx="1177.2" cy="1002.2" rx="41.6" ry="5.8"/><ellipse cx="1074.6" cy="1012.2" rx="19.3" ry="5.6"/><ellipse cx="1222.7" cy="1014.2" rx="37.8" ry="5.8"/><ellipse cx="1102.7" cy="1018" rx="105" ry="6.5"/><ellipse cx="1197.9" cy="1021.3" rx="24.8" ry="5.6"/><ellipse cx="1115.1" cy="1037.8" rx="46.4" ry="5.9"/><ellipse cx="1175.1" cy="1036.6" rx="32.1" ry="5.7"/><ellipse cx="1147" cy="1031.2" rx="99.3" ry="6.5"/><ellipse cx="1039.4" cy="773.9" rx="31.2" ry="5.7"/><ellipse cx="682.4" cy="832.8" rx="49.9" ry="5.9"/><ellipse cx="713.9" cy="835.7" rx="115.2" ry="6.6"/><ellipse cx="652.7" cy="836.5" rx="25" ry="5.6"/><ellipse cx="623.7" cy="846.9" rx="21.7" ry="5.6"/><ellipse cx="773.4" cy="846.9" rx="23.8" ry="5.6"/><ellipse cx="802.3" cy="851.3" rx="132.6" ry="6.8"/><ellipse cx="732.5" cy="851.7" rx="51.8" ry="5.9"/><ellipse cx="832.8" cy="855.8" rx="28.7" ry="5.7"/><ellipse cx="862.5" cy="852.4" rx="22.9" ry="5.6"/><ellipse cx="668.3" cy="864.3" rx="38.1" ry="5.8"/><ellipse cx="602.9" cy="872.5" rx="83.7" ry="6.3"/><ellipse cx="634.1" cy="872.1" rx="31.4" ry="5.7"/><ellipse cx="701.7" cy="869.5" rx="33.8" ry="5.7"/><ellipse cx="890.3" cy="878.1" rx="35.7" ry="5.7"/><ellipse cx="852.4" cy="882.9" rx="20.5" ry="5.6"/><ellipse cx="587.7" cy="898.1" rx="113.1" ry="6.6"/><ellipse cx="642.3" cy="898.5" rx="21" ry="5.6"/><ellipse cx="673.1" cy="896.3" rx="36.9" ry="5.7"/><ellipse cx="613.7" cy="906.3" rx="47.1" ry="5.9"/><ellipse cx="879.9" cy="910" rx="19.8" ry="5.6"/><ellipse cx="908.9" cy="918.5" rx="84.8" ry="6.3"/><ellipse cx="581" cy="927.8" rx="26.9" ry="5.6"/><ellipse cx="650.1" cy="929.3" rx="25.5" ry="5.6"/><ellipse cx="615.5" cy="935.6" rx="43" ry="5.8"/><ellipse cx="894" cy="949" rx="48.3" ry="5.9"/><ellipse cx="922.6" cy="958.6" rx="46.4" ry="5.9"/><ellipse cx="585.8" cy="953.8" rx="28.3" ry="5.7"/><ellipse cx="646.4" cy="961.6" rx="43.8" ry="5.8"/><ellipse cx="615.2" cy="968.7" rx="48.3" ry="5.9"/><ellipse cx="581.4" cy="980.2" rx="51.4" ry="5.9"/><ellipse cx="898.9" cy="986.1" rx="33.5" ry="5.7"/><ellipse cx="933" cy="989.8" rx="89.8" ry="6.3"/><ellipse cx="647.8" cy="997.3" rx="45.7" ry="5.8"/><ellipse cx="610.7" cy="999.5" rx="30.2" ry="5.7"/><ellipse cx="588.8" cy="1008" rx="92.4" ry="6.4"/><ellipse cx="899.6" cy="1017.3" rx="28.6" ry="5.7"/><ellipse cx="936.7" cy="1017.7" rx="27.8" ry="5.6"/><ellipse cx="630.4" cy="1029.2" rx="44" ry="5.8"/><ellipse cx="598.8" cy="1036.6" rx="104.6" ry="6.5"/><ellipse cx="877.3" cy="1038.5" rx="36.9" ry="5.7"/><ellipse cx="944.9" cy="1045.2" rx="56.1" ry="6"/><ellipse cx="914.5" cy="1047.8" rx="38.8" ry="5.8"/><ellipse cx="617.4" cy="1058.5" rx="30.7" ry="5.7"/><ellipse cx="652.7" cy="1064.8" rx="29" ry="5.7"/><ellipse cx="686.1" cy="1067.4" rx="53.7" ry="5.9"/><ellipse cx="887.7" cy="1067.4" rx="135.5" ry="6.9"/><ellipse cx="855.4" cy="1072.6" rx="92" ry="6.4"/><ellipse cx="936.7" cy="1073" rx="21" ry="5.6"/><ellipse cx="628.5" cy="1084.5" rx="24.8" ry="5.6"/><ellipse cx="722.5" cy="1087.9" rx="42.3" ry="5.8"/><ellipse cx="830.9" cy="1090.8" rx="30.7" ry="5.7"/><ellipse cx="906.3" cy="1087.5" rx="23.6" ry="5.6"/><ellipse cx="651.6" cy="1098.3" rx="26.7" ry="5.6"/><ellipse cx="690.5" cy="1098.3" rx="29.8" ry="5.7"/><ellipse cx="762.6" cy="1099.4" rx="31.4" ry="5.7"/><ellipse cx="800.1" cy="1098.6" rx="39.2" ry="5.8"/><ellipse cx="876.6" cy="1101.2" rx="98.9" ry="6.5"/><ellipse cx="928.6" cy="1103.8" rx="21.4" ry="5.6"/><ellipse cx="725.8" cy="1117.6" rx="27.8" ry="5.6"/><ellipse cx="669.4" cy="1121.7" rx="65.5" ry="6.1"/><ellipse cx="854.3" cy="1119.1" rx="26.9" ry="5.6"/><ellipse cx="905.2" cy="1122" rx="30.5" ry="5.7"/><ellipse cx="758.9" cy="1128" rx="52.3" ry="5.9"/><ellipse cx="823.5" cy="1123.5" rx="38.1" ry="5.8"/><ellipse cx="791.9" cy="1130.6" rx="27.1" ry="5.6"/><ellipse cx="695.4" cy="1133.5" rx="25.2" ry="5.6"/><ellipse cx="884" cy="1137.2" rx="28.6" ry="5.7"/><ellipse cx="722.1" cy="1148.4" rx="55.9" ry="6"/><ellipse cx="750" cy="1156.6" rx="28.6" ry="5.7"/><ellipse cx="860.6" cy="1152.1" rx="41.4" ry="5.8"/><ellipse cx="833.5" cy="1153.2" rx="28.3" ry="5.7"/><ellipse cx="778.9" cy="1160.3" rx="17.6" ry="5.5"/><ellipse cx="808.3" cy="1161.4" rx="47.8" ry="5.9"/></g>
<g font-size="8.06" text-anchor="middle" stroke-width="0.3">
<g fill="#7b98a8" stroke="#7b98a8">
<text x="768.7" y="439.2">D-erythro-sphingosine 1-phosphate</text>
<text x="765.3" y="473.6">Xylitol</text>
<text x="825.2" y="470.2">Fingolimod</text>
<text x="706.8" y="498.1">Muramic acid</text>
<text x="686.4" y="518.5">6,7-dimethylesculetin</text>
<text x="669.3" y="542.4">Gigasterone</text>
<text x="984.2" y="734">Octadecanoic acid</text>
<text x="979.1" y="712.5">L-dihydroorotic acid</text>
<text x="749.3" y="781.6">N-epsilon-methyl-l-lysine</text>
<text x="819.8" y="779.9">Bisphenol b</text>
<text x="1142.3" y="411.7">DL-arginine</text>
<text x="966.4" y="455.3">Betaine</text>
<text x="1214.8" y="491.7">Phosphocreatine</text>
<text x="1260.8" y="545.4">Aminophenazone</text>
<text x="1117.8" y="669.3">Acetylcarnitine</text>
<text x="1230.9" y="714.1">Lysophosphatidylcholine (or MP)</text>
<text x="1253.7" y="740.6">4,4'-thiodiphenol</text>
<text x="1274.4" y="770.4">Sulfadiazine</text>
<text x="1293" y="836.5">Glycerophosphocholine</text>
<text x="966.2" y="913.1">Myristic acid</text>
<text x="1288.9" y="940.4">2-methylquinolin-4-ol</text>
<text x="1186.7" y="989.6">Troxerutin</text>
<text x="1197.9" y="1021.9">Oleic acid</text>
<text x="1115.1" y="1038.4">3-hydroxybutyric acid</text>
<text x="1175.1" y="1037.2">Isoferulic acid</text>
<text x="682.4" y="833.4">Chenodeoxycholic acid</text>
<text x="773.4" y="847.5">Amiloride</text>
<text x="832.8" y="856.4">Val-Asp-Arg</text>
<text x="613.7" y="906.9">Benzo(b)fluoranthene</text>
<text x="615.5" y="936.2">5(s),14(r)-lipoxin b4</text>
<text x="647.8" y="997.9">6-benzylaminopurine</text>
<text x="800.1" y="1099.2">N-acetyl-l-alanine</text>
<text x="758.9" y="1128.6">.gamma.-muricholic acid</text>
<text x="791.9" y="1131.2">Solasodine</text>
</g>
<g fill="#1c1c1c" stroke="#1c1c1c">
<text x="808.2" y="437.9">1,2-ditetradecanoyl-sn-glycero-3-phospho-(1'-sn-glycerol)</text>
<text x="746.6" y="447">Propionic acid</text>
<text x="839.5" y="444.7">Resorcinol</text>
<text x="719.4" y="457.3">Quinoline-2,8-diol</text>
<text x="868.5" y="460">D-glucosaminic acid</text>
<text x="794.6" y="466.1">2,6-dihydroxybenzoic acid</text>
<text x="693.2" y="472.2">Sotalol</text>
<text x="735.7" y="484.5">3-amino-2,5-dichlorobenzoic acid</text>
<text x="856.5" y="485.2">Anserine</text>
<text x="885.5" y="488.9">Costunolide</text>
<text x="668.7" y="492.7">5-nitro-2-(3-phenylpropylamino)benzoic acid</text>
<text x="799.4" y="497.8">9,10-dihydroxy-12z-octadecenoic acid</text>
<text x="762.9" y="505.3">Heptanoic acid</text>
<text x="833.4" y="504.2">Pectolinarigenin</text>
<text x="648.9" y="514.4">N-.alpha.-acetyl-l-ornithine</text>
<text x="728.9" y="522.3">4-pyridoxic acid</text>
<text x="870.8" y="517.8">7-dehydrocholesterol</text>
<text x="911" y="513.4">Tetradecanedioic acid</text>
<text x="631.2" y="541.7">11beta-hydroxyprogesterone</text>
<text x="703.4" y="546.8">1,4-dihydroxy-2-naphthoic acid</text>
<text x="875.3" y="542.4">4-aminovaleric acid</text>
<text x="931.4" y="541">Corticosterone</text>
<text x="614.9" y="568.6">4-hydroxyphenylacetic acid</text>
<text x="654" y="567.5">21-Hydroxypregnenolone</text>
<text x="687" y="577.1">Trans-traumatic acid</text>
<text x="944.4" y="568.9">Hexacosanoic acid</text>
<text x="915.1" y="577.1">Harmane</text>
<text x="633.6" y="591">Hippuric acid</text>
<text x="664.2" y="600.6">Nicotinate</text>
<text x="607.4" y="605.3">L-pipecolic acid</text>
<text x="936.5" y="604.6">Cis-4,7,10,13,16,19-docosahexaenoic acid</text>
<text x="638" y="623">Conessine</text>
<text x="678.5" y="627.4">2-ethoxyethanol</text>
<text x="933.8" y="633.6">6-methoxybenzoxazolin-2(3h)-one</text>
<text x="608.1" y="637">Cholecalciferol</text>
<text x="635.3" y="654.3">Anabasine</text>
<text x="668" y="654.7">Arcaine</text>
<text x="613.2" y="668.6">Valproic acid</text>
<text x="913.7" y="667.9">1,5-diaminonaphthalene</text>
<text x="658.4" y="684.3">Ricinoleic acid</text>
<text x="691.5" y="681.2">Glabridin</text>
<text x="628.5" y="694.2">L-deprenyl</text>
<text x="650.6" y="714.2">4-hydroxybenzaldehyde</text>
<text x="706.8" y="713.6">Gramine</text>
<text x="679.6" y="720.4">Androstenedione</text>
<text x="736.4" y="725.1">Phenol</text>
<text x="906.9" y="736.7">Dl-lactate</text>
<text x="947.4" y="749.3">Digalacturonic acid</text>
<text x="971.6" y="758.5">L-leucyl-l-proline</text>
<text x="945" y="774.8">1-(3,4-dichlorophenyl)-3,3-dimethylurea</text>
<text x="958" y="724.8">Shikimate</text>
<text x="972.3" y="703">Meperidine</text>
<text x="786.1" y="776.2">Fa 9:1+1o</text>
<text x="719.4" y="784">O-phenylphenol</text>
<text x="769.7" y="795.2">Ethylbeta-carboline</text>
<text x="841.2" y="793.5">Perillic acid</text>
<text x="803.8" y="798.6">Nalorphine</text>
<text x="1004.8" y="377.3">.alpha.-d-galactose 1-phosphate</text>
<text x="1036.1" y="369.8">Uridine</text>
<text x="1065.1" y="365.4">Irgarol</text>
<text x="1099.1" y="367.1">Phosphoserine</text>
<text x="1132.1" y="375.6">Kojic acid</text>
<text x="1163.8" y="389.6">Marticin</text>
<text x="979" y="396.4">Tryptophan betaine</text>
<text x="1023.6" y="401.5">Mefenoxam</text>
<text x="1077" y="394.3">Glutathione</text>
<text x="1109.3" y="399.8">Phosphocholine</text>
<text x="1050.4" y="409">Cycloheximide</text>
<text x="1191.7" y="407.6">N-acetyl-d-glucosamine 6-phosphate</text>
<text x="963.6" y="424.3">Acetylcholine</text>
<text x="1002.1" y="420.2">Diflufenzopyr</text>
<text x="1172.3" y="432.8">Methapyrilene</text>
<text x="1214.8" y="431.1">1h-1,2,4-triazol-3-amine</text>
<text x="997.7" y="449.1">N-acetyl-.beta.-d-mannosamine</text>
<text x="1201.2" y="460.4">N-acetylneuraminic acid</text>
<text x="1235.3" y="457">O-phosphotyrosine</text>
<text x="1247.9" y="484.2">.alpha.,.alpha.'-trehalose 6-phosphate</text>
<text x="1261.5" y="513.1">Taurine</text>
<text x="1232.5" y="519.2">6'-sialyllactose</text>
<text x="1214.8" y="542">N-Acetylglucosamine 1-phosphate</text>
<text x="1231.9" y="566.9">Pantothenate</text>
<text x="1259.1" y="577.4">2-amino-1-phenylethanol</text>
<text x="1202.9" y="584.6">Oxaziclomefone</text>
<text x="1235.6" y="602.3">Adenine</text>
<text x="1172.3" y="619.6">Orcinol</text>
<text x="1206.3" y="616.2">Ecgonine</text>
<text x="971.5" y="584.2">Creatinine</text>
<text x="975.6" y="489.3">N-(octadecanoyl)sphing-4-enine-1-phosphocholine</text>
<text x="1007.2" y="653.3">Ropinirole</text>
<text x="1025.9" y="664.2">Stachydrine</text>
<text x="1151.2" y="666.6">Dl-2-aminocaprylic acid</text>
<text x="1093.3" y="674.4">Trans-4-(aminomethyl)cyclohexanecarboxylic acid</text>
<text x="994.6" y="689.1">2,3-dihydroxybenzoic acid</text>
<text x="1185.4" y="699.2">1-stearoyl-2-oleoyl-sn-glycero-3-phosphoethanolamine</text>
<text x="1219.4" y="703.8">Erucamide</text>
<text x="1252.5" y="711.6">(9s,10r,13r,14s,17r)-17-((r)-5-hydroxypentan-2-yl)-10,13-dimethyl-1,2,6,7,8,9,10,11,12,13,14,15,16,17-tetradecahydro-3h-cyclopenta[a]phenanthren-3-one</text>
<text x="1088.2" y="717.8">1-pentadecanoyl-sn-glycero-3-phosphocholine</text>
<text x="1190.4" y="729">Isogentisin</text>
<text x="1281.8" y="733.1">1-methylhistidine</text>
<text x="1220.6" y="737.3">1,2-dioleoyl-sn-glycero-3-phosphoethanolamine-n,n-dimethyl</text>
<text x="1067.5" y="737.7">Azelaic acid</text>
<text x="1300" y="759.6">Arachidonic acid (peroxide free)</text>
<text x="1235.9" y="767.5">Trimethylamine n-oxide</text>
<text x="1311.6" y="787.3">1-arachidoyl-2-hydroxy-sn-glycero-3-phosphocholine</text>
<text x="1254.9" y="798.5">1-methyl-l-histidine</text>
<text x="1286.8" y="803.5">Phosphatidylcholine lyso 18:0</text>
<text x="1319.1" y="819.6">1-(((2-aminoethoxy)(hydroxy)phosphoryl)oxy)-3-(hexadecyloxy)propan-2-yl-icosa-5.8.11.14-tetraenoate</text>
<text x="1263.2" y="834.9">1,2-dihexadecanoyl-sn-glycero-3-phosphocholine</text>
<text x="1015" y="819.6">5.alpha.-cholest-7-en-3.beta.-ol</text>
<text x="1015" y="859.7">3-[(4-chlorobenzoyl)amino]propanoic acid</text>
<text x="1319.1" y="854.3">Indoxyl sulfate</text>
<text x="1288.9" y="868.4">2-arahpa [dmed-fahfa]</text>
<text x="1258.7" y="872.5">Doxorubicin</text>
<text x="1312.9" y="886.6">Phosphatidylethanolamine</text>
<text x="955.8" y="884.9">Lactose</text>
<text x="1276.5" y="902.3">Pyrocatechol</text>
<text x="1243.4" y="907.7">2-ketohexanoic acid</text>
<text x="1303.3" y="915.1">Phenaceturic acid</text>
<text x="1031.6" y="905.2">1-(1z-hexadecenyl)-sn-glycero-3-phosphocholine</text>
<text x="1259.1" y="935">4-hydroxy-4'-chlorobiphenyl</text>
<text x="1224.7" y="940.4">Estrone</text>
<text x="1048.9" y="935.8">Isocitric acid</text>
<text x="977.4" y="943.3">Hydrocinnamic acid</text>
<text x="1197.9" y="955.3">1-heptadecanoyl-sn-glycero-3-phosphocholine</text>
<text x="1087" y="957.8">Palmitic acid</text>
<text x="1049.8" y="965.2">Glycine</text>
<text x="1131.7" y="968.9">Vinblastine</text>
<text x="1164.8" y="968.9">4-chlorobenzoic acid</text>
<text x="1246.7" y="965.6">Lpc 18:2</text>
<text x="1278.5" y="968.1">1,2-dioleoyl-sn-glycero-3-phosphoethanolamine</text>
<text x="1220.6" y="981.3">Trans-ferulic acid</text>
<text x="1098.6" y="985.5">1,2-dipalmitoyl-sn-glycero-3-phosphoethanolamine-n,n-dimethyl</text>
<text x="1249.6" y="996.2">2',6'-dihydroxy-4',4-dimethoxychalcone</text>
<text x="1132.9" y="1002">Asn-Arg</text>
<text x="1177.2" y="1002.8">Ketoisovaleric acid</text>
<text x="1074.6" y="1012.8">Pi 38:3</text>
<text x="1222.7" y="1014.8">Stearoylcarnitine</text>
<text x="1102.7" y="1018.6">1-myristoyl-2-palmitoyl-sn-glycero-3-phosphocholine</text>
<text x="1147" y="1031.8">1-oleoyl-2-myristoyl-sn-glycero-3-phosphocholine</text>
<text x="1039.4" y="774.5">Daunorubicin</text>
<text x="713.9" y="836.3">1-palmitoyl-2-hydroxy-sn-glycero-3-phosphoethanolamine</text>
<text x="652.7" y="837.1">Saccharin</text>
<text x="623.7" y="847.5">Emetine</text>
<text x="802.3" y="851.9">5.alpha.-androstan-3.alpha.,17.beta.-diol-o-3-.beta.-glucuronic acid</text>
<text x="732.5" y="852.3">N-acetyl-l-phenylalanine</text>
<text x="862.5" y="853">Pyruvate</text>
<text x="668.3" y="864.9">Chloramphenicol</text>
<text x="602.9" y="873.1">Estra-1,3,5(10),7-tetraene-3,17.beta.-diol</text>
<text x="634.1" y="872.7">Grayanotoxin</text>
<text x="701.7" y="870.1">Oxyresveratrol</text>
<text x="890.3" y="878.7">Piperlongumine</text>
<text x="852.4" y="883.5">Pro-Thr</text>
<text x="587.7" y="898.7">(10e,15z)-9,12,13-trihydroxyoctadeca-10,15-dienoic acid</text>
<text x="642.3" y="899.1">Maltose</text>
<text x="673.1" y="896.9">Glycocholic acid</text>
<text x="879.9" y="910.6">Jervine</text>
<text x="908.9" y="919.1">15(r),19(r)-hydroxyprostaglandin f1.alpha.</text>
<text x="581" y="928.4">Cholic acid</text>
<text x="650.1" y="929.9">Humulone</text>
<text x="894" y="949.6">3-hydroxymyristic acid</text>
<text x="922.6" y="959.2">Ursodeoxycholic acid</text>
<text x="585.8" y="954.4">Ketoleucine</text>
<text x="646.4" y="962.2">.alpha.-ergocryptine</text>
<text x="615.2" y="969.3">Glycodeoxycholic acid</text>
<text x="581.4" y="980.8">L-2-hydroxyglutaric acid</text>
<text x="898.9" y="986.7">Larixyl acetate</text>
<text x="933" y="990.4">2-naphthalenol, 1-[(2,4-dimethylphenyl)azo]-</text>
<text x="610.7" y="1000.1">Carisoprodol</text>
<text x="588.8" y="1008.6">8-bromoadenosine-cyclic-monothiophosphate</text>
<text x="899.6" y="1017.9">Dethiobiotin</text>
<text x="936.7" y="1018.3">Falcarindiol</text>
<text x="630.4" y="1029.8">Qingyangshengenin</text>
<text x="598.8" y="1037.2">(9z,12e)-15,16-dihydroxyoctadeca-9,12-dienoic acid</text>
<text x="877.3" y="1039.1">Porphobilinogen</text>
<text x="944.9" y="1045.8">Glucosamine-6-phosphate</text>
<text x="914.5" y="1048.4">Noroxymorphone</text>
<text x="617.4" y="1059.1">Adonixanthin</text>
<text x="652.7" y="1065.4">Dobutamine</text>
<text x="686.1" y="1068">Glycochenodeoxycholate</text>
<text x="887.7" y="1068">1-stearoyl-2-docosahexaenoyl-sn-glycero-3-phospho-(1'-sn-glycerol)</text>
<text x="855.4" y="1073.2">15-cyclohexylpentanorprostaglandin f2.alpha.</text>
<text x="936.7" y="1073.6">Leucine</text>
<text x="628.5" y="1085.1">Alfentanyl</text>
<text x="722.5" y="1088.5">6-hydroxycoumarin</text>
<text x="830.9" y="1091.4">Cinchonidine</text>
<text x="906.3" y="1088.1">Podofilox</text>
<text x="651.6" y="1098.9">Isomaltose</text>
<text x="690.5" y="1098.9">Pentamidine</text>
<text x="762.6" y="1100">Phytanic acid</text>
<text x="876.6" y="1101.8">3.alpha.,7.alpha.-dihydroxy-12-oxocholanoic acid</text>
<text x="928.6" y="1104.4">Cytidine</text>
<text x="725.8" y="1118.2">Anisomycin</text>
<text x="669.4" y="1122.3">1,11-undecanedicarboxylic acid</text>
<text x="854.3" y="1119.7">Flindersine</text>
<text x="905.2" y="1122.6">Azaconazole</text>
<text x="823.5" y="1124.1">Deoxycholic acid</text>
<text x="695.4" y="1134.1">Isoleucine</text>
<text x="884" y="1137.8">Mitomycin c</text>
<text x="722.1" y="1149">4-(1-piperazinyl)-1h-indole</text>
<text x="750" y="1157.2">Aloeemodin</text>
<text x="860.6" y="1152.7">1-palmitoylglycerol</text>
<text x="833.5" y="1153.8">Bisphenol a</text>
<text x="778.9" y="1160.9">Indole</text>
<text x="808.3" y="1162">Diisopropylethylamine</text>
</g>
</g>
<text x="1093" y="526" font-size="13.7" text-anchor="middle" fill="#1a1a1a" stroke="#1a1a1a" stroke-width="0.3">Milk</text>
<text x="803" y="624.8" font-size="13.1" text-anchor="middle" fill="#1a1a1a" stroke="#1a1a1a" stroke-width="0.3">Rumen fluid</text>
<text x="771.5" y="975.3" font-size="13.6" text-anchor="middle" fill="#1a1a1a" stroke="#1a1a1a" stroke-width="0.3">feces</text>
<text x="1136.4" y="842.6" font-size="13.8" text-anchor="middle" fill="#1a1a1a" stroke="#1a1a1a" stroke-width="0.3">serum</text>
</g>
<text x="22.3" y="51" font-size="33" font-weight="bold" fill="#111">A</text>
<text x="22" y="447.3" font-size="32.5" font-weight="bold" fill="#111">B</text>
<text x="538.5" y="444" font-size="32" font-weight="bold" fill="#111">C</text>
</svg></body></html>
